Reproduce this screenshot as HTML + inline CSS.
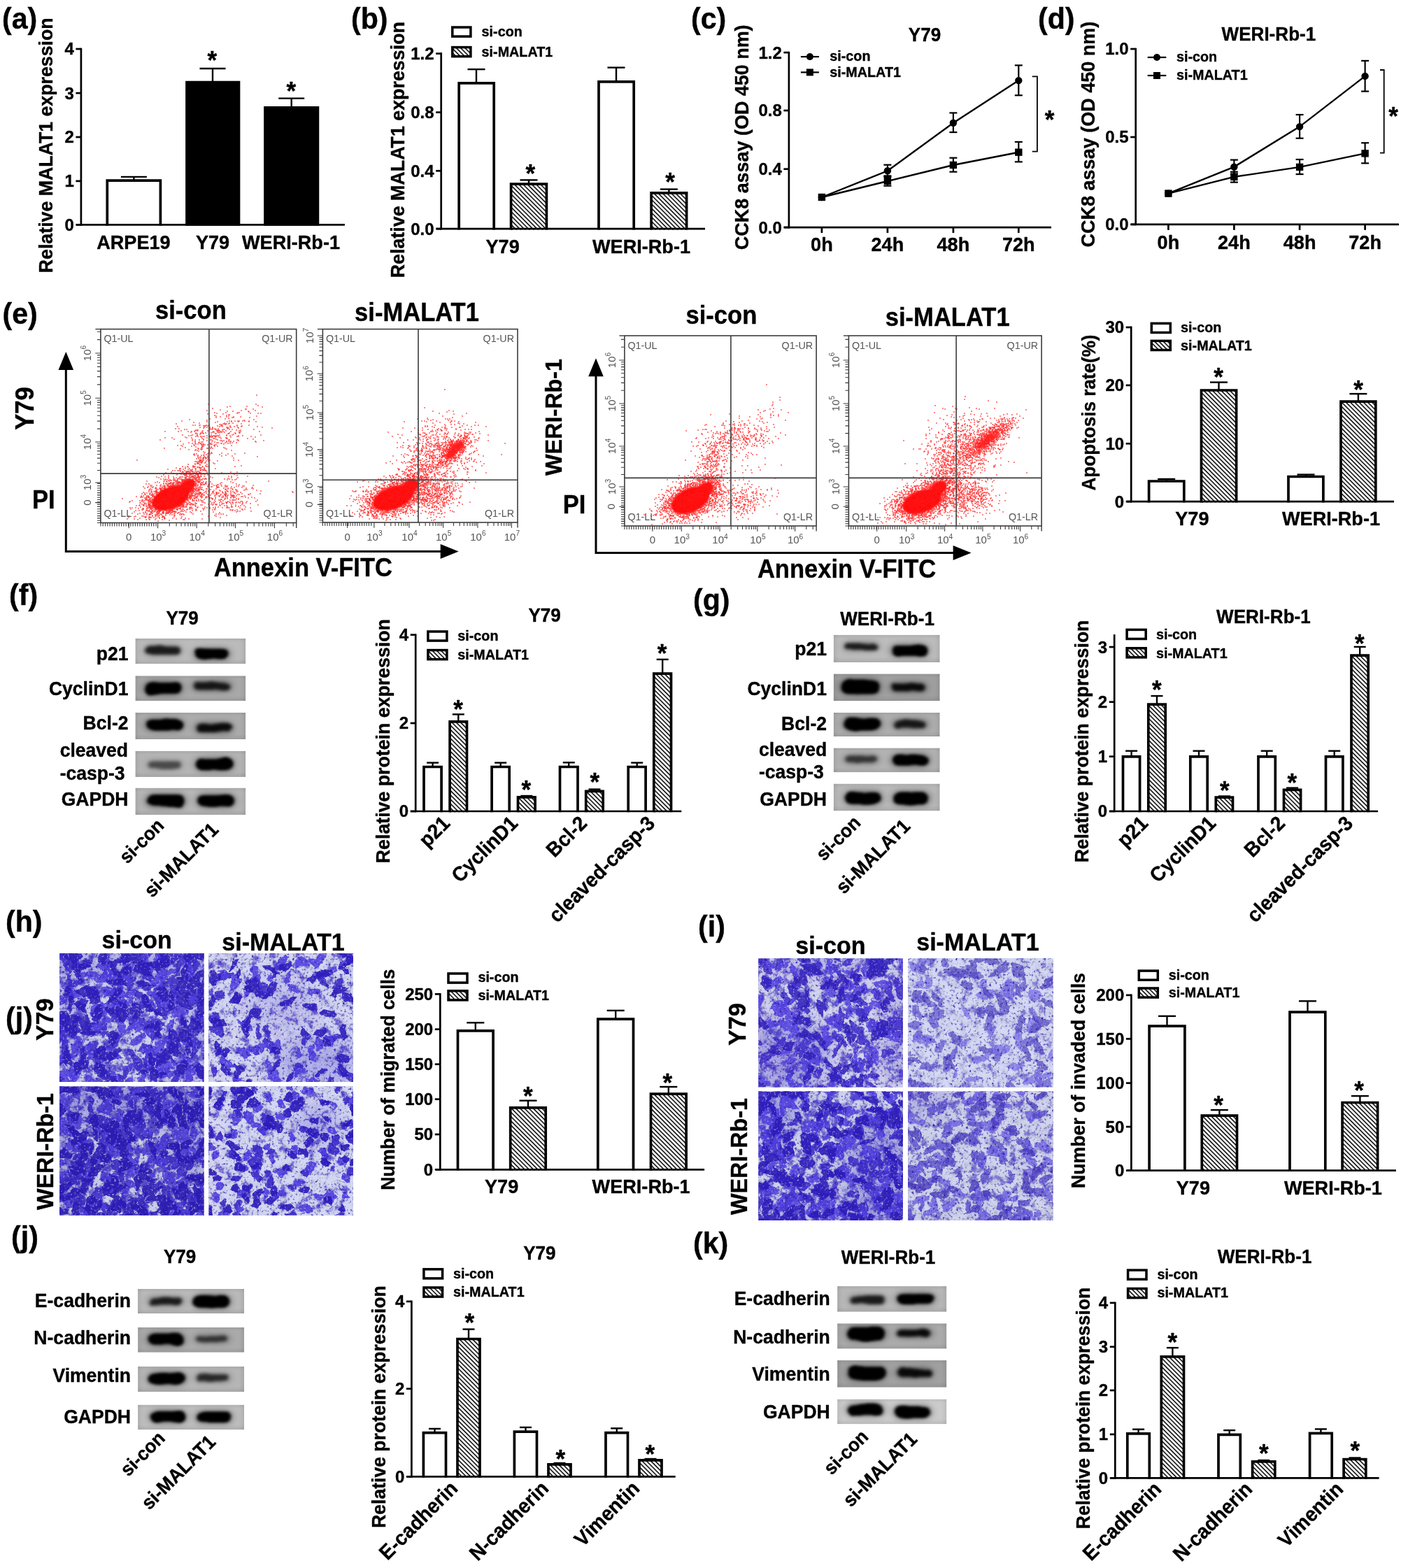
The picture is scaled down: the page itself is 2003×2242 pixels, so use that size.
<!DOCTYPE html>
<html lang="en"><head><meta charset="utf-8"><title>Figure</title>
<style>
html,body{margin:0;padding:0;background:#fff}
body{width:2003px;height:2242px;overflow:hidden}
svg{display:block}
text{font-family:"Liberation Sans",sans-serif;fill:#000}
.b{font-weight:bold;stroke:#000;stroke-width:.4px;stroke-linejoin:round}
.g{font-weight:normal;fill:#555}
</style></head><body>
<svg width="2003" height="2242" viewBox="0 0 2003 2242">
<defs>
<pattern id="hat" width="4.4" height="4.4" patternUnits="userSpaceOnUse" patternTransform="rotate(45)"><rect width="4.4" height="4.4" fill="#fff"/><rect x="0" y="0" width="4.4" height="1.5" fill="#000"/></pattern>
<pattern id="hatl" width="4.4" height="4.4" patternUnits="userSpaceOnUse" patternTransform="rotate(45)"><rect width="4.4" height="4.4" fill="#fff"/><rect x="0" y="0" width="4.4" height="1.5" fill="#000"/></pattern>
<filter id="wb" x="-30%" y="-80%" width="160%" height="260%"><feTurbulence type="fractalNoise" baseFrequency="0.035" numOctaves="2" seed="4" result="n"/><feDisplacementMap in="SourceGraphic" in2="n" scale="7" xChannelSelector="R" yChannelSelector="G"/><feGaussianBlur stdDeviation="2.6 2.1"/></filter><filter id="wb2" x="-40%" y="-120%" width="180%" height="340%"><feGaussianBlur stdDeviation="6 4.5"/></filter><filter id="wn" x="0" y="0" width="100%" height="100%" color-interpolation-filters="sRGB"><feTurbulence type="fractalNoise" baseFrequency="0.02 0.3" numOctaves="2" seed="8"/><feColorMatrix type="matrix" values="0 0 0 0 0  0 0 0 0 0  0 0 0 0 0  0.5 0 0 0 -0.17"/></filter><linearGradient id="wg" x1="0" x2="1" y1="0" y2="0"><stop offset="0" stop-color="#000" stop-opacity=".08"/><stop offset=".06" stop-color="#fff" stop-opacity=".03"/><stop offset=".5" stop-color="#fff" stop-opacity=".05"/><stop offset=".94" stop-color="#fff" stop-opacity=".03"/><stop offset="1" stop-color="#000" stop-opacity=".08"/></linearGradient><linearGradient id="wv" x1="0" x2="0" y1="0" y2="1"><stop offset="0" stop-color="#000" stop-opacity=".07"/><stop offset=".15" stop-color="#000" stop-opacity="0"/><stop offset=".8" stop-color="#000" stop-opacity="0"/><stop offset="1" stop-color="#000" stop-opacity=".09"/></linearGradient>
<filter id="msh" x="-30%" y="-30%" width="160%" height="160%"><feGaussianBlur stdDeviation="14"/></filter>
<filter id="mb" x="-5%" y="-5%" width="110%" height="110%" color-interpolation-filters="sRGB"><feTurbulence type="fractalNoise" baseFrequency="0.09" numOctaves="2" seed="5" result="n"/><feDisplacementMap in="SourceGraphic" in2="n" scale="9" xChannelSelector="R" yChannelSelector="G" result="d"/><feGaussianBlur in="d" stdDeviation="0.7"/></filter>
<filter id="sp" x="0" y="0" width="100%" height="100%" color-interpolation-filters="sRGB"><feTurbulence type="fractalNoise" baseFrequency="0.3" numOctaves="2" seed="9"/><feColorMatrix type="matrix" values="0 0 0 0 0.80  0 0 0 0 0.83  0 0 0 0 0.90  3.2 0 0 0 -1.95"/><feGaussianBlur stdDeviation="0.5"/></filter>
<filter id="sd" x="0" y="0" width="100%" height="100%" color-interpolation-filters="sRGB"><feTurbulence type="fractalNoise" baseFrequency="0.27" numOctaves="2" seed="21"/><feColorMatrix type="matrix" values="0 0 0 0 0.16  0 0 0 0 0.10  0 0 0 0 0.62  0 3.4 0 0 -1.95"/><feGaussianBlur stdDeviation="0.5"/></filter>
<filter id="h1" x="0" y="0" width="100%" height="100%" color-interpolation-filters="sRGB"><feTurbulence type="fractalNoise" baseFrequency="0.075" numOctaves="3" seed="3"/><feColorMatrix type="matrix" values="1 0 0 0 0 1 0 0 0 0 1 0 0 0 0 0 0 0 0 1" result="a"/><feTurbulence type="fractalNoise" baseFrequency="0.3" numOctaves="2" seed="103"/><feColorMatrix type="matrix" values="1 0 0 0 0 1 0 0 0 0 1 0 0 0 0 0 0 0 0 1" result="b"/><feComposite in="a" in2="b" operator="arithmetic" k1="0" k2="1" k3="0.3" k4="-0.15"/><feComponentTransfer><feFuncR type="table" tableValues="0.342 0.342 0.342 0.342 0.342 0.342 0.342 0.342 0.342 0.342 0.374 0.41 0.446 0.481 0.534 0.61 0.685 0.761 0.776 0.785 0.794 0.802 0.811 0.819 0.824 0.824 0.824 0.824 0.824 0.824 0.824 0.824 0.824"/><feFuncG type="table" tableValues="0.288 0.288 0.288 0.288 0.288 0.288 0.288 0.288 0.288 0.288 0.325 0.366 0.408 0.449 0.51 0.597 0.684 0.772 0.788 0.797 0.805 0.814 0.822 0.831 0.835 0.835 0.835 0.835 0.835 0.835 0.835 0.835 0.835"/><feFuncB type="table" tableValues="0.805 0.805 0.805 0.805 0.805 0.805 0.805 0.805 0.805 0.805 0.811 0.818 0.825 0.831 0.841 0.856 0.87 0.885 0.894 0.903 0.911 0.92 0.928 0.937 0.941 0.941 0.941 0.941 0.941 0.941 0.941 0.941 0.941"/></feComponentTransfer></filter>
<filter id="h2" x="0" y="0" width="100%" height="100%" color-interpolation-filters="sRGB"><feTurbulence type="fractalNoise" baseFrequency="0.075" numOctaves="3" seed="7"/><feColorMatrix type="matrix" values="1 0 0 0 0 1 0 0 0 0 1 0 0 0 0 0 0 0 0 1" result="a"/><feTurbulence type="fractalNoise" baseFrequency="0.3" numOctaves="2" seed="107"/><feColorMatrix type="matrix" values="1 0 0 0 0 1 0 0 0 0 1 0 0 0 0 0 0 0 0 1" result="b"/><feComposite in="a" in2="b" operator="arithmetic" k1="0" k2="1" k3="0.3" k4="-0.15"/><feComponentTransfer><feFuncR type="table" tableValues="0.345 0.345 0.345 0.345 0.345 0.345 0.347 0.384 0.421 0.458 0.494 0.555 0.633 0.711 0.785 0.793 0.802 0.811 0.819 0.828 0.836 0.839 0.839 0.839 0.839 0.839 0.839 0.839 0.839 0.839 0.839 0.839 0.839"/><feFuncG type="table" tableValues="0.29 0.29 0.29 0.29 0.29 0.29 0.293 0.335 0.377 0.419 0.461 0.53 0.619 0.709 0.793 0.801 0.81 0.818 0.827 0.836 0.844 0.847 0.847 0.847 0.847 0.847 0.847 0.847 0.847 0.847 0.847 0.847 0.847"/><feFuncB type="table" tableValues="0.814 0.814 0.814 0.814 0.814 0.814 0.815 0.822 0.829 0.837 0.844 0.856 0.872 0.887 0.902 0.911 0.92 0.928 0.937 0.945 0.954 0.957 0.957 0.957 0.957 0.957 0.957 0.957 0.957 0.957 0.957 0.957 0.957"/></feComponentTransfer></filter>
<filter id="h3" x="0" y="0" width="100%" height="100%" color-interpolation-filters="sRGB"><feTurbulence type="fractalNoise" baseFrequency="0.075" numOctaves="3" seed="11"/><feColorMatrix type="matrix" values="1 0 0 0 0 1 0 0 0 0 1 0 0 0 0 0 0 0 0 1" result="a"/><feTurbulence type="fractalNoise" baseFrequency="0.3" numOctaves="2" seed="111"/><feColorMatrix type="matrix" values="1 0 0 0 0 1 0 0 0 0 1 0 0 0 0 0 0 0 0 1" result="b"/><feComposite in="a" in2="b" operator="arithmetic" k1="0" k2="1" k3="0.3" k4="-0.15"/><feComponentTransfer><feFuncR type="table" tableValues="0.326 0.326 0.326 0.326 0.326 0.326 0.326 0.326 0.326 0.326 0.341 0.376 0.412 0.448 0.483 0.556 0.632 0.707 0.756 0.765 0.774 0.782 0.791 0.799 0.808 0.808 0.808 0.808 0.808 0.808 0.808 0.808 0.808"/><feFuncG type="table" tableValues="0.278 0.278 0.278 0.278 0.278 0.278 0.278 0.278 0.278 0.278 0.295 0.335 0.376 0.417 0.458 0.54 0.627 0.713 0.768 0.777 0.785 0.794 0.802 0.811 0.82 0.82 0.82 0.82 0.82 0.82 0.82 0.82 0.82"/><feFuncB type="table" tableValues="0.776 0.776 0.776 0.776 0.776 0.776 0.776 0.776 0.776 0.776 0.78 0.788 0.795 0.803 0.811 0.827 0.844 0.861 0.874 0.883 0.891 0.9 0.908 0.917 0.925 0.925 0.925 0.925 0.925 0.925 0.925 0.925 0.925"/></feComponentTransfer></filter>
<filter id="h4" x="0" y="0" width="100%" height="100%" color-interpolation-filters="sRGB"><feTurbulence type="fractalNoise" baseFrequency="0.075" numOctaves="3" seed="17"/><feColorMatrix type="matrix" values="1 0 0 0 0 1 0 0 0 0 1 0 0 0 0 0 0 0 0 1" result="a"/><feTurbulence type="fractalNoise" baseFrequency="0.3" numOctaves="2" seed="117"/><feColorMatrix type="matrix" values="1 0 0 0 0 1 0 0 0 0 1 0 0 0 0 0 0 0 0 1" result="b"/><feComposite in="a" in2="b" operator="arithmetic" k1="0" k2="1" k3="0.3" k4="-0.15"/><feComponentTransfer><feFuncR type="table" tableValues="0.339 0.339 0.339 0.339 0.339 0.339 0.359 0.396 0.434 0.471 0.511 0.59 0.669 0.748 0.789 0.798 0.806 0.815 0.823 0.832 0.839 0.839 0.839 0.839 0.839 0.839 0.839 0.839 0.839 0.839 0.839 0.839 0.839"/><feFuncG type="table" tableValues="0.284 0.284 0.284 0.284 0.284 0.284 0.307 0.35 0.392 0.435 0.48 0.571 0.661 0.751 0.797 0.805 0.814 0.823 0.831 0.84 0.847 0.847 0.847 0.847 0.847 0.847 0.847 0.847 0.847 0.847 0.847 0.847 0.847"/><feFuncB type="table" tableValues="0.814 0.814 0.814 0.814 0.814 0.814 0.818 0.825 0.833 0.84 0.848 0.864 0.879 0.895 0.907 0.915 0.924 0.932 0.941 0.95 0.957 0.957 0.957 0.957 0.957 0.957 0.957 0.957 0.957 0.957 0.957 0.957 0.957"/></feComponentTransfer></filter>
<filter id="i1" x="0" y="0" width="100%" height="100%" color-interpolation-filters="sRGB"><feTurbulence type="fractalNoise" baseFrequency="0.075" numOctaves="3" seed="23"/><feColorMatrix type="matrix" values="1 0 0 0 0 1 0 0 0 0 1 0 0 0 0 0 0 0 0 1" result="a"/><feTurbulence type="fractalNoise" baseFrequency="0.3" numOctaves="2" seed="123"/><feColorMatrix type="matrix" values="1 0 0 0 0 1 0 0 0 0 1 0 0 0 0 0 0 0 0 1" result="b"/><feComposite in="a" in2="b" operator="arithmetic" k1="0" k2="1" k3="0.3" k4="-0.15"/><feComponentTransfer><feFuncR type="table" tableValues="0.358 0.358 0.358 0.358 0.358 0.358 0.358 0.358 0.358 0.38 0.416 0.451 0.487 0.528 0.604 0.68 0.756 0.79 0.798 0.807 0.815 0.824 0.833 0.839 0.839 0.839 0.839 0.839 0.839 0.839 0.839 0.839 0.839"/><feFuncG type="table" tableValues="0.303 0.303 0.303 0.303 0.303 0.303 0.303 0.303 0.303 0.328 0.369 0.41 0.451 0.499 0.586 0.672 0.759 0.797 0.806 0.815 0.823 0.832 0.84 0.847 0.847 0.847 0.847 0.847 0.847 0.847 0.847 0.847 0.847"/><feFuncB type="table" tableValues="0.813 0.813 0.813 0.813 0.813 0.813 0.813 0.813 0.813 0.817 0.824 0.83 0.837 0.845 0.86 0.874 0.889 0.899 0.908 0.917 0.925 0.934 0.942 0.949 0.949 0.949 0.949 0.949 0.949 0.949 0.949 0.949 0.949"/></feComponentTransfer></filter>
<filter id="i2" x="0" y="0" width="100%" height="100%" color-interpolation-filters="sRGB"><feTurbulence type="fractalNoise" baseFrequency="0.075" numOctaves="3" seed="29"/><feColorMatrix type="matrix" values="1 0 0 0 0 1 0 0 0 0 1 0 0 0 0 0 0 0 0 1" result="a"/><feTurbulence type="fractalNoise" baseFrequency="0.3" numOctaves="2" seed="129"/><feColorMatrix type="matrix" values="1 0 0 0 0 1 0 0 0 0 1 0 0 0 0 0 0 0 0 1" result="b"/><feComposite in="a" in2="b" operator="arithmetic" k1="0" k2="1" k3="0.3" k4="-0.15"/><feComponentTransfer><feFuncR type="table" tableValues="0.471 0.471 0.471 0.471 0.471 0.471 0.49 0.516 0.542 0.568 0.602 0.657 0.713 0.769 0.791 0.799 0.808 0.816 0.825 0.833 0.839 0.839 0.839 0.839 0.839 0.839 0.839 0.839 0.839 0.839 0.839 0.839 0.839"/><feFuncG type="table" tableValues="0.435 0.435 0.435 0.435 0.435 0.435 0.457 0.487 0.517 0.548 0.586 0.65 0.714 0.778 0.802 0.811 0.819 0.828 0.837 0.845 0.851 0.851 0.851 0.851 0.851 0.851 0.851 0.851 0.851 0.851 0.851 0.851 0.851"/><feFuncB type="table" tableValues="0.833 0.833 0.833 0.833 0.833 0.833 0.837 0.843 0.849 0.854 0.862 0.874 0.886 0.899 0.908 0.917 0.925 0.934 0.942 0.951 0.957 0.957 0.957 0.957 0.957 0.957 0.957 0.957 0.957 0.957 0.957 0.957 0.957"/></feComponentTransfer></filter>
<filter id="i3" x="0" y="0" width="100%" height="100%" color-interpolation-filters="sRGB"><feTurbulence type="fractalNoise" baseFrequency="0.075" numOctaves="3" seed="31"/><feColorMatrix type="matrix" values="1 0 0 0 0 1 0 0 0 0 1 0 0 0 0 0 0 0 0 1" result="a"/><feTurbulence type="fractalNoise" baseFrequency="0.3" numOctaves="2" seed="131"/><feColorMatrix type="matrix" values="1 0 0 0 0 1 0 0 0 0 1 0 0 0 0 0 0 0 0 1" result="b"/><feComposite in="a" in2="b" operator="arithmetic" k1="0" k2="1" k3="0.3" k4="-0.15"/><feComponentTransfer><feFuncR type="table" tableValues="0.342 0.342 0.342 0.342 0.342 0.342 0.342 0.342 0.342 0.342 0.378 0.414 0.449 0.485 0.542 0.617 0.693 0.769 0.777 0.786 0.794 0.803 0.812 0.82 0.824 0.824 0.824 0.824 0.824 0.824 0.824 0.824 0.824"/><feFuncG type="table" tableValues="0.288 0.288 0.288 0.288 0.288 0.288 0.288 0.288 0.288 0.288 0.329 0.37 0.412 0.453 0.518 0.606 0.693 0.78 0.789 0.798 0.806 0.815 0.823 0.832 0.835 0.835 0.835 0.835 0.835 0.835 0.835 0.835 0.835"/><feFuncB type="table" tableValues="0.805 0.805 0.805 0.805 0.805 0.805 0.805 0.805 0.805 0.805 0.812 0.818 0.825 0.832 0.843 0.857 0.872 0.886 0.895 0.903 0.912 0.921 0.929 0.938 0.941 0.941 0.941 0.941 0.941 0.941 0.941 0.941 0.941"/></feComponentTransfer></filter>
<filter id="i4" x="0" y="0" width="100%" height="100%" color-interpolation-filters="sRGB"><feTurbulence type="fractalNoise" baseFrequency="0.075" numOctaves="3" seed="37"/><feColorMatrix type="matrix" values="1 0 0 0 0 1 0 0 0 0 1 0 0 0 0 0 0 0 0 1" result="a"/><feTurbulence type="fractalNoise" baseFrequency="0.3" numOctaves="2" seed="137"/><feColorMatrix type="matrix" values="1 0 0 0 0 1 0 0 0 0 1 0 0 0 0 0 0 0 0 1" result="b"/><feComposite in="a" in2="b" operator="arithmetic" k1="0" k2="1" k3="0.3" k4="-0.15"/><feComponentTransfer><feFuncR type="table" tableValues="0.424 0.424 0.424 0.424 0.424 0.424 0.424 0.446 0.475 0.503 0.532 0.57 0.632 0.693 0.754 0.775 0.784 0.792 0.801 0.81 0.818 0.824 0.824 0.824 0.824 0.824 0.824 0.824 0.824 0.824 0.824 0.824 0.824"/><feFuncG type="table" tableValues="0.382 0.382 0.382 0.382 0.382 0.382 0.382 0.408 0.441 0.474 0.508 0.552 0.622 0.693 0.764 0.787 0.796 0.804 0.813 0.821 0.83 0.835 0.835 0.835 0.835 0.835 0.835 0.835 0.835 0.835 0.835 0.835 0.835"/><feFuncB type="table" tableValues="0.809 0.809 0.809 0.809 0.809 0.809 0.809 0.814 0.82 0.825 0.831 0.839 0.851 0.863 0.876 0.885 0.894 0.902 0.911 0.919 0.928 0.933 0.933 0.933 0.933 0.933 0.933 0.933 0.933 0.933 0.933 0.933 0.933"/></feComponentTransfer></filter>
<filter id="fb" x="-20%" y="-20%" width="140%" height="140%"><feGaussianBlur stdDeviation="1.3"/></filter></defs>
<rect width="2003" height="2242" fill="#fff"/>
<clipPath id="m1"><rect x="85.1" y="1363.2" width="206.4" height="183.8"/></clipPath>
<rect x="85.1" y="1363.2" width="206.4" height="183.8" fill="#8080d0" filter="url(#h1)"/>
<g clip-path="url(#m1)" filter="url(#msh)">
<ellipse cx="188.3" cy="1372.4" rx="123.8" ry="22.1" fill="rgb(60,42,200)" fill-opacity="0.25"/>
<ellipse cx="95.4" cy="1455.1" rx="20.6" ry="91.9" fill="rgb(60,42,200)" fill-opacity="0.2"/>
<ellipse cx="281.2" cy="1455.1" rx="20.6" ry="91.9" fill="rgb(60,42,200)" fill-opacity="0.2"/>
</g>
<g clip-path="url(#m1)"><g filter="url(#mb)">
<path d="M102 1415L98 1411L95 1403L95 1394L99 1392L103 1400L104 1412zM139 1511L137 1505L142 1496L148 1493L151 1496L151 1503L146 1509zM194 1442L197 1435L203 1430L209 1430L209 1436L200 1443zM86 1434L88 1427L101 1424L101 1428L91 1434zM226 1442L222 1435L222 1423L229 1417L232 1421L233 1436zM169 1440L164 1441L158 1432L158 1422L162 1421L168 1429L171 1436zM93 1483L84 1477L88 1461L97 1462L98 1478zM232 1459L233 1449L238 1437L244 1435L248 1438L238 1455zM78 1491L81 1485L92 1480L92 1483L84 1492zM203 1502L208 1493L219 1494L217 1502L204 1507zM95 1516L94 1506L103 1504L109 1510L102 1517zM152 1519L155 1514L160 1509L167 1507L173 1508L165 1515L157 1520zM301 1460L301 1464L285 1465L272 1460L273 1453L285 1451L300 1455zM164 1554L156 1555L146 1552L143 1547L145 1545L152 1545L159 1549zM126 1478L110 1478L95 1470L101 1469L113 1470zM238 1381L241 1373L261 1360L261 1366L248 1378zM92 1510L87 1502L89 1485L94 1481L99 1490L98 1501zM279 1531L272 1532L258 1524L258 1520L264 1516L276 1521zM234 1375L227 1374L222 1368L222 1362L230 1364L235 1370zM168 1462L159 1457L156 1446L161 1441L168 1446L171 1451zM275 1481L275 1474L279 1467L286 1462L288 1467L287 1476L280 1482zM202 1390L197 1381L200 1364L208 1363L212 1366L208 1388zM276 1396L273 1389L272 1383L276 1370L280 1374L283 1380L280 1391zM286 1380L275 1385L264 1379L258 1370L268 1367L282 1373zM157 1475L150 1477L144 1479L136 1476L135 1472L141 1471L154 1472zM272 1515L272 1506L276 1497L283 1499L281 1507zM227 1383L229 1374L238 1367L242 1371L237 1381zM259 1365L262 1360L270 1358L276 1358L271 1365L265 1367zM271 1393L266 1387L263 1382L261 1374L264 1371L271 1380L274 1388zM253 1502L250 1495L251 1487L253 1481L257 1483L257 1497zM215 1491L215 1484L226 1471L233 1472L226 1483zM171 1554L165 1555L161 1546L161 1541L169 1540L174 1544L175 1549zM224 1505L215 1506L198 1501L203 1490L215 1493zM132 1468L132 1456L143 1445L149 1448L137 1467zM207 1518L207 1509L210 1502L219 1506L216 1517zM93 1479L89 1475L90 1465L96 1461L100 1464L98 1477zM255 1427L248 1427L242 1409L245 1399L252 1403L258 1419zM146 1561L150 1551L168 1540L170 1546L161 1556zM154 1433L156 1427L166 1421L168 1427L164 1434zM280 1471L282 1465L290 1461L298 1460L297 1465L292 1469L283 1473zM204 1415L204 1412L215 1405L221 1405L223 1410L216 1416L209 1417zM253 1395L249 1389L254 1374L263 1368L257 1394zM244 1534L235 1539L223 1538L216 1536L217 1529L224 1527L240 1529zM78 1476L85 1469L101 1467L101 1471L90 1477zM128 1531L134 1524L148 1520L153 1521L147 1530L137 1531zM162 1494L161 1489L165 1479L169 1482L168 1491zM147 1426L159 1415L173 1410L179 1413L156 1425zM286 1422L276 1430L263 1426L264 1416L276 1415zM264 1402L253 1406L242 1404L244 1396L255 1397zM221 1447L224 1441L233 1439L243 1439L245 1443L235 1449L222 1451zM73 1523L79 1516L88 1509L101 1505L103 1507L92 1519L79 1525zM201 1530L195 1530L187 1513L184 1499L190 1501L198 1510L204 1525zM113 1483L105 1485L91 1484L85 1478L93 1474L107 1477zM217 1421L222 1412L233 1402L238 1405L228 1417zM220 1445L230 1440L247 1437L249 1441L228 1450zM107 1435L101 1432L92 1416L95 1410L103 1418L106 1424zM74 1485L78 1479L90 1473L96 1474L93 1482L83 1486zM282 1440L278 1434L285 1421L290 1422L292 1431L289 1437zM246 1554L245 1545L251 1532L258 1535L254 1551zM96 1375L89 1375L84 1371L77 1362L80 1360L89 1363L95 1369zM221 1533L213 1530L206 1525L201 1515L205 1512L215 1517L224 1528zM256 1374L258 1367L266 1361L273 1361L274 1366L268 1373L263 1376zM259 1368L253 1371L241 1367L236 1363L237 1359L248 1360L258 1363zM190 1415L184 1415L176 1405L173 1395L178 1393L186 1399L189 1406zM293 1428L287 1423L285 1416L286 1411L291 1413L296 1423zM107 1473L102 1466L107 1452L113 1451L113 1468zM153 1501L155 1493L160 1485L172 1479L176 1482L170 1492L163 1501zM167 1448L160 1453L152 1450L153 1443L163 1444zM237 1464L231 1469L214 1467L204 1462L209 1460L216 1457L226 1458zM139 1429L126 1427L121 1416L129 1410L141 1422zM232 1416L236 1404L252 1390L254 1393L246 1407zM277 1507L273 1506L275 1493L282 1489L288 1488L287 1498L284 1507zM116 1446L113 1438L118 1424L125 1429L123 1442zM139 1458L135 1446L142 1437L147 1438L147 1453zM278 1501L270 1495L269 1481L272 1477L278 1482L280 1490zM214 1405L205 1400L206 1382L210 1380L218 1396zM303 1566L292 1556L287 1539L290 1538L299 1548zM152 1406L146 1396L150 1383L155 1382L161 1389L158 1403zM144 1537L145 1530L151 1529L158 1530L161 1533L154 1539L147 1539zM121 1510L125 1495L137 1487L141 1492L134 1508zM182 1447L177 1445L173 1428L176 1427L182 1438zM96 1529L92 1523L89 1515L90 1507L95 1512L97 1520zM172 1557L166 1554L163 1540L171 1535L176 1541L179 1548zM131 1516L135 1508L149 1511L151 1515L138 1523zM250 1506L243 1505L237 1493L234 1481L242 1486L251 1496zM112 1378L103 1376L102 1370L107 1367L114 1374zM212 1468L206 1469L197 1465L196 1459L200 1453L206 1456L210 1461zM103 1391L112 1382L124 1374L128 1378L123 1386L114 1391zM203 1473L204 1467L208 1463L215 1461L218 1465L216 1468L207 1475zM177 1407L177 1398L188 1393L194 1400L184 1407zM145 1482L142 1475L145 1467L150 1457L153 1457L152 1470L150 1475zM221 1364L216 1367L203 1359L207 1354L215 1357zM174 1440L166 1440L156 1433L158 1428L163 1425L173 1433zM147 1420L150 1414L160 1413L164 1418L160 1425L153 1425zM213 1388L208 1385L208 1375L214 1376L216 1383zM278 1437L273 1435L273 1423L276 1419L281 1419L284 1425L283 1433zM166 1404L168 1395L182 1387L188 1391L178 1401zM215 1437L202 1431L188 1416L194 1414L208 1424zM202 1459L197 1465L187 1462L185 1456L194 1452zM172 1545L172 1539L178 1529L188 1521L190 1522L186 1533L179 1543zM101 1394L93 1388L89 1376L91 1367L99 1370L105 1383zM101 1414L101 1408L110 1400L117 1397L121 1399L114 1407L105 1413z" fill="rgb(60,42,200)" fill-opacity="0.88"/>
<path d="M149 1473L138 1474L128 1470L127 1462L141 1465zM176 1514L165 1515L155 1509L148 1498L157 1498L172 1507zM194 1476L192 1472L196 1459L202 1458L206 1463L203 1473zM272 1551L264 1547L263 1538L271 1538L276 1546zM173 1483L169 1467L172 1456L179 1459L179 1472zM146 1405L138 1406L129 1396L129 1390L135 1389L149 1398zM235 1518L227 1519L213 1506L211 1501L219 1500L232 1509zM98 1552L101 1539L113 1530L118 1532L111 1544zM179 1414L169 1411L160 1398L164 1398L173 1404zM176 1477L179 1470L186 1463L197 1463L195 1470L186 1475zM167 1399L156 1403L148 1398L149 1392L163 1391zM98 1421L101 1416L112 1417L115 1425L106 1428zM105 1516L102 1506L104 1491L111 1489L112 1503zM183 1405L179 1397L181 1384L188 1384L187 1399zM109 1398L119 1391L133 1389L138 1393L123 1398zM118 1490L113 1491L107 1489L102 1483L106 1480L110 1481L118 1486zM87 1559L80 1553L81 1540L87 1536L92 1555zM92 1535L95 1531L105 1528L110 1532L107 1538L98 1540zM161 1424L153 1424L147 1421L143 1412L154 1410L161 1414zM144 1558L137 1557L123 1545L118 1536L126 1536L141 1547zM126 1529L118 1524L113 1516L111 1504L120 1507L126 1518zM170 1553L166 1552L157 1545L155 1536L159 1529L167 1537L173 1545zM263 1520L260 1523L249 1522L244 1517L249 1515L259 1517zM291 1458L283 1458L279 1454L278 1447L286 1446L290 1451zM231 1426L224 1430L209 1423L213 1417L226 1419zM199 1472L211 1465L220 1464L232 1468L222 1476L205 1476zM269 1556L264 1552L263 1547L264 1538L270 1541L274 1544L272 1553zM263 1535L267 1529L276 1529L281 1535L270 1541zM298 1543L291 1541L283 1533L278 1525L278 1520L288 1526L295 1535zM232 1516L228 1512L231 1506L238 1502L241 1508L243 1514L238 1517zM210 1373L203 1368L202 1362L207 1354L210 1351L215 1360L214 1368zM181 1387L173 1377L171 1362L181 1360L184 1376zM221 1401L220 1394L228 1387L235 1387L235 1394L228 1399zM78 1526L80 1514L84 1507L93 1500L92 1511L85 1521zM255 1433L245 1434L237 1427L237 1421L244 1421L252 1425zM175 1403L174 1394L178 1383L183 1387L180 1399zM98 1536L94 1540L79 1539L75 1534L79 1530L93 1530zM292 1505L289 1494L291 1485L295 1483L296 1493zM216 1482L212 1474L211 1466L213 1454L217 1455L221 1459L221 1480zM271 1526L272 1521L279 1519L285 1521L288 1528L284 1532L271 1531zM195 1439L189 1439L181 1431L186 1426L196 1434zM185 1427L178 1427L169 1422L168 1415L173 1413L184 1422zM158 1436L164 1428L182 1432L186 1438L167 1440zM173 1446L162 1449L152 1447L142 1438L147 1434L158 1434L168 1439zM202 1391L206 1386L220 1381L223 1385L211 1392zM212 1527L210 1520L222 1500L229 1502L221 1524zM234 1406L232 1410L223 1412L220 1406L221 1402L232 1403zM75 1435L79 1424L89 1423L94 1428L86 1436zM141 1482L136 1482L126 1477L122 1467L122 1462L133 1464L139 1473zM181 1397L178 1393L180 1384L186 1376L192 1377L191 1387L187 1393zM186 1459L177 1456L168 1444L171 1439L187 1451zM222 1498L220 1490L230 1486L238 1485L241 1489L235 1499L228 1502zM214 1519L207 1513L208 1501L214 1496L217 1515zM156 1447L160 1442L166 1438L172 1439L173 1442L162 1447zM161 1400L152 1397L146 1384L149 1382L161 1390zM252 1524L242 1528L228 1529L222 1523L228 1516L242 1519zM119 1424L110 1425L97 1422L92 1417L88 1410L100 1410L112 1416zM226 1541L232 1535L238 1531L249 1530L250 1534L245 1540L234 1542zM249 1459L247 1448L252 1439L259 1438L259 1451zM273 1518L267 1521L260 1517L259 1512L265 1509L270 1511zM188 1430L184 1427L189 1418L193 1414L196 1421L192 1429zM203 1503L206 1498L216 1494L221 1495L222 1498L208 1506zM175 1559L177 1551L182 1543L190 1540L191 1547L183 1559zM227 1441L228 1427L237 1416L247 1418L246 1426L239 1438zM279 1393L267 1385L261 1376L261 1370L274 1381zM137 1459L132 1456L130 1443L134 1433L139 1439L142 1442L141 1455zM243 1485L237 1474L241 1457L248 1458L249 1471zM118 1504L120 1495L131 1490L135 1495L127 1503zM231 1408L225 1399L227 1388L236 1384L238 1401zM180 1431L172 1434L162 1429L153 1419L155 1416L164 1416L174 1423zM125 1516L128 1507L134 1501L138 1504L132 1515zM237 1503L230 1505L221 1502L221 1498L226 1493L234 1495zM270 1405L265 1399L270 1390L275 1391L278 1394L275 1404zM73 1454L83 1451L94 1449L98 1452L102 1459L90 1463L78 1460zM136 1478L135 1473L144 1461L149 1463L146 1474zM279 1488L278 1494L264 1494L259 1491L257 1486L264 1484L275 1484zM237 1396L237 1390L246 1384L254 1383L252 1387L243 1395zM97 1553L86 1550L75 1541L72 1534L73 1529L86 1535L95 1544zM107 1516L102 1512L103 1506L106 1502L110 1502L111 1508L110 1513zM211 1405L214 1400L224 1393L231 1395L231 1400L219 1408zM175 1529L180 1523L187 1520L194 1521L190 1527L180 1530zM283 1431L272 1434L263 1429L266 1424L273 1423zM283 1373L291 1360L302 1354L307 1357L295 1369zM101 1548L95 1550L79 1541L75 1533L81 1529L95 1536zM221 1481L215 1484L210 1482L204 1475L203 1471L214 1472L220 1473zM199 1557L196 1548L199 1539L206 1536L209 1539L206 1551zM234 1489L236 1481L246 1479L256 1483L253 1488L242 1492zM152 1458L147 1454L142 1435L144 1429L148 1434L153 1451zM112 1532L106 1533L101 1524L105 1518L112 1525zM224 1387L219 1372L228 1357L233 1359L231 1377zM215 1448L208 1440L208 1432L215 1429L221 1433L222 1441zM250 1537L241 1543L230 1538L218 1532L227 1528L232 1527L243 1532zM211 1468L210 1461L215 1451L225 1455L218 1468zM185 1494L186 1489L196 1480L203 1479L208 1483L200 1491L192 1494zM137 1382L143 1375L150 1373L159 1374L162 1379L154 1385L142 1386zM231 1422L234 1419L242 1417L249 1420L246 1424L235 1427zM145 1406L146 1397L155 1380L162 1380L162 1388L157 1400zM161 1458L160 1463L148 1464L145 1459L151 1454L159 1455zM295 1457L284 1458L276 1446L281 1442L290 1448zM267 1451L259 1450L252 1439L250 1433L262 1436L268 1444z" fill="rgb(82,64,222)" fill-opacity="0.88"/>
<path d="M78 1557L74 1551L80 1539L89 1539L88 1549zM290 1414L282 1412L271 1402L279 1400L287 1404zM168 1461L166 1450L170 1439L174 1437L174 1452zM104 1483L98 1482L91 1473L87 1466L92 1463L103 1469L104 1475zM112 1531L114 1525L121 1516L129 1514L125 1524L120 1529zM244 1445L240 1438L241 1427L244 1415L248 1419L249 1427L248 1444zM118 1403L111 1400L106 1390L108 1386L114 1384L118 1394zM186 1449L182 1446L189 1433L195 1433L197 1437L192 1448zM137 1415L131 1420L120 1418L118 1412L122 1407L136 1411zM87 1455L87 1452L106 1450L115 1453L111 1457L106 1461L94 1460zM81 1465L81 1456L85 1447L94 1444L97 1453L91 1461zM234 1384L227 1389L217 1386L210 1380L220 1375L231 1377zM252 1518L241 1516L226 1507L234 1505L244 1509zM214 1543L214 1538L221 1530L227 1527L227 1535L219 1543zM176 1445L170 1450L155 1449L147 1442L155 1440L166 1439zM269 1510L263 1501L267 1490L273 1490L272 1504zM191 1535L201 1530L210 1529L214 1532L210 1536L201 1537zM134 1508L136 1500L148 1495L153 1496L151 1502L142 1508zM262 1429L254 1416L254 1397L263 1397L266 1419zM143 1433L138 1437L127 1432L128 1422L135 1421L143 1426zM118 1469L114 1466L113 1460L115 1454L119 1453L122 1461L122 1465zM288 1473L281 1472L274 1471L272 1462L274 1456L282 1459L289 1464zM169 1378L171 1370L183 1361L192 1358L193 1365L191 1372L176 1380zM150 1379L163 1372L177 1369L178 1376L163 1383zM296 1421L287 1423L269 1414L274 1411L293 1416zM269 1479L264 1474L258 1463L258 1452L261 1449L268 1463L271 1477zM129 1381L120 1386L106 1387L100 1381L105 1378L123 1378zM215 1408L208 1413L197 1411L192 1406L195 1403L210 1405zM221 1543L221 1538L234 1532L237 1536L229 1543zM119 1476L114 1467L118 1460L127 1459L125 1471zM120 1419L118 1421L111 1421L107 1416L106 1414L112 1414L119 1414zM291 1417L288 1410L289 1397L293 1386L295 1387L298 1397L294 1410zM241 1487L239 1481L241 1473L251 1472L254 1478L250 1486zM134 1374L129 1378L118 1374L122 1369L133 1371zM147 1404L154 1400L176 1399L183 1405L164 1408zM184 1451L178 1454L172 1449L167 1440L173 1439L179 1441L183 1446zM275 1407L275 1400L283 1389L290 1386L295 1387L289 1397L281 1405zM234 1452L227 1452L215 1445L220 1442L232 1446zM104 1384L100 1373L102 1363L109 1355L113 1357L110 1373zM205 1474L210 1465L224 1460L229 1463L227 1468L211 1474zM234 1371L229 1370L227 1363L229 1360L232 1357L236 1363L236 1368zM123 1449L113 1444L106 1434L112 1430L124 1440zM120 1527L115 1525L113 1510L114 1499L120 1498L125 1512L125 1521zM115 1370L110 1373L97 1373L87 1363L92 1360L101 1359L114 1365zM244 1424L236 1427L230 1418L228 1412L236 1412L242 1417zM189 1457L191 1448L198 1440L205 1446L197 1457zM93 1525L89 1520L90 1510L96 1494L98 1500L100 1508L97 1521zM174 1392L176 1385L182 1381L188 1382L188 1391L181 1395zM262 1412L260 1409L261 1399L265 1395L269 1392L270 1402L266 1412zM107 1483L104 1478L102 1470L102 1464L105 1461L110 1470L109 1478zM159 1493L155 1491L155 1484L160 1478L167 1480L168 1484L165 1491zM231 1517L231 1511L232 1504L238 1500L245 1501L244 1508L239 1514zM191 1387L194 1380L209 1375L216 1376L212 1384L201 1391zM181 1441L174 1440L165 1432L164 1425L178 1435zM128 1475L123 1471L119 1451L125 1450L133 1468zM102 1525L95 1521L92 1514L88 1501L91 1501L99 1504L105 1516zM156 1519L152 1516L164 1500L169 1498L174 1499L168 1510L161 1517zM223 1511L223 1508L230 1504L238 1506L240 1509L236 1511L226 1513zM281 1458L281 1449L282 1440L289 1433L294 1431L295 1447L289 1454zM245 1420L239 1421L224 1415L226 1410L242 1415zM215 1394L206 1394L195 1388L192 1378L204 1377L212 1384zM209 1377L205 1379L191 1377L186 1373L182 1368L196 1369L205 1374zM128 1436L128 1427L143 1415L143 1419L135 1432zM107 1360L99 1366L91 1365L87 1360L93 1353L100 1354zM279 1439L272 1443L261 1440L251 1433L256 1430L262 1428L272 1433zM254 1511L246 1508L242 1498L244 1485L254 1493L256 1508zM306 1443L295 1442L285 1435L279 1425L291 1426L298 1431zM151 1540L145 1539L138 1527L138 1520L143 1519L149 1523L153 1531zM220 1530L214 1523L210 1507L216 1504L222 1518zM149 1383L140 1375L141 1362L144 1359L151 1358L154 1374zM223 1523L223 1517L234 1511L242 1512L243 1516L227 1525zM228 1428L228 1421L231 1412L234 1406L237 1409L238 1417L235 1422zM230 1483L223 1482L217 1469L220 1463L228 1469L231 1478zM275 1497L267 1492L263 1484L260 1472L266 1473L274 1480L274 1485zM267 1484L262 1487L255 1488L253 1485L251 1479L257 1476L264 1478zM250 1537L248 1531L256 1522L261 1516L266 1518L260 1529L254 1534zM171 1482L167 1487L153 1483L150 1478L159 1475L170 1476zM99 1447L96 1443L98 1429L104 1422L106 1429L104 1446zM118 1367L111 1370L105 1371L101 1365L106 1361L112 1363zM107 1533L103 1526L109 1517L120 1514L122 1523L112 1536zM114 1479L119 1473L131 1473L143 1477L136 1481L124 1483zM162 1510L156 1514L144 1514L133 1509L142 1505L156 1505zM268 1383L265 1376L263 1370L266 1360L269 1360L271 1371L271 1377zM189 1368L189 1361L200 1355L202 1362L198 1371zM255 1535L253 1531L259 1520L269 1519L269 1527L261 1538zM267 1414L269 1405L275 1397L285 1397L283 1406L277 1414zM188 1370L184 1372L176 1369L170 1364L169 1360L182 1360L190 1365zM261 1370L266 1365L274 1360L288 1362L286 1366L275 1372L266 1373zM172 1554L165 1553L157 1546L153 1537L162 1539L169 1546zM252 1429L253 1424L269 1418L274 1422L270 1430L257 1433zM274 1374L277 1365L287 1358L291 1365L288 1373zM259 1407L257 1401L262 1384L267 1375L268 1387L263 1399zM174 1398L167 1398L156 1383L155 1376L171 1389zM192 1363L196 1356L204 1355L206 1365L196 1368zM107 1466L97 1468L80 1463L82 1453L101 1458zM157 1546L146 1543L135 1532L132 1524L142 1527L156 1538zM93 1467L94 1459L107 1451L117 1454L112 1462L104 1467zM215 1525L211 1517L214 1508L218 1506L218 1520zM213 1381L223 1371L236 1365L244 1369L240 1375L222 1383zM296 1545L287 1542L282 1536L278 1524L285 1520L293 1528L295 1536zM140 1463L132 1453L139 1437L144 1438L145 1457zM284 1452L283 1446L290 1440L294 1442L291 1451zM233 1433L227 1427L223 1422L228 1417L234 1416L238 1421L238 1429zM171 1461L171 1454L178 1449L184 1452L178 1461zM94 1426L91 1415L94 1409L102 1408L101 1419zM237 1384L231 1385L230 1378L232 1369L238 1368L242 1376L241 1382zM153 1436L155 1429L164 1417L172 1413L176 1417L168 1428L160 1435zM87 1461L80 1457L76 1444L77 1433L84 1441L89 1456zM223 1548L218 1544L215 1536L216 1527L221 1528L224 1534L225 1540zM250 1487L253 1485L266 1482L271 1487L268 1489L255 1490zM214 1448L209 1446L203 1434L204 1423L208 1422L214 1430L220 1446zM265 1477L267 1469L274 1462L281 1461L283 1463L281 1470L271 1477zM114 1420L114 1413L131 1410L138 1412L141 1415L133 1423L120 1423z" fill="rgb(46,28,186)" fill-opacity="0.88"/>
</g></g>
<rect x="85.1" y="1363.2" width="206.4" height="183.8" filter="url(#sd)"/>
<rect x="85.1" y="1363.2" width="206.4" height="183.8" filter="url(#sp)"/>
<clipPath id="m2"><rect x="298.6" y="1363.2" width="206.4" height="183.8"/></clipPath>
<rect x="298.6" y="1363.2" width="206.4" height="183.8" fill="#8080d0" filter="url(#h2)"/>
<g clip-path="url(#m2)" filter="url(#msh)">
<ellipse cx="453.4" cy="1519.4" rx="61.9" ry="36.8" fill="rgb(60,42,202)" fill-opacity="0.25"/>
<ellipse cx="401.8" cy="1436.7" rx="51.6" ry="36.8" fill="rgb(60,42,202)" fill-opacity="0.15"/>
</g>
<g clip-path="url(#m2)"><g filter="url(#mb)">
<path d="M372 1508L365 1508L355 1502L357 1497L367 1500zM336 1437L331 1428L337 1419L344 1421L342 1435zM478 1488L470 1490L465 1490L460 1486L466 1480L475 1481zM308 1393L316 1389L324 1389L334 1392L331 1398L325 1400L316 1401zM392 1499L387 1500L379 1498L375 1489L379 1484L386 1487L392 1492zM385 1413L380 1416L372 1417L365 1410L368 1405L374 1404L381 1407zM389 1402L389 1390L396 1377L398 1384L395 1397zM469 1412L460 1409L454 1400L452 1390L457 1389L462 1395L467 1403zM313 1430L308 1426L309 1418L315 1416L320 1418L322 1425L316 1429zM298 1460L299 1452L311 1450L315 1456L310 1462L302 1463zM316 1465L306 1458L304 1448L308 1445L316 1458zM472 1489L478 1480L488 1478L493 1483L477 1491zM317 1477L311 1480L303 1476L299 1472L299 1468L307 1466L314 1472zM425 1539L422 1538L419 1528L423 1520L428 1518L433 1524L430 1536zM344 1462L344 1458L349 1453L357 1450L358 1454L355 1460L348 1463zM369 1486L365 1484L366 1469L368 1464L372 1467L373 1479zM390 1383L396 1376L407 1378L408 1387L400 1388zM462 1558L461 1551L473 1540L477 1542L478 1550L469 1558zM432 1494L430 1488L437 1481L444 1482L441 1489L435 1496zM506 1547L500 1547L495 1543L489 1533L494 1531L504 1535L509 1543zM310 1540L303 1539L301 1532L301 1526L306 1525L311 1527L311 1533zM316 1482L310 1477L309 1469L313 1462L319 1468L321 1475zM386 1488L378 1476L377 1467L381 1464L387 1478zM474 1414L477 1407L480 1402L489 1398L491 1403L488 1411L482 1414z" fill="rgb(60,42,202)" fill-opacity="0.9"/>
<path d="M420 1536L423 1529L428 1527L434 1526L437 1530L431 1537L424 1538zM459 1395L464 1388L482 1380L484 1386L475 1394zM361 1398L358 1391L358 1385L363 1380L369 1382L370 1388L366 1397zM337 1527L327 1528L315 1524L311 1518L314 1515L320 1513L332 1521zM390 1543L384 1538L380 1520L383 1512L388 1520L390 1531zM365 1501L366 1495L382 1488L386 1492L373 1505zM326 1399L320 1399L314 1395L312 1388L320 1386L327 1389zM494 1537L488 1540L476 1533L477 1529L489 1531zM303 1428L299 1423L298 1415L303 1411L306 1415L307 1423zM473 1498L467 1496L464 1486L468 1480L475 1484L477 1492zM450 1519L441 1514L440 1498L447 1496L453 1510zM348 1546L339 1548L332 1546L333 1539L344 1541zM429 1514L425 1514L423 1507L424 1500L429 1500L431 1503L432 1510zM393 1383L398 1369L407 1365L415 1369L406 1378zM409 1405L406 1401L411 1392L416 1387L418 1395L416 1403zM486 1382L487 1374L498 1375L501 1379L492 1386zM358 1506L356 1500L358 1493L366 1497L364 1505zM395 1550L389 1547L385 1540L387 1535L393 1531L399 1536L398 1543zM351 1425L347 1421L350 1414L355 1409L359 1411L360 1417L355 1424zM452 1380L448 1382L442 1376L438 1372L442 1369L447 1370L452 1373zM386 1424L380 1425L376 1421L376 1414L380 1414L388 1419zM393 1553L390 1549L393 1541L399 1539L403 1544L396 1553zM417 1381L421 1375L431 1369L439 1371L441 1375L434 1382L423 1387zM441 1421L439 1418L447 1414L455 1415L457 1417L454 1422L445 1424zM316 1525L313 1519L314 1512L317 1503L321 1507L323 1515L321 1522zM363 1473L353 1474L338 1458L344 1459L357 1464zM448 1382L450 1374L456 1364L464 1357L468 1363L463 1374L455 1383zM455 1502L450 1500L449 1491L453 1483L459 1484L461 1490L460 1497zM387 1405L381 1399L381 1393L386 1391L391 1400zM330 1417L328 1410L332 1400L339 1397L346 1399L343 1409L338 1414zM520 1375L511 1379L500 1378L493 1370L503 1367L512 1369zM330 1403L330 1395L337 1392L343 1393L342 1400L335 1403zM387 1505L385 1499L389 1492L395 1487L402 1487L398 1498L393 1507zM426 1418L417 1418L412 1413L412 1406L420 1406L425 1412zM355 1401L362 1394L372 1392L372 1400L363 1404zM458 1549L447 1551L438 1546L437 1541L454 1544zM322 1516L316 1512L310 1502L313 1496L320 1501L324 1511zM359 1509L351 1513L343 1510L336 1505L338 1498L348 1497L355 1500z" fill="rgb(82,64,224)" fill-opacity="0.9"/>
<path d="M340 1399L337 1393L338 1386L340 1384L344 1387L344 1393zM450 1541L452 1534L462 1525L468 1529L457 1540zM341 1543L336 1542L334 1533L338 1528L341 1527L347 1533L344 1539zM499 1513L497 1518L488 1520L481 1516L480 1509L487 1507L499 1510zM319 1513L315 1509L318 1501L323 1498L329 1501L327 1506L324 1513zM412 1548L409 1544L415 1534L419 1532L421 1538L418 1546zM307 1509L306 1505L314 1498L319 1496L317 1504L311 1510zM401 1438L401 1434L416 1427L423 1427L416 1436L410 1441zM347 1463L348 1459L360 1449L365 1450L363 1457L354 1466zM492 1489L486 1477L489 1462L496 1463L495 1481zM504 1369L501 1374L489 1371L483 1363L490 1360L501 1363zM296 1444L296 1438L298 1430L305 1422L309 1426L309 1434L301 1445zM454 1442L451 1446L438 1443L431 1438L435 1435L439 1433L450 1438zM471 1497L462 1495L460 1489L464 1481L471 1487zM447 1482L453 1472L466 1468L467 1476L461 1482zM440 1402L441 1398L446 1394L452 1394L455 1397L452 1404L445 1405zM481 1451L478 1454L459 1452L456 1447L462 1443L478 1446zM400 1392L391 1392L380 1387L374 1381L385 1380L394 1383zM304 1409L299 1404L304 1393L311 1395L309 1408zM304 1400L309 1395L316 1393L317 1400L311 1402zM310 1403L302 1407L293 1404L296 1395L304 1398zM351 1486L347 1479L344 1466L349 1459L352 1461L358 1471L356 1479zM386 1535L391 1522L400 1514L403 1518L398 1527zM499 1391L493 1391L485 1384L487 1380L498 1386zM451 1398L452 1391L465 1386L475 1387L466 1396L455 1400zM329 1435L328 1432L336 1422L340 1420L345 1423L342 1432L335 1436zM328 1535L320 1535L316 1531L315 1522L321 1522L329 1530zM386 1424L376 1427L366 1425L364 1419L377 1417zM442 1480L434 1483L427 1479L431 1469L441 1474zM317 1499L312 1503L306 1499L304 1493L307 1489L312 1489L316 1493zM384 1426L382 1421L385 1409L390 1402L396 1405L395 1415L390 1425zM325 1466L318 1470L307 1468L299 1461L308 1456L321 1458zM489 1383L490 1377L497 1371L507 1368L512 1369L507 1377L492 1385zM329 1388L329 1381L335 1372L343 1371L342 1375L336 1383zM377 1414L367 1420L358 1419L346 1414L350 1410L356 1408L372 1410zM471 1423L477 1415L488 1409L499 1411L493 1417L482 1424zM350 1533L347 1534L338 1529L334 1523L335 1519L343 1523L350 1529zM301 1407L297 1399L300 1388L307 1389L308 1398zM354 1558L350 1551L355 1542L362 1544L359 1555zM351 1405L356 1401L366 1398L371 1403L367 1411L357 1412zM506 1434L493 1430L489 1424L489 1414L502 1423zM492 1362L499 1357L513 1356L513 1360L502 1365zM498 1540L489 1538L481 1526L483 1521L490 1522L498 1533zM357 1455L357 1448L364 1442L371 1440L373 1445L371 1454L366 1457zM401 1388L401 1381L409 1377L417 1376L418 1381L413 1386L407 1390zM404 1504L394 1509L385 1505L385 1499L400 1497z" fill="rgb(46,28,188)" fill-opacity="0.9"/>
</g></g>
<rect x="298.6" y="1363.2" width="206.4" height="183.8" filter="url(#sd)"/>
<rect x="298.6" y="1363.2" width="206.4" height="183.8" filter="url(#sp)"/>
<clipPath id="m3"><rect x="85.1" y="1553.7" width="206.4" height="184"/></clipPath>
<rect x="85.1" y="1553.7" width="206.4" height="184" fill="#8080d0" filter="url(#h3)"/>
<g clip-path="url(#m3)" filter="url(#msh)">
<ellipse cx="229.6" cy="1575.8" rx="82.6" ry="29.4" fill="rgb(56,40,192)" fill-opacity="0.4"/>
<ellipse cx="105.7" cy="1572.1" rx="41.3" ry="36.8" fill="rgb(56,40,192)" fill-opacity="0.3"/>
<ellipse cx="95.4" cy="1664.1" rx="20.6" ry="73.6" fill="rgb(56,40,192)" fill-opacity="0.25"/>
<ellipse cx="270.9" cy="1645.7" rx="31" ry="55.2" fill="rgb(56,40,192)" fill-opacity="0.25"/>
</g>
<g clip-path="url(#m3)"><g filter="url(#mb)">
<path d="M273 1667L263 1667L255 1660L255 1656L268 1662zM231 1562L237 1554L250 1550L252 1554L242 1562zM255 1726L253 1727L247 1726L243 1720L245 1717L251 1717L254 1720zM212 1676L199 1676L191 1672L193 1664L206 1670zM202 1677L204 1666L217 1655L222 1657L214 1669zM254 1660L247 1664L237 1663L229 1659L232 1654L240 1651L250 1653zM123 1674L115 1674L105 1671L102 1663L110 1662L116 1665zM126 1656L115 1650L109 1638L114 1631L126 1649zM208 1717L203 1719L189 1719L178 1714L188 1713L201 1714zM142 1559L136 1561L130 1559L127 1553L131 1547L136 1546L142 1554zM260 1670L260 1663L265 1658L270 1655L277 1660L275 1667L264 1673zM119 1734L120 1726L137 1716L139 1724L126 1734zM191 1646L181 1645L175 1641L177 1631L184 1630L190 1639zM196 1749L194 1742L199 1734L208 1726L211 1732L208 1739L201 1749zM276 1746L267 1748L253 1737L253 1727L263 1729L269 1735zM259 1664L251 1656L248 1646L250 1633L255 1633L258 1640L261 1652zM234 1569L231 1563L236 1542L241 1543L240 1559zM154 1741L153 1732L160 1716L164 1720L161 1737zM131 1699L128 1696L125 1681L127 1673L131 1669L133 1682L134 1693zM220 1572L218 1565L228 1561L233 1562L237 1564L232 1573L224 1575zM205 1566L207 1561L222 1555L226 1557L225 1562L209 1567zM129 1736L122 1738L113 1725L120 1722L128 1728zM129 1681L116 1680L108 1677L109 1669L126 1673zM130 1718L130 1709L138 1700L149 1698L147 1707L139 1715zM192 1634L185 1634L178 1629L169 1617L173 1614L183 1618L192 1628zM123 1721L117 1718L111 1710L112 1705L118 1708L124 1714zM148 1603L154 1598L160 1599L167 1603L161 1610L152 1611zM147 1625L143 1625L137 1613L136 1605L139 1604L145 1612L150 1620zM177 1625L168 1619L160 1606L164 1605L172 1611zM230 1652L226 1645L224 1637L225 1631L227 1630L231 1636L233 1648zM113 1649L110 1639L117 1628L123 1624L126 1630L119 1646zM158 1626L171 1618L179 1618L186 1623L173 1629zM208 1611L203 1614L188 1605L195 1600L208 1605zM109 1628L104 1626L98 1617L97 1610L101 1608L106 1613L110 1622zM193 1745L178 1735L172 1723L180 1721L189 1729zM175 1625L171 1619L175 1609L182 1606L182 1614L181 1623zM132 1736L131 1726L138 1713L145 1710L147 1718L138 1734zM122 1558L126 1550L140 1542L145 1551L132 1560zM165 1576L158 1567L159 1550L166 1548L170 1568zM249 1571L244 1566L251 1555L257 1557L260 1562L255 1569zM237 1713L232 1709L231 1698L238 1694L242 1693L247 1701L242 1709zM140 1729L141 1722L149 1720L157 1723L153 1729L145 1730zM202 1734L194 1733L181 1724L183 1719L187 1719L198 1726zM176 1641L172 1634L175 1624L185 1628L184 1638zM114 1692L116 1685L122 1676L132 1674L129 1684L123 1688zM274 1735L267 1732L266 1725L272 1723L276 1729zM149 1622L154 1615L162 1614L178 1614L176 1619L168 1627L158 1627zM139 1602L131 1606L124 1604L123 1596L129 1592L135 1595zM166 1588L159 1585L158 1580L157 1575L162 1572L166 1575L166 1583zM83 1565L81 1558L86 1550L90 1546L93 1549L94 1552L88 1561zM219 1629L213 1629L202 1625L202 1620L206 1616L210 1614L219 1622zM103 1659L106 1652L115 1649L118 1655L114 1660zM179 1719L173 1709L174 1703L180 1700L182 1711zM113 1691L107 1686L108 1673L111 1670L117 1684zM74 1602L79 1593L89 1594L92 1603L80 1606zM252 1743L242 1743L231 1733L234 1727L247 1735zM174 1692L169 1685L168 1675L170 1667L174 1669L177 1677L178 1685zM212 1741L215 1732L225 1733L224 1741L217 1744zM246 1705L248 1697L252 1689L262 1691L263 1696L255 1707zM159 1588L155 1588L147 1579L146 1572L149 1570L155 1572L159 1581zM301 1669L296 1671L290 1668L285 1662L287 1660L292 1660L299 1664zM227 1575L218 1575L208 1568L206 1562L214 1561L225 1568zM214 1698L217 1694L230 1690L235 1691L237 1697L231 1700L222 1702zM155 1607L145 1608L131 1600L133 1593L148 1595zM164 1710L158 1704L159 1693L165 1685L169 1695L168 1707zM217 1599L215 1593L218 1585L225 1574L228 1578L227 1584L221 1598zM207 1572L203 1568L198 1556L203 1555L209 1564zM133 1562L139 1549L148 1543L155 1545L142 1558zM194 1620L193 1613L197 1604L202 1597L207 1598L204 1609L198 1616zM110 1650L104 1645L98 1634L99 1627L106 1632L109 1640zM88 1559L90 1553L99 1551L106 1552L107 1556L99 1561L95 1562zM119 1728L126 1721L146 1717L147 1724L130 1730zM141 1590L146 1578L155 1574L162 1576L161 1585L150 1590zM157 1656L153 1652L156 1639L163 1633L166 1639L161 1654zM127 1695L121 1693L117 1686L114 1679L117 1677L123 1683L125 1688zM238 1645L232 1641L231 1629L235 1620L241 1624L243 1641zM212 1567L209 1558L213 1545L219 1543L216 1559zM216 1591L211 1584L209 1575L209 1565L214 1569L217 1579zM250 1716L242 1720L234 1717L235 1710L242 1706L246 1709zM299 1601L295 1604L283 1597L282 1588L290 1590L299 1596zM154 1642L148 1643L143 1640L141 1633L144 1628L150 1630L154 1635zM152 1648L150 1635L153 1622L158 1615L163 1622L158 1643zM97 1679L103 1672L108 1674L111 1679L100 1684zM277 1724L275 1713L286 1695L293 1695L297 1702L287 1721zM127 1596L125 1589L124 1580L127 1569L133 1570L134 1578L133 1592zM163 1605L151 1608L141 1608L135 1603L139 1599L155 1598zM209 1746L204 1748L192 1742L189 1736L200 1735L207 1737zM258 1727L258 1717L264 1708L272 1707L275 1714L264 1724zM151 1631L142 1627L143 1614L148 1615L154 1625zM215 1649L225 1635L236 1629L241 1634L229 1649zM220 1663L224 1656L237 1656L236 1664L228 1667zM155 1709L152 1700L158 1686L165 1688L162 1701zM172 1563L163 1558L161 1548L167 1544L173 1554zM272 1673L267 1670L264 1660L265 1652L273 1647L278 1660L277 1669zM291 1570L282 1570L270 1565L266 1562L275 1560L284 1564zM119 1674L121 1664L137 1656L141 1662L127 1672zM194 1583L185 1581L177 1571L181 1562L190 1569zM95 1602L94 1595L98 1587L105 1589L106 1596L102 1603zM88 1709L84 1703L85 1676L90 1681L92 1698zM164 1575L159 1568L157 1559L158 1548L164 1547L167 1558L167 1566zM188 1562L189 1557L200 1551L204 1552L205 1556L194 1564zM271 1726L267 1721L265 1713L270 1701L274 1704L279 1710L279 1723zM299 1613L294 1615L288 1612L285 1605L288 1602L294 1604L297 1608zM224 1589L214 1593L205 1587L201 1578L221 1582zM124 1720L118 1724L103 1722L100 1716L107 1711L118 1715zM143 1686L149 1680L162 1678L164 1681L151 1689zM160 1747L160 1742L161 1735L168 1732L169 1740L168 1745zM138 1675L132 1675L124 1663L123 1656L129 1657L136 1668zM235 1673L238 1667L253 1658L266 1658L265 1663L253 1671L242 1673zM166 1571L156 1560L156 1546L162 1542L171 1558zM162 1742L166 1739L182 1734L187 1737L188 1742L184 1746L164 1747zM204 1731L197 1721L199 1707L207 1704L210 1724zM202 1631L193 1624L194 1611L199 1610L206 1628zM114 1694L109 1697L95 1692L87 1685L87 1681L100 1682L113 1688zM173 1672L166 1674L159 1666L159 1657L167 1657L175 1664zM278 1734L280 1725L289 1719L294 1727L287 1733zM290 1694L286 1697L278 1692L274 1686L276 1681L286 1684L289 1689zM204 1618L196 1613L195 1599L199 1592L206 1597L208 1613zM146 1640L148 1634L160 1625L171 1621L174 1625L167 1633L155 1640zM208 1563L205 1565L194 1566L183 1563L184 1557L192 1556L202 1557zM115 1674L107 1670L104 1664L109 1661L114 1667zM276 1602L287 1593L294 1591L299 1595L288 1602zM253 1681L253 1674L258 1669L266 1671L268 1676L265 1684L258 1683zM184 1560L183 1557L193 1551L201 1549L201 1552L194 1559L187 1562z" fill="rgb(56,40,192)" fill-opacity="0.9"/>
<path d="M102 1648L105 1642L111 1641L116 1644L115 1648L105 1650zM274 1601L271 1595L269 1584L277 1583L278 1591zM243 1688L251 1679L261 1674L263 1676L253 1686zM191 1569L190 1559L199 1542L206 1547L201 1565zM246 1727L249 1721L255 1719L262 1723L260 1730L253 1734zM173 1695L165 1694L158 1689L150 1681L153 1678L161 1682L171 1689zM295 1582L287 1585L279 1580L282 1574L292 1576zM100 1614L98 1604L100 1599L108 1598L106 1611zM165 1730L167 1720L179 1705L183 1714L179 1723zM237 1595L232 1595L229 1584L236 1583L240 1587zM248 1743L244 1732L246 1718L252 1719L252 1730zM209 1754L204 1746L206 1732L213 1730L216 1745zM117 1615L112 1615L99 1603L100 1597L112 1606zM96 1621L88 1614L84 1600L87 1594L94 1600L99 1613zM289 1570L284 1562L299 1545L307 1550L300 1566zM147 1614L140 1618L133 1616L131 1608L144 1608zM229 1661L224 1659L220 1652L224 1645L230 1647L234 1656zM168 1613L165 1607L167 1594L171 1586L175 1589L177 1598L174 1611zM184 1709L179 1712L174 1707L173 1699L178 1697L183 1699L187 1706zM254 1741L248 1738L240 1726L243 1718L247 1719L256 1736zM249 1605L240 1602L230 1597L228 1591L228 1585L237 1588L244 1596zM116 1743L114 1727L121 1723L129 1724L125 1740zM113 1580L106 1565L106 1551L115 1555L118 1564zM105 1560L101 1562L92 1560L89 1555L90 1550L99 1552L105 1554zM254 1613L247 1613L239 1608L233 1599L236 1594L247 1598L253 1606zM94 1589L88 1585L87 1568L89 1562L96 1571L99 1589zM201 1618L206 1612L219 1612L220 1621L208 1623zM167 1675L169 1670L181 1665L195 1661L192 1666L188 1671L172 1677zM79 1706L82 1700L93 1695L99 1698L96 1705L87 1710zM139 1667L136 1657L144 1648L149 1649L149 1661zM208 1643L207 1637L209 1631L215 1630L217 1637L213 1644zM96 1729L93 1720L98 1712L104 1711L108 1721L103 1729zM248 1754L248 1746L254 1736L259 1729L265 1730L261 1744L256 1750zM156 1651L152 1648L147 1644L143 1636L146 1632L152 1638L156 1645zM236 1725L236 1719L242 1712L248 1713L250 1717L249 1722L241 1726zM175 1619L174 1609L176 1600L182 1592L185 1600L181 1612zM248 1631L245 1624L249 1617L257 1618L262 1620L259 1627L255 1629zM232 1602L230 1595L239 1585L248 1586L250 1595L241 1602zM175 1651L171 1652L164 1650L159 1641L165 1638L172 1639L175 1645zM191 1660L186 1661L174 1655L169 1651L171 1647L180 1649L190 1655zM287 1559L285 1554L293 1545L299 1542L299 1550L292 1559zM219 1671L213 1667L211 1647L214 1644L220 1646L223 1662zM248 1696L250 1690L260 1685L268 1687L268 1691L261 1699L255 1699zM199 1681L189 1675L183 1664L186 1659L197 1667zM239 1610L233 1610L224 1604L223 1595L230 1593L236 1595L241 1601zM245 1666L249 1657L258 1650L263 1651L268 1651L260 1662L251 1666zM117 1642L112 1641L105 1629L106 1616L110 1617L114 1621L118 1636zM206 1741L204 1734L205 1724L209 1723L211 1727L211 1734zM186 1657L182 1646L183 1629L186 1627L190 1647zM85 1686L83 1681L91 1675L99 1673L99 1678L90 1686zM221 1651L213 1652L202 1651L193 1644L193 1641L200 1639L215 1645zM181 1575L184 1566L198 1559L204 1562L192 1574zM81 1717L78 1711L79 1705L84 1701L91 1704L92 1711L85 1715zM103 1626L97 1623L88 1617L90 1614L95 1613L101 1618zM163 1679L171 1666L185 1657L186 1665L176 1677zM254 1739L261 1732L269 1729L277 1732L277 1740L262 1740zM262 1653L258 1646L261 1641L267 1638L272 1640L274 1648L267 1653zM159 1589L153 1590L139 1588L139 1584L144 1579L154 1581zM226 1661L231 1653L238 1654L242 1658L238 1666L233 1666zM176 1681L185 1676L199 1677L195 1682L182 1684zM171 1700L164 1699L158 1693L158 1686L165 1685L170 1686L174 1696zM188 1675L187 1667L192 1654L197 1650L200 1657L194 1670zM229 1642L226 1645L219 1641L215 1636L216 1634L222 1634L227 1637zM167 1706L160 1709L149 1702L147 1695L161 1699zM279 1630L273 1627L273 1613L276 1608L282 1614L282 1622zM161 1652L162 1649L170 1646L180 1646L180 1652L175 1654L163 1656zM84 1587L88 1574L99 1566L103 1571L96 1582zM94 1625L88 1619L85 1612L88 1606L93 1609L97 1616zM249 1694L245 1695L234 1688L231 1678L232 1672L241 1675L249 1688zM228 1647L228 1636L229 1629L237 1618L243 1621L239 1633L236 1643zM125 1682L118 1683L112 1678L112 1674L114 1671L119 1671L123 1677zM168 1700L162 1697L158 1687L160 1677L166 1676L170 1683L171 1694zM187 1604L184 1606L180 1598L180 1592L184 1589L187 1595L190 1603zM277 1638L283 1629L292 1625L297 1629L287 1637zM291 1566L278 1571L268 1567L272 1561L284 1563zM204 1619L194 1621L187 1619L183 1611L192 1610L200 1614zM280 1742L280 1734L292 1729L302 1731L298 1739L285 1744zM196 1574L194 1567L198 1561L203 1558L207 1557L206 1566L203 1571zM283 1608L270 1601L262 1593L259 1585L267 1584L277 1595zM161 1645L151 1637L148 1623L149 1614L158 1624L164 1636zM185 1622L186 1614L191 1602L199 1598L200 1603L192 1618zM157 1565L160 1558L172 1551L176 1551L164 1563zM99 1622L102 1610L108 1598L116 1592L117 1597L108 1615zM293 1562L283 1564L274 1561L273 1556L287 1556zM135 1631L130 1638L111 1639L106 1634L114 1627L129 1628zM275 1592L268 1597L255 1590L250 1582L260 1582L274 1586zM192 1698L181 1699L177 1692L183 1685L193 1690zM123 1684L120 1677L128 1671L134 1677L129 1684zM295 1734L292 1737L282 1729L280 1724L281 1719L290 1724L294 1729zM186 1687L181 1676L183 1663L189 1657L194 1663L193 1677zM263 1635L257 1631L258 1618L264 1607L269 1608L271 1622L268 1633zM190 1659L181 1657L171 1652L160 1640L165 1637L176 1643L182 1649zM95 1619L100 1611L118 1599L119 1604L111 1612zM129 1724L130 1716L139 1703L148 1703L145 1715L139 1724zM161 1654L153 1652L148 1641L155 1634L162 1643zM284 1663L279 1661L274 1648L274 1641L277 1640L282 1646L287 1657zM254 1621L252 1617L259 1607L266 1601L268 1603L264 1613L259 1620zM225 1583L234 1575L242 1573L256 1575L248 1581L235 1587zM87 1651L87 1642L98 1633L104 1633L103 1643L92 1652zM150 1594L146 1590L150 1576L155 1568L159 1570L159 1579L156 1594zM172 1572L167 1573L160 1571L155 1566L156 1561L163 1563L168 1565zM95 1664L89 1667L80 1666L73 1660L72 1657L84 1657L92 1659zM210 1688L208 1685L214 1677L217 1677L221 1679L219 1686L215 1690zM151 1736L145 1730L140 1721L138 1710L142 1709L147 1713L152 1726zM87 1719L87 1715L106 1699L106 1705L93 1720zM183 1671L186 1667L191 1666L202 1668L201 1673L193 1675L184 1675zM148 1691L143 1688L144 1678L149 1674L156 1680L154 1687zM239 1680L231 1674L226 1663L231 1661L238 1672z" fill="rgb(78,62,214)" fill-opacity="0.9"/>
<path d="M257 1665L252 1663L252 1652L253 1648L257 1644L261 1653L260 1661zM248 1593L249 1586L255 1578L259 1585L256 1591zM116 1690L118 1685L130 1682L134 1682L131 1688L125 1692zM164 1701L161 1697L160 1687L163 1684L166 1686L168 1694zM287 1715L281 1710L275 1699L278 1692L284 1698L288 1705zM159 1619L157 1613L161 1606L168 1603L170 1611L165 1616zM83 1599L80 1592L79 1582L86 1575L90 1579L88 1592zM221 1733L224 1728L235 1723L242 1726L244 1730L239 1734L226 1736zM121 1664L114 1656L118 1640L124 1640L125 1658zM285 1644L284 1635L296 1623L301 1629L296 1641zM228 1740L233 1734L242 1733L249 1736L254 1742L242 1748L228 1746zM211 1697L213 1691L218 1685L222 1685L223 1690L216 1696zM182 1670L180 1671L173 1669L169 1663L171 1661L176 1662L183 1667zM167 1678L170 1671L186 1664L189 1670L175 1677zM104 1569L101 1562L104 1552L111 1552L113 1560zM246 1613L241 1611L239 1604L242 1595L245 1593L249 1600L250 1611zM195 1665L187 1668L177 1664L172 1659L177 1656L190 1661zM173 1612L175 1601L181 1590L194 1583L194 1593L186 1608zM303 1615L296 1616L284 1610L282 1601L292 1598L302 1606zM300 1589L291 1590L278 1581L274 1573L293 1581zM289 1563L281 1558L276 1548L279 1545L286 1552zM124 1722L126 1714L135 1708L139 1716L133 1722zM156 1635L151 1632L157 1618L164 1612L169 1617L167 1628L160 1637zM196 1607L189 1607L177 1593L186 1587L196 1596zM280 1650L285 1646L304 1644L305 1648L301 1653L289 1653zM190 1611L191 1598L198 1584L206 1588L203 1600zM140 1634L135 1629L132 1618L134 1612L139 1619L141 1628zM139 1614L129 1609L129 1598L132 1592L140 1594L142 1606zM128 1651L125 1650L128 1638L133 1633L135 1640L133 1646zM104 1653L101 1657L94 1656L89 1653L89 1651L95 1649L103 1651zM200 1685L203 1673L214 1668L217 1672L212 1679zM255 1705L259 1696L269 1700L271 1706L260 1709zM74 1595L78 1589L84 1586L94 1588L94 1591L90 1596L80 1596zM177 1635L171 1636L161 1626L159 1618L166 1620L174 1625zM264 1641L255 1646L244 1644L239 1638L246 1635L261 1637zM122 1739L133 1735L145 1733L154 1736L155 1739L143 1743L133 1743zM261 1568L255 1569L250 1567L250 1561L251 1556L257 1559L264 1565zM200 1693L196 1689L198 1676L203 1663L206 1667L206 1678L205 1689zM171 1737L164 1728L160 1721L162 1713L168 1714L174 1728zM271 1742L271 1731L281 1716L282 1720L277 1738zM223 1693L213 1691L197 1678L201 1677L216 1684zM134 1561L131 1560L133 1552L136 1547L142 1549L142 1555L138 1561zM167 1568L153 1569L140 1563L143 1555L157 1557zM170 1618L161 1622L148 1617L140 1610L145 1606L151 1607L166 1612zM76 1717L78 1711L88 1702L94 1703L92 1714L84 1718zM162 1640L175 1631L194 1627L191 1632L176 1639zM194 1566L195 1563L207 1560L212 1561L216 1564L210 1569L197 1569zM131 1642L125 1644L117 1642L114 1638L115 1636L120 1634L128 1637zM206 1713L204 1704L206 1696L216 1692L218 1699L216 1707zM247 1593L245 1589L250 1581L257 1582L261 1587L256 1594zM121 1711L114 1703L117 1691L125 1693L126 1701zM267 1615L257 1610L253 1602L255 1591L262 1593L270 1607zM160 1658L156 1662L150 1662L142 1658L143 1653L149 1650L158 1651zM279 1566L283 1560L288 1556L297 1556L298 1560L292 1566L284 1568zM76 1707L78 1698L85 1693L96 1689L98 1695L96 1700L86 1709zM154 1662L151 1664L138 1654L137 1646L138 1642L147 1646L153 1655zM135 1745L129 1743L122 1730L125 1721L133 1729L138 1737zM83 1736L87 1732L94 1727L98 1729L96 1735L87 1738zM131 1669L130 1661L132 1652L140 1639L143 1643L143 1654L139 1663zM196 1703L193 1696L193 1685L200 1677L204 1679L206 1687L200 1696zM113 1670L111 1668L110 1661L116 1658L122 1660L120 1667L119 1670zM224 1660L218 1653L211 1635L217 1630L225 1647zM230 1607L227 1605L224 1595L225 1588L228 1590L231 1594L232 1603zM259 1642L257 1637L264 1632L271 1630L277 1631L272 1639L265 1643zM179 1728L168 1723L168 1714L176 1715L181 1722zM292 1723L283 1718L278 1707L279 1702L286 1704L293 1719zM276 1605L271 1603L265 1594L265 1581L269 1579L279 1588L282 1599zM131 1728L135 1722L142 1717L148 1716L147 1722L141 1727zM173 1728L169 1732L163 1732L156 1730L155 1726L161 1721L171 1724zM271 1664L260 1662L250 1656L255 1650L269 1655zM125 1680L130 1672L142 1663L151 1668L137 1680zM272 1664L271 1655L283 1643L290 1645L279 1663zM283 1691L285 1681L295 1673L304 1667L306 1674L302 1681L292 1692zM72 1731L75 1726L81 1724L90 1726L91 1730L84 1737L74 1736zM277 1734L272 1729L273 1720L279 1717L286 1723L284 1730zM119 1635L112 1632L100 1619L96 1609L103 1609L111 1617L115 1624zM258 1596L256 1586L266 1570L270 1575L267 1589zM123 1679L110 1681L102 1676L97 1667L107 1667L118 1672zM270 1719L260 1716L252 1712L248 1704L246 1698L260 1704L268 1712zM70 1594L72 1588L91 1586L93 1591L89 1595L79 1596zM238 1608L231 1606L220 1593L220 1585L230 1590L238 1602zM173 1743L176 1738L187 1731L192 1734L191 1738L178 1746zM252 1732L242 1728L235 1724L231 1714L236 1709L246 1716L252 1727zM181 1657L176 1657L170 1650L170 1641L173 1636L181 1642L184 1650zM140 1571L140 1565L146 1561L152 1559L156 1562L154 1568L145 1575zM267 1589L260 1594L252 1594L249 1587L255 1582L264 1585zM262 1576L257 1575L245 1566L239 1556L242 1555L254 1561L262 1570zM154 1650L145 1646L137 1635L141 1634L150 1640zM242 1601L238 1599L236 1593L234 1586L239 1585L243 1590L246 1600zM151 1710L146 1707L148 1693L150 1685L155 1685L158 1696L157 1705zM233 1657L228 1650L233 1643L241 1645L240 1653zM161 1707L162 1700L171 1693L178 1692L180 1696L177 1701L170 1706zM162 1701L158 1695L160 1680L167 1680L171 1691zM277 1598L274 1593L276 1583L282 1578L287 1579L287 1587L285 1594zM250 1747L247 1739L252 1730L256 1730L258 1733L254 1743zM264 1686L270 1680L286 1676L290 1685L278 1689zM176 1723L170 1721L164 1716L162 1708L166 1708L170 1710L175 1717zM307 1733L298 1735L287 1733L276 1726L288 1725L300 1728zM98 1636L108 1625L117 1619L128 1619L122 1629L114 1634zM176 1575L172 1580L165 1579L161 1576L163 1572L170 1572zM222 1578L211 1581L205 1576L207 1571L217 1570zM112 1743L103 1738L103 1717L113 1722L115 1739zM85 1561L89 1556L101 1551L106 1553L102 1560L95 1561zM90 1718L93 1711L106 1699L115 1699L113 1708L99 1717zM253 1724L243 1724L235 1720L222 1712L227 1709L234 1710L247 1717zM190 1629L186 1631L178 1612L180 1601L185 1606L192 1626zM233 1611L228 1615L223 1610L218 1604L227 1601L232 1604zM88 1704L91 1693L101 1689L104 1694L99 1700zM79 1650L84 1644L91 1642L96 1645L87 1653zM178 1722L168 1721L161 1717L152 1706L155 1704L163 1706L173 1715zM228 1726L226 1723L228 1714L232 1714L237 1719L235 1726zM225 1596L223 1591L225 1577L229 1569L231 1580L230 1591zM255 1701L255 1695L262 1691L269 1692L269 1702L261 1705zM301 1650L294 1651L290 1650L285 1643L289 1639L296 1639L300 1644zM111 1603L105 1603L100 1595L106 1590L114 1594zM159 1620L157 1612L158 1601L166 1602L166 1617zM206 1719L214 1709L233 1709L232 1717L219 1720zM193 1732L186 1729L185 1721L190 1716L196 1719L196 1726zM212 1737L209 1740L199 1736L195 1730L193 1723L203 1723L210 1729zM97 1656L82 1656L71 1650L66 1644L89 1648zM257 1592L254 1583L259 1577L267 1578L268 1584L264 1592zM145 1618L146 1611L154 1605L155 1610L149 1619zM210 1715L217 1703L230 1695L234 1697L218 1712z" fill="rgb(42,26,178)" fill-opacity="0.9"/>
</g></g>
<rect x="85.1" y="1553.7" width="206.4" height="184" filter="url(#sd)"/>
<rect x="85.1" y="1553.7" width="206.4" height="184" filter="url(#sp)"/>
<clipPath id="m4"><rect x="298.6" y="1553.7" width="206.4" height="184"/></clipPath>
<rect x="298.6" y="1553.7" width="206.4" height="184" fill="#8080d0" filter="url(#h4)"/>
<g clip-path="url(#m4)" filter="url(#msh)">
<ellipse cx="453.4" cy="1608.9" rx="28.9" ry="25.8" fill="rgb(58,40,202)" fill-opacity="0.3"/>
</g>
<g clip-path="url(#m4)"><g filter="url(#mb)">
<path d="M436 1684L431 1682L430 1675L434 1670L441 1673L441 1680zM384 1686L379 1683L378 1678L382 1673L388 1674L389 1679L388 1682zM484 1747L480 1739L485 1735L493 1734L494 1743zM411 1698L416 1692L423 1694L425 1700L418 1703zM481 1639L474 1637L474 1625L483 1623L486 1635zM516 1593L511 1595L502 1592L502 1587L513 1587zM472 1653L467 1658L461 1655L457 1650L462 1644L469 1649zM332 1688L331 1683L339 1680L343 1682L344 1686L336 1691zM442 1625L443 1616L451 1613L456 1616L449 1623zM504 1572L502 1563L508 1558L514 1558L511 1569zM305 1617L298 1617L291 1609L293 1604L305 1610zM507 1637L498 1634L495 1624L500 1620L509 1630zM317 1633L310 1630L308 1624L313 1620L318 1626zM375 1646L368 1648L363 1646L362 1639L368 1636L375 1641zM403 1748L406 1738L415 1735L417 1740L413 1748zM335 1659L327 1656L326 1648L329 1642L338 1645L340 1653zM385 1608L379 1607L373 1601L374 1594L375 1592L381 1595L388 1602zM353 1569L352 1563L355 1559L360 1559L362 1564L358 1568zM318 1578L313 1573L318 1560L323 1563L324 1571zM379 1651L382 1643L386 1641L393 1644L385 1652zM399 1712L395 1717L390 1715L386 1706L391 1704L398 1705zM505 1682L499 1683L496 1672L498 1667L505 1670L507 1676zM481 1650L477 1652L470 1645L470 1637L473 1636L480 1639L485 1646zM373 1688L368 1689L362 1684L364 1679L368 1674L372 1678L376 1685zM365 1563L360 1561L359 1550L365 1551L367 1557zM469 1582L462 1583L457 1574L462 1570L468 1572zM347 1712L342 1705L347 1700L353 1701L354 1710zM441 1619L434 1620L427 1616L429 1611L434 1609L439 1611zM292 1563L290 1560L297 1553L302 1553L305 1555L302 1563L296 1565zM306 1582L308 1576L319 1575L321 1583L312 1587zM493 1578L490 1572L494 1567L499 1567L503 1571L498 1577zM377 1609L382 1604L388 1604L394 1611L390 1615L382 1615zM356 1662L361 1656L369 1655L374 1658L370 1667L364 1667zM302 1570L299 1575L292 1573L288 1568L292 1563L297 1564L301 1566zM315 1720L318 1714L323 1712L325 1720L319 1726zM480 1564L479 1557L481 1554L488 1550L489 1555L485 1564zM340 1732L336 1728L334 1722L338 1717L342 1716L347 1720L344 1727zM356 1666L355 1660L359 1656L366 1653L370 1656L370 1663L361 1669zM295 1741L292 1734L299 1723L304 1727L304 1739zM334 1742L333 1736L341 1731L344 1736L341 1740zM388 1698L381 1695L382 1688L385 1681L388 1682L392 1690L391 1694zM362 1651L367 1644L376 1646L375 1653L367 1656zM342 1562L344 1555L350 1552L355 1553L355 1562L347 1564zM345 1597L341 1598L334 1593L334 1587L341 1586L346 1592zM411 1742L412 1736L418 1732L424 1733L427 1736L421 1742L416 1745zM487 1612L491 1605L499 1604L501 1607L494 1614zM361 1682L358 1677L366 1666L374 1672L370 1679zM380 1623L377 1624L371 1620L369 1614L372 1610L378 1611L382 1616z" fill="rgb(58,40,202)" fill-opacity="0.92"/>
<path d="M479 1588L473 1584L470 1580L471 1573L479 1577L482 1583zM296 1593L292 1587L291 1578L298 1575L301 1586zM481 1620L477 1622L469 1618L470 1611L475 1611L480 1615zM382 1602L382 1595L388 1593L394 1596L396 1601L392 1606L385 1604zM375 1642L378 1635L385 1633L387 1637L386 1642L380 1644zM385 1576L381 1576L377 1569L379 1562L387 1566L390 1573zM430 1562L434 1554L442 1553L448 1557L446 1563L435 1564zM499 1691L494 1691L490 1686L490 1677L494 1677L498 1679L501 1686zM356 1602L350 1600L347 1594L352 1588L356 1589L360 1595zM451 1728L445 1735L434 1732L434 1725L445 1725zM499 1582L498 1577L497 1571L503 1569L505 1569L508 1576L506 1581zM286 1593L291 1589L298 1589L305 1594L302 1597L293 1597zM447 1675L444 1679L438 1674L436 1670L438 1666L446 1666L448 1670zM464 1718L459 1713L461 1708L468 1704L472 1708L473 1712L469 1719zM373 1672L365 1675L359 1671L361 1663L371 1663zM421 1633L415 1634L412 1623L418 1618L422 1627zM330 1607L331 1602L337 1597L341 1597L346 1601L341 1607L337 1609zM420 1557L416 1561L408 1559L409 1552L416 1552zM436 1692L432 1696L425 1696L418 1693L419 1689L424 1686L433 1688zM407 1602L401 1604L396 1597L395 1589L403 1590L411 1598zM308 1718L304 1715L303 1708L311 1704L315 1709L313 1716zM429 1572L425 1573L417 1570L417 1565L418 1561L424 1560L428 1564zM336 1629L329 1624L329 1614L338 1616L340 1624zM412 1678L405 1683L400 1681L390 1676L392 1673L400 1670L407 1672zM448 1671L442 1669L440 1662L447 1660L452 1664zM358 1609L361 1603L368 1603L374 1608L371 1612L360 1613zM414 1643L417 1640L423 1638L427 1639L427 1643L423 1650L417 1649zM379 1713L375 1707L377 1696L383 1698L386 1706zM295 1568L291 1565L292 1556L295 1549L300 1556L300 1562zM360 1590L363 1582L370 1576L376 1583L368 1591zM338 1608L332 1604L330 1598L334 1593L339 1595L342 1600L341 1605zM493 1665L486 1667L480 1663L483 1655L489 1655L494 1658zM467 1650L463 1652L459 1651L454 1646L458 1642L465 1641L468 1645zM402 1585L398 1585L395 1573L398 1569L405 1573L407 1582zM467 1667L463 1664L460 1657L466 1651L470 1655L471 1664zM312 1738L313 1733L323 1732L328 1738L321 1743zM374 1623L372 1616L383 1608L386 1613L380 1621zM310 1702L308 1698L310 1691L312 1689L320 1691L321 1696L315 1701zM470 1720L469 1710L476 1704L484 1709L477 1719zM450 1717L450 1708L453 1706L461 1707L461 1712L458 1718L454 1719zM359 1607L355 1606L349 1597L354 1591L359 1591L364 1603zM354 1673L350 1675L345 1676L342 1673L340 1667L349 1665L353 1669zM309 1643L302 1645L297 1645L293 1638L297 1634L303 1634L307 1638zM349 1659L349 1649L355 1643L361 1649L359 1657zM397 1710L398 1703L404 1699L408 1706L406 1711zM470 1676L471 1669L477 1666L480 1669L478 1676zM306 1658L303 1651L308 1645L313 1644L315 1650L310 1657zM351 1731L347 1734L342 1733L338 1728L342 1725L348 1726zM444 1737L437 1736L431 1731L427 1726L432 1722L441 1723L444 1732zM510 1616L501 1614L499 1608L502 1601L510 1608zM390 1665L384 1657L385 1649L390 1649L393 1658zM301 1631L297 1634L290 1634L287 1628L292 1623L296 1621L300 1627zM494 1716L489 1713L489 1703L498 1702L499 1713zM338 1715L338 1707L338 1701L345 1700L350 1703L351 1708L345 1712z" fill="rgb(80,62,224)" fill-opacity="0.92"/>
<path d="M389 1710L386 1704L388 1697L393 1694L397 1701L396 1708zM449 1626L440 1625L437 1620L439 1614L444 1612L450 1621zM308 1582L309 1576L311 1571L316 1567L322 1568L320 1577L316 1583zM360 1699L356 1704L348 1701L348 1696L357 1693zM438 1576L434 1579L427 1580L424 1576L423 1571L429 1568L436 1570zM473 1722L464 1720L463 1712L467 1710L475 1716zM442 1603L444 1599L449 1597L456 1598L455 1604L453 1608L447 1607zM343 1578L341 1572L341 1567L348 1562L351 1565L350 1574zM458 1662L461 1657L467 1657L471 1660L471 1664L466 1668L461 1667zM335 1628L328 1629L319 1625L321 1621L332 1622zM488 1609L492 1601L504 1602L503 1610L495 1611zM352 1583L353 1574L363 1569L369 1572L368 1580L361 1584zM358 1669L364 1662L374 1664L376 1672L367 1672zM303 1689L303 1682L308 1678L311 1679L316 1683L315 1687L309 1689zM341 1561L335 1566L330 1562L328 1555L334 1552L340 1557zM369 1728L361 1724L361 1717L362 1712L370 1715L372 1724zM349 1571L347 1564L351 1560L356 1558L361 1561L361 1567L353 1571zM444 1624L446 1618L456 1618L458 1623L451 1628zM344 1557L341 1551L345 1545L353 1544L356 1545L354 1552L348 1559zM500 1644L494 1648L486 1644L486 1636L497 1637zM438 1654L433 1653L427 1651L427 1646L429 1641L437 1642L440 1647zM500 1662L494 1665L487 1657L492 1652L499 1655zM333 1732L327 1736L316 1732L319 1725L329 1724zM344 1660L337 1662L334 1656L333 1650L337 1648L345 1655zM512 1625L507 1629L501 1628L494 1623L498 1619L503 1617L512 1619zM425 1656L419 1658L412 1652L411 1646L418 1646L424 1650zM438 1642L434 1634L443 1625L449 1631L445 1639zM346 1642L339 1646L333 1641L333 1633L343 1636zM327 1583L329 1577L335 1573L341 1574L341 1581L336 1585zM293 1743L292 1736L295 1730L302 1728L305 1734L302 1742zM460 1577L464 1571L470 1572L471 1577L465 1581zM337 1638L332 1643L327 1641L323 1636L326 1632L335 1633zM381 1720L379 1715L386 1711L392 1714L390 1721L386 1724zM346 1589L340 1587L336 1583L337 1576L342 1575L348 1583zM293 1675L296 1671L306 1671L310 1677L299 1682zM414 1673L406 1674L402 1669L408 1663L415 1667zM348 1562L345 1565L338 1562L333 1555L338 1553L342 1553L348 1557zM306 1626L301 1626L299 1618L302 1615L310 1622zM339 1705L329 1701L330 1694L338 1691L342 1700zM510 1594L503 1595L501 1587L501 1583L505 1582L509 1582L512 1590zM389 1743L387 1736L392 1730L397 1734L395 1744zM512 1663L508 1669L500 1666L501 1659L507 1657zM482 1729L484 1725L488 1721L493 1725L494 1731L487 1734zM364 1714L363 1708L368 1701L372 1700L376 1703L376 1708L371 1713zM399 1612L392 1615L388 1608L390 1601L400 1606zM373 1579L370 1583L363 1582L361 1579L366 1574L371 1574zM395 1619L393 1614L394 1610L402 1608L405 1613L401 1620zM355 1722L349 1718L343 1706L349 1703L356 1714zM390 1609L385 1610L380 1599L380 1593L389 1594L394 1605zM392 1615L386 1615L384 1608L386 1605L391 1606L393 1611zM411 1598L407 1595L404 1588L410 1584L413 1582L417 1588L417 1597zM430 1702L430 1698L438 1697L443 1696L443 1703L439 1706L434 1706zM350 1674L344 1675L337 1672L337 1663L342 1662L348 1667zM426 1589L421 1591L416 1587L413 1580L419 1576L423 1578L428 1585zM421 1729L410 1732L400 1727L405 1721L415 1723zM461 1600L463 1595L470 1594L473 1599L471 1604L463 1604zM432 1580L427 1585L416 1580L417 1574L423 1571L431 1575zM385 1614L380 1614L376 1610L375 1606L380 1603L386 1604L388 1612zM410 1575L405 1573L406 1567L412 1563L417 1564L418 1572L415 1574zM470 1631L465 1633L461 1630L458 1626L461 1620L467 1620L470 1624zM292 1565L290 1559L300 1555L305 1558L302 1565L296 1567z" fill="rgb(44,26,188)" fill-opacity="0.92"/>
</g></g>
<rect x="298.6" y="1553.7" width="206.4" height="184" filter="url(#sd)"/>
<rect x="298.6" y="1553.7" width="206.4" height="184" filter="url(#sp)"/>
<clipPath id="m5"><rect x="1084.3" y="1370.6" width="206.6" height="183.7"/></clipPath>
<rect x="1084.3" y="1370.6" width="206.6" height="183.7" fill="#8080d0" filter="url(#i1)"/>
<g clip-path="url(#m5)" filter="url(#msh)">
<ellipse cx="1125.6" cy="1508.4" rx="62" ry="55.1" fill="rgb(64,46,202)" fill-opacity="0.3"/>
<ellipse cx="1187.6" cy="1379.8" rx="82.6" ry="18.4" fill="rgb(64,46,202)" fill-opacity="0.2"/>
<ellipse cx="1280.6" cy="1480.8" rx="20.7" ry="73.5" fill="rgb(64,46,202)" fill-opacity="0.2"/>
</g>
<g clip-path="url(#m5)"><g filter="url(#mb)">
<path d="M1223 1494L1225 1485L1233 1484L1237 1488L1230 1495zM1189 1512L1192 1499L1198 1489L1204 1484L1203 1495L1195 1507zM1160 1448L1155 1450L1145 1446L1141 1440L1146 1437L1151 1435L1158 1442zM1288 1430L1283 1425L1281 1414L1286 1408L1292 1409L1295 1414L1293 1424zM1106 1395L1096 1392L1088 1382L1087 1378L1087 1372L1097 1380L1102 1387zM1292 1464L1286 1467L1276 1461L1276 1454L1279 1451L1294 1458zM1087 1513L1095 1503L1105 1503L1111 1507L1099 1514zM1230 1461L1232 1452L1237 1439L1245 1435L1245 1444L1238 1455zM1108 1444L1118 1434L1130 1427L1138 1428L1135 1434L1122 1441zM1170 1510L1165 1507L1158 1492L1161 1490L1172 1501zM1212 1459L1204 1456L1198 1445L1202 1440L1213 1452zM1178 1504L1175 1496L1174 1490L1181 1484L1187 1492L1184 1502zM1235 1483L1226 1481L1215 1470L1214 1458L1221 1461L1236 1472zM1211 1498L1207 1498L1193 1486L1189 1480L1190 1474L1202 1481L1212 1494zM1271 1422L1267 1420L1268 1405L1272 1401L1275 1406L1275 1420zM1243 1530L1239 1525L1241 1511L1246 1502L1248 1509L1247 1525zM1187 1547L1185 1539L1193 1529L1197 1527L1191 1544zM1127 1495L1119 1495L1110 1491L1104 1485L1110 1484L1126 1491zM1136 1481L1139 1478L1150 1476L1157 1477L1157 1481L1154 1484L1139 1485zM1286 1415L1277 1408L1278 1398L1283 1395L1288 1409zM1256 1429L1250 1428L1247 1422L1248 1414L1254 1417L1259 1425zM1132 1506L1136 1499L1154 1485L1157 1489L1140 1505zM1273 1483L1261 1484L1251 1473L1249 1464L1271 1475zM1108 1496L1111 1487L1123 1482L1123 1489L1118 1495zM1182 1557L1175 1561L1168 1559L1168 1552L1176 1550zM1155 1385L1161 1377L1169 1376L1179 1380L1175 1384L1166 1388zM1305 1369L1302 1372L1285 1370L1279 1365L1287 1364L1303 1366zM1230 1454L1225 1451L1223 1444L1224 1438L1228 1438L1231 1442L1232 1451zM1208 1429L1208 1421L1221 1418L1223 1426L1214 1430zM1091 1494L1085 1498L1072 1492L1073 1484L1079 1483L1087 1488zM1163 1539L1152 1532L1146 1517L1152 1515L1163 1527zM1122 1547L1124 1539L1127 1533L1136 1526L1137 1530L1135 1537L1127 1544zM1247 1498L1240 1498L1229 1489L1225 1479L1230 1478L1237 1483L1243 1490zM1207 1549L1209 1545L1220 1538L1228 1541L1223 1548L1215 1553zM1204 1380L1207 1374L1212 1371L1222 1368L1221 1371L1216 1378L1210 1381zM1205 1397L1200 1395L1189 1386L1186 1378L1193 1381L1202 1388zM1200 1473L1195 1469L1196 1461L1201 1454L1206 1453L1207 1464L1205 1470zM1301 1468L1289 1473L1277 1469L1277 1464L1291 1463zM1216 1398L1218 1389L1226 1383L1229 1386L1221 1398zM1149 1504L1144 1495L1147 1483L1154 1485L1155 1497zM1216 1554L1208 1556L1202 1552L1203 1543L1210 1545L1215 1548zM1163 1542L1164 1531L1173 1524L1177 1529L1171 1541zM1085 1528L1085 1516L1091 1505L1097 1505L1098 1510L1094 1519zM1227 1524L1227 1517L1229 1512L1236 1513L1242 1518L1237 1523L1231 1528zM1105 1388L1106 1381L1113 1371L1119 1371L1119 1379L1115 1387zM1126 1413L1127 1408L1140 1400L1146 1400L1146 1408L1142 1412L1131 1415zM1242 1471L1249 1467L1260 1463L1274 1466L1274 1472L1267 1477L1249 1477zM1132 1504L1136 1499L1141 1495L1147 1495L1149 1498L1145 1502L1137 1506zM1251 1478L1244 1475L1242 1464L1244 1455L1250 1458L1256 1466L1254 1475zM1257 1508L1263 1502L1270 1499L1277 1500L1280 1505L1276 1510L1263 1513zM1281 1435L1273 1430L1266 1419L1266 1411L1273 1417L1278 1426zM1112 1470L1103 1466L1103 1458L1107 1457L1114 1465zM1242 1436L1232 1439L1215 1432L1218 1425L1232 1427zM1280 1477L1275 1474L1268 1456L1276 1454L1285 1470zM1085 1471L1082 1468L1081 1460L1082 1455L1086 1452L1089 1458L1089 1466zM1253 1556L1245 1556L1237 1550L1239 1546L1250 1550zM1152 1376L1149 1377L1141 1373L1139 1367L1139 1364L1147 1367L1152 1373zM1229 1535L1222 1534L1216 1523L1218 1513L1226 1518L1230 1526zM1272 1479L1276 1475L1290 1473L1295 1477L1294 1483L1277 1485zM1243 1387L1239 1382L1240 1370L1245 1369L1247 1379zM1186 1557L1182 1550L1187 1542L1191 1540L1194 1545L1193 1553zM1141 1515L1141 1503L1147 1493L1156 1487L1154 1500L1147 1511zM1223 1451L1226 1442L1233 1440L1240 1447L1233 1452zM1161 1398L1155 1394L1149 1387L1143 1380L1144 1376L1151 1379L1160 1390zM1201 1424L1197 1419L1201 1408L1206 1404L1210 1406L1212 1411L1206 1423zM1256 1540L1252 1542L1241 1540L1241 1535L1246 1533L1253 1534zM1133 1437L1121 1432L1115 1421L1120 1416L1131 1428z" fill="rgb(64,46,202)" fill-opacity="0.88"/>
<path d="M1188 1421L1181 1413L1182 1400L1190 1403L1193 1411zM1143 1558L1147 1553L1157 1550L1160 1557L1156 1562L1146 1564zM1259 1480L1265 1477L1270 1475L1279 1476L1280 1481L1273 1484L1266 1483zM1201 1472L1193 1470L1185 1459L1186 1451L1197 1461zM1087 1440L1079 1433L1081 1422L1090 1422L1094 1429zM1138 1402L1133 1398L1128 1384L1131 1378L1138 1384L1141 1396zM1185 1397L1182 1390L1183 1375L1185 1369L1189 1369L1190 1380L1189 1390zM1083 1443L1078 1436L1078 1421L1080 1417L1087 1424L1087 1436zM1125 1486L1127 1480L1138 1470L1141 1474L1131 1484zM1124 1439L1123 1433L1125 1429L1129 1426L1134 1426L1134 1432L1129 1439zM1293 1392L1288 1387L1283 1371L1283 1364L1290 1364L1295 1372L1296 1381zM1099 1388L1094 1380L1091 1364L1094 1361L1098 1365L1101 1376zM1216 1419L1223 1410L1238 1409L1242 1415L1227 1422zM1127 1445L1121 1445L1114 1440L1110 1433L1112 1430L1120 1433L1127 1441zM1107 1385L1102 1385L1098 1385L1093 1378L1095 1375L1101 1376L1106 1381zM1230 1536L1226 1525L1228 1512L1233 1513L1235 1529zM1258 1380L1248 1379L1243 1373L1247 1366L1255 1370zM1118 1454L1105 1452L1102 1443L1106 1434L1121 1447zM1152 1537L1146 1529L1144 1514L1149 1512L1154 1523zM1251 1516L1244 1517L1235 1511L1235 1504L1241 1503L1250 1508zM1193 1412L1188 1410L1184 1397L1183 1388L1186 1388L1192 1398L1193 1407zM1116 1511L1115 1505L1128 1494L1130 1497L1132 1503L1122 1510zM1268 1444L1262 1444L1249 1437L1246 1430L1256 1431L1265 1439zM1272 1486L1276 1479L1283 1477L1289 1483L1287 1487L1279 1489zM1233 1404L1227 1402L1220 1392L1224 1391L1232 1396zM1100 1444L1102 1436L1107 1432L1118 1431L1121 1434L1113 1442L1105 1444zM1103 1410L1106 1400L1116 1394L1121 1402L1111 1411zM1111 1520L1119 1516L1134 1512L1140 1515L1132 1522L1120 1523zM1136 1457L1125 1453L1117 1448L1111 1437L1114 1433L1127 1440L1132 1447zM1214 1443L1209 1438L1206 1430L1209 1423L1213 1425L1218 1438zM1199 1561L1195 1563L1187 1556L1180 1548L1184 1546L1194 1552L1199 1557zM1201 1417L1185 1411L1175 1398L1182 1398L1194 1406zM1217 1394L1211 1394L1203 1390L1204 1387L1209 1386L1216 1390zM1183 1462L1182 1457L1194 1449L1205 1448L1202 1459L1190 1467zM1103 1414L1095 1412L1089 1401L1090 1394L1099 1396L1106 1404zM1255 1524L1247 1520L1244 1509L1243 1495L1248 1495L1254 1502L1257 1518zM1158 1526L1154 1523L1155 1508L1158 1497L1163 1499L1163 1511L1161 1524zM1224 1414L1215 1416L1208 1412L1203 1405L1206 1400L1214 1400L1222 1408zM1122 1455L1125 1449L1137 1450L1142 1453L1135 1459L1125 1460zM1144 1560L1139 1560L1133 1550L1139 1548L1146 1549zM1237 1452L1237 1442L1244 1433L1251 1431L1249 1439L1242 1450zM1301 1542L1298 1545L1289 1540L1287 1536L1289 1531L1296 1532L1302 1537zM1117 1470L1110 1464L1114 1455L1122 1458L1123 1466zM1225 1520L1220 1512L1220 1499L1227 1499L1227 1511zM1150 1453L1142 1457L1118 1450L1118 1447L1136 1448zM1213 1457L1211 1449L1212 1440L1216 1439L1221 1442L1218 1451zM1274 1408L1267 1414L1258 1412L1252 1411L1248 1405L1262 1402L1270 1404zM1130 1555L1123 1546L1124 1537L1132 1536L1135 1548zM1270 1389L1256 1389L1246 1383L1244 1374L1265 1383zM1180 1495L1179 1486L1187 1479L1194 1484L1189 1493zM1101 1552L1095 1551L1084 1548L1081 1543L1083 1538L1089 1539L1100 1546zM1181 1386L1183 1383L1188 1381L1195 1384L1199 1387L1189 1392L1183 1391zM1185 1563L1188 1553L1193 1541L1201 1532L1204 1534L1200 1548L1191 1559zM1143 1472L1138 1474L1124 1474L1116 1466L1115 1461L1130 1460L1138 1463zM1257 1418L1251 1420L1239 1419L1238 1416L1250 1413zM1238 1468L1240 1463L1252 1461L1261 1465L1257 1470L1251 1475L1242 1474zM1293 1483L1287 1477L1291 1466L1296 1466L1301 1472L1297 1481zM1109 1386L1111 1382L1117 1377L1127 1373L1129 1376L1123 1383L1111 1388zM1193 1428L1184 1425L1177 1403L1184 1405L1196 1422zM1235 1549L1232 1545L1235 1537L1239 1534L1242 1540L1241 1544zM1278 1370L1283 1365L1293 1363L1299 1363L1302 1370L1293 1373L1284 1372zM1184 1494L1177 1484L1174 1468L1184 1465L1187 1482zM1168 1523L1163 1522L1161 1516L1162 1509L1167 1505L1173 1510L1173 1523zM1240 1400L1233 1396L1230 1388L1235 1380L1240 1384L1242 1394zM1107 1470L1101 1470L1095 1466L1094 1458L1098 1457L1105 1460zM1141 1480L1135 1479L1121 1467L1119 1461L1128 1464L1139 1473zM1289 1493L1278 1490L1271 1480L1273 1478L1283 1484z" fill="rgb(86,68,224)" fill-opacity="0.88"/>
<path d="M1264 1394L1262 1397L1255 1395L1252 1389L1253 1384L1260 1386L1264 1391zM1076 1558L1079 1552L1088 1547L1095 1550L1092 1558L1084 1561zM1254 1480L1251 1473L1255 1462L1262 1460L1267 1463L1267 1469L1261 1476zM1190 1528L1181 1526L1177 1519L1181 1513L1189 1521zM1222 1408L1219 1402L1219 1397L1224 1391L1230 1394L1229 1407zM1242 1391L1251 1387L1266 1387L1267 1394L1255 1398zM1172 1414L1172 1408L1189 1401L1198 1400L1194 1408L1181 1416zM1211 1547L1198 1548L1190 1546L1182 1536L1189 1534L1208 1542zM1202 1375L1195 1374L1188 1368L1188 1363L1191 1360L1196 1362L1202 1372zM1247 1490L1246 1481L1248 1472L1252 1469L1256 1472L1256 1477L1254 1486zM1210 1410L1206 1408L1201 1404L1199 1396L1204 1394L1208 1395L1213 1403zM1159 1376L1154 1377L1148 1375L1141 1369L1143 1364L1152 1365L1159 1369zM1269 1479L1259 1482L1253 1479L1247 1470L1255 1468L1266 1471zM1199 1434L1195 1425L1203 1412L1209 1412L1208 1429zM1146 1463L1140 1459L1139 1452L1142 1447L1147 1449L1149 1456zM1175 1456L1168 1448L1166 1439L1169 1428L1177 1434L1178 1448zM1150 1413L1144 1402L1143 1388L1152 1385L1154 1400zM1271 1468L1263 1465L1257 1459L1257 1455L1268 1460zM1151 1431L1142 1432L1131 1424L1129 1419L1136 1416L1149 1424zM1073 1379L1079 1371L1091 1366L1097 1368L1098 1373L1081 1380zM1181 1502L1171 1495L1162 1479L1171 1478L1180 1489zM1137 1442L1141 1433L1157 1421L1159 1429L1151 1439zM1265 1381L1267 1370L1279 1360L1289 1357L1286 1365L1273 1380zM1135 1404L1135 1398L1146 1393L1150 1396L1150 1400L1140 1405zM1100 1469L1092 1471L1082 1466L1073 1456L1074 1451L1085 1454L1096 1459zM1161 1465L1156 1468L1137 1464L1133 1453L1145 1453L1158 1456zM1190 1538L1190 1530L1194 1525L1201 1521L1202 1526L1202 1531L1194 1537zM1232 1565L1224 1557L1223 1541L1229 1542L1236 1557zM1153 1443L1147 1434L1150 1417L1156 1415L1158 1436zM1144 1483L1143 1478L1147 1473L1152 1473L1157 1477L1157 1484L1148 1485zM1176 1393L1163 1393L1149 1385L1148 1378L1159 1377L1172 1385zM1201 1534L1201 1530L1214 1520L1222 1518L1215 1528L1206 1535zM1146 1511L1157 1503L1164 1505L1166 1513L1154 1514zM1120 1501L1122 1495L1130 1488L1136 1492L1135 1498L1128 1502zM1215 1488L1207 1479L1204 1464L1211 1462L1217 1474zM1182 1446L1178 1445L1176 1437L1176 1428L1180 1427L1182 1435L1184 1444zM1243 1403L1238 1396L1244 1376L1253 1380L1248 1397zM1190 1421L1192 1407L1198 1398L1203 1400L1195 1417zM1128 1420L1127 1413L1133 1408L1140 1411L1142 1415L1135 1421zM1216 1493L1212 1488L1214 1476L1220 1475L1222 1479L1221 1490zM1270 1387L1261 1388L1244 1377L1244 1371L1255 1367L1267 1374zM1217 1433L1222 1421L1231 1414L1238 1414L1227 1429zM1262 1484L1258 1484L1252 1477L1250 1468L1253 1467L1258 1471L1263 1477zM1117 1507L1115 1510L1103 1506L1100 1502L1101 1497L1107 1496L1116 1502zM1262 1449L1259 1437L1265 1424L1272 1425L1270 1446zM1150 1552L1149 1539L1156 1526L1163 1526L1159 1542zM1243 1461L1238 1462L1231 1460L1230 1456L1231 1452L1237 1453L1240 1456zM1224 1551L1224 1543L1229 1536L1236 1537L1237 1543L1233 1551zM1152 1481L1155 1477L1166 1476L1171 1480L1167 1485L1157 1486zM1097 1415L1092 1413L1087 1406L1090 1396L1096 1395L1102 1402L1102 1409z" fill="rgb(50,32,188)" fill-opacity="0.88"/>
</g></g>
<rect x="1084.3" y="1370.6" width="206.6" height="183.7" filter="url(#sd)"/>
<rect x="1084.3" y="1370.6" width="206.6" height="183.7" filter="url(#sp)"/>
<clipPath id="m6"><rect x="1298" y="1370.6" width="207.1" height="183.7"/></clipPath>
<rect x="1298" y="1370.6" width="207.1" height="183.7" fill="#8080d0" filter="url(#i2)"/>
<g clip-path="url(#m6)"><g filter="url(#mb)">
<path d="M1315 1464L1311 1467L1298 1467L1293 1462L1301 1460L1311 1461zM1497 1562L1492 1562L1483 1552L1481 1542L1482 1537L1490 1545L1496 1554zM1410 1475L1407 1469L1411 1453L1418 1445L1423 1451L1418 1470zM1340 1491L1326 1492L1318 1486L1310 1476L1321 1478L1334 1485zM1397 1455L1397 1446L1399 1441L1407 1437L1410 1444L1404 1452zM1408 1397L1399 1401L1391 1397L1386 1389L1397 1389L1402 1391zM1363 1528L1356 1531L1349 1529L1347 1519L1351 1516L1359 1521zM1348 1455L1342 1452L1333 1444L1332 1437L1334 1432L1344 1441L1348 1451zM1437 1425L1434 1421L1433 1412L1438 1403L1443 1403L1447 1411L1443 1425zM1343 1526L1330 1531L1313 1527L1317 1518L1328 1519zM1375 1396L1369 1402L1360 1395L1363 1388L1374 1390zM1490 1558L1491 1549L1497 1543L1502 1544L1504 1550L1498 1558zM1305 1491L1305 1478L1312 1472L1318 1474L1316 1483zM1425 1448L1430 1441L1437 1442L1444 1444L1438 1450L1429 1450zM1355 1382L1348 1382L1344 1373L1346 1368L1350 1367L1357 1379zM1336 1463L1333 1451L1341 1441L1348 1443L1348 1454zM1482 1542L1479 1536L1480 1530L1485 1527L1491 1528L1491 1533L1487 1539zM1447 1564L1439 1560L1439 1547L1445 1544L1452 1557zM1317 1459L1305 1450L1303 1437L1309 1436L1320 1451zM1307 1433L1314 1424L1323 1420L1330 1423L1328 1428L1316 1435zM1428 1517L1421 1515L1419 1505L1420 1496L1423 1495L1430 1506L1432 1514zM1336 1555L1333 1559L1324 1558L1316 1553L1318 1547L1325 1549L1332 1550zM1337 1504L1338 1496L1346 1486L1354 1489L1345 1503zM1359 1518L1354 1512L1362 1500L1368 1495L1370 1502L1365 1514zM1487 1466L1478 1460L1470 1441L1476 1439L1484 1451zM1336 1471L1329 1465L1327 1458L1331 1448L1338 1454L1342 1468zM1296 1468L1303 1462L1314 1461L1320 1462L1313 1469L1306 1471zM1460 1419L1456 1412L1460 1406L1466 1400L1469 1403L1469 1410L1467 1416zM1386 1398L1383 1399L1375 1395L1375 1387L1381 1387L1387 1394zM1461 1492L1463 1487L1472 1484L1480 1487L1475 1494L1468 1497z" fill="rgb(100,88,208)" fill-opacity="0.75"/>
<path d="M1308 1559L1301 1558L1295 1552L1291 1544L1297 1542L1304 1543L1307 1550zM1388 1459L1380 1454L1375 1443L1378 1437L1382 1440L1387 1448zM1472 1550L1479 1542L1492 1535L1502 1533L1499 1539L1491 1546L1479 1549zM1492 1423L1486 1430L1475 1430L1470 1420L1477 1415L1488 1418zM1394 1424L1404 1414L1422 1416L1423 1423L1406 1429zM1309 1484L1317 1480L1330 1480L1336 1488L1328 1494L1319 1493zM1375 1500L1370 1495L1372 1488L1382 1487L1384 1493zM1412 1487L1412 1479L1417 1469L1422 1469L1419 1483zM1312 1492L1317 1485L1322 1483L1329 1482L1329 1487L1324 1491L1319 1493zM1307 1493L1302 1488L1308 1475L1312 1476L1313 1488zM1402 1416L1398 1411L1402 1403L1407 1400L1412 1402L1411 1410L1407 1416zM1438 1526L1446 1521L1461 1521L1467 1525L1460 1528L1448 1529zM1379 1542L1385 1538L1396 1538L1403 1541L1397 1546L1385 1547zM1460 1550L1466 1541L1481 1535L1484 1538L1469 1553zM1461 1506L1456 1500L1454 1483L1460 1484L1463 1494zM1309 1414L1308 1409L1317 1396L1321 1404L1318 1416zM1475 1479L1468 1475L1467 1464L1471 1454L1480 1459L1479 1472zM1455 1423L1443 1429L1427 1423L1430 1416L1443 1415zM1363 1544L1360 1543L1362 1535L1366 1527L1369 1527L1370 1535L1369 1542zM1500 1415L1494 1409L1496 1400L1506 1393L1514 1394L1511 1405L1507 1412zM1430 1408L1440 1401L1448 1400L1455 1404L1456 1412L1442 1414zM1320 1394L1307 1391L1298 1385L1300 1376L1308 1376L1318 1383zM1519 1518L1508 1520L1498 1512L1501 1502L1516 1510zM1324 1415L1322 1403L1326 1397L1333 1396L1332 1410zM1389 1521L1394 1513L1407 1508L1415 1506L1418 1509L1410 1516L1395 1522zM1415 1504L1422 1494L1430 1492L1444 1495L1444 1501L1437 1507L1424 1508zM1320 1381L1315 1377L1310 1367L1313 1356L1321 1352L1327 1362L1325 1378zM1454 1495L1449 1483L1454 1473L1460 1472L1460 1483z" fill="rgb(122,110,230)" fill-opacity="0.75"/>
<path d="M1290 1520L1299 1513L1311 1514L1316 1518L1301 1523zM1419 1507L1408 1508L1398 1501L1402 1496L1418 1499zM1431 1377L1421 1380L1405 1375L1401 1369L1409 1365L1427 1369zM1423 1427L1416 1428L1405 1419L1401 1411L1408 1412L1419 1421zM1458 1427L1450 1421L1450 1406L1456 1408L1460 1422zM1364 1531L1353 1525L1347 1518L1349 1509L1357 1509L1364 1522zM1331 1441L1325 1441L1318 1426L1320 1419L1327 1423L1333 1432zM1412 1397L1422 1387L1437 1380L1441 1387L1426 1396zM1470 1481L1477 1464L1491 1456L1494 1461L1482 1475zM1352 1439L1345 1438L1335 1430L1331 1419L1332 1415L1343 1424L1348 1431zM1394 1373L1397 1367L1403 1364L1414 1367L1416 1372L1407 1376L1396 1377zM1384 1390L1377 1396L1360 1396L1350 1390L1350 1384L1363 1383L1376 1384zM1454 1477L1452 1470L1456 1457L1462 1450L1465 1455L1465 1462L1458 1476zM1307 1434L1303 1427L1308 1418L1316 1418L1317 1425L1314 1430zM1472 1517L1468 1515L1460 1499L1461 1492L1467 1495L1475 1512zM1467 1402L1457 1399L1448 1390L1445 1381L1448 1375L1461 1382L1465 1392zM1486 1412L1494 1401L1506 1396L1512 1404L1497 1413zM1391 1414L1384 1416L1376 1412L1372 1407L1375 1401L1382 1403L1390 1408zM1501 1464L1492 1468L1474 1458L1477 1452L1491 1456zM1518 1445L1509 1444L1494 1437L1488 1431L1494 1428L1505 1432L1511 1437zM1311 1555L1303 1554L1296 1545L1302 1541L1310 1546zM1405 1460L1400 1455L1394 1443L1397 1439L1405 1444L1407 1452zM1427 1451L1420 1455L1413 1453L1405 1447L1411 1442L1419 1439L1427 1444zM1329 1378L1325 1374L1328 1362L1331 1354L1338 1354L1340 1362L1335 1378zM1373 1497L1364 1493L1355 1477L1362 1475L1376 1486zM1414 1455L1411 1450L1410 1442L1413 1438L1419 1437L1419 1445L1418 1452zM1499 1530L1495 1530L1485 1525L1482 1518L1490 1518L1497 1523zM1400 1401L1390 1398L1383 1390L1380 1380L1382 1378L1392 1384L1399 1394zM1322 1390L1317 1390L1314 1385L1315 1377L1319 1376L1325 1379L1328 1386zM1440 1445L1433 1442L1427 1432L1425 1421L1433 1425L1443 1439zM1394 1391L1390 1391L1387 1379L1387 1372L1391 1371L1396 1376L1396 1391zM1426 1387L1428 1383L1436 1375L1443 1375L1443 1378L1440 1383L1434 1386zM1493 1509L1479 1503L1476 1490L1479 1483L1492 1495z" fill="rgb(86,74,194)" fill-opacity="0.75"/>
</g></g>
<rect x="1298" y="1370.6" width="207.1" height="183.7" filter="url(#sd)"/>
<rect x="1298" y="1370.6" width="207.1" height="183.7" filter="url(#sp)"/>
<clipPath id="m7"><rect x="1084.3" y="1560.9" width="206.6" height="184"/></clipPath>
<rect x="1084.3" y="1560.9" width="206.6" height="184" fill="#8080d0" filter="url(#i3)"/>
<g clip-path="url(#m7)" filter="url(#msh)">
<ellipse cx="1259.9" cy="1671.3" rx="51.7" ry="73.6" fill="rgb(60,42,200)" fill-opacity="0.3"/>
<ellipse cx="1105" cy="1588.5" rx="41.3" ry="36.8" fill="rgb(60,42,200)" fill-opacity="0.3"/>
<ellipse cx="1187.6" cy="1735.7" rx="103.3" ry="18.4" fill="rgb(60,42,200)" fill-opacity="0.2"/>
</g>
<g clip-path="url(#m7)"><g filter="url(#mb)">
<path d="M1262 1656L1267 1650L1282 1651L1283 1656L1280 1662L1265 1662zM1164 1727L1164 1722L1172 1713L1176 1712L1175 1721L1168 1729zM1116 1742L1123 1733L1132 1725L1144 1723L1137 1733L1131 1739zM1270 1610L1276 1605L1293 1603L1298 1607L1294 1611L1281 1615zM1165 1619L1164 1611L1173 1601L1184 1597L1181 1608L1174 1617zM1232 1616L1228 1622L1220 1621L1216 1614L1220 1608L1232 1610zM1117 1639L1108 1637L1096 1626L1101 1622L1111 1626zM1276 1728L1282 1721L1294 1716L1303 1721L1299 1729L1286 1732zM1115 1636L1102 1635L1091 1627L1093 1618L1109 1624zM1234 1629L1230 1629L1219 1625L1206 1615L1210 1613L1220 1617L1230 1623zM1229 1663L1223 1668L1215 1665L1213 1658L1219 1654L1227 1659zM1231 1675L1226 1670L1231 1658L1236 1657L1241 1664L1238 1670zM1182 1586L1183 1580L1192 1576L1202 1577L1202 1581L1196 1588L1188 1590zM1143 1704L1137 1696L1143 1680L1152 1678L1150 1698zM1302 1560L1296 1568L1279 1564L1275 1554L1282 1551L1300 1554zM1262 1672L1255 1666L1250 1652L1250 1641L1257 1649L1262 1664zM1279 1696L1284 1690L1292 1683L1304 1683L1306 1689L1302 1694L1288 1699zM1229 1714L1225 1716L1214 1710L1216 1707L1227 1708zM1240 1659L1242 1654L1250 1650L1259 1649L1260 1653L1254 1658L1247 1661zM1189 1716L1183 1708L1187 1698L1197 1698L1195 1710zM1251 1681L1258 1672L1270 1672L1272 1678L1260 1685zM1113 1727L1118 1721L1127 1718L1133 1723L1127 1729L1121 1732zM1253 1673L1245 1671L1236 1655L1244 1653L1255 1666zM1079 1679L1083 1674L1089 1672L1098 1673L1096 1678L1085 1681zM1176 1638L1180 1634L1190 1632L1202 1635L1199 1639L1188 1642L1177 1642zM1190 1668L1184 1674L1172 1671L1171 1663L1187 1662zM1225 1734L1219 1732L1215 1725L1218 1718L1224 1724L1228 1729zM1162 1720L1146 1718L1141 1710L1145 1702L1161 1712zM1250 1618L1251 1611L1257 1602L1265 1594L1269 1594L1263 1606L1256 1615zM1193 1651L1195 1645L1198 1642L1206 1638L1209 1641L1205 1647L1199 1650zM1182 1588L1179 1582L1179 1572L1184 1562L1190 1563L1191 1574L1189 1584zM1229 1696L1234 1692L1241 1691L1251 1694L1250 1699L1241 1703L1232 1701zM1183 1648L1188 1642L1199 1641L1197 1651L1189 1654zM1263 1734L1267 1724L1275 1723L1277 1729L1269 1734zM1191 1663L1186 1658L1188 1638L1192 1633L1197 1641L1196 1658zM1078 1724L1074 1719L1077 1712L1084 1707L1088 1715L1086 1721zM1287 1591L1278 1588L1275 1582L1275 1576L1281 1576L1288 1588zM1096 1692L1103 1683L1111 1677L1118 1674L1119 1678L1105 1690zM1239 1683L1228 1676L1227 1662L1233 1663L1244 1677zM1266 1596L1267 1589L1273 1581L1277 1582L1276 1588L1272 1593zM1167 1608L1167 1599L1175 1591L1177 1595L1172 1607zM1072 1727L1072 1721L1084 1715L1090 1713L1091 1720L1088 1725L1079 1730zM1245 1611L1247 1605L1254 1593L1259 1591L1264 1593L1263 1601L1254 1611zM1257 1664L1262 1656L1278 1654L1282 1659L1274 1665L1266 1666zM1239 1589L1242 1585L1253 1582L1259 1581L1261 1585L1252 1590L1246 1592zM1194 1754L1192 1752L1210 1736L1214 1738L1212 1744L1200 1755zM1153 1656L1156 1640L1169 1632L1176 1635L1164 1651zM1252 1598L1261 1593L1274 1590L1280 1594L1275 1598L1259 1601zM1264 1689L1260 1690L1245 1681L1239 1674L1248 1672L1261 1679zM1093 1625L1094 1617L1112 1610L1117 1613L1103 1626zM1089 1570L1085 1568L1083 1560L1088 1557L1094 1563zM1110 1629L1104 1628L1100 1622L1098 1617L1102 1614L1108 1618L1110 1623zM1088 1752L1082 1747L1082 1738L1088 1738L1095 1743L1092 1750zM1122 1646L1115 1645L1101 1640L1100 1635L1107 1634L1116 1639zM1130 1699L1140 1694L1158 1691L1161 1697L1142 1702zM1125 1662L1119 1662L1109 1654L1104 1643L1116 1648L1125 1658zM1168 1744L1162 1742L1157 1732L1161 1726L1169 1730L1171 1738zM1119 1740L1126 1732L1132 1728L1144 1729L1138 1734L1125 1741zM1182 1686L1182 1679L1186 1673L1193 1674L1195 1680L1189 1686zM1212 1712L1210 1707L1219 1700L1224 1703L1216 1713zM1078 1643L1078 1634L1085 1623L1089 1623L1085 1633zM1161 1596L1167 1591L1180 1588L1194 1589L1188 1595L1180 1598L1170 1598zM1242 1703L1236 1699L1228 1688L1231 1682L1238 1685L1244 1693zM1218 1688L1220 1685L1234 1684L1237 1686L1241 1690L1234 1693L1219 1692zM1116 1655L1110 1649L1104 1638L1104 1631L1109 1635L1115 1643zM1089 1724L1085 1717L1089 1706L1096 1709L1097 1722zM1125 1609L1126 1604L1141 1599L1140 1604L1132 1610zM1184 1708L1180 1712L1166 1710L1160 1705L1157 1700L1170 1701L1186 1706zM1186 1595L1190 1588L1202 1583L1209 1582L1213 1583L1205 1592L1194 1597zM1132 1722L1127 1723L1118 1710L1118 1704L1129 1704L1133 1713zM1208 1678L1204 1683L1196 1680L1193 1672L1200 1668L1206 1669zM1110 1610L1105 1604L1103 1595L1104 1590L1112 1593L1114 1602zM1099 1622L1099 1612L1103 1603L1112 1596L1119 1595L1114 1608L1109 1619zM1151 1750L1142 1749L1133 1742L1135 1738L1147 1740zM1133 1714L1128 1710L1131 1699L1135 1699L1138 1710zM1251 1718L1247 1714L1248 1702L1251 1697L1257 1706L1256 1717zM1152 1577L1147 1569L1145 1562L1148 1554L1151 1553L1155 1559L1153 1572zM1074 1715L1076 1706L1081 1699L1092 1688L1095 1688L1088 1704L1080 1713zM1271 1629L1273 1623L1284 1615L1295 1615L1300 1615L1293 1625L1280 1629zM1224 1731L1223 1726L1229 1722L1235 1720L1239 1724L1235 1733L1229 1734zM1243 1740L1236 1735L1230 1719L1236 1718L1241 1727zM1074 1653L1076 1648L1081 1645L1090 1645L1091 1651L1087 1654L1076 1654zM1255 1614L1252 1614L1246 1601L1246 1597L1252 1600L1258 1611zM1236 1624L1228 1623L1224 1607L1231 1606L1236 1617zM1083 1707L1085 1702L1090 1693L1098 1694L1100 1697L1097 1703L1088 1708zM1169 1744L1163 1738L1161 1727L1161 1716L1166 1719L1172 1741z" fill="rgb(60,42,200)" fill-opacity="0.9"/>
<path d="M1284 1570L1278 1576L1270 1577L1264 1571L1265 1567L1271 1564L1281 1564zM1217 1675L1208 1679L1201 1676L1199 1669L1209 1668zM1230 1649L1236 1641L1245 1637L1252 1641L1248 1647L1237 1651zM1218 1609L1211 1611L1193 1598L1196 1595L1212 1602zM1107 1647L1105 1633L1110 1620L1116 1617L1119 1627L1114 1637zM1287 1730L1280 1737L1270 1737L1263 1730L1272 1724L1282 1725zM1204 1647L1205 1641L1215 1628L1224 1623L1223 1636L1216 1642zM1261 1629L1254 1628L1251 1617L1260 1615L1266 1622zM1175 1687L1163 1692L1156 1690L1153 1682L1167 1679zM1129 1685L1123 1691L1115 1692L1109 1687L1108 1684L1115 1681L1123 1683zM1151 1690L1142 1696L1127 1693L1120 1686L1126 1683L1141 1684zM1119 1591L1114 1590L1117 1576L1122 1577L1125 1584zM1269 1699L1261 1694L1259 1685L1267 1683L1272 1693zM1202 1642L1200 1638L1208 1627L1215 1625L1220 1626L1216 1635L1207 1644zM1179 1731L1180 1725L1186 1717L1193 1712L1196 1718L1194 1722L1189 1730zM1216 1628L1210 1632L1204 1630L1201 1628L1200 1622L1207 1621L1214 1623zM1137 1685L1130 1676L1131 1669L1138 1664L1143 1674zM1142 1583L1145 1577L1157 1570L1159 1575L1151 1583zM1254 1574L1248 1572L1242 1565L1240 1559L1244 1558L1253 1564zM1094 1633L1087 1625L1086 1611L1094 1609L1098 1620zM1089 1634L1094 1625L1101 1626L1103 1633L1095 1638zM1126 1660L1124 1654L1129 1647L1135 1644L1135 1652L1131 1658zM1265 1684L1273 1678L1284 1677L1295 1681L1296 1687L1284 1688L1270 1688zM1224 1603L1227 1599L1245 1598L1255 1601L1249 1605L1229 1607zM1192 1739L1190 1733L1200 1723L1209 1718L1213 1721L1206 1731L1195 1741zM1278 1722L1278 1715L1285 1707L1294 1705L1296 1708L1292 1717L1285 1722zM1288 1718L1282 1722L1274 1716L1271 1707L1279 1705L1285 1712zM1194 1565L1190 1569L1182 1564L1177 1558L1178 1553L1183 1553L1192 1560zM1173 1639L1167 1637L1162 1629L1164 1620L1171 1627L1174 1633zM1230 1569L1226 1565L1225 1554L1229 1549L1234 1548L1236 1555L1235 1564zM1096 1574L1092 1570L1094 1557L1098 1558L1099 1569zM1191 1748L1184 1733L1187 1726L1194 1721L1195 1739zM1275 1616L1277 1607L1279 1599L1287 1588L1290 1590L1285 1604L1280 1613zM1094 1673L1093 1666L1105 1659L1111 1662L1108 1670L1102 1674zM1087 1590L1095 1584L1108 1582L1110 1589L1095 1595zM1227 1686L1218 1692L1202 1690L1202 1684L1208 1677L1224 1678zM1182 1611L1172 1615L1154 1611L1153 1605L1160 1600L1171 1603zM1264 1731L1266 1720L1270 1713L1276 1706L1278 1711L1272 1723zM1105 1609L1098 1609L1091 1604L1089 1598L1091 1594L1101 1596L1105 1602zM1155 1759L1149 1756L1142 1748L1136 1738L1140 1737L1147 1743L1154 1753zM1137 1704L1131 1703L1118 1695L1109 1685L1122 1689L1130 1694zM1305 1606L1289 1613L1280 1610L1275 1603L1295 1602zM1152 1734L1156 1726L1167 1723L1179 1722L1175 1731L1159 1737zM1250 1718L1244 1714L1248 1702L1252 1701L1258 1707L1254 1719zM1095 1646L1094 1643L1099 1637L1107 1636L1107 1641L1100 1648zM1122 1672L1119 1673L1112 1662L1110 1652L1116 1655L1119 1656L1125 1671zM1110 1651L1114 1644L1126 1646L1125 1655L1119 1655zM1275 1705L1267 1708L1257 1705L1249 1697L1256 1694L1270 1698zM1148 1630L1151 1626L1159 1626L1169 1627L1168 1632L1160 1634L1148 1634zM1112 1733L1108 1729L1115 1713L1123 1705L1124 1720L1119 1729zM1149 1758L1144 1755L1140 1751L1140 1745L1143 1742L1150 1746L1151 1751zM1143 1617L1146 1611L1153 1609L1159 1613L1156 1619L1147 1620zM1247 1664L1243 1660L1244 1648L1247 1638L1254 1640L1256 1648L1253 1657zM1262 1591L1267 1587L1278 1582L1283 1589L1279 1593L1268 1597zM1103 1675L1097 1671L1093 1665L1094 1658L1101 1662L1103 1670zM1125 1727L1126 1717L1131 1710L1136 1706L1143 1711L1139 1721L1132 1728zM1263 1733L1255 1727L1249 1716L1253 1715L1264 1728zM1207 1589L1213 1582L1223 1586L1224 1592L1215 1596zM1187 1615L1177 1614L1174 1601L1182 1601L1187 1609zM1148 1753L1142 1754L1134 1748L1133 1744L1138 1741L1147 1747zM1087 1708L1091 1701L1101 1698L1109 1698L1112 1704L1106 1708L1091 1712zM1083 1642L1090 1636L1098 1632L1099 1638L1091 1643zM1190 1748L1183 1749L1174 1743L1170 1738L1176 1735L1187 1741zM1153 1575L1145 1568L1144 1561L1152 1556L1157 1568zM1216 1754L1214 1748L1215 1741L1220 1734L1225 1739L1226 1744L1222 1750zM1104 1604L1102 1596L1119 1582L1123 1589L1114 1604zM1129 1727L1129 1721L1139 1708L1144 1707L1148 1710L1146 1716L1136 1725zM1160 1730L1164 1722L1172 1716L1184 1716L1185 1720L1178 1728L1171 1732zM1242 1654L1235 1648L1230 1638L1228 1628L1237 1636L1241 1643zM1211 1739L1207 1741L1204 1738L1198 1734L1200 1731L1205 1732L1211 1735zM1238 1603L1231 1595L1230 1588L1234 1584L1240 1593zM1176 1750L1173 1742L1177 1734L1186 1731L1188 1741L1183 1750zM1167 1636L1160 1630L1160 1611L1168 1613L1171 1626zM1187 1564L1182 1564L1177 1561L1174 1556L1176 1553L1181 1553L1186 1559zM1177 1631L1173 1628L1181 1620L1185 1619L1188 1624L1183 1630zM1242 1735L1240 1739L1230 1739L1224 1734L1232 1730L1240 1729zM1143 1586L1128 1586L1116 1574L1120 1565L1132 1571zM1085 1655L1079 1650L1080 1637L1086 1635L1090 1646zM1257 1739L1253 1736L1253 1730L1255 1723L1261 1725L1263 1730L1261 1735zM1261 1672L1268 1666L1283 1663L1286 1671L1270 1675zM1080 1584L1088 1576L1106 1576L1107 1582L1086 1591zM1202 1660L1194 1652L1189 1635L1200 1634L1206 1649zM1121 1578L1123 1574L1133 1567L1140 1565L1144 1567L1137 1573L1126 1579zM1258 1610L1247 1608L1238 1600L1238 1594L1245 1593L1254 1600zM1213 1570L1224 1565L1234 1564L1242 1566L1239 1570L1231 1574L1220 1573zM1219 1594L1213 1596L1206 1594L1203 1589L1208 1587L1216 1589z" fill="rgb(82,64,222)" fill-opacity="0.9"/>
<path d="M1119 1635L1118 1625L1132 1617L1136 1620L1133 1630zM1193 1647L1189 1654L1179 1652L1169 1648L1172 1642L1181 1638L1195 1643zM1082 1699L1087 1691L1094 1688L1098 1695L1092 1701zM1237 1752L1233 1756L1220 1749L1214 1743L1218 1739L1227 1740L1232 1745zM1127 1696L1120 1692L1120 1676L1126 1675L1131 1688zM1154 1713L1149 1714L1143 1707L1144 1703L1153 1708zM1132 1695L1133 1686L1145 1681L1151 1686L1150 1693L1141 1699zM1284 1616L1281 1612L1278 1599L1283 1600L1288 1611zM1302 1608L1289 1607L1277 1599L1277 1595L1292 1599zM1082 1671L1084 1664L1097 1657L1106 1652L1103 1661L1087 1673zM1194 1626L1192 1621L1207 1614L1214 1617L1211 1625L1202 1630zM1197 1656L1189 1659L1183 1655L1181 1650L1185 1646L1190 1647L1195 1650zM1273 1689L1271 1681L1273 1671L1278 1662L1281 1661L1282 1673L1280 1685zM1092 1738L1089 1735L1089 1725L1092 1719L1098 1718L1101 1725L1098 1733zM1306 1592L1296 1590L1289 1585L1284 1577L1286 1572L1293 1575L1300 1582zM1241 1586L1250 1582L1257 1580L1263 1585L1255 1593L1248 1590zM1288 1638L1284 1635L1287 1625L1293 1621L1296 1625L1298 1630L1292 1640zM1159 1707L1161 1700L1174 1687L1182 1688L1183 1697L1174 1707zM1129 1755L1124 1758L1115 1749L1109 1742L1117 1738L1123 1740L1132 1751zM1127 1567L1132 1560L1144 1554L1151 1556L1152 1562L1146 1566L1134 1572zM1229 1638L1233 1631L1250 1625L1250 1629L1242 1635zM1264 1706L1264 1699L1269 1698L1275 1698L1279 1705L1274 1709L1269 1711zM1296 1742L1290 1744L1276 1744L1272 1739L1278 1733L1289 1735zM1207 1621L1201 1625L1188 1625L1183 1621L1179 1613L1192 1612L1201 1616zM1108 1625L1106 1612L1110 1597L1118 1594L1118 1613zM1161 1583L1156 1589L1150 1589L1146 1584L1149 1578L1156 1578zM1277 1607L1273 1600L1273 1588L1279 1579L1285 1580L1287 1593L1285 1604zM1220 1604L1225 1596L1238 1595L1243 1600L1237 1605L1224 1608zM1291 1689L1288 1686L1290 1679L1296 1674L1300 1675L1300 1681L1297 1689zM1171 1688L1175 1682L1181 1678L1190 1681L1186 1686L1175 1691zM1172 1634L1165 1635L1145 1624L1146 1619L1166 1623zM1250 1719L1252 1712L1265 1704L1270 1705L1278 1708L1269 1715L1256 1719zM1269 1571L1260 1562L1262 1548L1270 1551L1274 1560zM1175 1741L1166 1742L1157 1738L1158 1732L1170 1732zM1235 1568L1229 1569L1222 1563L1216 1555L1217 1553L1227 1557L1232 1562zM1287 1703L1282 1698L1278 1688L1279 1683L1283 1683L1289 1696zM1203 1729L1200 1723L1209 1716L1215 1719L1214 1729zM1109 1688L1118 1681L1133 1683L1137 1689L1115 1692zM1161 1652L1153 1648L1148 1643L1151 1639L1159 1645zM1128 1750L1129 1740L1138 1735L1143 1739L1135 1751zM1211 1681L1204 1687L1197 1683L1195 1680L1195 1673L1202 1674L1208 1676zM1243 1692L1231 1692L1223 1691L1217 1687L1219 1683L1234 1685zM1143 1665L1144 1655L1155 1652L1161 1662L1151 1669zM1150 1672L1152 1662L1162 1656L1166 1662L1161 1670zM1081 1747L1082 1745L1094 1741L1108 1743L1104 1748L1096 1752L1083 1752zM1153 1646L1147 1638L1145 1631L1147 1625L1152 1625L1158 1632L1158 1640zM1116 1686L1122 1681L1135 1679L1135 1687L1125 1691zM1088 1595L1082 1592L1082 1581L1084 1567L1091 1568L1094 1576L1093 1589zM1108 1753L1103 1750L1106 1729L1111 1724L1114 1734L1111 1750zM1153 1581L1147 1577L1141 1566L1142 1560L1149 1567L1154 1576zM1260 1732L1259 1727L1267 1718L1275 1717L1274 1722L1269 1729zM1175 1742L1176 1734L1186 1727L1195 1727L1191 1736L1182 1741zM1110 1596L1103 1590L1096 1581L1095 1572L1102 1574L1110 1585zM1240 1747L1232 1748L1221 1747L1213 1738L1215 1734L1226 1735L1235 1740zM1170 1714L1173 1705L1183 1699L1186 1704L1176 1717zM1097 1732L1093 1729L1096 1715L1101 1715L1105 1719L1104 1729zM1240 1754L1239 1743L1245 1735L1252 1739L1248 1748zM1164 1750L1158 1752L1152 1751L1149 1745L1154 1744L1160 1746zM1188 1587L1180 1589L1173 1580L1179 1574L1188 1582zM1213 1731L1214 1724L1219 1719L1225 1716L1227 1721L1227 1726L1219 1731zM1244 1608L1235 1608L1228 1599L1232 1595L1241 1602zM1282 1663L1277 1661L1268 1652L1262 1639L1267 1640L1274 1645L1280 1654zM1201 1611L1198 1607L1203 1597L1207 1598L1206 1608zM1113 1627L1116 1624L1123 1621L1131 1621L1131 1625L1127 1628L1117 1630zM1094 1589L1093 1581L1096 1570L1099 1564L1103 1563L1102 1572L1099 1583zM1116 1691L1108 1689L1104 1677L1107 1668L1113 1670L1119 1685zM1107 1741L1104 1744L1097 1742L1094 1738L1095 1733L1100 1735L1106 1737zM1196 1590L1187 1593L1178 1585L1183 1581L1192 1582zM1117 1566L1120 1556L1128 1553L1133 1559L1123 1567zM1117 1658L1108 1662L1099 1660L1093 1652L1102 1647L1115 1652zM1276 1602L1264 1598L1254 1590L1247 1582L1260 1587L1270 1594zM1094 1652L1089 1644L1087 1639L1091 1632L1094 1633L1098 1644zM1126 1745L1121 1736L1129 1724L1137 1723L1134 1739zM1101 1697L1097 1700L1086 1702L1082 1696L1085 1691L1097 1691zM1196 1680L1190 1684L1180 1684L1173 1679L1176 1673L1182 1673L1193 1675zM1151 1749L1146 1744L1142 1730L1143 1716L1150 1727L1153 1738zM1255 1579L1252 1580L1239 1575L1233 1568L1238 1566L1245 1568L1255 1575zM1258 1731L1260 1723L1266 1715L1274 1710L1277 1715L1276 1722L1266 1729zM1187 1584L1196 1580L1204 1580L1205 1586L1195 1587zM1222 1627L1219 1623L1224 1612L1231 1610L1236 1621L1230 1627zM1295 1675L1288 1672L1283 1663L1283 1657L1291 1660L1298 1670zM1100 1570L1101 1560L1115 1552L1118 1561L1112 1568zM1148 1606L1140 1603L1136 1596L1135 1591L1141 1591L1146 1598zM1170 1606L1167 1600L1171 1582L1175 1585L1177 1594zM1197 1716L1186 1715L1184 1702L1191 1698L1197 1709zM1274 1616L1269 1611L1267 1602L1270 1594L1275 1597L1279 1603L1278 1613zM1092 1678L1095 1674L1112 1672L1123 1673L1120 1677L1112 1680L1097 1680zM1120 1653L1117 1648L1126 1636L1134 1631L1137 1637L1134 1648L1128 1652zM1096 1565L1092 1559L1103 1551L1109 1552L1115 1556L1108 1566L1100 1569zM1211 1737L1202 1733L1198 1727L1204 1723L1212 1730zM1258 1619L1257 1601L1263 1588L1270 1589L1266 1608zM1124 1691L1118 1689L1111 1679L1116 1675L1125 1684zM1100 1662L1094 1661L1090 1650L1091 1642L1100 1643L1104 1654zM1105 1625L1104 1616L1117 1605L1124 1606L1114 1621z" fill="rgb(46,28,186)" fill-opacity="0.9"/>
</g></g>
<rect x="1084.3" y="1560.9" width="206.6" height="184" filter="url(#sd)"/>
<rect x="1084.3" y="1560.9" width="206.6" height="184" filter="url(#sp)"/>
<clipPath id="m8"><rect x="1298" y="1560.9" width="207.1" height="184"/></clipPath>
<rect x="1298" y="1560.9" width="207.1" height="184" fill="#8080d0" filter="url(#i4)"/>
<g clip-path="url(#m8)" filter="url(#msh)">
<ellipse cx="1318.7" cy="1575.6" rx="41.4" ry="22.1" fill="rgb(86,72,202)" fill-opacity="0.25"/>
</g>
<g clip-path="url(#m8)"><g filter="url(#mb)">
<path d="M1446 1694L1442 1690L1441 1672L1446 1674L1450 1688zM1370 1567L1372 1558L1381 1555L1384 1557L1377 1571zM1402 1633L1395 1638L1385 1636L1385 1631L1388 1625L1396 1626zM1325 1597L1326 1587L1336 1578L1342 1586L1332 1599zM1405 1694L1402 1687L1406 1674L1413 1668L1416 1676L1412 1688zM1451 1635L1452 1630L1463 1628L1465 1634L1457 1638zM1287 1748L1290 1738L1297 1735L1307 1738L1305 1747L1294 1751zM1289 1754L1292 1745L1302 1740L1307 1743L1298 1753zM1475 1738L1465 1739L1456 1737L1447 1728L1458 1725L1470 1730zM1440 1645L1427 1643L1417 1632L1422 1630L1433 1634zM1366 1644L1361 1647L1352 1645L1348 1640L1350 1637L1355 1635L1361 1638zM1433 1665L1429 1663L1426 1656L1429 1646L1435 1646L1439 1654L1440 1662zM1445 1751L1442 1746L1448 1733L1456 1737L1456 1746zM1343 1667L1340 1670L1331 1668L1327 1663L1332 1659L1343 1663zM1473 1602L1478 1594L1485 1587L1494 1588L1493 1595L1482 1601zM1356 1665L1355 1657L1361 1653L1367 1661L1364 1667zM1455 1720L1462 1715L1470 1715L1473 1719L1470 1725L1461 1725zM1314 1645L1308 1644L1304 1640L1301 1634L1302 1628L1309 1630L1316 1639zM1404 1672L1397 1667L1398 1647L1406 1648L1409 1660zM1463 1645L1461 1638L1464 1628L1468 1627L1472 1633L1469 1644zM1348 1629L1345 1621L1349 1611L1354 1606L1359 1607L1361 1618L1356 1626zM1299 1684L1296 1674L1299 1665L1307 1667L1308 1676zM1484 1695L1488 1684L1500 1680L1503 1684L1492 1694zM1434 1730L1425 1726L1424 1713L1428 1707L1435 1709L1438 1724zM1309 1700L1302 1699L1292 1689L1294 1682L1307 1691zM1411 1711L1410 1715L1402 1716L1397 1712L1398 1708L1402 1702L1409 1707zM1380 1581L1380 1574L1388 1567L1402 1565L1399 1571L1385 1582zM1316 1733L1313 1728L1316 1715L1321 1716L1322 1724zM1386 1711L1389 1707L1401 1706L1398 1713L1392 1717zM1303 1692L1302 1681L1313 1663L1317 1669L1312 1686zM1293 1740L1294 1732L1302 1729L1304 1734L1299 1742zM1480 1679L1481 1674L1485 1664L1496 1660L1496 1668L1489 1676zM1417 1604L1418 1597L1425 1592L1436 1593L1438 1596L1432 1604L1422 1604zM1322 1653L1323 1642L1339 1630L1346 1632L1342 1641L1333 1649zM1380 1634L1384 1623L1397 1613L1402 1615L1402 1622L1393 1629zM1341 1595L1340 1586L1340 1578L1349 1570L1354 1569L1354 1578L1348 1591zM1332 1667L1328 1672L1312 1665L1315 1660L1325 1659zM1498 1709L1490 1712L1477 1708L1476 1699L1489 1699zM1351 1645L1341 1643L1334 1632L1341 1628L1349 1634zM1407 1611L1404 1614L1394 1613L1383 1606L1387 1603L1393 1602L1406 1606zM1350 1675L1346 1679L1330 1669L1325 1661L1335 1657L1349 1664zM1303 1573L1300 1570L1295 1558L1299 1553L1304 1557L1306 1566zM1435 1584L1424 1581L1417 1572L1419 1563L1428 1565L1433 1572zM1394 1664L1389 1658L1389 1645L1395 1644L1399 1656zM1384 1735L1381 1728L1380 1721L1382 1714L1388 1718L1389 1731z" fill="rgb(86,72,202)" fill-opacity="0.8"/>
<path d="M1350 1704L1350 1692L1354 1686L1360 1689L1360 1697zM1421 1569L1421 1561L1423 1555L1431 1553L1433 1560L1429 1567zM1316 1738L1323 1730L1337 1724L1343 1730L1329 1738zM1397 1753L1393 1748L1400 1734L1406 1732L1408 1738L1403 1750zM1415 1714L1410 1716L1404 1706L1410 1703L1416 1704zM1447 1583L1446 1587L1437 1586L1433 1584L1435 1580L1439 1578L1447 1581zM1453 1745L1455 1737L1465 1733L1476 1733L1476 1741L1467 1746L1458 1748zM1402 1576L1391 1568L1394 1557L1398 1556L1405 1566zM1391 1604L1382 1599L1380 1586L1385 1584L1394 1593zM1304 1697L1296 1700L1290 1696L1287 1690L1289 1687L1298 1687L1303 1692zM1462 1569L1456 1566L1451 1558L1453 1553L1464 1554L1465 1562zM1436 1633L1431 1623L1435 1618L1442 1616L1446 1622L1443 1628zM1359 1661L1349 1663L1333 1654L1340 1648L1352 1653zM1296 1606L1303 1602L1316 1600L1326 1602L1316 1609L1303 1608zM1345 1732L1350 1720L1365 1714L1369 1721L1354 1733zM1461 1678L1465 1672L1470 1670L1478 1673L1477 1679L1470 1683zM1355 1698L1351 1698L1342 1691L1340 1684L1343 1680L1352 1687L1358 1693zM1417 1620L1411 1616L1413 1604L1419 1600L1424 1605L1423 1619zM1306 1720L1310 1711L1328 1708L1327 1715L1317 1722zM1427 1617L1421 1621L1407 1615L1400 1608L1404 1604L1423 1610zM1482 1669L1476 1669L1471 1667L1469 1661L1473 1656L1479 1656L1483 1660zM1331 1694L1326 1693L1328 1683L1334 1675L1339 1675L1341 1686L1336 1693zM1336 1728L1331 1726L1328 1719L1333 1713L1337 1713L1340 1718L1341 1726zM1433 1648L1431 1654L1421 1653L1414 1651L1414 1643L1424 1640L1433 1644zM1391 1578L1387 1583L1378 1580L1374 1576L1374 1571L1385 1570L1391 1573zM1381 1709L1374 1714L1360 1708L1364 1700L1371 1701zM1349 1609L1353 1604L1364 1602L1374 1601L1377 1605L1366 1611L1356 1611zM1477 1748L1474 1742L1480 1732L1486 1731L1488 1736L1481 1747zM1299 1606L1293 1603L1293 1593L1301 1588L1306 1595L1305 1604zM1504 1719L1498 1715L1493 1703L1491 1692L1499 1700L1506 1713zM1394 1580L1405 1575L1416 1575L1417 1580L1404 1585zM1445 1746L1440 1743L1437 1735L1439 1729L1444 1730L1446 1735L1447 1740zM1414 1745L1409 1746L1397 1735L1397 1724L1404 1724L1415 1739zM1477 1659L1468 1661L1459 1651L1466 1647L1475 1652zM1395 1707L1391 1699L1397 1694L1403 1696L1403 1705zM1417 1618L1414 1610L1424 1599L1432 1599L1428 1613zM1443 1719L1446 1711L1453 1706L1458 1711L1452 1719zM1401 1672L1399 1666L1406 1652L1411 1653L1409 1665zM1477 1604L1469 1603L1466 1589L1474 1588L1478 1595zM1440 1721L1432 1714L1432 1707L1438 1702L1445 1705L1444 1716zM1509 1665L1498 1666L1490 1660L1492 1653L1506 1657zM1480 1653L1473 1653L1466 1637L1470 1632L1479 1644zM1428 1653L1429 1648L1438 1645L1441 1646L1441 1653L1433 1655zM1499 1644L1493 1645L1485 1643L1479 1638L1479 1633L1492 1632L1496 1635zM1401 1728L1394 1718L1394 1708L1403 1707L1404 1720zM1309 1685L1305 1676L1313 1663L1321 1666L1317 1680z" fill="rgb(108,94,224)" fill-opacity="0.8"/>
<path d="M1419 1711L1416 1713L1407 1712L1406 1708L1407 1703L1413 1702L1418 1707zM1311 1627L1302 1625L1297 1619L1299 1612L1311 1621zM1371 1692L1367 1683L1369 1675L1375 1676L1375 1684zM1362 1656L1352 1651L1355 1642L1362 1639L1365 1647zM1475 1687L1475 1680L1479 1667L1487 1666L1489 1672L1483 1684zM1351 1670L1347 1666L1348 1661L1351 1654L1355 1653L1357 1661L1355 1668zM1362 1566L1366 1561L1375 1558L1379 1565L1368 1570zM1434 1745L1431 1737L1437 1727L1441 1726L1444 1729L1438 1743zM1408 1588L1404 1584L1401 1575L1402 1569L1407 1564L1410 1571L1411 1583zM1472 1682L1473 1679L1480 1674L1489 1674L1490 1678L1483 1684L1476 1685zM1387 1734L1387 1728L1394 1722L1398 1723L1403 1727L1398 1733L1393 1735zM1357 1709L1353 1715L1339 1714L1330 1708L1329 1704L1341 1701L1356 1704zM1468 1704L1463 1698L1462 1687L1463 1677L1468 1675L1471 1683L1471 1693zM1323 1701L1321 1705L1309 1701L1295 1695L1299 1691L1311 1693L1317 1697zM1454 1748L1455 1742L1468 1739L1473 1743L1468 1751L1456 1752zM1308 1696L1317 1690L1332 1693L1329 1700L1312 1704zM1421 1570L1425 1566L1434 1563L1444 1561L1446 1566L1437 1572L1430 1573zM1422 1617L1417 1614L1417 1600L1421 1598L1427 1608zM1330 1696L1324 1697L1309 1689L1316 1681L1325 1685zM1357 1634L1360 1629L1373 1619L1379 1620L1385 1623L1376 1632L1366 1637zM1482 1590L1476 1588L1467 1574L1467 1567L1483 1581zM1314 1633L1308 1629L1307 1622L1307 1611L1311 1612L1316 1621L1316 1628zM1331 1690L1332 1682L1341 1681L1344 1689L1335 1693zM1395 1585L1392 1579L1401 1571L1407 1574L1400 1587zM1371 1703L1363 1705L1353 1702L1356 1693L1365 1694zM1409 1748L1414 1742L1421 1739L1432 1738L1431 1745L1424 1749L1416 1753zM1499 1675L1502 1670L1508 1667L1515 1671L1511 1675L1504 1679zM1427 1739L1429 1733L1437 1727L1448 1722L1447 1728L1442 1735L1432 1740zM1426 1598L1422 1590L1430 1575L1437 1574L1438 1584L1431 1595zM1481 1573L1479 1568L1491 1560L1497 1560L1495 1568L1484 1573zM1385 1707L1384 1698L1391 1687L1397 1688L1399 1697L1392 1704zM1314 1563L1314 1555L1329 1557L1327 1566L1318 1568zM1401 1749L1408 1745L1420 1741L1428 1742L1430 1747L1421 1750L1411 1751zM1388 1591L1388 1583L1394 1576L1403 1575L1406 1579L1404 1587L1395 1591zM1480 1650L1479 1653L1467 1650L1455 1645L1461 1643L1466 1642L1476 1645zM1331 1572L1322 1573L1315 1567L1315 1559L1324 1563zM1456 1622L1451 1625L1442 1621L1438 1616L1441 1609L1450 1609L1453 1614zM1479 1703L1472 1708L1466 1708L1460 1699L1465 1693L1476 1697z" fill="rgb(72,58,188)" fill-opacity="0.8"/>
</g></g>
<rect x="1298" y="1560.9" width="207.1" height="184" filter="url(#sd)"/>
<rect x="1298" y="1560.9" width="207.1" height="184" filter="url(#sp)"/>
<text class="b" transform="translate(195.7 1356.3) scale(0.955 1)" font-size="35.7" text-anchor="middle">si-con</text>
<text class="b" transform="translate(405 1358.6) scale(0.955 1)" font-size="35.7" text-anchor="middle">si-MALAT1</text>
<text class="b" transform="translate(75.5 1457.8) rotate(-90) scale(0.955 1)" font-size="35.7" text-anchor="middle">Y79</text>
<text class="b" transform="translate(75.5 1646.5) rotate(-90) scale(0.955 1)" font-size="33.9" text-anchor="middle">WERI-Rb-1</text>
<text class="b" transform="translate(1187.4 1364.3) scale(0.955 1)" font-size="35.7" text-anchor="middle">si-con</text>
<text class="b" transform="translate(1397.9 1358.6) scale(0.955 1)" font-size="35.7" text-anchor="middle">si-MALAT1</text>
<text class="b" transform="translate(1065.5 1464.7) rotate(-90) scale(0.955 1)" font-size="35.7" text-anchor="middle">Y79</text>
<text class="b" transform="translate(1067.5 1653.5) rotate(-90) scale(0.955 1)" font-size="33.9" text-anchor="middle">WERI-Rb-1</text>
<text class="b" transform="translate(260.6 893.4) scale(0.955 1)" font-size="27.3" text-anchor="middle">Y79</text>
<clipPath id="c1"><rect x="193.4" y="913" width="157.9" height="36.2"/></clipPath>
<g clip-path="url(#c1)">
<rect x="193.4" y="913" width="157.9" height="36.2" fill="#b9b9b9"/>
<rect x="193.4" y="913" width="157.9" height="36.2" fill="url(#wg)"/>
<rect x="193.4" y="913" width="157.9" height="36.2" fill="url(#wv)"/>
<rect x="207.2" y="922.5" width="52" height="15.6" rx="7.8" fill="#000" fill-opacity="0.3" filter="url(#wb2)"/>
<rect x="209.2" y="924.5" width="48" height="11.6" rx="5.8" fill="#000" fill-opacity="0.8" filter="url(#wb)"/>
<rect x="277.2" y="926.2" width="52" height="17.6" rx="8.8" fill="#000" fill-opacity="0.4" filter="url(#wb2)"/>
<rect x="279.2" y="928.2" width="48" height="13.6" rx="6.8" fill="#000" fill-opacity="1" filter="url(#wb)"/>
<rect x="281.2" y="929.7" width="44" height="10.6" rx="5.3" fill="#000" filter="url(#wb)"/>
</g>
<clipPath id="c2"><rect x="193.4" y="966.3" width="157.9" height="35.7"/></clipPath>
<g clip-path="url(#c2)">
<rect x="193.4" y="966.3" width="157.9" height="35.7" fill="#a6a6a6"/>
<rect x="193.4" y="966.3" width="157.9" height="35.7" fill="url(#wg)"/>
<rect x="193.4" y="966.3" width="157.9" height="35.7" fill="url(#wv)"/>
<rect x="205.2" y="973.7" width="56" height="20.6" rx="10.3" fill="#000" fill-opacity="0.4" filter="url(#wb2)"/>
<rect x="207.2" y="975.7" width="52" height="16.6" rx="8.3" fill="#000" fill-opacity="1" filter="url(#wb)"/>
<rect x="209.2" y="977.2" width="48" height="13.6" rx="6.8" fill="#000" filter="url(#wb)"/>
<rect x="275.2" y="973.5" width="56" height="14.8" rx="7.4" fill="#000" fill-opacity="0.4" filter="url(#wb2)"/>
<rect x="277.2" y="975.5" width="52" height="10.8" rx="5.4" fill="#000" fill-opacity="0.8" filter="url(#wb)"/>
</g>
<clipPath id="c3"><rect x="193.4" y="1018.9" width="157.9" height="38.2"/></clipPath>
<g clip-path="url(#c3)">
<rect x="193.4" y="1018.9" width="157.9" height="38.2" fill="#a9a9a9"/>
<rect x="193.4" y="1018.9" width="157.9" height="38.2" fill="url(#wg)"/>
<rect x="193.4" y="1018.9" width="157.9" height="38.2" fill="url(#wv)"/>
<rect x="206.8" y="1027.4" width="56" height="18.6" rx="9.3" fill="#000" fill-opacity="0.4" filter="url(#wb2)"/>
<rect x="208.8" y="1029.4" width="52" height="14.6" rx="7.3" fill="#000" fill-opacity="1" filter="url(#wb)"/>
<rect x="210.8" y="1030.9" width="48" height="11.6" rx="5.8" fill="#000" filter="url(#wb)"/>
<rect x="278.3" y="1032.8" width="54" height="16.2" rx="8.1" fill="#000" fill-opacity="0.4" filter="url(#wb2)"/>
<rect x="280.3" y="1034.8" width="50" height="12.2" rx="6.1" fill="#000" fill-opacity="0.9" filter="url(#wb)"/>
</g>
<clipPath id="c4"><rect x="193.4" y="1073.7" width="157.9" height="37.2"/></clipPath>
<g clip-path="url(#c4)">
<rect x="193.4" y="1073.7" width="157.9" height="37.2" fill="#b2b2b2"/>
<rect x="193.4" y="1073.7" width="157.9" height="37.2" fill="url(#wg)"/>
<rect x="193.4" y="1073.7" width="157.9" height="37.2" fill="url(#wv)"/>
<rect x="209.7" y="1086.4" width="52" height="14.6" rx="7.3" fill="#000" fill-opacity="0.2" filter="url(#wb2)"/>
<rect x="211.7" y="1088.4" width="48" height="10.6" rx="5.3" fill="#000" fill-opacity="0.5" filter="url(#wb)"/>
<rect x="278.3" y="1083.1" width="56" height="19.6" rx="9.8" fill="#000" fill-opacity="0.4" filter="url(#wb2)"/>
<rect x="280.3" y="1085.1" width="52" height="15.6" rx="7.8" fill="#000" fill-opacity="1" filter="url(#wb)"/>
<rect x="282.3" y="1086.6" width="48" height="12.6" rx="6.3" fill="#000" filter="url(#wb)"/>
</g>
<clipPath id="c5"><rect x="193.4" y="1126.6" width="157.9" height="38.5"/></clipPath>
<g clip-path="url(#c5)">
<rect x="193.4" y="1126.6" width="157.9" height="38.5" fill="#b4b4b4"/>
<rect x="193.4" y="1126.6" width="157.9" height="38.5" fill="url(#wg)"/>
<rect x="193.4" y="1126.6" width="157.9" height="38.5" fill="url(#wv)"/>
<rect x="208" y="1134.7" width="58" height="20.6" rx="10.3" fill="#000" fill-opacity="0.4" filter="url(#wb2)"/>
<rect x="210" y="1136.7" width="54" height="16.6" rx="8.3" fill="#000" fill-opacity="1" filter="url(#wb)"/>
<rect x="212" y="1138.2" width="50" height="13.6" rx="6.8" fill="#000" filter="url(#wb)"/>
<rect x="280.6" y="1134.7" width="56" height="20.6" rx="10.3" fill="#000" fill-opacity="0.4" filter="url(#wb2)"/>
<rect x="282.6" y="1136.7" width="52" height="16.6" rx="8.3" fill="#000" fill-opacity="1" filter="url(#wb)"/>
<rect x="284.6" y="1138.2" width="48" height="13.6" rx="6.8" fill="#000" filter="url(#wb)"/>
</g>
<text class="b" transform="translate(183.5 944.3) scale(0.955 1)" font-size="27.8" text-anchor="end">p21</text>
<text class="b" transform="translate(183.5 994.3) scale(0.955 1)" font-size="27.8" text-anchor="end">CyclinD1</text>
<text class="b" transform="translate(183.5 1042.9) scale(0.955 1)" font-size="27.8" text-anchor="end">Bcl-2</text>
<text class="b" transform="translate(183.5 1152) scale(0.955 1)" font-size="27.8" text-anchor="end">GAPDH</text>
<text class="b" transform="translate(85.7 1082.3) scale(0.955 1)" font-size="27.8">cleaved</text>
<text class="b" transform="translate(85.7 1114.9) scale(0.955 1)" font-size="27.8">-casp-3</text>
<text class="b" transform="translate(236 1182) rotate(-45) scale(0.955 1)" font-size="27.3" text-anchor="end">si-con</text>
<text class="b" transform="translate(314 1188) rotate(-45) scale(0.955 1)" font-size="27.8" text-anchor="end">si-MALAT1</text>
<text class="b" transform="translate(1268.6 893.7) scale(0.955 1)" font-size="27.3" text-anchor="middle">WERI-Rb-1</text>
<clipPath id="c6"><rect x="1191.7" y="907.7" width="152" height="39.4"/></clipPath>
<g clip-path="url(#c6)">
<rect x="1191.7" y="907.7" width="152" height="39.4" fill="#bababa"/>
<rect x="1191.7" y="907.7" width="152" height="39.4" fill="url(#wg)"/>
<rect x="1191.7" y="907.7" width="152" height="39.4" fill="url(#wv)"/>
<rect x="1206.4" y="917.5" width="50" height="13.6" rx="6.8" fill="#000" fill-opacity="0.3" filter="url(#wb2)"/>
<rect x="1208.4" y="919.5" width="46" height="9.6" rx="4.8" fill="#000" fill-opacity="0.8" filter="url(#wb)"/>
<rect x="1273" y="920.7" width="54" height="18.6" rx="9.3" fill="#000" fill-opacity="0.4" filter="url(#wb2)"/>
<rect x="1275" y="922.7" width="50" height="14.6" rx="7.3" fill="#000" fill-opacity="1" filter="url(#wb)"/>
<rect x="1277" y="924.2" width="46" height="11.6" rx="5.8" fill="#000" filter="url(#wb)"/>
</g>
<clipPath id="c7"><rect x="1191.7" y="963.4" width="152" height="38.9"/></clipPath>
<g clip-path="url(#c7)">
<rect x="1191.7" y="963.4" width="152" height="38.9" fill="#9c9c9c"/>
<rect x="1191.7" y="963.4" width="152" height="38.9" fill="url(#wg)"/>
<rect x="1191.7" y="963.4" width="152" height="38.9" fill="url(#wv)"/>
<rect x="1201" y="970.2" width="58" height="23.6" rx="11.8" fill="#000" fill-opacity="0.4" filter="url(#wb2)"/>
<rect x="1203" y="972.2" width="54" height="19.6" rx="9.8" fill="#000" fill-opacity="1" filter="url(#wb)"/>
<rect x="1205" y="973.7" width="50" height="16.6" rx="8.3" fill="#000" filter="url(#wb)"/>
<rect x="1272.6" y="975.5" width="52" height="14.8" rx="7.4" fill="#000" fill-opacity="0.4" filter="url(#wb2)"/>
<rect x="1274.6" y="977.5" width="48" height="10.8" rx="5.4" fill="#000" fill-opacity="0.9" filter="url(#wb)"/>
</g>
<clipPath id="c8"><rect x="1191.7" y="1018.9" width="152" height="34.2"/></clipPath>
<g clip-path="url(#c8)">
<rect x="1191.7" y="1018.9" width="152" height="34.2" fill="#ababab"/>
<rect x="1191.7" y="1018.9" width="152" height="34.2" fill="url(#wg)"/>
<rect x="1191.7" y="1018.9" width="152" height="34.2" fill="url(#wv)"/>
<rect x="1204.9" y="1025.3" width="56" height="19.6" rx="9.8" fill="#000" fill-opacity="0.4" filter="url(#wb2)"/>
<rect x="1206.9" y="1027.3" width="52" height="15.6" rx="7.8" fill="#000" fill-opacity="1" filter="url(#wb)"/>
<rect x="1208.9" y="1028.8" width="48" height="12.6" rx="6.3" fill="#000" filter="url(#wb)"/>
<rect x="1276.4" y="1028.4" width="50" height="14.6" rx="7.3" fill="#000" fill-opacity="0.4" filter="url(#wb2)"/>
<rect x="1278.4" y="1030.4" width="46" height="10.6" rx="5.3" fill="#000" fill-opacity="0.8" filter="url(#wb)"/>
</g>
<clipPath id="c9"><rect x="1191.7" y="1069.4" width="152" height="34.9"/></clipPath>
<g clip-path="url(#c9)">
<rect x="1191.7" y="1069.4" width="152" height="34.9" fill="#b0b0b0"/>
<rect x="1191.7" y="1069.4" width="152" height="34.9" fill="url(#wg)"/>
<rect x="1191.7" y="1069.4" width="152" height="34.9" fill="url(#wv)"/>
<rect x="1206.4" y="1078.4" width="50" height="14.6" rx="7.3" fill="#000" fill-opacity="0.3" filter="url(#wb2)"/>
<rect x="1208.4" y="1080.4" width="46" height="10.6" rx="5.3" fill="#000" fill-opacity="0.6" filter="url(#wb)"/>
<rect x="1273.4" y="1077.3" width="56" height="19.6" rx="9.8" fill="#000" fill-opacity="0.4" filter="url(#wb2)"/>
<rect x="1275.4" y="1079.3" width="52" height="15.6" rx="7.8" fill="#000" fill-opacity="1" filter="url(#wb)"/>
<rect x="1277.4" y="1080.8" width="48" height="12.6" rx="6.3" fill="#000" filter="url(#wb)"/>
</g>
<clipPath id="c10"><rect x="1191.7" y="1120.6" width="152" height="38.8"/></clipPath>
<g clip-path="url(#c10)">
<rect x="1191.7" y="1120.6" width="152" height="38.8" fill="#b6b6b6"/>
<rect x="1191.7" y="1120.6" width="152" height="38.8" fill="url(#wg)"/>
<rect x="1191.7" y="1120.6" width="152" height="38.8" fill="url(#wv)"/>
<rect x="1207.3" y="1130.6" width="54" height="20.6" rx="10.3" fill="#000" fill-opacity="0.4" filter="url(#wb2)"/>
<rect x="1209.3" y="1132.6" width="50" height="16.6" rx="8.3" fill="#000" fill-opacity="1" filter="url(#wb)"/>
<rect x="1211.3" y="1134.1" width="46" height="13.6" rx="6.8" fill="#000" filter="url(#wb)"/>
<rect x="1275.9" y="1131.1" width="54" height="20.6" rx="10.3" fill="#000" fill-opacity="0.4" filter="url(#wb2)"/>
<rect x="1277.9" y="1133.1" width="50" height="16.6" rx="8.3" fill="#000" fill-opacity="1" filter="url(#wb)"/>
<rect x="1279.9" y="1134.6" width="46" height="13.6" rx="6.8" fill="#000" filter="url(#wb)"/>
</g>
<text class="b" transform="translate(1182 937.1) scale(0.955 1)" font-size="27.8" text-anchor="end">p21</text>
<text class="b" transform="translate(1182 994.3) scale(0.955 1)" font-size="27.8" text-anchor="end">CyclinD1</text>
<text class="b" transform="translate(1182 1044.3) scale(0.955 1)" font-size="27.8" text-anchor="end">Bcl-2</text>
<text class="b" transform="translate(1182 1152) scale(0.955 1)" font-size="27.8" text-anchor="end">GAPDH</text>
<text class="b" transform="translate(1084.9 1081.4) scale(0.955 1)" font-size="27.8">cleaved</text>
<text class="b" transform="translate(1084.9 1112.9) scale(0.955 1)" font-size="27.8">-casp-3</text>
<text class="b" transform="translate(1232 1178) rotate(-45) scale(0.955 1)" font-size="27.3" text-anchor="end">si-con</text>
<text class="b" transform="translate(1303 1183) rotate(-45) scale(0.955 1)" font-size="27.8" text-anchor="end">si-MALAT1</text>
<text class="b" transform="translate(257.1 1806.3) scale(0.955 1)" font-size="27.3" text-anchor="middle">Y79</text>
<clipPath id="c11"><rect x="197.1" y="1842.9" width="152" height="35.1"/></clipPath>
<g clip-path="url(#c11)">
<rect x="197.1" y="1842.9" width="152" height="35.1" fill="#b8b8b8"/>
<rect x="197.1" y="1842.9" width="152" height="35.1" fill="url(#wg)"/>
<rect x="197.1" y="1842.9" width="152" height="35.1" fill="url(#wv)"/>
<rect x="211.1" y="1853.6" width="52" height="14.6" rx="7.3" fill="#000" fill-opacity="0.3" filter="url(#wb2)"/>
<rect x="213.1" y="1855.6" width="48" height="10.6" rx="5.3" fill="#000" fill-opacity="0.8" filter="url(#wb)"/>
<rect x="275.9" y="1850.6" width="54" height="20.6" rx="10.3" fill="#000" fill-opacity="0.4" filter="url(#wb2)"/>
<rect x="277.9" y="1852.6" width="50" height="16.6" rx="8.3" fill="#000" fill-opacity="1" filter="url(#wb)"/>
<rect x="279.9" y="1854.1" width="46" height="13.6" rx="6.8" fill="#000" filter="url(#wb)"/>
</g>
<clipPath id="c12"><rect x="197.1" y="1898" width="152" height="35.7"/></clipPath>
<g clip-path="url(#c12)">
<rect x="197.1" y="1898" width="152" height="35.7" fill="#a8a8a8"/>
<rect x="197.1" y="1898" width="152" height="35.7" fill="url(#wg)"/>
<rect x="197.1" y="1898" width="152" height="35.7" fill="url(#wv)"/>
<rect x="210.1" y="1905.3" width="54" height="19.6" rx="9.8" fill="#000" fill-opacity="0.4" filter="url(#wb2)"/>
<rect x="212.1" y="1907.3" width="50" height="15.6" rx="7.8" fill="#000" fill-opacity="1" filter="url(#wb)"/>
<rect x="214.1" y="1908.8" width="46" height="12.6" rx="6.3" fill="#000" filter="url(#wb)"/>
<rect x="278.4" y="1907.5" width="50" height="13.6" rx="6.8" fill="#000" fill-opacity="0.3" filter="url(#wb2)"/>
<rect x="280.4" y="1909.5" width="46" height="9.6" rx="4.8" fill="#000" fill-opacity="0.6" filter="url(#wb)"/>
</g>
<clipPath id="c13"><rect x="197.1" y="1953.7" width="152" height="36.3"/></clipPath>
<g clip-path="url(#c13)">
<rect x="197.1" y="1953.7" width="152" height="36.3" fill="#b4b4b4"/>
<rect x="197.1" y="1953.7" width="152" height="36.3" fill="url(#wg)"/>
<rect x="197.1" y="1953.7" width="152" height="36.3" fill="url(#wv)"/>
<rect x="211.6" y="1961.6" width="54" height="19.6" rx="9.8" fill="#000" fill-opacity="0.4" filter="url(#wb2)"/>
<rect x="213.6" y="1963.6" width="50" height="15.6" rx="7.8" fill="#000" fill-opacity="1" filter="url(#wb)"/>
<rect x="215.6" y="1965.1" width="46" height="12.6" rx="6.3" fill="#000" filter="url(#wb)"/>
<rect x="279.3" y="1963.2" width="50" height="13.6" rx="6.8" fill="#000" fill-opacity="0.3" filter="url(#wb2)"/>
<rect x="281.3" y="1965.2" width="46" height="9.6" rx="4.8" fill="#000" fill-opacity="0.7" filter="url(#wb)"/>
</g>
<clipPath id="c14"><rect x="197.1" y="2008.6" width="152" height="35.7"/></clipPath>
<g clip-path="url(#c14)">
<rect x="197.1" y="2008.6" width="152" height="35.7" fill="#bcbcbc"/>
<rect x="197.1" y="2008.6" width="152" height="35.7" fill="url(#wg)"/>
<rect x="197.1" y="2008.6" width="152" height="35.7" fill="url(#wv)"/>
<rect x="214" y="2016.4" width="52" height="18.6" rx="9.3" fill="#000" fill-opacity="0.4" filter="url(#wb2)"/>
<rect x="216" y="2018.4" width="48" height="14.6" rx="7.3" fill="#000" fill-opacity="1" filter="url(#wb)"/>
<rect x="218" y="2019.9" width="44" height="11.6" rx="5.8" fill="#000" filter="url(#wb)"/>
<rect x="279.7" y="2017" width="52" height="18.6" rx="9.3" fill="#000" fill-opacity="0.4" filter="url(#wb2)"/>
<rect x="281.7" y="2019" width="48" height="14.6" rx="7.3" fill="#000" fill-opacity="1" filter="url(#wb)"/>
<rect x="283.7" y="2020.5" width="44" height="11.6" rx="5.8" fill="#000" filter="url(#wb)"/>
</g>
<text class="b" transform="translate(187 1869.4) scale(0.955 1)" font-size="27.8" text-anchor="end">E-cadherin</text>
<text class="b" transform="translate(187 1922.3) scale(0.955 1)" font-size="27.8" text-anchor="end">N-cadherin</text>
<text class="b" transform="translate(187 1975.7) scale(0.955 1)" font-size="27.8" text-anchor="end">Vimentin</text>
<text class="b" transform="translate(187 2034.9) scale(0.955 1)" font-size="27.8" text-anchor="end">GAPDH</text>
<text class="b" transform="translate(237.5 2058) rotate(-45) scale(0.955 1)" font-size="27.3" text-anchor="end">si-con</text>
<text class="b" transform="translate(310 2063.5) rotate(-45) scale(0.955 1)" font-size="27.8" text-anchor="end">si-MALAT1</text>
<text class="b" transform="translate(1270 1807.1) scale(0.955 1)" font-size="27.3" text-anchor="middle">WERI-Rb-1</text>
<clipPath id="c15"><rect x="1197.1" y="1839.1" width="156.3" height="36.6"/></clipPath>
<g clip-path="url(#c15)">
<rect x="1197.1" y="1839.1" width="156.3" height="36.6" fill="#b6b6b6"/>
<rect x="1197.1" y="1839.1" width="156.3" height="36.6" fill="url(#wg)"/>
<rect x="1197.1" y="1839.1" width="156.3" height="36.6" fill="url(#wv)"/>
<rect x="1214.6" y="1851.3" width="52" height="14.6" rx="7.3" fill="#000" fill-opacity="0.3" filter="url(#wb2)"/>
<rect x="1216.6" y="1853.3" width="48" height="10.6" rx="5.3" fill="#000" fill-opacity="0.8" filter="url(#wb)"/>
<rect x="1280.6" y="1847.8" width="56" height="18.6" rx="9.3" fill="#000" fill-opacity="0.4" filter="url(#wb2)"/>
<rect x="1282.6" y="1849.8" width="52" height="14.6" rx="7.3" fill="#000" fill-opacity="1" filter="url(#wb)"/>
<rect x="1284.6" y="1851.3" width="48" height="11.6" rx="5.8" fill="#000" filter="url(#wb)"/>
</g>
<clipPath id="c16"><rect x="1197.1" y="1892.3" width="156.3" height="36.3"/></clipPath>
<g clip-path="url(#c16)">
<rect x="1197.1" y="1892.3" width="156.3" height="36.3" fill="#a8a8a8"/>
<rect x="1197.1" y="1892.3" width="156.3" height="36.3" fill="url(#wg)"/>
<rect x="1197.1" y="1892.3" width="156.3" height="36.3" fill="url(#wv)"/>
<rect x="1209.6" y="1896.3" width="58" height="21.6" rx="10.8" fill="#000" fill-opacity="0.4" filter="url(#wb2)"/>
<rect x="1211.6" y="1898.3" width="54" height="17.6" rx="8.8" fill="#000" fill-opacity="1" filter="url(#wb)"/>
<rect x="1213.6" y="1899.8" width="50" height="14.6" rx="7.3" fill="#000" filter="url(#wb)"/>
<rect x="1281.1" y="1899.5" width="52" height="13.6" rx="6.8" fill="#000" fill-opacity="0.4" filter="url(#wb2)"/>
<rect x="1283.1" y="1901.5" width="48" height="9.6" rx="4.8" fill="#000" fill-opacity="0.9" filter="url(#wb)"/>
</g>
<clipPath id="c17"><rect x="1197.1" y="1945.1" width="156.3" height="38.6"/></clipPath>
<g clip-path="url(#c17)">
<rect x="1197.1" y="1945.1" width="156.3" height="38.6" fill="#9e9e9e"/>
<rect x="1197.1" y="1945.1" width="156.3" height="38.6" fill="url(#wg)"/>
<rect x="1197.1" y="1945.1" width="156.3" height="38.6" fill="url(#wv)"/>
<rect x="1211.4" y="1952.9" width="56" height="21.6" rx="10.8" fill="#000" fill-opacity="0.4" filter="url(#wb2)"/>
<rect x="1213.4" y="1954.9" width="52" height="17.6" rx="8.8" fill="#000" fill-opacity="1" filter="url(#wb)"/>
<rect x="1215.4" y="1956.4" width="48" height="14.6" rx="7.3" fill="#000" filter="url(#wb)"/>
<rect x="1281.1" y="1955.1" width="52" height="15.6" rx="7.8" fill="#000" fill-opacity="0.4" filter="url(#wb2)"/>
<rect x="1283.1" y="1957.1" width="48" height="11.6" rx="5.8" fill="#000" fill-opacity="0.9" filter="url(#wb)"/>
</g>
<clipPath id="c18"><rect x="1197.1" y="2000.6" width="156.3" height="35.7"/></clipPath>
<g clip-path="url(#c18)">
<rect x="1197.1" y="2000.6" width="156.3" height="35.7" fill="#cacaca"/>
<rect x="1197.1" y="2000.6" width="156.3" height="35.7" fill="url(#wg)"/>
<rect x="1197.1" y="2000.6" width="156.3" height="35.7" fill="url(#wv)"/>
<rect x="1210.1" y="2005.9" width="54" height="19.6" rx="9.8" fill="#000" fill-opacity="0.4" filter="url(#wb2)"/>
<rect x="1212.1" y="2007.9" width="50" height="15.6" rx="7.8" fill="#000" fill-opacity="1" filter="url(#wb)"/>
<rect x="1214.1" y="2009.4" width="46" height="12.6" rx="6.3" fill="#000" filter="url(#wb)"/>
<rect x="1277.3" y="2009.3" width="54" height="19.6" rx="9.8" fill="#000" fill-opacity="0.4" filter="url(#wb2)"/>
<rect x="1279.3" y="2011.3" width="50" height="15.6" rx="7.8" fill="#000" fill-opacity="1" filter="url(#wb)"/>
<rect x="1281.3" y="2012.8" width="46" height="12.6" rx="6.3" fill="#000" filter="url(#wb)"/>
</g>
<text class="b" transform="translate(1186.8 1865.7) scale(0.955 1)" font-size="27.8" text-anchor="end">E-cadherin</text>
<text class="b" transform="translate(1186.8 1920.6) scale(0.955 1)" font-size="27.8" text-anchor="end">N-cadherin</text>
<text class="b" transform="translate(1186.8 1974.3) scale(0.955 1)" font-size="27.8" text-anchor="end">Vimentin</text>
<text class="b" transform="translate(1186.8 2027.7) scale(0.955 1)" font-size="27.8" text-anchor="end">GAPDH</text>
<text class="b" transform="translate(1243 2056) rotate(-45) scale(0.955 1)" font-size="27.3" text-anchor="end">si-con</text>
<text class="b" transform="translate(1313 2059.5) rotate(-45) scale(0.955 1)" font-size="27.8" text-anchor="end">si-MALAT1</text>
<path d="M94.3 522.9 V788.6 H635.7" fill="none" stroke="#000" stroke-width="3"/>
<path d="M94.3 502.9 l-10.8 26 h21.6z"/>
<path d="M655.7 788.6 l-26 -10.5 v21z"/>
<text class="b" transform="translate(272.9 455.7) scale(0.955 1)" font-size="36.2" text-anchor="middle">si-con</text>
<text class="b" transform="translate(596 458.6) scale(0.955 1)" font-size="36.2" text-anchor="middle">si-MALAT1</text>
<text class="b" transform="translate(48 584) rotate(-90) scale(0.955 1)" font-size="36.2" text-anchor="middle">Y79</text>
<text class="b" transform="translate(46 726.6) scale(0.955 1)" font-size="36.2">PI</text>
<text class="b" transform="translate(305.7 823.7) scale(0.955 1)" font-size="36.2">Annexin V-FITC</text>
<rect x="143.9" y="470.6" width="279.8" height="276.9" fill="#fff"/>
<ellipse cx="244" cy="712" rx="28" ry="15.5" transform="rotate(-22 244 712)" fill="#ff0000" fill-opacity="1.0" filter="url(#fb)"/>
<ellipse cx="267" cy="696" rx="14" ry="9" transform="rotate(-40 267 696)" fill="#ff0000" fill-opacity="0.95" filter="url(#fb)"/>
<path d="M175 713zm7 29zm2-4zm0 2zm1-22zm1-1zm0 9zm1 2zm2-12zm0 10zm0 8zm3-2zm0 7zm0 3zm2-16zm0 4zm0 8zm1-28zm0 13zm1-65zm1 77zm0 8zm1-16zm1-4zm0 7zm1-14zm0 3zm0 3zm0 12zm0 7zm1-30zm0 8zm0 6zm1-16zm0 1zm0 1zm1-5zm0 9zm0 1zm0 1zm0 4zm0 8zm0 9zm1-27zm0 4zm0 12zm0 2zm1-33zm0 8zm0 5zm0 9zm0 4zm0 1zm0 4zm0 1zm0 5zm0 5zm1-22zm0 5zm0 2zm0 12zm1-37zm0 7zm0 2zm0 5zm0 7zm0 1zm0 19zm1-32zm0 6zm0 2zm0 17zm0 1zm0 6zm0 1zm1-48zm0 19zm0 3zm0 6zm0 2zm0 2zm0 6zm0 9zm0 4zm1-55zm0 17zm0 4zm0 1zm0 2zm0 1zm0 2zm0 9zm0 3zm0 1zm0 2zm0 4zm0 2zm1-39zm0 18zm0 11zm1-30zm0 13zm0 1zm0 1zm0 4zm0 1zm0 2zm0 2zm0 1zm0 2zm0 3zm0 4zm0 1zm1-39zm0 9zm0 2zm0 7zm0 1zm0 1zm0 3zm0 1zm0 2zm0 3zm0 1zm0 1zm0 1zm0 2zm0 10zm0 3zm0 1zm0 2zm1-42zm0 6zm0 1zm0 7zm0 3zm0 3zm0 1zm0 2zm0 2zm0 1zm0 3zm0 2zm0 4zm0 1zm0 3zm0 4zm1-49zm0 5zm0 6zm0 7zm0 1zm0 2zm0 1zm0 2zm0 2zm0 2zm0 2zm0 1zm0 2zm0 5zm0 3zm0 5zm1-44zm0 6zm0 6zm0 9zm0 1zm0 5zm0 3zm0 2zm0 5zm0 2zm0 5zm1-46zm0 6zm0 3zm0 1zm0 3zm0 1zm0 4zm0 3zm0 3zm0 1zm0 5zm0 1zm0 2zm0 2zm0 2zm0 1zm0 1zm1-36zm0 9zm0 3zm0 1zm0 4zm0 2zm0 2zm0 1zm0 2zm0 2zm0 1zm0 3zm0 3zm0 1zm0 3zm0 3zm0 1zm1-42zm0 11zm0 1zm0 2zm0 10zm0 1zm0 1zm0 1zm0 1zm0 2zm1-23zm0 6zm0 5zm0 3zm0 1zm0 3zm0 3zm0 5zm0 3zm0 8zm1-34zm0 4zm0 1zm0 2zm0 2zm0 1zm0 1zm0 1zm0 2zm0 1zm0 1zm0 4zm0 5zm1-41zm0 8zm0 4zm0 1zm0 9zm0 1zm0 6zm0 2zm0 1zm0 5zm0 1zm0 1zm0 2zm0 5zm0 2zm0 5zm1-46zm0 2zm0 3zm0 2zm0 1zm0 7zm0 2zm0 1zm0 3zm0 1zm0 1zm0 1zm0 2zm0 2zm0 1zm0 1zm0 2zm0 7zm0 2zm0 3zm1-59zm0 12zm0 5zm0 2zm0 1zm0 1zm0 2zm0 2zm0 3zm0 4zm0 1zm0 1zm0 6zm0 2zm0 2zm0 2zm0 1zm0 3zm0 1zm0 2zm1-46zm0 15zm0 3zm0 3zm0 1zm0 1zm0 1zm0 1zm0 3zm0 1zm0 1zm0 2zm0 1zm0 1zm0 1zm0 3zm0 4zm0 1zm0 3zm0 2zm1-37zm0 4zm0 4zm0 4zm0 1zm0 3zm0 2zm0 2zm0 1zm0 1zm0 1zm0 1zm0 5zm0 2zm0 2zm0 1zm0 1zm0 4zm0 6zm1-62zm0 26zm0 2zm0 1zm0 1zm0 2zm0 5zm0 1zm0 1zm0 1zm0 1zm0 3zm0 1zm0 1zm0 1zm0 1zm0 3zm0 3zm1-47zm0 8zm0 7zm0 1zm0 3zm0 1zm0 1zm0 1zm0 3zm0 1zm0 1zm0 1zm0 2zm0 1zm0 2zm0 3zm0 1zm0 1zm0 1zm0 2zm0 1zm0 1zm0 4zm0 3zm0 1zm1-112zm0 66zm0 3zm0 1zm0 1zm0 3zm0 2zm0 2zm0 2zm0 2zm0 2zm0 1zm0 1zm0 2zm0 2zm0 1zm0 1zm0 1zm0 1zm0 2zm0 1zm0 4zm0 1zm0 4zm1-50zm0 8zm0 2zm0 3zm0 1zm0 2zm0 1zm0 1zm0 1zm0 1zm0 3zm0 1zm0 1zm0 1zm0 3zm0 1zm0 3zm0 1zm0 1zm0 3zm0 1zm0 3zm0 2zm0 1zm1-49zm0 19zm0 1zm0 3zm0 2zm0 1zm0 3zm0 4zm0 1zm0 3zm0 2zm0 1zm0 2zm0 1zm0 2zm0 2zm0 7zm0 1zm1-39zm0 1zm0 3zm0 1zm0 2zm0 2zm0 2zm0 2zm0 1zm0 1zm0 1zm0 1zm0 1zm0 1zm0 2zm0 2zm0 1zm0 1zm0 2zm0 5zm0 4zm0 5zm0 2zm0 3zm1-48zm0 3zm0 3zm0 2zm0 2zm0 4zm0 1zm0 1zm0 1zm0 1zm0 1zm0 1zm0 1zm0 1zm0 1zm0 1zm0 2zm0 3zm0 2zm0 2zm0 3zm0 1zm0 2zm0 4zm0 1zm1-60zm0 6zm0 3zm0 3zm0 1zm0 3zm0 8zm0 3zm0 1zm0 4zm0 1zm0 1zm0 1zm0 1zm0 1zm0 2zm0 3zm0 3zm0 1zm0 2zm0 2zm0 3zm0 1zm0 1zm0 5zm1-98zm0 47zm0 7zm0 2zm0 1zm0 1zm0 1zm0 2zm0 1zm0 1zm0 3zm0 1zm0 1zm0 4zm0 1zm0 1zm0 1zm0 1zm0 1zm0 2zm0 2zm0 1zm0 1zm0 5zm0 10zm0 1zm0 1zm0 1zm1-125zm0 9zm0 56zm0 4zm0 8zm0 2zm0 1zm0 1zm0 1zm0 1zm0 3zm0 2zm0 1zm0 3zm0 1zm0 1zm0 1zm0 1zm0 1zm0 1zm0 2zm0 1zm0 1zm0 3zm0 3zm0 1zm0 2zm0 2zm0 11zm1-65zm0 9zm0 6zm0 9zm0 2zm0 1zm0 1zm0 5zm0 1zm0 1zm0 2zm0 1zm0 1zm0 1zm0 1zm0 2zm0 1zm0 1zm0 1zm0 1zm0 1zm0 1zm0 1zm0 1zm0 2zm0 4zm0 2zm0 2zm1-49zm0 4zm0 8zm0 1zm0 1zm0 2zm0 1zm0 1zm0 3zm0 1zm0 2zm0 1zm0 1zm0 2zm0 1zm0 1zm0 2zm0 1zm0 2zm0 1zm0 4zm0 1zm0 2zm0 2zm0 1zm1-48zm0 3zm0 3zm0 2zm0 1zm0 6zm0 1zm0 3zm0 1zm0 1zm0 1zm0 2zm0 1zm0 2zm0 2zm0 1zm0 2zm0 1zm0 1zm0 1zm0 1zm0 1zm0 1zm0 1zm0 1zm0 4zm0 1zm0 2zm0 1zm1-63zm0 23zm0 6zm0 1zm0 1zm0 1zm0 2zm0 1zm0 1zm0 1zm0 2zm0 2zm0 1zm0 1zm0 4zm0 1zm0 2zm0 1zm0 1zm0 1zm0 1zm0 1zm0 7zm0 1zm1-54zm0 2zm0 2zm0 3zm0 4zm0 1zm0 2zm0 1zm0 1zm0 4zm0 1zm0 1zm0 2zm0 1zm0 2zm0 1zm0 1zm0 1zm0 1zm0 1zm0 2zm0 1zm0 1zm0 1zm0 1zm0 2zm0 1zm0 3zm0 1zm0 2zm0 2zm0 2zm0 1zm0 1zm0 1zm1-46zm0 4zm0 4zm0 2zm0 2zm0 1zm0 1zm0 2zm0 1zm0 1zm0 1zm0 1zm0 2zm0 1zm0 1zm0 1zm0 2zm0 2zm0 1zm0 1zm0 1zm0 1zm0 1zm0 2zm0 3zm0 2zm0 1zm0 1zm0 1zm0 12zm1-58zm0 5zm0 4zm0 1zm0 1zm0 1zm0 1zm0 1zm0 1zm0 2zm0 2zm0 1zm0 1zm0 2zm0 1zm0 1zm0 1zm0 1zm0 3zm0 1zm0 1zm0 1zm0 1zm0 2zm0 2zm0 1zm0 1zm0 1zm0 3zm0 1zm0 2zm0 3zm1-49zm0 3zm0 1zm0 1zm0 2zm0 1zm0 3zm0 2zm0 1zm0 2zm0 1zm0 2zm0 1zm0 1zm0 1zm0 1zm0 2zm0 2zm0 1zm0 1zm0 2zm0 3zm0 1zm0 1zm0 1zm0 2zm0 1zm0 1zm0 1zm0 1zm0 1zm0 3zm1-59zm0 12zm0 3zm0 5zm0 5zm0 2zm0 3zm0 1zm0 1zm0 1zm0 1zm0 2zm0 1zm0 4zm0 1zm0 4zm0 2zm0 1zm0 3zm0 3zm0 3zm1-107zm0 66zm0 2zm0 1zm0 1zm0 1zm0 2zm0 2zm0 1zm0 1zm0 1zm0 3zm0 2zm0 2zm0 1zm0 1zm0 1zm0 2zm0 1zm0 1zm0 1zm0 1zm0 2zm0 1zm0 2zm0 1zm0 2zm0 1zm0 2zm0 2zm0 3zm1-63zm0 18zm0 2zm0 3zm0 2zm0 2zm0 2zm0 1zm0 1zm0 1zm0 3zm0 2zm0 1zm0 2zm0 2zm0 2zm0 1zm0 1zm0 2zm0 4zm0 2zm0 2zm0 1zm0 2zm0 9zm1-64zm0 5zm0 3zm0 2zm0 3zm0 1zm0 1zm0 1zm0 1zm0 1zm0 1zm0 1zm0 2zm0 1zm0 1zm0 2zm0 1zm0 3zm0 1zm0 2zm0 3zm0 1zm0 1zm0 3zm0 1zm0 1zm0 1zm0 2zm0 1zm0 1zm0 2zm0 4zm1-103zm0 56zm0 6zm0 5zm0 3zm0 1zm0 1zm0 2zm0 1zm0 1zm0 1zm0 2zm0 1zm0 2zm0 1zm0 1zm0 1zm0 1zm0 1zm0 1zm0 2zm0 1zm0 1zm0 1zm0 1zm0 3zm0 2zm0 1zm0 4zm0 3zm0 2zm0 2zm1-66zm0 13zm0 1zm0 7zm0 2zm0 3zm0 1zm0 1zm0 1zm0 1zm0 2zm0 2zm0 2zm0 1zm0 1zm0 2zm0 1zm0 3zm0 2zm0 1zm0 2zm0 1zm0 3zm0 5zm0 1zm0 2zm0 3zm1-124zm0 74zm0 2zm0 3zm0 2zm0 3zm0 1zm0 2zm0 2zm0 2zm0 1zm0 1zm0 1zm0 1zm0 1zm0 1zm0 1zm0 1zm0 1zm0 2zm0 1zm0 1zm0 1zm0 1zm0 1zm0 1zm0 1zm0 1zm0 9zm1-126zm0 63zm0 14zm0 6zm0 3zm0 4zm0 3zm0 1zm0 1zm0 3zm0 1zm0 1zm0 1zm0 1zm0 2zm0 1zm0 1zm0 1zm0 2zm0 2zm0 2zm0 1zm0 1zm0 1zm0 1zm0 1zm0 2zm0 2zm0 4zm0 10zm1-63zm0 8zm0 1zm0 2zm0 1zm0 3zm0 1zm0 2zm0 2zm0 1zm0 2zm0 1zm0 1zm0 1zm0 1zm0 1zm0 1zm0 1zm0 2zm0 2zm0 1zm0 1zm0 1zm0 1zm0 1zm0 1zm0 2zm0 1zm0 1zm0 6zm1-119zm0 27zm0 36zm0 12zm0 1zm0 2zm0 2zm0 1zm0 1zm0 1zm0 1zm0 1zm0 1zm0 2zm0 1zm0 2zm0 1zm0 1zm0 1zm0 1zm0 2zm0 1zm0 1zm0 1zm0 1zm0 1zm0 1zm0 1zm0 2zm0 1zm0 1zm0 3zm0 1zm0 1zm0 1zm0 2zm0 2zm0 1zm0 5zm1-117zm0 67zm0 5zm0 1zm0 3zm0 4zm0 1zm0 5zm0 1zm0 1zm0 1zm0 1zm0 1zm0 1zm0 1zm0 1zm0 4zm0 2zm0 1zm0 2zm0 3zm0 1zm0 9zm1-120zm0 60zm0 16zm0 1zm0 1zm0 2zm0 1zm0 1zm0 1zm0 1zm0 1zm0 1zm0 1zm0 1zm0 2zm0 1zm0 1zm0 1zm0 2zm0 1zm0 2zm0 1zm0 1zm0 1zm0 5zm0 2zm0 1zm0 1zm0 1zm0 3zm0 6zm1-63zm0 1zm0 6zm0 5zm0 1zm0 2zm0 4zm0 1zm0 8zm0 2zm0 3zm0 1zm0 1zm0 1zm0 1zm0 1zm0 1zm0 1zm0 1zm0 1zm0 1zm0 4zm0 2zm0 2zm0 2zm0 1zm0 3zm0 9zm1-105zm0 11zm0 28zm0 3zm0 1zm0 16zm0 2zm0 5zm0 2zm0 1zm0 1zm0 1zm0 2zm0 1zm0 4zm0 1zm0 2zm0 2zm0 1zm0 1zm0 1zm0 1zm0 3zm0 1zm0 1zm0 1zm0 2zm0 1zm0 1zm0 3zm0 3zm1-118zm0 21zm0 41zm0 4zm0 3zm0 5zm0 6zm0 2zm0 1zm0 1zm0 1zm0 2zm0 2zm0 1zm0 1zm0 2zm0 5zm0 5zm0 1zm0 2zm0 14zm0 5zm1-139zm0 74zm0 9zm0 2zm0 1zm0 3zm0 2zm0 2zm0 2zm0 1zm0 1zm0 1zm0 3zm0 1zm0 3zm0 1zm0 1zm0 1zm0 4zm0 2zm0 1zm0 1zm0 1zm0 1zm0 1zm0 1zm0 2zm0 1zm0 5zm0 1zm0 4zm0 4zm1-117zm0 16zm0 29zm0 7zm0 8zm0 4zm0 1zm0 1zm0 1zm0 1zm0 3zm0 1zm0 1zm0 2zm0 3zm0 1zm0 1zm0 2zm0 1zm0 1zm0 1zm0 1zm0 1zm0 1zm0 1zm0 3zm0 1zm0 1zm0 2zm0 1zm0 2zm0 1zm0 1zm0 2zm0 3zm1-93zm0 36zm0 4zm0 3zm0 8zm0 5zm0 2zm0 2zm0 2zm0 3zm0 2zm0 1zm0 3zm0 1zm0 1zm0 1zm0 1zm0 2zm0 2zm0 8zm0 1zm0 2zm0 3zm0 3zm0 4zm0 8zm1-66zm0 1zm0 8zm0 1zm0 1zm0 1zm0 5zm0 4zm0 2zm0 1zm0 2zm0 1zm0 1zm0 1zm0 2zm0 3zm0 4zm0 1zm0 1zm0 2zm0 1zm0 2zm0 2zm0 1zm0 11zm1-122zm0 59zm0 5zm0 2zm0 3zm0 3zm0 1zm0 3zm0 1zm0 4zm0 1zm0 1zm0 1zm0 2zm0 1zm0 1zm0 2zm0 1zm0 1zm0 2zm0 1zm0 1zm0 1zm0 1zm0 2zm0 3zm0 13zm0 13zm1-118zm0 15zm0 28zm0 2zm0 7zm0 1zm0 1zm0 4zm0 2zm0 2zm0 2zm0 1zm0 1zm0 2zm0 3zm0 2zm0 1zm0 2zm0 2zm0 2zm0 1zm0 1zm0 4zm0 1zm0 6zm0 7zm0 16zm1-67zm0 2zm0 4zm0 2zm0 2zm0 1zm0 2zm0 3zm0 2zm0 1zm0 3zm0 1zm0 1zm0 2zm0 1zm0 1zm0 1zm0 2zm0 1zm0 1zm0 2zm0 1zm0 1zm0 1zm0 1zm0 1zm0 8zm0 2zm0 8zm1-118zm0 12zm0 49zm0 1zm0 2zm0 1zm0 3zm0 3zm0 3zm0 2zm0 1zm0 1zm0 1zm0 2zm0 1zm0 2zm0 1zm0 2zm0 3zm0 1zm0 2zm0 5zm0 1zm0 1zm0 1zm0 3zm0 2zm0 5zm0 4zm1-62zm0 7zm0 7zm0 4zm0 1zm0 1zm0 4zm0 1zm0 1zm0 1zm0 1zm0 1zm0 1zm0 1zm0 2zm0 1zm0 1zm0 2zm0 3zm0 1zm0 1zm0 2zm0 1zm0 3zm0 6zm0 1zm0 6zm1-111zm0 47zm0 4zm0 3zm0 3zm0 1zm0 10zm0 4zm0 4zm0 2zm0 1zm0 1zm0 2zm0 1zm0 1zm0 1zm0 2zm0 9zm0 2zm0 1zm0 4zm1-97zm0 10zm0 10zm0 31zm0 4zm0 4zm0 3zm0 3zm0 3zm0 3zm0 2zm0 1zm0 1zm0 3zm0 1zm0 2zm0 8zm0 6zm0 24zm1-142zm0 70zm0 6zm0 1zm0 3zm0 2zm0 2zm0 1zm0 1zm0 1zm0 1zm0 1zm0 5zm0 1zm0 1zm0 1zm0 2zm0 1zm0 1zm0 6zm0 2zm0 1zm0 1zm0 1zm0 6zm0 3zm0 5zm0 2zm1-56zm0 1zm0 2zm0 4zm0 7zm0 1zm0 1zm0 4zm0 1zm0 1zm0 1zm0 1zm0 1zm0 1zm0 4zm0 2zm0 4zm0 2zm0 1zm0 2zm0 1zm0 5zm0 3zm0 3zm0 1zm0 6zm1-114zm0 5zm0 55zm0 1zm0 3zm0 1zm0 3zm0 1zm0 1zm0 2zm0 1zm0 1zm0 1zm0 2zm0 2zm0 3zm0 3zm0 1zm0 2zm0 3zm0 1zm0 2zm0 9zm0 6zm1-110zm0 9zm0 12zm0 34zm0 1zm0 1zm0 4zm0 3zm0 11zm0 1zm0 1zm0 1zm0 2zm0 1zm0 1zm0 1zm0 2zm0 3zm0 2zm0 1zm0 2zm0 2zm0 8zm0 5zm0 8zm1-111zm0 6zm0 2zm0 4zm0 37zm0 3zm0 7zm0 1zm0 4zm0 1zm0 1zm0 1zm0 1zm0 1zm0 1zm0 1zm0 3zm0 1zm0 1zm0 3zm0 1zm0 1zm0 3zm0 2zm0 1zm0 5zm0 2zm0 5zm0 6zm0 3zm1-122zm0 58zm0 1zm0 1zm0 6zm0 2zm0 1zm0 2zm0 2zm0 1zm0 1zm0 2zm0 2zm0 1zm0 1zm0 3zm0 2zm0 1zm0 5zm0 1zm0 1zm0 2zm0 1zm0 4zm0 6zm0 1zm0 6zm0 13zm1-131zm0 32zm0 14zm0 17zm0 15zm0 6zm0 4zm0 1zm0 2zm0 3zm0 1zm0 1zm0 2zm0 1zm0 6zm0 3zm0 9zm1-104zm0 20zm0 12zm0 2zm0 17zm0 8zm0 1zm0 3zm0 3zm0 2zm0 4zm0 3zm0 7zm0 4zm0 3zm0 3zm0 4zm0 3zm1-108zm0 8zm0 13zm0 2zm0 1zm0 2zm0 10zm0 16zm0 3zm0 1zm0 3zm0 3zm0 4zm0 3zm0 3zm0 2zm0 2zm0 1zm0 4zm0 5zm0 5zm0 2zm0 7zm0 2zm0 2zm0 7zm0 3zm0 1zm1-108zm0 4zm0 1zm0 4zm0 11zm0 4zm0 4zm0 27zm0 2zm0 5zm0 2zm0 3zm0 2zm0 1zm0 1zm0 1zm0 4zm0 1zm0 1zm0 1zm0 1zm0 2zm0 3zm0 1zm0 3zm0 2zm0 1zm0 5zm0 8zm0 4zm0 4zm0 2zm1-81zm0 7zm0 4zm0 15zm0 1zm0 1zm0 7zm0 3zm0 2zm0 3zm0 6zm0 1zm0 3zm0 8zm0 1zm0 4zm0 1zm0 4zm0 9zm1-114zm0 1zm0 4zm0 2zm0 1zm0 21zm0 18zm0 1zm0 5zm0 6zm0 3zm0 1zm0 1zm0 3zm0 1zm0 3zm0 1zm0 8zm0 7zm0 3zm0 1zm0 1zm0 3zm0 2zm0 14zm1-111zm0 9zm0 11zm0 6zm0 10zm0 1zm0 2zm0 6zm0 2zm0 6zm0 10zm0 1zm0 1zm0 2zm0 6zm0 1zm0 1zm0 3zm0 1zm0 3zm0 2zm0 2zm0 1zm0 7zm0 16zm1-92zm0 9zm0 3zm0 11zm0 6zm0 1zm0 11zm0 4zm0 2zm0 1zm0 2zm0 2zm0 1zm0 2zm0 1zm0 11zm0 2zm0 3zm0 2zm0 7zm0 2zm1-111zm0 3zm0 21zm0 3zm0 22zm0 5zm0 1zm0 8zm0 1zm0 6zm0 1zm0 6zm0 1zm0 2zm0 4zm0 1zm0 7zm0 2zm0 1zm0 1zm0 3zm0 2zm0 1zm1-99zm0 3zm0 10zm0 13zm0 23zm0 1zm0 1zm0 2zm0 3zm0 1zm0 4zm0 3zm0 4zm0 6zm0 3zm0 2zm0 1zm0 8zm0 8zm0 1zm0 4zm1-90zm0 1zm0 4zm0 10zm0 8zm0 11zm0 2zm0 3zm0 1zm0 2zm0 8zm0 1zm0 2zm0 1zm0 3zm0 3zm0 2zm0 10zm0 1zm0 1zm0 1zm0 3zm0 2zm0 5zm0 1zm0 1zm0 4zm0 5zm0 7zm0 9zm1-106zm0 7zm0 3zm0 1zm0 4zm0 3zm0 8zm0 8zm0 3zm0 19zm0 5zm0 4zm0 3zm0 7zm0 6zm0 2zm0 1zm0 3zm0 4zm1-99zm0 2zm0 8zm0 10zm0 2zm0 1zm0 2zm0 15zm0 3zm0 1zm0 7zm0 3zm0 7zm0 8zm0 4zm0 3zm0 4zm0 3zm0 7zm0 3zm0 1zm0 7zm0 4zm0 13zm0 7zm1-126zm0 3zm0 5zm0 8zm0 3zm0 3zm0 17zm0 4zm0 8zm0 6zm0 11zm0 7zm0 15zm0 10zm0 11zm1-118zm0 3zm0 8zm0 8zm0 1zm0 6zm0 1zm0 2zm0 8zm0 5zm0 3zm0 1zm0 1zm0 2zm0 14zm0 5zm0 12zm0 4zm0 8zm0 7zm0 10zm0 11zm1-120zm0 2zm0 13zm0 25zm0 3zm0 17zm0 1zm0 1zm0 7zm0 3zm0 4zm0 8zm0 11zm0 4zm0 6zm0 13zm1-118zm0 27zm0 11zm0 7zm0 8zm0 10zm0 1zm0 5zm0 7zm0 7zm0 27zm0 6zm1-116zm0 10zm0 35zm0 2zm0 5zm0 5zm0 7zm0 11zm0 6zm0 1zm0 12zm0 8zm0 1zm1-104zm0 42zm0 5zm0 4zm0 8zm0 6zm0 12zm0 4zm0 3zm0 7zm0 3zm0 3zm0 5zm1-123zm0 14zm0 2zm0 8zm0 12zm0 3zm0 4zm0 11zm0 23zm0 11zm0 2zm0 22zm0 12zm0 15zm1-134zm0 17zm0 7zm0 20zm0 5zm0 8zm0 3zm0 2zm0 3zm0 10zm0 12zm0 16zm0 1zm0 11zm1-129zm0 70zm0 4zm0 3zm0 4zm0 34zm0 9zm0 7zm0 1zm0 11zm0 17zm1-130zm0 3zm0 12zm0 16zm0 4zm0 2zm0 2zm0 38zm0 7zm0 11zm0 8zm0 2zm0 11zm1-125zm0 12zm0 3zm0 10zm0 34zm0 54zm0 14zm0 1zm1-114zm0 11zm0 1zm0 4zm0 5zm0 1zm0 6zm0 8zm0 33zm0 7zm0 11zm0 8zm0 9zm1-98zm0 3zm0 7zm0 6zm0 4zm0 1zm0 7zm0 49zm0 16zm0 9zm1-107zm0 10zm0 1zm0 7zm0 3zm0 13zm0 44zm0 4zm0 10zm0 7zm0 6zm1-135zm0 27zm0 1zm0 1zm0 5zm0 6zm0 6zm0 11zm0 42zm0 20zm0 1zm0 9zm0 1zm0 8zm0 7zm1-112zm0 6zm0 4zm0 35zm0 41zm0 1zm0 17zm0 5zm0 6zm1-114zm0 19zm0 57zm0 7zm0 5zm0 12zm0 1zm1-129zm0 4zm0 19zm0 10zm0 1zm0 3zm0 5zm0 4zm0 2zm0 25zm0 46zm0 6zm0 13zm0 1zm0 8zm1-133zm0 10zm0 6zm0 5zm0 45zm0 38zm0 3zm0 2zm0 4zm0 4zm0 4zm0 2zm1-132zm0 2zm0 17zm0 6zm0 3zm0 1zm0 4zm0 8zm0 58zm0 5zm0 5zm0 2zm0 16zm0 13zm0 3zm1-147zm0 25zm0 17zm0 62zm0 1zm0 1zm0 7zm0 1zm0 1zm0 1zm0 14zm1-118zm0 6zm0 6zm0 1zm0 2zm0 5zm0 6zm0 9zm0 21zm0 34zm0 4zm1-84zm0 3zm0 7zm0 10zm0 60zm0 3zm0 9zm0 20zm1-110zm0 3zm0 1zm0 6zm0 72zm0 8zm0 4zm0 6zm0 20zm1-128zm0 3zm0 6zm0 6zm0 28zm0 51zm0 9zm0 9zm0 3zm0 11zm1-147zm0 10zm0 22zm0 7zm0 5zm0 61zm0 11zm0 6zm0 7zm0 2zm0 6zm0 17zm1-133zm0 2zm0 8zm0 10zm0 7zm0 59zm0 14zm0 7zm0 21zm1-127zm0 10zm0 12zm0 4zm0 14zm0 4zm0 24zm0 14zm0 5zm0 16zm0 3zm0 4zm0 3zm1-113zm0 2zm0 5zm0 16zm0 72zm0 1zm0 16zm0 6zm1-134zm0 14zm0 8zm0 3zm0 88zm0 4zm0 1zm0 1zm0 5zm0 19zm1-105zm0 5zm0 5zm0 58zm0 22zm1-115zm0 1zm0 8zm0 4zm0 67zm0 22zm0 7zm0 9zm1-124zm0 8zm0 26zm0 8zm0 53zm0 2zm0 4zm0 3zm0 2zm0 1zm0 1zm0 1zm0 1zm0 3zm0 1zm1-123zm0 16zm0 10zm0 10zm0 25zm0 48zm0 5zm0 3zm0 1zm0 2zm0 8zm1-124zm0 2zm0 10zm0 5zm0 11zm0 1zm0 3zm0 1zm0 4zm0 1zm0 10zm0 53zm0 1zm0 5zm0 5zm0 13zm0 1zm0 3zm0 3zm0 11zm1-155zm0 6zm0 15zm0 8zm0 2zm0 14zm0 59zm0 9zm0 7zm0 7zm0 2zm0 2zm0 5zm0 6zm0 2zm1-114zm0 8zm0 14zm0 15zm0 35zm0 14zm0 1zm0 4zm0 5zm0 9zm0 9zm1-133zm0 2zm0 3zm0 8zm0 6zm0 8zm0 9zm0 2zm0 50zm1-88zm0 9zm0 3zm0 9zm0 5zm0 10zm0 56zm0 33zm0 8zm1-145zm0 28zm0 1zm0 13zm0 9zm0 2zm0 81zm0 3zm0 11zm1-118zm0 6zm0 8zm0 6zm0 44zm0 14zm0 9zm0 4zm0 2zm0 2zm0 2zm0 3zm0 1zm0 8zm0 9zm1-127zm0 1zm0 34zm0 7zm0 37zm0 2zm0 13zm0 13zm0 13zm0 2zm0 1zm1-128zm0 17zm0 8zm0 11zm0 19zm0 34zm0 13zm0 9zm0 2zm0 5zm0 3zm0 7zm0 5zm1-142zm0 17zm0 85zm0 10zm0 3zm0 6zm0 6zm0 3zm0 2zm0 9zm1-133zm0 1zm0 24zm0 10zm0 24zm0 3zm0 50zm0 2zm0 1zm0 1zm0 3zm1-105zm0 68zm0 19zm0 7zm0 1zm0 4zm0 6zm1-113zm0 17zm0 30zm0 18zm0 19zm0 25zm0 19zm1-110zm0 80zm0 6zm0 9zm0 4zm0 3zm0 2zm1-109zm0 18zm0 52zm0 7zm0 3zm0 6zm0 2zm0 6zm0 4zm0 5zm0 14zm1-141zm0 17zm0 1zm0 15zm0 5zm0 46zm0 5zm0 21zm0 28zm1-139zm0 12zm0 9zm0 18zm0 54zm0 20zm0 4zm0 24zm1-128zm0 9zm0 11zm0 1zm0 6zm0 28zm0 37zm0 18zm0 1zm0 4zm0 6zm1-134zm0 12zm0 14zm0 2zm0 1zm0 74zm0 14zm1-88zm0 100zm0 7zm0 5zm1-135zm0 19zm0 2zm0 87zm0 13zm0 6zm1-136zm0 19zm0 4zm0 56zm0 44zm1-101zm0 88zm0 9zm0 11zm0 4zm0 7zm1-126zm0 21zm0 72zm0 15zm0 8zm0 2zm0 9zm2-128zm0 94zm0 6zm0 22zm1-121zm0 46zm0 61zm0 19zm1-143zm0 115zm0 11zm0 14zm1-140zm0 104zm0 9zm0 21zm1-138zm0 119zm0 17zm1-90zm0 54zm1-93zm0 119zm0 5zm1-123zm0 13zm0 1zm0 5zm0 99zm1-110zm1-6zm0 115zm0 14zm0 6zm1-102zm0 107zm1-33zm0 13zm1-14zm1-112zm0 43zm0 66zm0 5zm1-99zm0 14zm1 98zm1-125zm0 38zm0 6zm1-53zm0 25zm0 29zm0 85zm1-152zm0 30zm0 106zm1-91zm0 43zm0 62zm1-135zm0 11zm0 131zm2-105zm1 89zm1-115zm0 31zm0 80zm2-120zm0 29zm2 19zm7 58zm5-76zm29 91zm1 1z" stroke="#ff1515" stroke-opacity="0.9" stroke-width="1.5" stroke-linecap="square" fill="none"/>
<path d="M143.9 747.5v5M147.2 747.5v5M150.5 747.5v5M153.8 747.5v5M157.1 747.5v5M160.4 747.5v5M163.7 747.5v5M167 747.5v5M170.3 747.5v5M173.6 747.5v5M176.9 747.5v5M180.2 747.5v5M183.5 747.5v5M186.8 747.5v5M190.1 747.5v5M193.4 747.5v5M196.7 747.5v5M200 747.5v5M203.3 747.5v5M206.6 747.5v5M209.9 747.5v5M213.2 747.5v5M216.5 747.5v5M219.8 747.5v5M223.1 747.5v5M184.2 747.5v7.7M225.6 747.5v7.7M242.3 747.5v5M252.1 747.5v5M259.1 747.5v5M264.5 747.5v5M268.9 747.5v5M272.6 747.5v5M275.8 747.5v5M278.7 747.5v5M281.2 747.5v7.7M297.8 747.5v5M307.6 747.5v5M314.5 747.5v5M319.9 747.5v5M324.2 747.5v5M327.9 747.5v5M331.1 747.5v5M334 747.5v5M336.5 747.5v7.7M353.4 747.5v5M363.2 747.5v5M370.2 747.5v5M375.6 747.5v5M380.1 747.5v5M383.8 747.5v5M387.1 747.5v5M389.9 747.5v5M392.5 747.5v7.7M409.4 747.5v5M419.2 747.5v5" stroke="#3c3c3c" stroke-width="1.1" fill="none"/>
<path d="M143.9 747.5h-5M143.9 744.2h-5M143.9 740.9h-5M143.9 737.6h-5M143.9 734.3h-5M143.9 731h-5M143.9 727.7h-5M143.9 724.4h-5M143.9 721.1h-5M143.9 717.8h-5M143.9 714.5h-5M143.9 711.2h-5M143.9 707.9h-5M143.9 704.6h-5M143.9 701.3h-5M143.9 698h-5M143.9 694.7h-5M143.9 691.4h-5M143.9 718.6h-7.7M143.9 690h-7.7M143.9 672.5h-5M143.9 662.3h-5M143.9 655.1h-5M143.9 649.5h-5M143.9 644.9h-5M143.9 641h-5M143.9 637.6h-5M143.9 634.7h-5M143.9 632h-7.7M143.9 613.1h-5M143.9 602.1h-5M143.9 594.3h-5M143.9 588.2h-5M143.9 583.2h-5M143.9 579h-5M143.9 575.4h-5M143.9 572.2h-5M143.9 569.3h-7.7M143.9 549.9h-5M143.9 538.6h-5M143.9 530.6h-5M143.9 524.4h-5M143.9 519.3h-5M143.9 515h-5M143.9 511.2h-5M143.9 507.9h-5M143.9 505h-7.7M143.9 485.6h-5M143.9 474.3h-5" stroke="#3c3c3c" stroke-width="1.1" fill="none"/>
<rect x="143.9" y="470.6" width="279.8" height="276.9" fill="none" stroke="#3c3c3c" stroke-width="1.6"/>
<line x1="136.4" y1="470.6" x2="143.9" y2="470.6" stroke="#3c3c3c" stroke-width="1.4"/>
<line x1="423.7" y1="747.5" x2="423.7" y2="755" stroke="#3c3c3c" stroke-width="1.4"/>
<line x1="298.9" y1="470.6" x2="298.9" y2="747.5" stroke="#3c3c3c" stroke-width="1.6"/>
<line x1="143.9" y1="677.1" x2="423.7" y2="677.1" stroke="#3c3c3c" stroke-width="1.6"/>
<text class="g" x="184.2" y="772.5" font-size="15" text-anchor="middle">0</text>
<text class="g" x="226.1" y="772.5" font-size="15" text-anchor="middle">10<tspan dy="-6.3" font-size="10.2">3</tspan></text>
<text class="g" x="281.7" y="772.5" font-size="15" text-anchor="middle">10<tspan dy="-6.3" font-size="10.2">4</tspan></text>
<text class="g" x="337" y="772.5" font-size="15" text-anchor="middle">10<tspan dy="-6.3" font-size="10.2">5</tspan></text>
<text class="g" x="393" y="772.5" font-size="15" text-anchor="middle">10<tspan dy="-6.3" font-size="10.2">6</tspan></text>
<text class="g" x="129.7" y="718.6" font-size="15" text-anchor="middle" transform="rotate(-90 129.7 718.6)">0</text>
<text class="g" x="129.7" y="690" font-size="15" text-anchor="middle" transform="rotate(-90 129.7 690)">10<tspan dy="-6.3" font-size="10.2">3</tspan></text>
<text class="g" x="129.7" y="632" font-size="15" text-anchor="middle" transform="rotate(-90 129.7 632)">10<tspan dy="-6.3" font-size="10.2">4</tspan></text>
<text class="g" x="129.7" y="569.3" font-size="15" text-anchor="middle" transform="rotate(-90 129.7 569.3)">10<tspan dy="-6.3" font-size="10.2">5</tspan></text>
<text class="g" x="129.7" y="505" font-size="15" text-anchor="middle" transform="rotate(-90 129.7 505)">10<tspan dy="-6.3" font-size="10.2">6</tspan></text>
<text class="g" x="148.4" y="489.1" font-size="14.3">Q1-UL</text>
<text class="g" x="418.7" y="489.1" font-size="14.3" text-anchor="end">Q1-UR</text>
<text class="g" x="148.4" y="739" font-size="14.3">Q1-LL</text>
<text class="g" x="418.7" y="739" font-size="14.3" text-anchor="end">Q1-LR</text>
<rect x="461.4" y="470.6" width="278.6" height="276.4" fill="#fff"/>
<ellipse cx="562" cy="712" rx="30" ry="15.5" transform="rotate(-20 562 712)" fill="#ff0000" fill-opacity="1.0" filter="url(#fb)"/>
<ellipse cx="586" cy="696" rx="13" ry="9" transform="rotate(-35 586 696)" fill="#ff0000" fill-opacity="0.95" filter="url(#fb)"/>
<ellipse cx="649.4" cy="643.6" rx="17" ry="5.5" transform="rotate(-42 649.4 643.6)" fill="#ff0000" fill-opacity="0.7" filter="url(#fb)"/>
<path d="M496 723zm4-10zm1 24zm1-28zm0 14zm2-21zm0 31zm1-16zm1-14zm0 11zm1 21zm1-32zm0 12zm1-13zm1 9zm0 3zm1-25zm0 31zm0 11zm2-23zm0 3zm0 4zm1 3zm0 10zm0 6zm0 2zm0 3zm1-42zm0 26zm0 14zm1-25zm0 2zm0 9zm0 6zm0 2zm0 6zm1-13zm0 1zm0 5zm1-14zm0 14zm0 9zm1-51zm0 8zm0 6zm0 1zm0 6zm0 2zm0 2zm0 9zm0 3zm0 9zm1-31zm0 16zm0 11zm0 2zm1-45zm0 23zm0 14zm0 4zm0 1zm0 4zm1-20zm0 2zm0 10zm0 3zm0 5zm1-31zm0 1zm0 4zm0 10zm0 1zm0 8zm1-26zm0 13zm0 2zm0 1zm1-14zm0 5zm0 3zm0 3zm0 4zm0 2zm0 2zm0 6zm0 9zm0 1zm1-33zm0 6zm0 7zm0 1zm0 6zm0 4zm0 3zm0 1zm0 2zm0 2zm1-47zm0 7zm0 7zm0 10zm0 5zm0 1zm0 3zm0 5zm0 5zm0 1zm0 1zm0 3zm1-23zm0 1zm0 4zm0 1zm0 1zm0 2zm0 19zm1-36zm0 7zm0 1zm0 1zm0 2zm0 2zm0 1zm0 3zm0 2zm0 5zm1-28zm0 5zm0 2zm0 1zm0 1zm0 5zm0 11zm0 1zm0 2zm0 2zm0 1zm1-31zm0 2zm0 2zm0 5zm0 10zm0 4zm0 1zm0 1zm0 3zm0 1zm0 2zm1-26zm0 4zm0 1zm0 1zm0 5zm0 1zm0 1zm0 1zm0 2zm0 1zm0 1zm0 1zm0 1zm0 8zm0 1zm0 2zm1-31zm0 4zm0 1zm0 1zm0 2zm0 7zm0 5zm0 4zm0 5zm1-38zm0 2zm0 5zm0 6zm0 3zm0 1zm0 4zm0 1zm0 4zm0 1zm0 1zm0 2zm0 3zm0 6zm0 1zm0 1zm0 2zm1-36zm0 5zm0 7zm0 4zm0 1zm0 1zm0 1zm0 2zm0 8zm0 4zm1-41zm0 3zm0 1zm0 7zm0 1zm0 2zm0 1zm0 1zm0 1zm0 1zm0 2zm0 1zm0 1zm0 1zm0 6zm0 2zm0 1zm0 1zm0 2zm0 2zm0 6zm0 1zm1-52zm0 5zm0 3zm0 3zm0 10zm0 2zm0 1zm0 3zm0 1zm0 2zm0 1zm0 3zm0 1zm0 2zm0 2zm0 5zm0 5zm1-51zm0 12zm0 3zm0 6zm0 3zm0 2zm0 1zm0 1zm0 2zm0 1zm0 1zm0 1zm0 2zm0 2zm0 3zm0 4zm0 4zm0 2zm0 1zm0 3zm1-46zm0 1zm0 7zm0 2zm0 1zm0 3zm0 1zm0 1zm0 1zm0 1zm0 2zm0 2zm0 4zm0 5zm0 3zm0 1zm0 1zm0 5zm0 4zm0 1zm1-52zm0 14zm0 2zm0 1zm0 5zm0 1zm0 1zm0 3zm0 1zm0 1zm0 2zm0 2zm0 1zm0 1zm0 3zm0 4zm0 1zm0 6zm1-53zm0 12zm0 5zm0 5zm0 4zm0 2zm0 1zm0 1zm0 2zm0 2zm0 1zm0 1zm0 1zm0 2zm0 5zm0 1zm0 1zm0 1zm1-36zm0 1zm0 6zm0 2zm0 5zm0 3zm0 1zm0 3zm0 5zm0 1zm0 1zm0 1zm0 1zm0 2zm0 14zm1-46zm0 2zm0 3zm0 4zm0 1zm0 4zm0 1zm0 1zm0 3zm0 1zm0 1zm0 1zm0 1zm0 2zm0 1zm0 1zm0 1zm0 2zm0 4zm0 5zm1-50zm0 18zm0 1zm0 3zm0 3zm0 1zm0 1zm0 3zm0 1zm0 2zm0 2zm0 9zm0 4zm0 2zm1-49zm0 1zm0 5zm0 6zm0 4zm0 2zm0 1zm0 1zm0 1zm0 1zm0 2zm0 2zm0 3zm0 1zm0 2zm0 1zm0 1zm0 1zm0 1zm0 1zm0 1zm0 1zm0 1zm0 2zm0 3zm1-33zm0 1zm0 1zm0 2zm0 1zm0 1zm0 3zm0 2zm0 1zm0 1zm0 1zm0 3zm0 2zm0 1zm0 2zm0 2zm0 2zm0 2zm0 2zm0 1zm0 4zm0 1zm0 2zm0 2zm0 2zm1-48zm0 6zm0 1zm0 2zm0 2zm0 3zm0 2zm0 1zm0 2zm0 2zm0 1zm0 2zm0 1zm0 1zm0 1zm0 1zm0 2zm0 4zm0 1zm0 1zm0 1zm0 1zm0 1zm0 4zm0 1zm1-48zm0 6zm0 4zm0 3zm0 3zm0 3zm0 1zm0 1zm0 1zm0 1zm0 1zm0 3zm0 1zm0 1zm0 1zm0 3zm0 1zm0 1zm0 1zm0 9zm0 2zm0 7zm1-61zm0 10zm0 4zm0 4zm0 1zm0 1zm0 1zm0 3zm0 1zm0 2zm0 1zm0 1zm0 1zm0 1zm0 1zm0 1zm0 1zm0 1zm0 2zm0 2zm0 1zm0 1zm0 4zm0 6zm0 2zm1-45zm0 2zm0 3zm0 3zm0 2zm0 5zm0 7zm0 3zm0 3zm0 2zm0 4zm0 3zm0 4zm0 2zm0 2zm0 2zm1-46zm0 8zm0 1zm0 3zm0 1zm0 1zm0 2zm0 3zm0 2zm0 1zm0 1zm0 1zm0 2zm0 1zm0 1zm0 1zm0 1zm0 1zm0 1zm0 1zm0 1zm0 1zm0 1zm0 6zm1-70zm0 21zm0 3zm0 15zm0 1zm0 1zm0 1zm0 1zm0 1zm0 3zm0 1zm0 1zm0 1zm0 4zm0 1zm0 1zm0 1zm0 1zm0 2zm0 1zm0 2zm0 1zm0 2zm0 1zm0 1zm0 1zm0 2zm0 3zm0 1zm0 7zm1-49zm0 3zm0 1zm0 2zm0 1zm0 2zm0 1zm0 3zm0 1zm0 3zm0 1zm0 1zm0 1zm0 1zm0 1zm0 2zm0 3zm0 1zm0 1zm0 3zm0 1zm0 1zm0 1zm0 1zm0 2zm0 4zm0 3zm0 2zm1-53zm0 7zm0 3zm0 1zm0 2zm0 1zm0 1zm0 2zm0 1zm0 1zm0 1zm0 1zm0 2zm0 2zm0 1zm0 1zm0 1zm0 2zm0 1zm0 3zm0 1zm0 1zm0 1zm0 1zm0 1zm0 1zm0 1zm0 1zm0 2zm1-115zm0 75zm0 4zm0 2zm0 1zm0 1zm0 1zm0 1zm0 2zm0 1zm0 1zm0 4zm0 1zm0 1zm0 1zm0 3zm0 1zm0 1zm0 3zm0 1zm0 2zm0 1zm0 2zm0 1zm0 2zm0 2zm0 7zm1-47zm0 5zm0 1zm0 2zm0 1zm0 1zm0 1zm0 1zm0 1zm0 1zm0 3zm0 1zm0 1zm0 1zm0 6zm0 1zm0 1zm0 1zm0 1zm0 2zm0 1zm0 1zm0 3zm0 3zm1-53zm0 13zm0 1zm0 1zm0 1zm0 2zm0 1zm0 1zm0 1zm0 3zm0 2zm0 1zm0 2zm0 1zm0 2zm0 1zm0 1zm0 1zm0 3zm0 1zm0 1zm0 1zm0 1zm0 2zm0 1zm0 1zm0 1zm0 1zm0 1zm0 3zm0 5zm1-77zm0 21zm0 7zm0 4zm0 4zm0 1zm0 2zm0 2zm0 2zm0 1zm0 2zm0 1zm0 1zm0 2zm0 1zm0 1zm0 2zm0 1zm0 1zm0 1zm0 2zm0 1zm0 2zm0 1zm0 3zm0 1zm0 1zm0 1zm0 14zm1-60zm0 6zm0 5zm0 1zm0 1zm0 4zm0 1zm0 1zm0 3zm0 2zm0 2zm0 1zm0 1zm0 2zm0 1zm0 2zm0 2zm0 1zm0 3zm0 1zm0 2zm0 1zm0 1zm0 1zm0 1zm0 2zm0 3zm1-49zm0 3zm0 4zm0 3zm0 1zm0 4zm0 1zm0 1zm0 3zm0 1zm0 1zm0 1zm0 1zm0 1zm0 1zm0 1zm0 1zm0 5zm0 1zm0 1zm0 3zm0 2zm0 1zm0 2zm0 10zm1-114zm0 39zm0 17zm0 7zm0 3zm0 1zm0 6zm0 1zm0 1zm0 5zm0 1zm0 1zm0 1zm0 1zm0 1zm0 1zm0 1zm0 1zm0 1zm0 2zm0 2zm0 2zm0 1zm0 1zm0 1zm0 3zm0 1zm0 6zm0 3zm0 4zm1-87zm0 30zm0 1zm0 7zm0 1zm0 1zm0 1zm0 2zm0 1zm0 1zm0 1zm0 2zm0 1zm0 1zm0 2zm0 2zm0 3zm0 2zm0 1zm0 1zm0 1zm0 3zm0 3zm0 1zm0 1zm0 2zm0 3zm0 2zm0 2zm0 1zm0 4zm0 2zm1-56zm0 8zm0 3zm0 4zm0 1zm0 1zm0 4zm0 1zm0 1zm0 1zm0 1zm0 1zm0 3zm0 1zm0 1zm0 1zm0 2zm0 3zm0 1zm0 1zm0 3zm0 4zm0 4zm0 1zm1-48zm0 1zm0 3zm0 1zm0 4zm0 1zm0 1zm0 1zm0 2zm0 1zm0 1zm0 1zm0 2zm0 2zm0 2zm0 1zm0 1zm0 2zm0 3zm0 3zm0 1zm0 1zm0 1zm0 2zm0 4zm0 1zm0 3zm0 1zm0 2zm0 2zm1-44zm0 4zm0 1zm0 1zm0 3zm0 1zm0 1zm0 3zm0 2zm0 1zm0 1zm0 1zm0 2zm0 3zm0 3zm0 1zm0 2zm0 1zm0 4zm0 1zm0 1zm0 1zm0 7zm0 2zm1-60zm0 4zm0 3zm0 6zm0 3zm0 1zm0 1zm0 1zm0 3zm0 1zm0 1zm0 1zm0 2zm0 2zm0 1zm0 1zm0 1zm0 2zm0 1zm0 1zm0 1zm0 2zm0 2zm0 1zm0 1zm0 1zm0 1zm0 1zm0 1zm0 3zm0 5zm0 2zm0 7zm1-85zm0 20zm0 10zm0 1zm0 1zm0 1zm0 1zm0 3zm0 1zm0 5zm0 2zm0 1zm0 2zm0 1zm0 1zm0 1zm0 1zm0 1zm0 1zm0 2zm0 1zm0 2zm0 2zm0 7zm0 1zm0 4zm0 9zm1-107zm0 7zm0 38zm0 1zm0 7zm0 5zm0 1zm0 1zm0 1zm0 3zm0 1zm0 1zm0 1zm0 2zm0 2zm0 1zm0 2zm0 1zm0 1zm0 1zm0 1zm0 2zm0 2zm0 1zm0 2zm0 1zm0 1zm0 3zm0 2zm0 1zm0 1zm0 2zm0 3zm1-111zm0 49zm0 17zm0 3zm0 2zm0 2zm0 1zm0 4zm0 3zm0 2zm0 1zm0 2zm0 1zm0 2zm0 1zm0 1zm0 1zm0 1zm0 1zm0 1zm0 1zm0 1zm0 3zm0 2zm0 1zm0 6zm1-59zm0 1zm0 9zm0 4zm0 1zm0 2zm0 8zm0 1zm0 2zm0 4zm0 1zm0 1zm0 1zm0 1zm0 1zm0 2zm0 1zm0 1zm0 1zm0 2zm0 1zm0 1zm0 2zm0 1zm0 2zm0 1zm0 2zm0 3zm0 7zm0 2zm1-66zm0 10zm0 10zm0 3zm0 3zm0 1zm0 1zm0 1zm0 1zm0 2zm0 1zm0 1zm0 1zm0 3zm0 1zm0 1zm0 1zm0 2zm0 1zm0 1zm0 5zm0 1zm0 1zm0 2zm0 6zm1-105zm0 67zm0 2zm0 1zm0 1zm0 2zm0 1zm0 1zm0 1zm0 1zm0 1zm0 2zm0 1zm0 1zm0 1zm0 1zm0 1zm0 2zm0 3zm0 1zm0 2zm0 1zm0 5zm0 3zm0 2zm0 1zm0 10zm1-102zm0 43zm0 4zm0 1zm0 4zm0 2zm0 2zm0 1zm0 1zm0 2zm0 1zm0 1zm0 3zm0 5zm0 1zm0 8zm0 2zm0 2zm0 1zm0 1zm0 10zm0 8zm1-92zm0 11zm0 23zm0 1zm0 1zm0 2zm0 1zm0 4zm0 1zm0 1zm0 2zm0 2zm0 1zm0 2zm0 2zm0 1zm0 1zm0 1zm0 1zm0 3zm0 1zm0 1zm0 1zm0 1zm0 1zm0 2zm0 1zm0 5zm0 4zm0 1zm0 2zm1-109zm0 52zm0 14zm0 1zm0 3zm0 1zm0 3zm0 1zm0 2zm0 1zm0 1zm0 3zm0 3zm0 2zm0 1zm0 1zm0 1zm0 2zm0 3zm0 2zm0 1zm0 3zm0 2zm0 1zm1-114zm0 25zm0 3zm0 22zm0 12zm0 4zm0 7zm0 5zm0 1zm0 2zm0 1zm0 2zm0 1zm0 1zm0 1zm0 1zm0 1zm0 2zm0 3zm0 1zm0 3zm0 1zm0 2zm0 1zm0 1zm0 1zm0 1zm0 9zm0 3zm0 3zm0 1zm1-100zm0 19zm0 25zm0 7zm0 2zm0 1zm0 1zm0 2zm0 2zm0 5zm0 2zm0 2zm0 4zm0 1zm0 2zm0 2zm0 1zm0 1zm0 1zm0 1zm0 1zm0 4zm0 1zm0 3zm0 1zm0 1zm0 4zm0 4zm1-130zm0 51zm0 6zm0 15zm0 15zm0 2zm0 1zm0 2zm0 3zm0 2zm0 1zm0 1zm0 1zm0 2zm0 1zm0 2zm0 1zm0 2zm0 2zm0 1zm0 7zm0 1zm0 2zm0 2zm0 6zm1-83zm0 26zm0 2zm0 2zm0 4zm0 3zm0 1zm0 3zm0 1zm0 4zm0 1zm0 1zm0 1zm0 1zm0 1zm0 1zm0 2zm0 1zm0 1zm0 1zm0 1zm0 2zm0 1zm0 7zm0 4zm0 3zm1-62zm0 10zm0 12zm0 2zm0 1zm0 1zm0 2zm0 1zm0 1zm0 2zm0 3zm0 1zm0 1zm0 2zm0 1zm0 1zm0 1zm0 1zm0 1zm0 2zm0 1zm0 2zm0 2zm0 1zm0 1zm0 1zm0 1zm0 3zm0 1zm0 1zm0 1zm0 4zm0 4zm0 1zm0 1zm0 2zm1-64zm0 5zm0 11zm0 2zm0 2zm0 1zm0 1zm0 1zm0 1zm0 2zm0 1zm0 1zm0 1zm0 3zm0 1zm0 1zm0 1zm0 2zm0 1zm0 2zm0 1zm0 1zm0 1zm0 1zm0 1zm0 2zm0 1zm0 3zm0 8zm0 1zm0 1zm1-82zm0 17zm0 3zm0 9zm0 1zm0 1zm0 4zm0 4zm0 1zm0 1zm0 1zm0 2zm0 1zm0 1zm0 2zm0 1zm0 1zm0 1zm0 2zm0 1zm0 2zm0 2zm0 2zm0 1zm0 2zm0 1zm0 1zm0 3zm0 1zm0 5zm0 3zm0 2zm1-100zm0 12zm0 20zm0 17zm0 1zm0 1zm0 1zm0 3zm0 4zm0 1zm0 2zm0 1zm0 1zm0 5zm0 1zm0 1zm0 1zm0 1zm0 2zm0 1zm0 1zm0 1zm0 2zm0 1zm0 1zm0 2zm0 2zm0 2zm0 2zm0 1zm0 3zm0 1zm0 2zm0 8zm1-97zm0 3zm0 11zm0 17zm0 4zm0 1zm0 7zm0 1zm0 4zm0 1zm0 2zm0 1zm0 3zm0 2zm0 2zm0 1zm0 1zm0 1zm0 1zm0 2zm0 1zm0 5zm0 1zm0 1zm0 1zm0 1zm0 1zm0 1zm0 3zm0 2zm0 1zm0 2zm0 2zm0 14zm1-100zm0 22zm0 14zm0 5zm0 3zm0 3zm0 1zm0 1zm0 1zm0 1zm0 1zm0 1zm0 1zm0 3zm0 1zm0 1zm0 2zm0 1zm0 1zm0 1zm0 2zm0 1zm0 1zm0 1zm0 3zm0 1zm0 1zm0 1zm0 6zm0 4zm0 1zm1-86zm0 5zm0 18zm0 6zm0 5zm0 1zm0 6zm0 3zm0 1zm0 2zm0 2zm0 2zm0 1zm0 1zm0 2zm0 1zm0 2zm0 3zm0 1zm0 1zm0 1zm0 1zm0 2zm0 1zm0 1zm0 1zm0 3zm0 4zm0 2zm0 1zm0 2zm0 2zm0 1zm0 5zm1-83zm0 16zm0 12zm0 3zm0 1zm0 2zm0 4zm0 2zm0 1zm0 2zm0 1zm0 1zm0 1zm0 1zm0 1zm0 1zm0 1zm0 2zm0 1zm0 3zm0 1zm0 1zm0 1zm0 1zm0 1zm0 4zm0 3zm0 2zm0 8zm0 1zm0 2zm0 4zm0 4zm1-117zm0 28zm0 12zm0 5zm0 4zm0 2zm0 3zm0 1zm0 17zm0 1zm0 2zm0 2zm0 1zm0 2zm0 1zm0 1zm0 1zm0 2zm0 1zm0 1zm0 1zm0 2zm0 2zm0 1zm0 2zm0 3zm0 3zm0 3zm0 4zm1-68zm0 1zm0 4zm0 6zm0 9zm0 4zm0 4zm0 1zm0 1zm0 1zm0 1zm0 1zm0 1zm0 2zm0 1zm0 1zm0 2zm0 1zm0 1zm0 1zm0 1zm0 5zm0 3zm0 6zm0 2zm0 4zm0 5zm0 3zm1-77zm0 4zm0 11zm0 6zm0 6zm0 2zm0 1zm0 3zm0 1zm0 1zm0 2zm0 1zm0 1zm0 2zm0 2zm0 3zm0 1zm0 1zm0 1zm0 1zm0 2zm0 1zm0 1zm0 1zm0 1zm0 2zm0 1zm0 4zm0 1zm0 3zm0 10zm0 3zm1-103zm0 23zm0 4zm0 1zm0 3zm0 5zm0 4zm0 10zm0 1zm0 1zm0 3zm0 1zm0 2zm0 4zm0 1zm0 2zm0 1zm0 4zm0 1zm0 1zm0 1zm0 1zm0 2zm0 1zm0 2zm0 1zm0 2zm0 2zm0 1zm0 2zm0 3zm0 11zm0 7zm1-99zm0 2zm0 5zm0 2zm0 17zm0 13zm0 2zm0 2zm0 1zm0 1zm0 2zm0 1zm0 2zm0 1zm0 1zm0 3zm0 1zm0 2zm0 3zm0 1zm0 1zm0 2zm0 2zm0 1zm0 4zm0 2zm0 1zm0 1zm0 1zm0 2zm0 2zm0 2zm0 1zm1-110zm0 33zm0 11zm0 2zm0 2zm0 6zm0 4zm0 7zm0 1zm0 3zm0 1zm0 4zm0 1zm0 1zm0 1zm0 3zm0 1zm0 1zm0 1zm0 1zm0 2zm0 1zm0 1zm0 1zm0 1zm0 2zm0 1zm0 1zm0 3zm0 3zm0 4zm0 1zm0 13zm0 2zm0 1zm1-108zm0 11zm0 15zm0 14zm0 1zm0 5zm0 5zm0 8zm0 3zm0 3zm0 2zm0 2zm0 1zm0 1zm0 1zm0 2zm0 1zm0 1zm0 4zm0 2zm0 6zm0 1zm1-88zm0 16zm0 2zm0 8zm0 2zm0 10zm0 17zm0 9zm0 4zm0 1zm0 1zm0 2zm0 3zm0 1zm0 2zm0 1zm0 5zm0 3zm0 2zm0 1zm0 2zm1-85zm0 8zm0 11zm0 24zm0 2zm0 4zm0 1zm0 4zm0 2zm0 1zm0 1zm0 1zm0 1zm0 2zm0 2zm0 3zm0 2zm0 5zm0 2zm0 1zm0 2zm0 2zm0 3zm0 14zm1-132zm0 35zm0 2zm0 4zm0 3zm0 2zm0 8zm0 2zm0 2zm0 3zm0 4zm0 1zm0 1zm0 2zm0 7zm0 3zm0 6zm0 2zm0 1zm0 1zm0 2zm0 2zm0 2zm0 2zm0 2zm0 1zm0 1zm0 1zm0 3zm0 3zm0 3zm0 3zm0 1zm0 5zm0 12zm0 7zm1-123zm0 4zm0 24zm0 2zm0 13zm0 1zm0 1zm0 4zm0 3zm0 6zm0 3zm0 2zm0 3zm0 1zm0 2zm0 2zm0 4zm0 2zm0 2zm0 3zm0 1zm0 1zm0 1zm0 2zm0 1zm0 3zm0 1zm0 1zm0 1zm0 1zm0 2zm0 6zm1-97zm0 7zm0 20zm0 2zm0 4zm0 4zm0 12zm0 1zm0 3zm0 4zm0 2zm0 3zm0 2zm0 7zm0 4zm0 8zm0 1zm0 3zm0 1zm0 3zm0 3zm0 5zm0 5zm1-99zm0 8zm0 11zm0 13zm0 7zm0 6zm0 2zm0 3zm0 8zm0 2zm0 1zm0 1zm0 3zm0 1zm0 3zm0 4zm0 2zm0 3zm0 1zm0 2zm0 6zm0 6zm0 6zm1-104zm0 1zm0 7zm0 21zm0 8zm0 3zm0 1zm0 8zm0 11zm0 2zm0 3zm0 6zm0 2zm0 1zm0 4zm0 1zm0 1zm0 6zm0 1zm0 3zm0 3zm1-70zm0 4zm0 10zm0 6zm0 3zm0 4zm0 2zm0 1zm0 6zm0 2zm0 2zm0 6zm0 5zm0 3zm0 1zm0 6zm0 10zm0 1zm0 2zm0 16zm1-132zm0 39zm0 1zm0 2zm0 1zm0 1zm0 18zm0 1zm0 5zm0 1zm0 10zm0 2zm0 1zm0 1zm0 3zm0 1zm0 1zm0 3zm0 2zm0 6zm0 1zm0 2zm0 3zm0 7zm0 1zm0 3zm0 2zm0 5zm1-113zm0 3zm0 9zm0 10zm0 3zm0 2zm0 4zm0 2zm0 11zm0 10zm0 2zm0 1zm0 3zm0 2zm0 8zm0 3zm0 3zm0 2zm0 3zm0 2zm0 5zm0 4zm0 2zm0 1zm0 5zm0 1zm0 2zm0 6zm0 9zm1-111zm0 9zm0 3zm0 7zm0 13zm0 9zm0 4zm0 1zm0 1zm0 6zm0 3zm0 6zm0 5zm0 1zm0 1zm0 1zm0 4zm0 1zm0 2zm0 12zm0 3zm0 2zm0 1zm0 1zm0 1zm0 4zm1-96zm0 16zm0 1zm0 29zm0 1zm0 3zm0 3zm0 1zm0 5zm0 1zm0 3zm0 4zm0 2zm0 2zm0 4zm0 1zm0 3zm0 1zm0 1zm0 1zm0 5zm0 6zm0 6zm1-140zm0 19zm0 17zm0 4zm0 26zm0 10zm0 5zm0 6zm0 9zm0 4zm0 3zm0 5zm0 2zm0 1zm0 2zm0 1zm0 3zm0 1zm0 3zm0 3zm0 6zm0 1zm0 1zm0 3zm0 2zm0 2zm1-113zm0 1zm0 10zm0 27zm0 5zm0 10zm0 4zm0 5zm0 1zm0 1zm0 2zm0 4zm0 2zm0 1zm0 4zm0 1zm0 4zm0 1zm0 4zm0 2zm0 3zm0 3zm0 2zm0 8zm0 2zm0 8zm0 7zm1-109zm0 4zm0 8zm0 1zm0 3zm0 2zm0 1zm0 4zm0 6zm0 1zm0 5zm0 5zm0 3zm0 1zm0 4zm0 4zm0 1zm0 2zm0 6zm0 2zm0 1zm0 3zm0 3zm0 2zm0 3zm0 9zm0 5zm0 3zm0 1zm0 1zm0 1zm0 15zm1-129zm0 18zm0 4zm0 4zm0 1zm0 6zm0 5zm0 8zm0 1zm0 4zm0 3zm0 3zm0 5zm0 2zm0 1zm0 10zm0 1zm0 3zm0 1zm0 1zm0 2zm0 3zm0 2zm0 2zm0 6zm0 6zm0 1zm0 3zm0 2zm0 5zm0 1zm0 8zm1-127zm0 11zm0 1zm0 18zm0 4zm0 14zm0 18zm0 8zm0 6zm0 2zm0 3zm0 3zm0 4zm0 5zm0 3zm0 3zm0 6zm0 5zm0 1zm0 2zm0 2zm0 3zm0 2zm0 19zm1-141zm0 14zm0 14zm0 5zm0 4zm0 8zm0 4zm0 11zm0 8zm0 3zm0 1zm0 7zm0 6zm0 3zm0 1zm0 1zm0 1zm0 2zm0 4zm0 3zm0 1zm0 1zm0 1zm0 3zm0 1zm0 1zm0 5zm0 10zm1-98zm0 7zm0 13zm0 5zm0 10zm0 7zm0 2zm0 1zm0 5zm0 7zm0 1zm0 5zm0 14zm0 1zm0 1zm0 3zm0 2zm0 10zm0 4zm0 4zm0 7zm1-115zm0 16zm0 3zm0 4zm0 10zm0 1zm0 2zm0 1zm0 3zm0 5zm0 2zm0 7zm0 16zm0 2zm0 9zm0 2zm0 4zm0 1zm0 6zm0 4zm0 5zm0 5zm0 5zm1-106zm0 1zm0 7zm0 10zm0 2zm0 2zm0 3zm0 4zm0 9zm0 3zm0 8zm0 1zm0 17zm0 4zm0 5zm0 3zm0 1zm0 3zm0 1zm0 3zm0 2zm0 1zm0 3zm1-118zm0 16zm0 7zm0 7zm0 7zm0 1zm0 13zm0 15zm0 2zm0 2zm0 4zm0 1zm0 8zm0 2zm0 1zm0 1zm0 2zm0 2zm0 5zm0 12zm0 1zm0 23zm0 3zm0 4zm1-123zm0 17zm0 2zm0 10zm0 6zm0 1zm0 1zm0 11zm0 6zm0 3zm0 1zm0 7zm0 4zm0 13zm0 8zm0 3zm0 3zm0 4zm0 3zm0 6zm0 7zm0 11zm1-134zm0 5zm0 7zm0 14zm0 9zm0 1zm0 1zm0 5zm0 2zm0 2zm0 3zm0 2zm0 2zm0 4zm0 5zm0 10zm0 3zm0 10zm0 1zm0 1zm0 4zm0 2zm0 2zm0 3zm0 2zm0 2zm0 5zm0 7zm0 1zm0 7zm1-144zm0 12zm0 5zm0 12zm0 33zm0 5zm0 5zm0 1zm0 4zm0 3zm0 6zm0 12zm0 5zm0 2zm0 1zm0 5zm0 6zm0 7zm0 3zm0 4zm0 2zm0 1zm0 4zm1-104zm0 4zm0 11zm0 2zm0 4zm0 1zm0 3zm0 1zm0 3zm0 1zm0 3zm0 1zm0 2zm0 4zm0 5zm0 2zm0 1zm0 17zm0 4zm0 4zm0 13zm0 1zm0 6zm0 4zm0 14zm0 3zm0 8zm1-133zm0 19zm0 7zm0 7zm0 24zm0 9zm0 1zm0 1zm0 2zm0 10zm0 2zm0 3zm0 4zm0 7zm0 5zm0 6zm0 1zm0 5zm0 1zm0 4zm1-121zm0 19zm0 8zm0 2zm0 2zm0 4zm0 8zm0 2zm0 2zm0 4zm0 5zm0 9zm0 6zm0 2zm0 4zm0 10zm0 2zm0 1zm0 2zm0 2zm0 3zm0 1zm0 1zm0 3zm0 13zm0 6zm0 14zm1-127zm0 6zm0 7zm0 6zm0 19zm0 13zm0 1zm0 2zm0 1zm0 12zm0 5zm0 4zm0 1zm0 8zm0 5zm0 5zm0 6zm0 1zm1-116zm0 18zm0 14zm0 3zm0 6zm0 22zm0 3zm0 1zm0 1zm0 6zm0 15zm0 7zm0 2zm0 2zm0 1zm0 6zm0 1zm0 6zm0 8zm0 2zm0 3zm0 10zm1-125zm0 4zm0 6zm0 1zm0 8zm0 1zm0 4zm0 3zm0 1zm0 8zm0 5zm0 1zm0 3zm0 5zm0 1zm0 7zm0 14zm0 9zm0 2zm0 2zm0 1zm0 5zm0 1zm0 2zm0 2zm0 2zm0 1zm0 1zm0 3zm0 2zm0 6zm1-110zm0 13zm0 2zm0 6zm0 1zm0 1zm0 1zm0 16zm0 4zm0 5zm0 2zm0 2zm0 1zm0 3zm0 4zm0 1zm0 1zm0 7zm0 1zm0 1zm0 2zm0 2zm0 1zm0 10zm0 6zm0 2zm0 1zm0 5zm0 4zm0 14zm1-121zm0 12zm0 3zm0 4zm0 2zm0 6zm0 2zm0 1zm0 18zm0 1zm0 1zm0 2zm0 33zm0 1zm0 2zm0 3zm0 5zm0 1zm0 3zm0 6zm0 1zm0 7zm0 1zm1-137zm0 44zm0 2zm0 1zm0 2zm0 3zm0 3zm0 4zm0 3zm0 5zm0 3zm0 1zm0 6zm0 7zm0 4zm0 12zm0 1zm0 1zm0 3zm0 2zm0 3zm0 5zm0 4zm0 3zm0 21zm1-130zm0 17zm0 17zm0 1zm0 2zm0 2zm0 1zm0 8zm0 1zm0 3zm0 2zm0 1zm0 1zm0 1zm0 5zm0 9zm0 9zm0 3zm0 1zm0 10zm0 9zm0 1zm0 2zm0 1zm0 7zm0 4zm0 18zm1-126zm0 23zm0 5zm0 18zm0 2zm0 1zm0 1zm0 5zm0 17zm0 15zm0 2zm0 2zm0 2zm0 1zm0 7zm0 10zm0 4zm0 2zm1-116zm0 1zm0 17zm0 4zm0 3zm0 7zm0 1zm0 1zm0 1zm0 4zm0 3zm0 2zm0 2zm0 2zm0 4zm0 12zm0 5zm0 3zm0 13zm0 7zm0 6zm0 2zm0 16zm0 4zm1-124zm0 5zm0 8zm0 12zm0 8zm0 7zm0 1zm0 1zm0 1zm0 1zm0 3zm0 3zm0 4zm0 13zm0 11zm0 9zm0 3zm0 5zm0 1zm0 4zm0 6zm0 9zm0 8zm1-139zm0 38zm0 2zm0 6zm0 1zm0 2zm0 3zm0 1zm0 3zm0 2zm0 7zm0 1zm0 1zm0 1zm0 2zm0 1zm0 15zm0 18zm0 1zm0 17zm0 2zm0 3zm1-94zm0 11zm0 3zm0 3zm0 1zm0 2zm0 3zm0 1zm0 1zm0 8zm0 4zm0 4zm0 8zm0 8zm0 2zm0 7zm0 3zm0 15zm0 2zm0 1zm0 5zm0 2zm0 1zm0 1zm1-103zm0 3zm0 2zm0 7zm0 5zm0 1zm0 3zm0 1zm0 2zm0 3zm0 1zm0 2zm0 1zm0 1zm0 4zm0 2zm0 1zm0 17zm0 3zm0 8zm0 5zm0 4zm0 5zm0 2zm0 1zm0 4zm0 5zm0 4zm0 2zm0 19zm1-182zm0 50zm0 4zm0 2zm0 6zm0 19zm0 6zm0 6zm0 1zm0 1zm0 11zm0 4zm0 9zm0 5zm0 11zm0 3zm0 3zm0 1zm0 2zm0 5zm0 6zm0 2zm0 5zm0 3zm0 2zm0 9zm1-134zm0 10zm0 3zm0 8zm0 6zm0 2zm0 3zm0 1zm0 2zm0 2zm0 1zm0 5zm0 2zm0 1zm0 1zm0 5zm0 3zm0 1zm0 5zm0 1zm0 1zm0 1zm0 1zm0 14zm0 2zm0 1zm0 5zm0 2zm0 11zm0 2zm0 3zm0 10zm1-99zm0 9zm0 9zm0 6zm0 2zm0 2zm0 1zm0 1zm0 2zm0 3zm0 1zm0 5zm0 3zm0 1zm0 1zm0 5zm0 1zm0 8zm0 16zm0 6zm0 2zm0 2zm0 2zm0 8zm0 1zm0 1zm0 5zm1-129zm0 24zm0 8zm0 3zm0 1zm0 11zm0 4zm0 1zm0 1zm0 7zm0 3zm0 1zm0 2zm0 1zm0 1zm0 2zm0 2zm0 3zm0 3zm0 3zm0 3zm0 9zm0 10zm0 3zm0 2zm0 8zm0 1zm0 5zm0 5zm0 3zm1-120zm0 21zm0 10zm0 6zm0 1zm0 2zm0 3zm0 1zm0 1zm0 1zm0 1zm0 3zm0 2zm0 1zm0 1zm0 3zm0 2zm0 1zm0 7zm0 7zm0 4zm0 11zm0 2zm0 6zm0 1zm0 1zm0 4zm0 8zm0 1zm1-110zm0 17zm0 11zm0 3zm0 4zm0 1zm0 5zm0 1zm0 3zm0 1zm0 2zm0 1zm0 1zm0 1zm0 1zm0 1zm0 1zm0 3zm0 6zm0 27zm0 12zm0 12zm0 6zm1-134zm0 39zm0 6zm0 2zm0 6zm0 3zm0 1zm0 2zm0 1zm0 1zm0 1zm0 3zm0 1zm0 2zm0 1zm0 7zm0 7zm0 24zm0 2zm0 7zm0 13zm1-117zm0 33zm0 1zm0 2zm0 1zm0 1zm0 2zm0 1zm0 1zm0 1zm0 1zm0 1zm0 1zm0 1zm0 1zm0 2zm0 1zm0 1zm0 1zm0 2zm0 4zm0 2zm0 2zm0 33zm0 2zm0 1zm0 2zm0 1zm0 4zm0 3zm0 8zm0 10zm1-122zm0 24zm0 1zm0 3zm0 3zm0 1zm0 2zm0 3zm0 1zm0 3zm0 1zm0 1zm0 1zm0 1zm0 1zm0 1zm0 2zm0 1zm0 1zm0 3zm0 1zm0 10zm0 5zm0 8zm0 24zm0 1zm0 3zm0 2zm0 18zm1-128zm0 5zm0 23zm0 1zm0 1zm0 1zm0 2zm0 1zm0 1zm0 1zm0 1zm0 2zm0 1zm0 3zm0 1zm0 1zm0 3zm0 2zm0 1zm0 2zm0 1zm0 3zm0 3zm0 1zm0 4zm0 15zm0 7zm0 2zm0 4zm0 10zm0 15zm1-118zm0 9zm0 19zm0 1zm0 1zm0 1zm0 2zm0 1zm0 1zm0 1zm0 2zm0 3zm0 1zm0 1zm0 1zm0 1zm0 2zm0 1zm0 1zm0 1zm0 2zm0 1zm0 2zm0 38zm0 8zm0 1zm0 1zm0 5zm1-113zm0 35zm0 1zm0 1zm0 1zm0 2zm0 1zm0 1zm0 1zm0 1zm0 1zm0 1zm0 2zm0 1zm0 2zm0 1zm0 1zm0 1zm0 2zm0 10zm0 12zm0 11zm0 3zm0 3zm0 15zm0 6zm0 1zm0 17zm1-143zm0 41zm0 1zm0 1zm0 4zm0 1zm0 1zm0 2zm0 1zm0 2zm0 1zm0 1zm0 1zm0 1zm0 1zm0 2zm0 1zm0 2zm0 1zm0 1zm0 2zm0 3zm0 26zm0 14zm0 3zm0 10zm0 7zm1-127zm0 32zm0 11zm0 1zm0 1zm0 1zm0 1zm0 2zm0 1zm0 1zm0 2zm0 2zm0 1zm0 1zm0 1zm0 1zm0 3zm0 1zm0 19zm0 2zm0 1zm0 3zm0 7zm0 10zm0 3zm0 2zm0 30zm1-130zm0 5zm0 14zm0 5zm0 6zm0 1zm0 1zm0 1zm0 1zm0 1zm0 2zm0 1zm0 2zm0 1zm0 1zm0 1zm0 1zm0 1zm0 1zm0 1zm0 2zm0 1zm0 2zm0 2zm0 2zm0 1zm0 1zm0 22zm0 32zm1-95zm0 7zm0 8zm0 2zm0 1zm0 1zm0 1zm0 2zm0 3zm0 2zm0 1zm0 4zm0 3zm0 1zm0 1zm0 2zm0 21zm0 12zm0 3zm0 8zm1-89zm0 1zm0 17zm0 1zm0 2zm0 1zm0 1zm0 2zm0 1zm0 1zm0 1zm0 3zm0 2zm0 1zm0 1zm0 1zm0 3zm0 2zm0 1zm0 4zm0 22zm0 15zm0 4zm1-70zm0 1zm0 1zm0 1zm0 2zm0 1zm0 1zm0 1zm0 1zm0 1zm0 3zm0 1zm0 2zm0 1zm0 1zm0 6zm0 59zm1-82zm0 1zm0 1zm0 1zm0 2zm0 1zm0 1zm0 2zm0 1zm0 1zm0 2zm0 2zm0 11zm0 3zm0 5zm0 8zm0 18zm0 32zm1-118zm0 17zm0 1zm0 5zm0 1zm0 1zm0 1zm0 3zm0 1zm0 1zm0 1zm0 1zm0 1zm0 1zm0 1zm0 2zm0 1zm0 6zm0 2zm0 2zm0 40zm1-91zm0 17zm0 9zm0 3zm0 2zm0 2zm0 2zm0 1zm0 1zm0 1zm0 1zm0 2zm0 7zm0 3zm0 1zm0 15zm0 28zm0 20zm1-112zm0 5zm0 14zm0 6zm0 1zm0 1zm0 1zm0 1zm0 1zm0 1zm0 1zm0 1zm0 1zm0 1zm0 1zm0 2zm0 1zm0 2zm0 3zm0 2zm0 3zm0 47zm0 10zm0 7zm1-108zm0 13zm0 6zm0 1zm0 1zm0 1zm0 1zm0 1zm0 1zm0 1zm0 1zm0 2zm0 1zm0 1zm0 2zm0 1zm0 2zm0 2zm0 62zm1-96zm0 7zm0 2zm0 3zm0 2zm0 2zm0 2zm0 1zm0 1zm0 1zm0 3zm0 1zm0 3zm0 4zm0 4zm0 8zm0 2zm0 25zm0 10zm0 7zm0 6zm1-86zm0 8zm0 1zm0 2zm0 1zm0 2zm0 1zm0 1zm0 1zm0 2zm0 1zm0 1zm0 2zm0 1zm0 9zm0 3zm0 4zm1-68zm0 14zm0 21zm0 3zm0 2zm0 1zm0 1zm0 1zm0 1zm0 2zm0 1zm0 2zm0 3zm0 2zm0 17zm0 19zm0 7zm0 3zm0 26zm1-95zm0 2zm0 1zm0 1zm0 3zm0 2zm0 1zm0 1zm0 1zm0 1zm0 1zm0 4zm0 1zm0 1zm0 1zm1-41zm0 20zm0 1zm0 4zm0 1zm0 1zm0 3zm0 1zm0 2zm0 1zm0 2zm0 1zm0 3zm0 24zm1-52zm0 2zm0 2zm0 2zm0 3zm0 3zm0 1zm0 3zm0 5zm0 1zm0 1zm0 3zm0 18zm0 1zm1-49zm0 9zm0 1zm0 2zm0 2zm0 6zm0 4zm0 2zm0 31zm0 16zm1-68zm0 1zm0 5zm0 2zm0 5zm0 3zm0 4zm0 3zm0 4zm0 8zm0 2zm0 12zm1-77zm0 33zm0 1zm0 4zm0 1zm0 1zm0 57zm1-80zm0 12zm0 3zm0 2zm0 1zm0 3zm0 2zm0 5zm0 21zm0 4zm0 9zm0 5zm0 3zm1-58zm0 3zm0 13zm0 34zm0 1zm0 4zm1-61zm0 7zm0 6zm0 5zm0 3zm0 21zm0 27zm1-65zm0 8zm0 7zm0 17zm0 5zm0 4zm0 31zm1-70zm0 14zm0 15zm0 69zm1-100zm0 12zm0 2zm0 7zm1-29zm0 4zm0 17zm0 2zm0 4zm0 11zm0 7zm0 2zm1-36zm0 46zm1-46zm0 17zm1 9zm0 13zm1-35zm0 21zm0 13zm0 39zm1-90zm0 21zm0 3zm0 13zm0 12zm1-53zm0 15zm0 53zm0 1zm0 16zm1-60zm0 12zm0 20zm1-17zm1-14zm1-22zm0 19zm0 23zm1-33zm0 9zm1-6zm1 40zm2 6zm2-14zm1 11zm3-53zm0 66zm3-54zm0 8zm19 20zm5-16z" stroke="#ff1515" stroke-opacity="0.9" stroke-width="1.5" stroke-linecap="square" fill="none"/>
<path d="M461.4 747v5M464.7 747v5M468 747v5M471.3 747v5M474.6 747v5M477.9 747v5M481.2 747v5M484.5 747v5M487.8 747v5M491.1 747v5M494.4 747v5M497.7 747v5M501 747v5M504.3 747v5M507.6 747v5M510.9 747v5M514.2 747v5M517.5 747v5M520.8 747v5M524.1 747v5M527.4 747v5M530.7 747v5M496.6 747v7.7M534.9 747v7.7M550 747v5M558.8 747v5M565.1 747v5M569.9 747v5M573.9 747v5M577.2 747v5M580.1 747v5M582.7 747v5M585 747v7.7M599.7 747v5M608.2 747v5M614.3 747v5M619 747v5M622.9 747v5M626.2 747v5M629 747v5M631.5 747v5M633.7 747v7.7M648.5 747v5M657.2 747v5M663.3 747v5M668.1 747v5M672 747v5M675.3 747v5M678.1 747v5M680.6 747v5M682.9 747v7.7M697.5 747v5M706 747v5M712.1 747v5M716.8 747v5M720.6 747v5M723.9 747v5M726.7 747v5M729.2 747v5M731.4 747v7.7" stroke="#3c3c3c" stroke-width="1.1" fill="none"/>
<path d="M461.4 747h-5M461.4 743.7h-5M461.4 740.4h-5M461.4 737.1h-5M461.4 733.8h-5M461.4 730.5h-5M461.4 727.2h-5M461.4 723.9h-5M461.4 720.6h-5M461.4 717.3h-5M461.4 714h-5M461.4 710.7h-5M461.4 707.4h-5M461.4 704.1h-5M461.4 700.8h-5M461.4 697.5h-5M461.4 721.4h-7.7M461.4 695.7h-7.7M461.4 679.8h-5M461.4 670.5h-5M461.4 663.9h-5M461.4 658.8h-5M461.4 654.6h-5M461.4 651.1h-5M461.4 648h-5M461.4 645.3h-5M461.4 642.9h-7.7M461.4 627h-5M461.4 617.7h-5M461.4 611.1h-5M461.4 605.9h-5M461.4 601.7h-5M461.4 598.2h-5M461.4 595.1h-5M461.4 592.4h-5M461.4 590h-7.7M461.4 573.2h-5M461.4 563.4h-5M461.4 556.5h-5M461.4 551.1h-5M461.4 546.7h-5M461.4 542.9h-5M461.4 539.7h-5M461.4 536.8h-5M461.4 534.3h-7.7M461.4 518h-5M461.4 508.4h-5M461.4 501.6h-5M461.4 496.3h-5M461.4 492h-5M461.4 488.4h-5M461.4 485.3h-5M461.4 482.5h-5M461.4 480h-7.7" stroke="#3c3c3c" stroke-width="1.1" fill="none"/>
<rect x="461.4" y="470.6" width="278.6" height="276.4" fill="none" stroke="#3c3c3c" stroke-width="1.6"/>
<line x1="453.9" y1="470.6" x2="461.4" y2="470.6" stroke="#3c3c3c" stroke-width="1.4"/>
<line x1="740" y1="747" x2="740" y2="754.5" stroke="#3c3c3c" stroke-width="1.4"/>
<line x1="598" y1="470.6" x2="598" y2="747" stroke="#3c3c3c" stroke-width="1.6"/>
<line x1="461.4" y1="686.3" x2="740" y2="686.3" stroke="#3c3c3c" stroke-width="1.6"/>
<text class="g" x="496.6" y="772.5" font-size="15" text-anchor="middle">0</text>
<text class="g" x="535.4" y="772.5" font-size="15" text-anchor="middle">10<tspan dy="-6.3" font-size="10.2">3</tspan></text>
<text class="g" x="585.5" y="772.5" font-size="15" text-anchor="middle">10<tspan dy="-6.3" font-size="10.2">4</tspan></text>
<text class="g" x="634.2" y="772.5" font-size="15" text-anchor="middle">10<tspan dy="-6.3" font-size="10.2">5</tspan></text>
<text class="g" x="683.4" y="772.5" font-size="15" text-anchor="middle">10<tspan dy="-6.3" font-size="10.2">6</tspan></text>
<text class="g" x="731.9" y="772.5" font-size="15" text-anchor="middle">10<tspan dy="-6.3" font-size="10.2">7</tspan></text>
<text class="g" x="447.5" y="721.4" font-size="15" text-anchor="middle" transform="rotate(-90 447.5 721.4)">0</text>
<text class="g" x="447.5" y="695.7" font-size="15" text-anchor="middle" transform="rotate(-90 447.5 695.7)">10<tspan dy="-6.3" font-size="10.2">3</tspan></text>
<text class="g" x="447.5" y="642.9" font-size="15" text-anchor="middle" transform="rotate(-90 447.5 642.9)">10<tspan dy="-6.3" font-size="10.2">4</tspan></text>
<text class="g" x="447.5" y="590" font-size="15" text-anchor="middle" transform="rotate(-90 447.5 590)">10<tspan dy="-6.3" font-size="10.2">5</tspan></text>
<text class="g" x="447.5" y="534.3" font-size="15" text-anchor="middle" transform="rotate(-90 447.5 534.3)">10<tspan dy="-6.3" font-size="10.2">6</tspan></text>
<text class="g" x="447.5" y="480" font-size="15" text-anchor="middle" transform="rotate(-90 447.5 480)">10<tspan dy="-6.3" font-size="10.2">7</tspan></text>
<text class="g" x="465.9" y="489.1" font-size="14.3">Q1-UL</text>
<text class="g" x="735" y="489.1" font-size="14.3" text-anchor="end">Q1-UR</text>
<text class="g" x="465.9" y="738.5" font-size="14.3">Q1-LL</text>
<text class="g" x="735" y="738.5" font-size="14.3" text-anchor="end">Q1-LR</text>
<path d="M852 532.3 V790.6 H1368.6" fill="none" stroke="#000" stroke-width="3"/>
<path d="M852 512.3 l-10.8 26 h21.6z"/>
<path d="M1388.6 790.6 l-26 -10.5 v21z"/>
<text class="b" transform="translate(1031.4 462.9) scale(0.955 1)" font-size="36.2" text-anchor="middle">si-con</text>
<text class="b" transform="translate(1354.7 466.3) scale(0.955 1)" font-size="36.2" text-anchor="middle">si-MALAT1</text>
<text class="b" transform="translate(803 596.5) rotate(-90) scale(0.955 1)" font-size="33.9" text-anchor="middle">WERI-Rb-1</text>
<text class="b" transform="translate(804.7 733.7) scale(0.955 1)" font-size="36.2">PI</text>
<text class="b" transform="translate(1082.9 825.7) scale(0.955 1)" font-size="36.2">Annexin V-FITC</text>
<rect x="892.9" y="480" width="274.2" height="272" fill="#fff"/>
<ellipse cx="987" cy="715.3" rx="29" ry="16.5" transform="rotate(-25 987 715.3)" fill="#ff0000" fill-opacity="1.0" filter="url(#fb)"/>
<ellipse cx="1008" cy="700" rx="13" ry="9" transform="rotate(-40 1008 700)" fill="#ff0000" fill-opacity="0.95" filter="url(#fb)"/>
<path d="M921 736zm8-8zm2 2zm0 8zm1-7zm0 12zm0 7zm2-13zm2-23zm0 22zm1-17zm0 5zm0 12zm1-24zm0 23zm0 2zm1-7zm0 5zm1-13zm0 4zm0 6zm2-25zm0 4zm0 17zm1-2zm0 5zm1-17zm0 3zm0 15zm0 4zm0 1zm1-12zm0 4zm0 4zm0 8zm1-41zm0 15zm0 7zm0 14zm1-29zm0 7zm0 12zm0 1zm0 1zm0 1zm0 6zm0 14zm1-38zm0 1zm0 11zm0 8zm0 10zm1-33zm0 4zm0 7zm0 2zm0 4zm0 1zm0 4zm0 9zm1-30zm0 15zm0 2zm0 1zm0 2zm0 18zm1-31zm0 1zm0 1zm0 3zm0 4zm0 1zm0 1zm0 3zm0 2zm0 7zm1-35zm0 9zm0 5zm0 3zm0 3zm0 3zm0 11zm1-37zm0 14zm0 2zm0 6zm0 3zm0 2zm0 2zm0 1zm0 1zm0 12zm1-58zm0 15zm0 7zm0 10zm0 2zm0 6zm0 8zm0 8zm0 1zm0 1zm0 2zm1-51zm0 7zm0 15zm0 1zm0 1zm0 6zm0 1zm0 1zm0 4zm0 11zm1-40zm0 8zm0 4zm0 2zm0 3zm0 1zm0 2zm0 1zm0 3zm0 8zm0 2zm1-33zm0 9zm0 1zm0 2zm0 1zm0 4zm0 2zm0 1zm0 1zm0 3zm0 5zm0 7zm1-26zm0 7zm0 3zm0 4zm0 1zm0 2zm0 6zm0 1zm0 1zm0 3zm0 1zm0 5zm1-49zm0 2zm0 1zm0 4zm0 6zm0 3zm0 1zm0 2zm0 4zm0 4zm0 2zm0 10zm0 5zm0 4zm1-41zm0 5zm0 1zm0 2zm0 2zm0 1zm0 1zm0 3zm0 1zm0 2zm0 2zm0 4zm0 2zm0 3zm0 4zm0 3zm1-44zm0 10zm0 1zm0 1zm0 10zm0 1zm0 2zm0 5zm0 5zm0 5zm0 12zm1-60zm0 20zm0 2zm0 1zm0 1zm0 2zm0 1zm0 1zm0 3zm0 6zm0 8zm0 4zm0 4zm1-40zm0 3zm0 2zm0 5zm0 1zm0 3zm0 1zm0 4zm0 4zm0 1zm0 3zm0 3zm0 5zm0 1zm0 8zm1-41zm0 7zm0 3zm0 1zm0 2zm0 1zm0 6zm0 1zm0 1zm0 2zm0 1zm0 2zm0 13zm1-49zm0 13zm0 2zm0 2zm0 1zm0 1zm0 1zm0 2zm0 1zm0 2zm0 2zm0 1zm0 6zm0 2zm0 3zm0 5zm0 1zm1-44zm0 1zm0 7zm0 2zm0 1zm0 2zm0 2zm0 1zm0 3zm0 3zm0 1zm0 2zm0 3zm0 3zm0 3zm0 1zm0 1zm1-44zm0 12zm0 6zm0 1zm0 4zm0 1zm0 1zm0 1zm0 2zm0 1zm0 2zm0 3zm0 1zm0 2zm0 2zm0 1zm0 6zm0 10zm1-43zm0 6zm0 1zm0 1zm0 1zm0 1zm0 1zm0 1zm0 1zm0 1zm0 1zm0 2zm0 2zm0 1zm0 2zm0 1zm0 1zm0 1zm0 2zm0 1zm0 1zm0 2zm0 4zm0 10zm1-47zm0 1zm0 1zm0 3zm0 2zm0 6zm0 1zm0 1zm0 1zm0 1zm0 2zm0 4zm0 4zm0 1zm0 1zm0 1zm0 3zm0 1zm0 1zm0 2zm0 8zm1-60zm0 15zm0 1zm0 5zm0 1zm0 4zm0 1zm0 2zm0 3zm0 1zm0 1zm0 2zm0 1zm0 1zm0 1zm0 2zm0 2zm0 4zm0 3zm0 2zm0 6zm1-63zm0 11zm0 6zm0 2zm0 6zm0 1zm0 3zm0 3zm0 1zm0 4zm0 1zm0 2zm0 1zm0 2zm0 2zm0 1zm0 1zm0 1zm0 2zm0 1zm0 1zm0 3zm0 4zm1-39zm0 1zm0 1zm0 1zm0 3zm0 2zm0 1zm0 1zm0 1zm0 1zm0 1zm0 1zm0 1zm0 1zm0 1zm0 2zm0 1zm0 1zm0 2zm0 6zm0 1zm0 3zm0 1zm0 1zm0 4zm0 9zm1-59zm0 3zm0 3zm0 6zm0 2zm0 4zm0 1zm0 1zm0 2zm0 1zm0 2zm0 1zm0 2zm0 1zm0 2zm0 1zm0 1zm0 2zm0 1zm0 1zm0 1zm0 2zm0 1zm0 2zm0 4zm0 2zm0 1zm0 6zm1-56zm0 2zm0 5zm0 2zm0 3zm0 1zm0 3zm0 1zm0 3zm0 2zm0 1zm0 1zm0 1zm0 2zm0 2zm0 1zm0 1zm0 1zm0 2zm0 1zm0 1zm0 1zm0 4zm0 1zm0 2zm0 1zm0 6zm0 6zm1-43zm0 4zm0 1zm0 1zm0 1zm0 4zm0 2zm0 3zm0 1zm0 2zm0 1zm0 1zm0 1zm0 1zm0 4zm0 10zm0 8zm1-49zm0 3zm0 1zm0 7zm0 2zm0 1zm0 1zm0 3zm0 2zm0 3zm0 1zm0 3zm0 1zm0 2zm0 1zm0 1zm0 2zm0 2zm0 3zm0 1zm0 1zm0 4zm1-46zm0 1zm0 2zm0 1zm0 1zm0 2zm0 2zm0 1zm0 2zm0 1zm0 1zm0 3zm0 1zm0 1zm0 2zm0 1zm0 2zm0 1zm0 1zm0 1zm0 1zm0 1zm0 1zm0 1zm0 4zm0 5zm0 3zm0 2zm1-45zm0 5zm0 4zm0 2zm0 1zm0 1zm0 1zm0 1zm0 1zm0 1zm0 2zm0 1zm0 1zm0 1zm0 1zm0 1zm0 1zm0 1zm0 1zm0 1zm0 1zm0 2zm0 1zm0 1zm0 1zm0 1zm0 1zm0 2zm0 2zm0 1zm0 1zm0 2zm1-61zm0 3zm0 3zm0 7zm0 1zm0 2zm0 4zm0 4zm0 2zm0 1zm0 1zm0 1zm0 1zm0 1zm0 1zm0 1zm0 3zm0 2zm0 1zm0 1zm0 1zm0 1zm0 1zm0 2zm0 1zm0 1zm0 1zm0 5zm0 14zm1-90zm0 31zm0 3zm0 1zm0 2zm0 1zm0 1zm0 2zm0 1zm0 1zm0 1zm0 3zm0 1zm0 2zm0 1zm0 1zm0 1zm0 1zm0 3zm0 2zm0 1zm0 1zm0 2zm0 3zm0 1zm0 1zm0 3zm0 2zm0 2zm0 1zm0 1zm0 4zm0 2zm0 5zm1-130zm0 67zm0 14zm0 6zm0 4zm0 1zm0 2zm0 2zm0 1zm0 1zm0 2zm0 1zm0 1zm0 1zm0 1zm0 2zm0 1zm0 1zm0 1zm0 2zm0 2zm0 6zm0 3zm1-54zm0 11zm0 4zm0 6zm0 1zm0 4zm0 1zm0 1zm0 1zm0 1zm0 1zm0 4zm0 1zm0 1zm0 1zm0 1zm0 4zm0 1zm0 1zm0 1zm0 1zm0 3zm0 1zm0 1zm0 3zm0 2zm0 7zm1-60zm0 4zm0 1zm0 1zm0 2zm0 1zm0 1zm0 2zm0 2zm0 2zm0 1zm0 1zm0 3zm0 2zm0 1zm0 1zm0 2zm0 2zm0 1zm0 1zm0 1zm0 2zm0 3zm0 1zm0 2zm0 1zm0 1zm0 1zm0 3zm0 2zm0 2zm1-58zm0 8zm0 1zm0 3zm0 1zm0 2zm0 4zm0 3zm0 1zm0 2zm0 1zm0 1zm0 1zm0 1zm0 1zm0 1zm0 1zm0 1zm0 1zm0 2zm0 1zm0 1zm0 2zm0 2zm0 1zm0 2zm0 2zm0 2zm0 1zm0 5zm0 4zm0 1zm0 1zm1-43zm0 2zm0 3zm0 1zm0 1zm0 1zm0 1zm0 2zm0 1zm0 1zm0 1zm0 1zm0 1zm0 1zm0 1zm0 1zm0 1zm0 1zm0 1zm0 1zm0 1zm0 6zm0 2zm0 3zm0 2zm0 2zm0 5zm0 3zm1-53zm0 2zm0 2zm0 4zm0 1zm0 2zm0 1zm0 2zm0 1zm0 1zm0 1zm0 3zm0 1zm0 1zm0 1zm0 1zm0 1zm0 1zm0 1zm0 2zm0 1zm0 2zm0 1zm0 1zm0 1zm0 1zm0 1zm0 2zm0 1zm0 2zm0 2zm0 1zm0 11zm1-66zm0 6zm0 4zm0 1zm0 2zm0 3zm0 1zm0 1zm0 1zm0 1zm0 2zm0 1zm0 1zm0 3zm0 2zm0 3zm0 1zm0 4zm0 1zm0 1zm0 1zm0 2zm0 3zm0 2zm0 1zm0 3zm0 10zm1-98zm0 29zm0 18zm0 4zm0 1zm0 2zm0 3zm0 4zm0 1zm0 1zm0 1zm0 1zm0 1zm0 1zm0 1zm0 1zm0 1zm0 1zm0 1zm0 1zm0 1zm0 3zm0 2zm0 1zm0 1zm0 1zm0 1zm0 1zm0 2zm0 2zm1-101zm0 50zm0 9zm0 1zm0 5zm0 1zm0 2zm0 6zm0 1zm0 1zm0 1zm0 3zm0 1zm0 1zm0 1zm0 1zm0 2zm0 2zm0 1zm0 1zm0 1zm0 2zm0 1zm0 1zm0 3zm0 2zm0 2zm0 1zm0 1zm1-54zm0 5zm0 3zm0 4zm0 4zm0 1zm0 2zm0 1zm0 1zm0 3zm0 1zm0 1zm0 1zm0 1zm0 1zm0 1zm0 2zm0 1zm0 1zm0 1zm0 1zm0 1zm0 1zm0 1zm0 3zm0 1zm0 1zm0 1zm0 3zm0 1zm0 1zm0 3zm0 2zm0 7zm1-106zm0 52zm0 3zm0 1zm0 1zm0 2zm0 1zm0 1zm0 1zm0 1zm0 3zm0 2zm0 1zm0 1zm0 1zm0 2zm0 3zm0 1zm0 2zm0 1zm0 1zm0 1zm0 1zm0 2zm0 2zm0 1zm0 1zm0 3zm0 1zm0 1zm0 1zm1-56zm0 8zm0 6zm0 1zm0 6zm0 1zm0 3zm0 1zm0 2zm0 2zm0 1zm0 3zm0 2zm0 1zm0 1zm0 1zm0 1zm0 3zm0 2zm0 3zm0 3zm0 1zm0 1zm0 2zm0 2zm0 1zm0 5zm0 1zm1-62zm0 3zm0 8zm0 5zm0 2zm0 2zm0 1zm0 1zm0 1zm0 2zm0 2zm0 1zm0 1zm0 1zm0 1zm0 1zm0 1zm0 2zm0 1zm0 1zm0 1zm0 2zm0 1zm0 1zm0 1zm0 2zm0 1zm0 1zm0 2zm0 3zm0 1zm0 2zm0 1zm0 10zm1-93zm0 40zm0 2zm0 1zm0 7zm0 2zm0 1zm0 1zm0 1zm0 1zm0 1zm0 1zm0 1zm0 2zm0 1zm0 1zm0 3zm0 2zm0 1zm0 1zm0 1zm0 1zm0 2zm0 3zm0 1zm0 6zm0 7zm1-116zm0 47zm0 7zm0 5zm0 4zm0 2zm0 1zm0 2zm0 2zm0 1zm0 2zm0 1zm0 1zm0 1zm0 1zm0 1zm0 1zm0 1zm0 2zm0 1zm0 1zm0 1zm0 1zm0 1zm0 2zm0 2zm0 1zm0 1zm0 1zm0 2zm0 1zm0 2zm0 2zm0 4zm0 1zm0 2zm0 5zm1-114zm0 12zm0 34zm0 26zm0 1zm0 2zm0 2zm0 1zm0 2zm0 1zm0 1zm0 2zm0 1zm0 1zm0 4zm0 1zm0 2zm0 3zm0 1zm0 1zm0 1zm0 3zm0 2zm0 7zm0 2zm0 1zm1-73zm0 10zm0 3zm0 5zm0 2zm0 3zm0 2zm0 1zm0 1zm0 1zm0 3zm0 1zm0 1zm0 1zm0 1zm0 2zm0 1zm0 1zm0 3zm0 1zm0 3zm0 2zm0 1zm0 1zm0 1zm0 1zm0 1zm0 1zm0 1zm0 3zm0 2zm0 8zm0 5zm1-125zm0 22zm0 24zm0 6zm0 2zm0 16zm0 1zm0 1zm0 9zm0 4zm0 1zm0 1zm0 1zm0 1zm0 1zm0 2zm0 1zm0 1zm0 1zm0 2zm0 1zm0 1zm0 1zm0 2zm0 2zm0 1zm0 1zm0 4zm0 1zm0 1zm0 3zm0 1zm0 2zm0 5zm0 4zm0 1zm0 1zm1-112zm0 38zm0 9zm0 3zm0 6zm0 4zm0 4zm0 1zm0 2zm0 1zm0 1zm0 1zm0 2zm0 1zm0 1zm0 1zm0 3zm0 1zm0 1zm0 1zm0 1zm0 3zm0 1zm0 1zm0 3zm0 1zm0 1zm0 1zm0 2zm0 3zm1-76zm0 31zm0 1zm0 1zm0 2zm0 2zm0 2zm0 1zm0 1zm0 2zm0 1zm0 1zm0 1zm0 1zm0 4zm0 1zm0 1zm0 1zm0 1zm0 1zm0 1zm0 2zm0 1zm0 1zm0 2zm0 2zm0 1zm0 1zm0 1zm0 1zm0 1zm0 2zm0 4zm0 2zm0 1zm0 6zm1-97zm0 22zm0 15zm0 7zm0 2zm0 1zm0 4zm0 3zm0 2zm0 1zm0 1zm0 1zm0 3zm0 1zm0 1zm0 1zm0 2zm0 1zm0 1zm0 3zm0 2zm0 2zm0 8zm0 3zm0 1zm0 3zm0 1zm1-66zm0 12zm0 3zm0 4zm0 4zm0 2zm0 1zm0 1zm0 3zm0 2zm0 1zm0 2zm0 2zm0 1zm0 1zm0 1zm0 1zm0 2zm0 1zm0 4zm0 1zm0 1zm0 2zm0 1zm0 2zm0 2zm0 1zm0 1zm0 1zm1-108zm0 27zm0 4zm0 35zm0 7zm0 4zm0 1zm0 1zm0 1zm0 1zm0 1zm0 1zm0 1zm0 2zm0 2zm0 2zm0 1zm0 1zm0 1zm0 2zm0 3zm0 2zm0 1zm0 1zm0 1zm0 1zm0 1zm0 4zm0 3zm0 4zm0 11zm1-126zm0 30zm0 1zm0 6zm0 5zm0 19zm0 4zm0 2zm0 1zm0 1zm0 3zm0 2zm0 1zm0 2zm0 1zm0 1zm0 1zm0 1zm0 1zm0 1zm0 1zm0 1zm0 2zm0 1zm0 1zm0 1zm0 1zm0 2zm0 1zm0 1zm0 2zm0 4zm0 3zm0 2zm0 2zm0 2zm0 12zm1-129zm0 22zm0 1zm0 19zm0 8zm0 12zm0 7zm0 3zm0 3zm0 1zm0 2zm0 1zm0 1zm0 3zm0 2zm0 1zm0 1zm0 2zm0 2zm0 1zm0 1zm0 1zm0 2zm0 1zm0 2zm0 3zm0 1zm0 3zm0 1zm0 2zm0 5zm0 3zm0 2zm1-96zm0 16zm0 3zm0 7zm0 7zm0 9zm0 2zm0 4zm0 3zm0 1zm0 2zm0 1zm0 1zm0 2zm0 1zm0 1zm0 2zm0 1zm0 4zm0 1zm0 1zm0 1zm0 1zm0 1zm0 1zm0 1zm0 1zm0 1zm0 1zm0 1zm0 2zm0 2zm0 5zm0 3zm0 5zm1-65zm0 14zm0 3zm0 1zm0 1zm0 2zm0 1zm0 5zm0 1zm0 1zm0 1zm0 1zm0 2zm0 1zm0 1zm0 2zm0 2zm0 4zm0 1zm0 1zm0 4zm0 5zm0 1zm0 3zm0 3zm0 2zm0 1zm1-123zm0 6zm0 20zm0 22zm0 2zm0 5zm0 3zm0 2zm0 6zm0 6zm0 5zm0 1zm0 3zm0 2zm0 1zm0 2zm0 2zm0 1zm0 1zm0 1zm0 1zm0 2zm0 4zm0 1zm0 1zm0 2zm0 2zm0 2zm0 1zm0 2zm0 5zm0 4zm0 3zm0 5zm1-107zm0 8zm0 33zm0 1zm0 9zm0 1zm0 2zm0 1zm0 1zm0 2zm0 4zm0 8zm0 3zm0 3zm0 1zm0 1zm0 1zm0 3zm0 2zm0 1zm0 1zm0 1zm0 2zm0 2zm0 1zm0 1zm0 2zm0 2zm0 8zm1-125zm0 7zm0 24zm0 8zm0 9zm0 2zm0 7zm0 20zm0 10zm0 1zm0 1zm0 4zm0 3zm0 1zm0 1zm0 2zm0 1zm0 2zm0 1zm0 1zm0 4zm0 1zm0 5zm0 1zm0 7zm1-98zm0 19zm0 2zm0 7zm0 2zm0 1zm0 7zm0 12zm0 1zm0 1zm0 1zm0 8zm0 3zm0 3zm0 1zm0 1zm0 1zm0 1zm0 1zm0 3zm0 2zm0 1zm0 2zm0 3zm0 1zm0 1zm0 2zm0 9zm0 3zm0 2zm1-115zm0 13zm0 10zm0 3zm0 10zm0 1zm0 1zm0 4zm0 5zm0 2zm0 3zm0 1zm0 6zm0 1zm0 1zm0 6zm0 1zm0 2zm0 1zm0 1zm0 2zm0 2zm0 1zm0 1zm0 1zm0 1zm0 1zm0 1zm0 1zm0 1zm0 1zm0 1zm0 2zm0 1zm0 2zm0 1zm0 3zm0 2zm0 3zm0 2zm0 2zm0 5zm0 3zm0 2zm1-106zm0 14zm0 17zm0 3zm0 20zm0 2zm0 3zm0 1zm0 1zm0 2zm0 1zm0 1zm0 2zm0 1zm0 1zm0 3zm0 3zm0 1zm0 2zm0 1zm0 2zm0 2zm0 1zm0 1zm0 2zm0 9zm0 1zm0 2zm0 14zm1-89zm0 1zm0 2zm0 1zm0 2zm0 1zm0 17zm0 8zm0 1zm0 3zm0 4zm0 2zm0 1zm0 2zm0 2zm0 1zm0 1zm0 2zm0 1zm0 1zm0 2zm0 2zm0 4zm0 4zm0 2zm0 2zm0 2zm0 9zm1-95zm0 4zm0 2zm0 12zm0 5zm0 1zm0 9zm0 6zm0 10zm0 2zm0 2zm0 3zm0 3zm0 3zm0 1zm0 1zm0 2zm0 2zm0 1zm0 2zm0 7zm0 2zm0 2zm0 1zm0 2zm0 3zm1-130zm0 41zm0 9zm0 6zm0 4zm0 7zm0 3zm0 3zm0 2zm0 3zm0 4zm0 3zm0 3zm0 6zm0 3zm0 1zm0 4zm0 1zm0 1zm0 1zm0 1zm0 1zm0 5zm0 1zm0 6zm0 1zm0 4zm0 3zm0 3zm1-107zm0 16zm0 5zm0 19zm0 5zm0 4zm0 8zm0 6zm0 1zm0 4zm0 1zm0 3zm0 1zm0 2zm0 3zm0 2zm0 1zm0 1zm0 1zm0 1zm0 2zm0 1zm0 1zm0 1zm0 4zm0 3zm0 8zm0 3zm0 6zm1-104zm0 12zm0 4zm0 1zm0 4zm0 1zm0 2zm0 5zm0 2zm0 1zm0 9zm0 5zm0 6zm0 4zm0 1zm0 3zm0 1zm0 2zm0 2zm0 4zm0 4zm0 1zm0 2zm0 1zm0 1zm0 3zm0 1zm0 1zm0 1zm0 6zm0 1zm0 3zm0 3zm0 1zm0 2zm0 2zm1-105zm0 23zm0 2zm0 2zm0 10zm0 1zm0 7zm0 9zm0 6zm0 1zm0 1zm0 4zm0 2zm0 1zm0 5zm0 1zm0 1zm0 3zm0 1zm0 2zm0 1zm0 2zm0 1zm0 1zm0 5zm0 2zm0 1zm0 20zm0 1zm1-119zm0 5zm0 3zm0 11zm0 7zm0 1zm0 14zm0 4zm0 5zm0 6zm0 6zm0 3zm0 2zm0 3zm0 1zm0 4zm0 1zm0 4zm0 2zm0 1zm0 1zm0 4zm0 3zm0 5zm0 6zm1-88zm0 4zm0 10zm0 1zm0 4zm0 14zm0 8zm0 6zm0 4zm0 2zm0 3zm0 5zm0 2zm0 1zm0 3zm0 3zm0 1zm0 1zm0 2zm0 1zm0 10zm0 1zm0 4zm0 2zm0 1zm1-116zm0 25zm0 3zm0 4zm0 2zm0 1zm0 1zm0 4zm0 2zm0 1zm0 6zm0 1zm0 7zm0 17zm0 3zm0 2zm0 2zm0 1zm0 1zm0 4zm0 2zm0 1zm0 4zm0 2zm0 1zm0 3zm0 2zm0 1zm0 8zm0 4zm0 5zm1-110zm0 11zm0 6zm0 3zm0 10zm0 10zm0 4zm0 1zm0 9zm0 8zm0 3zm0 6zm0 1zm0 4zm0 2zm0 1zm0 1zm0 3zm0 2zm0 8zm0 2zm0 1zm0 1zm0 1zm0 2zm0 1zm1-88zm0 6zm0 1zm0 11zm0 7zm0 5zm0 3zm0 1zm0 3zm0 2zm0 8zm0 6zm0 1zm0 3zm0 1zm0 3zm0 2zm0 1zm0 1zm0 1zm0 3zm0 1zm0 3zm0 1zm0 2zm0 1zm0 3zm0 5zm0 11zm0 18zm1-130zm0 2zm0 15zm0 3zm0 9zm0 4zm0 5zm0 4zm0 1zm0 1zm0 9zm0 9zm0 1zm0 3zm0 5zm0 2zm0 3zm0 12zm0 1zm0 1zm0 1zm0 1zm0 2zm0 12zm1-97zm0 8zm0 12zm0 1zm0 6zm0 1zm0 10zm0 2zm0 6zm0 8zm0 3zm0 2zm0 3zm0 1zm0 1zm0 3zm0 18zm0 7zm0 1zm0 8zm0 5zm0 7zm1-119zm0 23zm0 5zm0 1zm0 6zm0 8zm0 16zm0 12zm0 2zm0 3zm0 8zm0 3zm0 9zm0 15zm1-103zm0 5zm0 12zm0 7zm0 7zm0 5zm0 15zm0 8zm0 3zm0 1zm0 2zm0 3zm0 7zm0 2zm0 9zm1-86zm0 4zm0 1zm0 2zm0 19zm0 2zm0 26zm0 4zm0 2zm0 5zm0 1zm0 2zm0 1zm0 2zm0 1zm0 4zm0 2zm0 2zm0 13zm0 3zm0 6zm1-112zm0 1zm0 2zm0 5zm0 6zm0 1zm0 10zm0 39zm0 10zm0 3zm0 6zm0 6zm0 8zm0 8zm0 1zm1-99zm0 3zm0 3zm0 7zm0 14zm0 20zm0 1zm0 7zm0 3zm0 5zm0 10zm0 2zm0 1zm0 5zm0 1zm0 6zm0 11zm1-116zm0 36zm0 9zm0 20zm0 2zm0 3zm0 3zm0 1zm0 20zm0 1zm0 4zm0 3zm0 1zm0 6zm0 5zm0 10zm1-108zm0 1zm0 9zm0 4zm0 2zm0 19zm0 48zm0 10zm0 7zm0 3zm0 10zm1-132zm0 1zm0 2zm0 12zm0 7zm0 3zm0 3zm0 12zm0 13zm0 28zm0 1zm0 5zm0 2zm0 8zm0 4zm0 10zm0 3zm1-95zm0 13zm0 1zm0 11zm0 9zm0 9zm0 1zm0 10zm0 16zm0 10zm0 6zm0 3zm0 18zm1-122zm0 3zm0 9zm0 2zm0 2zm0 2zm0 1zm0 12zm0 4zm0 1zm0 8zm0 10zm0 5zm0 6zm0 22zm0 7zm0 19zm0 5zm0 11zm1-120zm0 1zm0 10zm0 3zm0 25zm0 39zm0 8zm1-102zm0 21zm0 10zm0 4zm0 4zm0 31zm0 26zm0 6zm0 8zm1-93zm0 22zm0 10zm0 7zm0 2zm0 49zm0 7zm1-100zm0 2zm0 2zm0 12zm0 2zm0 21zm0 22zm0 7zm0 6zm0 11zm0 21zm0 8zm1-97zm0 70zm0 14zm0 3zm1-100zm0 9zm0 1zm0 4zm0 5zm0 9zm0 53zm0 3zm0 2zm0 7zm0 7zm0 7zm1-135zm0 15zm0 8zm0 1zm0 18zm0 4zm0 6zm0 43zm0 32zm0 7zm1-110zm0 10zm0 4zm0 39zm0 7zm0 25zm1-87zm0 5zm0 7zm0 5zm0 14zm0 57zm0 5zm0 7zm0 4zm0 6zm0 2zm1-113zm0 8zm0 3zm0 2zm0 3zm0 1zm0 9zm0 20zm0 58zm0 2zm0 4zm0 4zm1-115zm0 3zm0 6zm0 1zm0 18zm0 10zm0 50zm0 9zm0 6zm0 5zm1-113zm0 20zm0 8zm0 59zm0 5zm0 6zm0 17zm1-119zm0 22zm0 3zm0 10zm0 74zm1-106zm0 2zm0 3zm0 2zm0 2zm0 2zm0 2zm0 14zm0 21zm0 44zm0 7zm0 7zm0 12zm0 8zm1-120zm0 1zm0 15zm0 12zm0 34zm0 13zm0 21zm0 8zm1-93zm0 5zm0 5zm0 73zm0 10zm0 4zm0 5zm1-107zm0 1zm0 18zm0 7zm0 9zm0 59zm0 1zm0 2zm0 1zm0 8zm0 2zm0 8zm0 6zm1-119zm0 8zm0 16zm0 59zm0 9zm0 10zm1-110zm0 1zm0 2zm0 78zm0 11zm0 14zm0 4zm0 8zm0 1zm0 11zm1-135zm0 5zm0 9zm0 2zm0 4zm0 7zm0 82zm0 7zm1-129zm0 3zm0 6zm0 11zm0 10zm0 23zm0 38zm0 24zm0 8zm0 1zm0 4zm0 9zm1-119zm0 4zm0 10zm0 3zm0 80zm0 3zm0 3zm0 12zm1-121zm0 2zm0 9zm0 22zm0 1zm0 62zm0 7zm0 1zm0 8zm0 7zm0 11zm1-102zm0 69zm0 21zm0 10zm1-133zm0 21zm0 2zm0 41zm0 31zm0 3zm0 1zm0 5zm0 8zm0 3zm0 8zm0 9zm1-121zm0 5zm0 7zm0 8zm0 10zm0 15zm0 18zm0 30zm0 4zm0 1zm0 2zm0 16zm0 11zm1-119zm0 6zm0 1zm0 1zm0 10zm0 44zm0 3zm0 20zm0 15zm0 6zm0 1zm0 3zm1-125zm0 2zm0 15zm0 5zm0 73zm0 10zm0 10zm0 1zm0 1zm0 2zm0 2zm0 8zm1-129zm0 5zm0 14zm0 1zm0 4zm0 5zm0 6zm0 51zm0 16zm0 3zm0 3zm0 1zm0 6zm1-90zm0 1zm0 21zm0 19zm0 32zm0 13zm0 5zm0 7zm1-103zm0 1zm0 1zm0 4zm0 5zm0 13zm0 50zm0 2zm0 12zm1-106zm0 15zm0 4zm0 6zm0 74zm0 2zm0 2zm0 18zm0 2zm0 1zm1-109zm0 5zm0 7zm0 1zm0 16zm0 3zm0 11zm0 26zm0 22zm0 1zm0 7zm0 3zm0 9zm1-133zm0 11zm0 1zm0 3zm0 3zm0 8zm0 20zm0 52zm0 16zm0 2zm0 1zm0 5zm0 19zm1-124zm0 10zm0 60zm1-92zm0 9zm0 12zm0 13zm0 2zm0 64zm0 21zm0 13zm1-108zm0 2zm0 94zm0 2zm0 3zm0 4zm1-79zm0 24zm0 25zm0 13zm0 5zm0 2zm1-94zm0 3zm0 12zm0 38zm0 17zm0 11zm1-69zm0 15zm0 55zm0 13zm0 7zm0 9zm1-110zm0 79zm0 2zm0 4zm0 3zm0 11zm1-115zm0 14zm0 2zm0 13zm0 75zm0 1zm0 3zm0 5zm1-109zm0 1zm0 9zm0 12zm0 3zm0 88zm0 1zm0 2zm0 1zm0 1zm1-103zm0 2zm0 77zm0 9zm1-101zm0 6zm0 6zm0 2zm0 1zm0 70zm0 5zm0 17zm1-122zm0 22zm0 10zm0 6zm0 1zm0 12zm0 52zm0 3zm0 3zm0 4zm1-97zm0 2zm0 97zm0 4zm1-132zm0 7zm0 16zm0 22zm0 83zm1-46zm0 28zm0 25zm1-119zm0 27zm0 1zm1-40zm0 6zm0 30zm0 8zm0 38zm0 34zm0 1zm1-108zm0 13zm0 2zm0 6zm0 2zm0 1zm0 77zm0 8zm0 4zm1-97zm0 8zm0 1zm0 14zm1-40zm0 5zm0 26zm1-8zm0 10zm0 75zm0 8zm0 11zm1-137zm0 17zm0 21zm0 4zm0 5zm0 5zm0 76zm1-100zm0 94zm1-123zm0 46zm0 22zm0 9zm0 54zm1-95zm0 85zm1-158zm0 60zm0 3zm0 4zm1-13zm0 27zm0 69zm0 1zm1-84zm1 10zm1-12zm0 19zm0 89zm1-138zm0 131zm1-124zm0 2zm0 3zm1 101zm0 2zm1-120zm0 51zm0 78zm1-134zm0 3zm0 11zm0 44zm1-49zm0 10zm0 13zm1 4zm1 73zm1-60zm2 86zm0 25zm1-34zm1-108zm0 2zm0 32zm0 78zm2-137zm0 4zm1 47zm1-33zm0 79zm6-64zm0 21zm4-32z" stroke="#ff1515" stroke-opacity="0.9" stroke-width="1.5" stroke-linecap="square" fill="none"/>
<path d="M892.9 752v5M896.2 752v5M899.5 752v5M902.8 752v5M906.1 752v5M909.4 752v5M912.7 752v5M916 752v5M919.3 752v5M922.6 752v5M925.9 752v5M929.2 752v5M932.5 752v5M935.8 752v5M939.1 752v5M942.4 752v5M945.7 752v5M949 752v5M952.3 752v5M955.6 752v5M958.9 752v5M962.2 752v5M965.5 752v5M968.8 752v5M972.1 752v5M932.9 752v7.7M974.3 752v7.7M990.8 752v5M1000.4 752v5M1007.2 752v5M1012.5 752v5M1016.9 752v5M1020.5 752v5M1023.7 752v5M1026.5 752v5M1029 752v7.7M1045.2 752v5M1054.7 752v5M1061.5 752v5M1066.7 752v5M1070.9 752v5M1074.6 752v5M1077.7 752v5M1080.4 752v5M1082.9 752v7.7M1099.1 752v5M1108.5 752v5M1115.2 752v5M1120.4 752v5M1124.7 752v5M1128.3 752v5M1131.4 752v5M1134.1 752v5M1136.6 752v7.7M1152.8 752v5M1162.2 752v5" stroke="#3c3c3c" stroke-width="1.1" fill="none"/>
<path d="M892.9 752h-5M892.9 748.7h-5M892.9 745.4h-5M892.9 742.1h-5M892.9 738.8h-5M892.9 735.5h-5M892.9 732.2h-5M892.9 728.9h-5M892.9 725.6h-5M892.9 722.3h-5M892.9 719h-5M892.9 715.7h-5M892.9 712.4h-5M892.9 709.1h-5M892.9 705.8h-5M892.9 702.5h-5M892.9 699.2h-5M892.9 724.3h-7.7M892.9 696h-7.7M892.9 678.5h-5M892.9 668.3h-5M892.9 661.1h-5M892.9 655.5h-5M892.9 650.9h-5M892.9 647h-5M892.9 643.6h-5M892.9 640.7h-5M892.9 638h-7.7M892.9 619.6h-5M892.9 608.9h-5M892.9 601.3h-5M892.9 595.4h-5M892.9 590.5h-5M892.9 586.4h-5M892.9 582.9h-5M892.9 579.8h-5M892.9 577h-7.7M892.9 558.3h-5M892.9 547.4h-5M892.9 539.7h-5M892.9 533.7h-5M892.9 528.8h-5M892.9 524.6h-5M892.9 521h-5M892.9 517.8h-5M892.9 515h-7.7M892.9 496.3h-5M892.9 485.4h-5" stroke="#3c3c3c" stroke-width="1.1" fill="none"/>
<rect x="892.9" y="480" width="274.2" height="272" fill="none" stroke="#3c3c3c" stroke-width="1.6"/>
<line x1="885.4" y1="480" x2="892.9" y2="480" stroke="#3c3c3c" stroke-width="1.4"/>
<line x1="1167.1" y1="752" x2="1167.1" y2="759.5" stroke="#3c3c3c" stroke-width="1.4"/>
<line x1="1044.9" y1="480" x2="1044.9" y2="752" stroke="#3c3c3c" stroke-width="1.6"/>
<line x1="892.9" y1="683.4" x2="1167.1" y2="683.4" stroke="#3c3c3c" stroke-width="1.6"/>
<text class="g" x="932.9" y="777" font-size="15" text-anchor="middle">0</text>
<text class="g" x="974.8" y="777" font-size="15" text-anchor="middle">10<tspan dy="-6.3" font-size="10.2">3</tspan></text>
<text class="g" x="1029.5" y="777" font-size="15" text-anchor="middle">10<tspan dy="-6.3" font-size="10.2">4</tspan></text>
<text class="g" x="1083.4" y="777" font-size="15" text-anchor="middle">10<tspan dy="-6.3" font-size="10.2">5</tspan></text>
<text class="g" x="1137.1" y="777" font-size="15" text-anchor="middle">10<tspan dy="-6.3" font-size="10.2">6</tspan></text>
<text class="g" x="879.5" y="724.3" font-size="15" text-anchor="middle" transform="rotate(-90 879.5 724.3)">0</text>
<text class="g" x="879.5" y="696" font-size="15" text-anchor="middle" transform="rotate(-90 879.5 696)">10<tspan dy="-6.3" font-size="10.2">3</tspan></text>
<text class="g" x="879.5" y="638" font-size="15" text-anchor="middle" transform="rotate(-90 879.5 638)">10<tspan dy="-6.3" font-size="10.2">4</tspan></text>
<text class="g" x="879.5" y="577" font-size="15" text-anchor="middle" transform="rotate(-90 879.5 577)">10<tspan dy="-6.3" font-size="10.2">5</tspan></text>
<text class="g" x="879.5" y="515" font-size="15" text-anchor="middle" transform="rotate(-90 879.5 515)">10<tspan dy="-6.3" font-size="10.2">6</tspan></text>
<text class="g" x="897.4" y="498.5" font-size="14.3">Q1-UL</text>
<text class="g" x="1162.1" y="498.5" font-size="14.3" text-anchor="end">Q1-UR</text>
<text class="g" x="897.4" y="743.5" font-size="14.3">Q1-LL</text>
<text class="g" x="1162.1" y="743.5" font-size="14.3" text-anchor="end">Q1-LR</text>
<rect x="1213.4" y="480" width="275.7" height="272" fill="#fff"/>
<ellipse cx="1318" cy="717" rx="29" ry="15.5" transform="rotate(-20 1318 717)" fill="#ff0000" fill-opacity="1.0" filter="url(#fb)"/>
<ellipse cx="1342" cy="698" rx="13" ry="9" transform="rotate(-38 1342 698)" fill="#ff0000" fill-opacity="0.95" filter="url(#fb)"/>
<ellipse cx="1412" cy="629" rx="20" ry="5.5" transform="rotate(-37 1412 629)" fill="#ff0000" fill-opacity="0.6" filter="url(#fb)"/>
<path d="M1245 737zm10 3zm0 8zm3-28zm0 20zm2 6zm2 2zm2-36zm1 5zm0 6zm0 2zm0 3zm0 12zm1-11zm1-6zm0 7zm0 3zm0 13zm1-25zm0 21zm1-28zm0 14zm0 8zm0 4zm2-20zm0 21zm0 2zm1-32zm0 14zm0 12zm1-19zm0 5zm0 18zm1-20zm0 1zm1-7zm0 2zm0 1zm0 8zm1-19zm0 15zm0 3zm0 3zm0 3zm1-17zm0 13zm0 6zm0 2zm0 2zm0 4zm1-14zm0 9zm1-27zm0 6zm0 2zm0 1zm0 12zm0 3zm0 6zm0 7zm1-43zm0 7zm0 6zm0 5zm0 2zm0 1zm0 1zm0 5zm0 4zm0 2zm0 1zm0 3zm0 3zm1-26zm0 3zm0 3zm0 8zm0 2zm1-30zm0 7zm0 4zm0 1zm0 2zm0 1zm0 1zm0 12zm0 1zm0 1zm0 8zm1-43zm0 10zm0 6zm0 1zm0 2zm0 1zm0 10zm0 1zm0 2zm0 7zm0 1zm1-24zm0 2zm0 5zm0 2zm0 2zm0 1zm0 3zm0 4zm0 5zm0 4zm1-36zm0 14zm0 1zm0 1zm0 6zm0 2zm1-27zm0 4zm0 3zm0 1zm0 1zm0 1zm0 7zm0 1zm0 2zm0 3zm0 1zm0 1zm0 2zm0 1zm0 9zm1-33zm0 9zm0 2zm0 3zm0 8zm0 6zm1-32zm0 7zm0 1zm0 8zm0 3zm0 2zm0 1zm0 1zm0 2zm0 3zm0 1zm0 12zm1-43zm0 3zm0 6zm0 4zm0 2zm0 3zm0 1zm0 3zm0 1zm0 1zm0 1zm0 3zm0 1zm0 7zm0 2zm1-54zm0 19zm0 6zm0 1zm0 10zm0 1zm0 1zm0 6zm0 2zm0 1zm0 2zm0 1zm0 2zm0 1zm0 5zm0 1zm1-38zm0 2zm0 9zm0 4zm0 1zm0 8zm0 1zm0 2zm0 5zm1-109zm0 66zm0 4zm0 7zm0 2zm0 3zm0 1zm0 2zm0 4zm0 2zm0 1zm0 1zm0 1zm0 3zm0 5zm0 3zm1-34zm0 1zm0 9zm0 1zm0 2zm0 1zm0 4zm0 1zm0 1zm0 1zm0 1zm0 2zm0 5zm0 1zm0 3zm0 4zm0 7zm0 1zm0 1zm1-84zm0 44zm0 5zm0 2zm0 3zm0 1zm0 1zm0 1zm0 1zm0 2zm0 1zm0 2zm0 1zm0 6zm0 1zm0 1zm0 11zm1-52zm0 9zm0 2zm0 6zm0 2zm0 1zm0 1zm0 3zm0 1zm0 1zm0 1zm0 1zm0 2zm0 8zm0 3zm0 12zm0 2zm1-52zm0 10zm0 6zm0 1zm0 5zm0 2zm0 2zm0 3zm0 2zm0 1zm0 1zm0 1zm0 6zm0 1zm0 4zm1-51zm0 5zm0 1zm0 5zm0 8zm0 2zm0 1zm0 1zm0 2zm0 4zm0 2zm0 1zm0 3zm0 1zm0 3zm0 1zm0 3zm0 2zm0 6zm1-48zm0 4zm0 8zm0 1zm0 5zm0 1zm0 3zm0 2zm0 2zm0 1zm0 5zm0 1zm0 1zm0 3zm0 2zm0 1zm0 4zm0 2zm0 4zm1-41zm0 1zm0 2zm0 3zm0 2zm0 1zm0 1zm0 3zm0 1zm0 1zm0 2zm0 1zm0 2zm0 1zm0 2zm0 6zm0 2zm0 6zm0 1zm0 1zm0 5zm1-44zm0 3zm0 2zm0 1zm0 4zm0 2zm0 1zm0 3zm0 1zm0 2zm0 1zm0 2zm0 1zm0 3zm0 2zm0 1zm0 2zm0 2zm0 1zm0 1zm0 1zm0 2zm0 1zm0 1zm1-44zm0 9zm0 3zm0 2zm0 1zm0 1zm0 2zm0 1zm0 3zm0 2zm0 1zm0 1zm0 2zm0 3zm0 1zm0 2zm0 1zm0 11zm1-46zm0 2zm0 2zm0 4zm0 1zm0 3zm0 1zm0 2zm0 2zm0 3zm0 1zm0 3zm0 2zm0 1zm0 1zm0 1zm0 1zm0 1zm0 2zm0 1zm0 1zm0 6zm0 1zm0 4zm0 3zm1-53zm0 6zm0 1zm0 3zm0 2zm0 3zm0 2zm0 1zm0 1zm0 1zm0 1zm0 1zm0 1zm0 1zm0 2zm0 1zm0 2zm0 3zm0 2zm0 1zm0 1zm0 2zm0 4zm0 5zm0 3zm1-47zm0 2zm0 1zm0 1zm0 1zm0 1zm0 3zm0 2zm0 1zm0 1zm0 1zm0 1zm0 1zm0 1zm0 1zm0 3zm0 3zm0 2zm0 1zm0 1zm0 1zm0 1zm0 6zm0 2zm0 1zm0 2zm0 2zm1-44zm0 3zm0 1zm0 5zm0 1zm0 1zm0 2zm0 5zm0 1zm0 1zm0 2zm0 1zm0 2zm0 1zm0 3zm0 2zm0 1zm0 1zm0 1zm0 1zm0 1zm0 2zm0 1zm0 2zm0 2zm0 2zm0 2zm1-102zm0 40zm0 8zm0 15zm0 4zm0 5zm0 1zm0 1zm0 1zm0 1zm0 1zm0 1zm0 1zm0 1zm0 1zm0 1zm0 1zm0 1zm0 1zm0 1zm0 1zm0 2zm0 1zm0 1zm0 2zm0 1zm0 4zm0 4zm1-49zm0 8zm0 1zm0 1zm0 1zm0 1zm0 1zm0 1zm0 1zm0 4zm0 3zm0 1zm0 1zm0 2zm0 1zm0 2zm0 5zm0 2zm0 1zm0 1zm0 2zm0 3zm0 4zm1-54zm0 7zm0 1zm0 6zm0 1zm0 4zm0 1zm0 2zm0 3zm0 1zm0 1zm0 1zm0 1zm0 2zm0 1zm0 2zm0 1zm0 1zm0 1zm0 4zm0 2zm0 1zm0 2zm0 2zm0 1zm0 10zm1-52zm0 3zm0 1zm0 1zm0 2zm0 1zm0 2zm0 1zm0 1zm0 1zm0 1zm0 1zm0 2zm0 2zm0 1zm0 1zm0 1zm0 1zm0 2zm0 1zm0 1zm0 2zm0 1zm0 1zm0 1zm0 1zm0 3zm0 1zm0 2zm0 1zm0 1zm0 6zm0 7zm1-63zm0 10zm0 3zm0 1zm0 5zm0 1zm0 1zm0 2zm0 1zm0 1zm0 1zm0 2zm0 1zm0 1zm0 2zm0 1zm0 1zm0 1zm0 1zm0 1zm0 1zm0 1zm0 1zm0 2zm0 1zm0 1zm0 1zm0 1zm0 1zm0 2zm0 2zm0 8zm1-82zm0 10zm0 21zm0 8zm0 1zm0 3zm0 3zm0 2zm0 1zm0 1zm0 1zm0 1zm0 1zm0 1zm0 1zm0 1zm0 1zm0 3zm0 4zm0 1zm0 2zm0 1zm0 1zm0 1zm0 1zm0 1zm0 1zm0 4zm1-45zm0 8zm0 1zm0 1zm0 1zm0 1zm0 2zm0 1zm0 2zm0 1zm0 1zm0 1zm0 1zm0 1zm0 1zm0 1zm0 1zm0 1zm0 1zm0 1zm0 1zm0 1zm0 1zm0 2zm0 2zm0 1zm0 1zm0 13zm1-48zm0 1zm0 4zm0 1zm0 1zm0 3zm0 1zm0 1zm0 1zm0 1zm0 1zm0 1zm0 1zm0 3zm0 1zm0 1zm0 3zm0 1zm0 1zm0 1zm0 1zm0 1zm0 1zm0 1zm0 1zm0 1zm0 1zm0 2zm0 2zm0 1zm0 2zm0 1zm0 4zm0 1zm1-103zm0 42zm0 11zm0 4zm0 4zm0 1zm0 3zm0 1zm0 3zm0 2zm0 1zm0 2zm0 1zm0 1zm0 2zm0 1zm0 1zm0 1zm0 2zm0 3zm0 1zm0 1zm0 1zm0 2zm0 1zm0 2zm0 1zm0 2zm0 2zm0 4zm1-42zm0 1zm0 1zm0 1zm0 2zm0 3zm0 1zm0 1zm0 1zm0 1zm0 1zm0 1zm0 1zm0 1zm0 1zm0 1zm0 1zm0 5zm0 1zm0 2zm0 2zm0 1zm0 4zm0 6zm0 4zm1-105zm0 37zm0 15zm0 8zm0 2zm0 3zm0 1zm0 3zm0 2zm0 2zm0 1zm0 1zm0 1zm0 4zm0 2zm0 5zm0 1zm0 4zm0 3zm0 3zm1-63zm0 10zm0 5zm0 2zm0 4zm0 5zm0 1zm0 1zm0 1zm0 1zm0 1zm0 2zm0 2zm0 1zm0 1zm0 1zm0 1zm0 1zm0 1zm0 1zm0 1zm0 2zm0 2zm0 2zm0 1zm0 4zm0 1zm0 3zm0 1zm0 1zm0 3zm0 4zm1-109zm0 45zm0 11zm0 5zm0 4zm0 2zm0 1zm0 1zm0 1zm0 3zm0 1zm0 1zm0 1zm0 1zm0 1zm0 2zm0 1zm0 2zm0 3zm0 1zm0 1zm0 1zm0 1zm0 1zm0 3zm0 1zm0 3zm0 1zm0 1zm0 1zm0 1zm1-43zm0 3zm0 2zm0 1zm0 3zm0 4zm0 2zm0 2zm0 1zm0 1zm0 1zm0 1zm0 1zm0 1zm0 1zm0 1zm0 1zm0 1zm0 1zm0 1zm0 2zm0 3zm0 2zm0 1zm0 1zm0 1zm0 1zm0 4zm0 1zm0 3zm0 1zm0 3zm1-56zm0 8zm0 4zm0 1zm0 1zm0 1zm0 2zm0 3zm0 1zm0 2zm0 1zm0 1zm0 1zm0 1zm0 1zm0 4zm0 1zm0 1zm0 5zm0 1zm0 1zm0 3zm0 2zm0 3zm0 10zm1-103zm0 44zm0 4zm0 4zm0 2zm0 2zm0 1zm0 1zm0 1zm0 1zm0 1zm0 1zm0 1zm0 1zm0 5zm0 1zm0 1zm0 2zm0 2zm0 1zm0 1zm0 1zm0 1zm0 1zm0 2zm0 2zm0 1zm0 1zm0 5zm0 9zm1-101zm0 36zm0 6zm0 6zm0 2zm0 3zm0 2zm0 2zm0 2zm0 2zm0 2zm0 1zm0 1zm0 3zm0 1zm0 1zm0 1zm0 1zm0 1zm0 1zm0 1zm0 1zm0 1zm0 1zm0 1zm0 4zm0 1zm0 1zm0 2zm0 2zm0 2zm0 1zm0 2zm0 3zm1-86zm0 14zm0 17zm0 1zm0 1zm0 1zm0 2zm0 4zm0 3zm0 1zm0 4zm0 1zm0 1zm0 2zm0 1zm0 3zm0 3zm0 1zm0 2zm0 1zm0 2zm0 2zm0 2zm0 1zm0 1zm0 3zm0 1zm0 3zm0 2zm0 3zm0 4zm1-122zm0 2zm0 4zm0 15zm0 35zm0 7zm0 7zm0 5zm0 1zm0 5zm0 2zm0 1zm0 1zm0 1zm0 1zm0 2zm0 1zm0 3zm0 1zm0 3zm0 1zm0 1zm0 1zm0 2zm0 4zm0 2zm0 7zm0 2zm0 11zm1-87zm0 30zm0 3zm0 1zm0 1zm0 2zm0 4zm0 1zm0 3zm0 1zm0 2zm0 1zm0 1zm0 1zm0 1zm0 1zm0 1zm0 3zm0 1zm0 1zm0 2zm0 1zm0 2zm0 7zm0 2zm0 4zm0 1zm0 3zm0 3zm1-109zm0 1zm0 12zm0 15zm0 8zm0 3zm0 12zm0 1zm0 2zm0 2zm0 5zm0 6zm0 1zm0 1zm0 1zm0 2zm0 2zm0 1zm0 1zm0 2zm0 1zm0 1zm0 1zm0 1zm0 1zm0 1zm0 4zm0 1zm0 2zm0 1zm0 3zm0 7zm1-138zm0 33zm0 11zm0 2zm0 1zm0 44zm0 1zm0 2zm0 1zm0 4zm0 1zm0 3zm0 1zm0 3zm0 1zm0 1zm0 1zm0 2zm0 1zm0 2zm0 1zm0 2zm0 1zm0 2zm0 3zm0 1zm0 2zm0 2zm0 1zm0 1zm0 1zm0 6zm1-128zm0 26zm0 52zm0 2zm0 2zm0 4zm0 1zm0 3zm0 1zm0 1zm0 1zm0 1zm0 1zm0 2zm0 2zm0 1zm0 1zm0 3zm0 1zm0 1zm0 2zm0 1zm0 2zm0 4zm0 1zm0 1zm0 2zm0 1zm0 6zm1-122zm0 5zm0 65zm0 10zm0 2zm0 1zm0 1zm0 1zm0 1zm0 1zm0 3zm0 1zm0 2zm0 1zm0 3zm0 1zm0 1zm0 1zm0 3zm0 3zm0 2zm0 1zm0 2zm0 1zm0 1zm0 1zm0 3zm0 5zm0 1zm0 3zm0 5zm1-108zm0 26zm0 19zm0 5zm0 5zm0 2zm0 1zm0 2zm0 5zm0 2zm0 2zm0 1zm0 1zm0 2zm0 1zm0 1zm0 1zm0 1zm0 1zm0 1zm0 4zm0 3zm0 1zm0 1zm0 2zm0 4zm0 2zm0 4zm0 4zm1-112zm0 1zm0 1zm0 40zm0 2zm0 9zm0 6zm0 3zm0 2zm0 1zm0 1zm0 1zm0 1zm0 1zm0 2zm0 3zm0 2zm0 3zm0 1zm0 1zm0 1zm0 1zm0 1zm0 2zm0 1zm0 1zm0 1zm0 2zm0 3zm0 1zm0 1zm0 1zm0 1zm0 1zm0 2zm0 2zm0 3zm0 1zm1-124zm0 29zm0 13zm0 11zm0 15zm0 1zm0 3zm0 5zm0 2zm0 5zm0 3zm0 3zm0 2zm0 1zm0 1zm0 1zm0 1zm0 1zm0 3zm0 2zm0 2zm0 1zm0 1zm0 1zm0 1zm0 1zm0 1zm0 1zm0 1zm0 1zm0 3zm0 2zm0 3zm1-62zm0 5zm0 6zm0 1zm0 9zm0 2zm0 1zm0 1zm0 2zm0 2zm0 1zm0 1zm0 1zm0 1zm0 2zm0 4zm0 2zm0 1zm0 1zm0 1zm0 2zm0 1zm0 1zm0 2zm0 1zm0 5zm0 3zm0 9zm1-84zm0 7zm0 6zm0 6zm0 3zm0 5zm0 2zm0 1zm0 5zm0 2zm0 1zm0 1zm0 3zm0 1zm0 1zm0 2zm0 3zm0 1zm0 1zm0 1zm0 1zm0 1zm0 1zm0 1zm0 1zm0 2zm0 2zm0 1zm0 2zm0 1zm0 1zm0 1zm0 2zm0 1zm0 3zm0 1zm0 3zm0 9zm1-92zm0 6zm0 27zm0 2zm0 3zm0 2zm0 1zm0 1zm0 2zm0 1zm0 2zm0 1zm0 2zm0 1zm0 1zm0 2zm0 2zm0 1zm0 3zm0 1zm0 2zm0 1zm0 1zm0 1zm0 2zm0 1zm0 1zm0 1zm0 1zm0 1zm0 1zm0 3zm0 7zm0 7zm1-151zm0 45zm0 1zm0 16zm0 7zm0 9zm0 17zm0 4zm0 1zm0 3zm0 3zm0 1zm0 1zm0 1zm0 2zm0 3zm0 1zm0 1zm0 1zm0 3zm0 3zm0 1zm0 1zm0 1zm0 1zm0 1zm0 1zm0 1zm0 7zm0 2zm0 3zm0 6zm0 2zm0 8zm1-168zm0 61zm0 9zm0 10zm0 20zm0 8zm0 3zm0 4zm0 3zm0 2zm0 2zm0 1zm0 1zm0 1zm0 2zm0 1zm0 1zm0 4zm0 1zm0 2zm0 3zm0 3zm0 2zm1-102zm0 3zm0 15zm0 1zm0 16zm0 1zm0 4zm0 4zm0 5zm0 2zm0 6zm0 5zm0 6zm0 1zm0 2zm0 1zm0 1zm0 1zm0 1zm0 1zm0 1zm0 1zm0 2zm0 1zm0 1zm0 1zm0 1zm0 1zm0 1zm0 1zm0 1zm0 1zm0 1zm0 3zm0 1zm0 1zm0 3zm0 1zm0 3zm0 1zm0 3zm0 3zm0 6zm1-132zm0 27zm0 12zm0 4zm0 8zm0 14zm0 6zm0 1zm0 2zm0 5zm0 1zm0 2zm0 1zm0 3zm0 5zm0 1zm0 1zm0 2zm0 2zm0 1zm0 1zm0 1zm0 2zm0 1zm0 1zm0 2zm0 1zm0 1zm0 1zm0 1zm0 1zm0 3zm0 1zm0 4zm0 1zm0 1zm1-100zm0 26zm0 30zm0 7zm0 6zm0 1zm0 1zm0 2zm0 1zm0 1zm0 1zm0 1zm0 1zm0 1zm0 1zm0 2zm0 2zm0 1zm0 1zm0 3zm0 2zm0 2zm0 1zm0 1zm0 1zm0 6zm0 11zm1-97zm0 13zm0 2zm0 3zm0 10zm0 9zm0 2zm0 5zm0 3zm0 2zm0 1zm0 1zm0 3zm0 1zm0 2zm0 1zm0 2zm0 6zm0 1zm0 1zm0 1zm0 1zm0 6zm0 4zm0 7zm0 5zm0 1zm1-117zm0 1zm0 12zm0 16zm0 3zm0 6zm0 1zm0 4zm0 11zm0 1zm0 6zm0 2zm0 10zm0 2zm0 2zm0 1zm0 1zm0 1zm0 2zm0 2zm0 1zm0 1zm0 4zm0 1zm0 2zm0 1zm0 2zm0 3zm0 1zm0 1zm0 1zm0 1zm0 1zm0 1zm0 1zm0 3zm0 5zm1-92zm0 3zm0 4zm0 16zm0 5zm0 7zm0 1zm0 1zm0 3zm0 1zm0 4zm0 3zm0 3zm0 4zm0 1zm0 1zm0 2zm0 3zm0 2zm0 1zm0 4zm0 1zm0 1zm0 1zm0 3zm0 1zm0 1zm0 3zm0 3zm0 2zm0 1zm0 1zm0 1zm0 3zm0 1zm0 3zm0 14zm1-151zm0 52zm0 16zm0 8zm0 3zm0 8zm0 3zm0 3zm0 1zm0 1zm0 2zm0 3zm0 1zm0 1zm0 2zm0 3zm0 1zm0 1zm0 1zm0 1zm0 1zm0 1zm0 1zm0 4zm0 1zm0 3zm0 1zm0 4zm0 5zm0 1zm0 2zm1-105zm0 1zm0 11zm0 2zm0 5zm0 12zm0 6zm0 7zm0 2zm0 10zm0 3zm0 2zm0 8zm0 1zm0 1zm0 3zm0 1zm0 1zm0 1zm0 1zm0 1zm0 2zm0 5zm0 1zm0 2zm0 2zm0 2zm0 1zm0 1zm0 7zm0 5zm1-108zm0 21zm0 8zm0 5zm0 6zm0 1zm0 5zm0 5zm0 6zm0 1zm0 1zm0 3zm0 1zm0 1zm0 1zm0 1zm0 1zm0 1zm0 1zm0 2zm0 1zm0 1zm0 3zm0 3zm0 1zm0 5zm0 1zm0 1zm0 2zm0 2zm0 4zm1-101zm0 7zm0 16zm0 1zm0 7zm0 2zm0 10zm0 2zm0 2zm0 1zm0 3zm0 7zm0 3zm0 1zm0 1zm0 1zm0 1zm0 5zm0 2zm0 2zm0 4zm0 5zm0 2zm0 2zm0 1zm0 2zm0 4zm0 7zm0 1zm0 6zm0 8zm1-153zm0 31zm0 12zm0 9zm0 2zm0 5zm0 9zm0 3zm0 4zm0 1zm0 15zm0 1zm0 6zm0 4zm0 2zm0 1zm0 3zm0 1zm0 1zm0 1zm0 2zm0 1zm0 1zm0 5zm0 2zm0 1zm0 1zm0 1zm0 1zm0 2zm0 1zm0 2zm0 1zm0 2zm0 5zm1-123zm0 39zm0 4zm0 2zm0 1zm0 4zm0 3zm0 1zm0 3zm0 4zm0 5zm0 2zm0 3zm0 2zm0 3zm0 2zm0 3zm0 2zm0 1zm0 1zm0 4zm0 1zm0 1zm0 1zm0 1zm0 1zm0 2zm0 3zm0 1zm0 1zm0 6zm0 1zm0 4zm0 1zm0 1zm0 1zm0 1zm0 1zm0 3zm0 3zm0 1zm0 2zm1-109zm0 15zm0 1zm0 11zm0 1zm0 12zm0 6zm0 2zm0 12zm0 6zm0 11zm0 2zm0 1zm0 3zm0 1zm0 1zm0 3zm0 1zm0 1zm0 1zm0 2zm0 1zm0 5zm0 6zm0 4zm0 7zm1-148zm0 42zm0 7zm0 3zm0 6zm0 3zm0 1zm0 7zm0 4zm0 3zm0 1zm0 2zm0 1zm0 3zm0 6zm0 3zm0 3zm0 4zm0 3zm0 1zm0 1zm0 3zm0 1zm0 1zm0 2zm0 1zm0 2zm0 3zm0 1zm0 1zm0 1zm0 1zm0 2zm0 1zm0 1zm0 1zm0 1zm0 1zm0 2zm0 1zm0 4zm0 1zm0 4zm0 1zm0 1zm0 2zm0 1zm1-125zm0 5zm0 15zm0 5zm0 1zm0 2zm0 6zm0 17zm0 1zm0 1zm0 8zm0 3zm0 3zm0 2zm0 4zm0 3zm0 2zm0 1zm0 3zm0 4zm0 3zm0 1zm0 2zm0 2zm0 1zm0 3zm0 1zm0 1zm0 1zm0 1zm0 1zm0 2zm0 3zm0 3zm0 1zm0 2zm0 1zm0 1zm0 5zm0 2zm0 3zm0 1zm0 18zm1-101zm0 6zm0 4zm0 7zm0 1zm0 7zm0 2zm0 1zm0 8zm0 1zm0 2zm0 11zm0 3zm0 2zm0 5zm0 2zm0 2zm0 4zm0 5zm0 2zm0 1zm1-131zm0 13zm0 19zm0 21zm0 4zm0 6zm0 2zm0 1zm0 4zm0 5zm0 4zm0 3zm0 3zm0 3zm0 1zm0 1zm0 1zm0 1zm0 1zm0 4zm0 3zm0 4zm0 1zm0 7zm0 4zm0 3zm0 2zm0 5zm0 3zm0 14zm1-131zm0 16zm0 3zm0 6zm0 7zm0 1zm0 13zm0 2zm0 5zm0 4zm0 10zm0 4zm0 7zm0 6zm0 1zm0 2zm0 1zm0 4zm0 1zm0 3zm0 1zm0 1zm0 3zm0 4zm0 9zm0 3zm0 1zm0 9zm0 9zm1-133zm0 3zm0 8zm0 3zm0 2zm0 1zm0 1zm0 9zm0 9zm0 2zm0 1zm0 3zm0 6zm0 2zm0 1zm0 4zm0 1zm0 4zm0 12zm0 3zm0 4zm0 1zm0 1zm0 1zm0 7zm0 2zm0 2zm0 1zm0 1zm0 8zm0 1zm0 5zm1-106zm0 8zm0 4zm0 3zm0 3zm0 10zm0 7zm0 5zm0 13zm0 9zm0 10zm0 3zm0 2zm0 1zm0 1zm0 5zm0 1zm0 1zm0 1zm0 2zm0 11zm0 1zm0 3zm0 21zm0 3zm1-120zm0 1zm0 17zm0 1zm0 14zm0 13zm0 4zm0 6zm0 5zm0 3zm0 2zm0 2zm0 3zm0 1zm0 4zm0 1zm0 1zm0 2zm0 1zm0 3zm0 3zm0 2zm0 3zm0 3zm0 2zm0 2zm0 13zm1-119zm0 13zm0 6zm0 5zm0 2zm0 2zm0 6zm0 2zm0 10zm0 1zm0 1zm0 4zm0 4zm0 2zm0 3zm0 2zm0 1zm0 9zm0 1zm0 1zm0 2zm0 6zm0 12zm0 9zm0 1zm0 2zm0 10zm1-134zm0 15zm0 7zm0 4zm0 4zm0 11zm0 17zm0 4zm0 5zm0 3zm0 4zm0 1zm0 3zm0 2zm0 7zm0 1zm0 3zm0 14zm0 1zm0 1zm0 4zm0 6zm0 4zm0 3zm0 28zm1-155zm0 38zm0 4zm0 7zm0 11zm0 3zm0 2zm0 12zm0 1zm0 2zm0 2zm0 10zm0 4zm0 1zm0 1zm0 2zm0 7zm0 3zm0 9zm0 7zm0 4zm0 7zm0 8zm1-157zm0 40zm0 2zm0 2zm0 5zm0 2zm0 6zm0 15zm0 5zm0 5zm0 1zm0 8zm0 2zm0 6zm0 4zm0 1zm0 3zm0 2zm0 3zm0 1zm0 4zm0 2zm0 2zm0 1zm0 2zm0 8zm0 3zm0 4zm1-116zm0 26zm0 8zm0 10zm0 1zm0 3zm0 1zm0 1zm0 1zm0 2zm0 1zm0 2zm0 1zm0 9zm0 7zm0 1zm0 7zm0 5zm0 9zm0 2zm0 3zm0 1zm0 1zm0 2zm0 1zm0 1zm0 3zm0 5zm0 1zm0 5zm1-135zm0 8zm0 7zm0 3zm0 9zm0 25zm0 2zm0 5zm0 6zm0 4zm0 5zm0 6zm0 4zm0 3zm0 4zm0 4zm0 3zm0 1zm0 3zm0 1zm0 6zm0 1zm0 1zm0 2zm0 6zm0 1zm0 11zm0 1zm0 2zm0 3zm0 5zm1-126zm0 8zm0 3zm0 4zm0 11zm0 4zm0 3zm0 2zm0 5zm0 8zm0 3zm0 9zm0 4zm0 2zm0 6zm0 12zm0 1zm0 5zm0 3zm0 14zm0 1zm0 2zm0 10zm1-141zm0 23zm0 5zm0 5zm0 14zm0 14zm0 6zm0 7zm0 15zm0 1zm0 6zm0 16zm0 3zm0 15zm0 7zm0 10zm1-106zm0 4zm0 5zm0 2zm0 10zm0 3zm0 2zm0 4zm0 3zm0 1zm0 4zm0 11zm0 8zm0 3zm0 4zm0 4zm0 6zm0 1zm0 3zm0 6zm0 1zm0 4zm0 12zm1-141zm0 16zm0 15zm0 27zm0 1zm0 3zm0 6zm0 3zm0 8zm0 3zm0 3zm0 23zm0 3zm0 2zm0 3zm0 2zm0 1zm0 3zm0 24zm0 6zm0 1zm1-132zm0 19zm0 5zm0 7zm0 2zm0 10zm0 7zm0 8zm0 8zm0 3zm0 2zm0 1zm0 1zm0 6zm0 2zm0 2zm0 3zm0 2zm0 1zm0 1zm0 11zm0 2zm0 4zm0 6zm0 3zm1-117zm0 6zm0 1zm0 4zm0 7zm0 6zm0 3zm0 1zm0 12zm0 1zm0 1zm0 10zm0 2zm0 2zm0 1zm0 3zm0 16zm0 1zm0 12zm0 1zm0 1zm0 2zm0 1zm0 1zm0 7zm0 2zm0 4zm0 1zm0 1zm0 3zm0 15zm0 6zm1-133zm0 10zm0 15zm0 15zm0 4zm0 2zm0 7zm0 3zm0 7zm0 7zm0 3zm0 8zm0 4zm0 2zm0 3zm0 4zm0 1zm0 1zm0 3zm0 6zm0 1zm0 1zm0 14zm1-131zm0 28zm0 1zm0 3zm0 20zm0 6zm0 1zm0 3zm0 2zm0 4zm0 11zm0 3zm0 1zm0 3zm0 5zm0 2zm0 12zm0 1zm0 5zm0 1zm0 2zm0 1zm0 4zm0 6zm0 3zm0 6zm0 19zm1-132zm0 6zm0 6zm0 1zm0 2zm0 4zm0 3zm0 2zm0 5zm0 4zm0 1zm0 3zm0 2zm0 7zm0 6zm0 3zm0 5zm0 8zm0 4zm0 2zm0 1zm0 1zm0 5zm0 2zm0 4zm0 1zm0 6zm0 1zm0 8zm0 2zm0 2zm0 3zm1-127zm0 12zm0 5zm0 4zm0 18zm0 1zm0 2zm0 12zm0 7zm0 2zm0 27zm0 2zm0 3zm0 2zm0 8zm0 5zm0 6zm0 15zm0 8zm1-130zm0 8zm0 5zm0 13zm0 3zm0 1zm0 3zm0 4zm0 3zm0 22zm0 16zm0 4zm0 6zm0 5zm0 1zm0 1zm0 1zm0 2zm0 4zm0 1zm0 5zm0 2zm0 3zm0 2zm0 1zm0 1zm0 15zm1-133zm0 1zm0 6zm0 17zm0 4zm0 8zm0 3zm0 2zm0 4zm0 3zm0 5zm0 3zm0 7zm0 23zm0 8zm0 5zm0 2zm0 10zm0 12zm1-136zm0 3zm0 18zm0 9zm0 2zm0 5zm0 2zm0 1zm0 4zm0 2zm0 6zm0 1zm0 3zm0 2zm0 6zm0 5zm0 1zm0 5zm0 4zm0 4zm0 7zm0 13zm0 3zm0 5zm0 7zm0 1zm0 3zm0 4zm0 2zm0 2zm1-110zm0 6zm0 2zm0 18zm0 1zm0 3zm0 2zm0 1zm0 3zm0 3zm0 2zm0 2zm0 18zm0 5zm0 11zm0 8zm0 4zm0 3zm0 3zm0 1zm0 5zm0 1zm0 2zm0 2zm0 2zm0 2zm0 1zm0 1zm0 7zm1-163zm0 20zm0 3zm0 8zm0 5zm0 14zm0 11zm0 4zm0 1zm0 5zm0 9zm0 8zm0 3zm0 4zm0 8zm0 2zm0 5zm0 3zm0 14zm0 2zm0 8zm0 3zm0 2zm0 3zm0 5zm0 11zm1-165zm0 39zm0 5zm0 3zm0 6zm0 2zm0 1zm0 4zm0 12zm0 2zm0 4zm0 3zm0 4zm0 10zm0 3zm0 4zm0 6zm0 7zm0 12zm0 1zm0 1zm0 6zm0 14zm0 3zm0 6zm0 2zm0 4zm1-109zm0 3zm0 1zm0 3zm0 5zm0 1zm0 4zm0 3zm0 2zm0 7zm0 1zm0 1zm0 1zm0 1zm0 2zm0 6zm0 7zm0 4zm0 3zm0 10zm0 5zm0 6zm0 1zm0 10zm0 17zm0 1zm0 2zm0 7zm0 2zm1-121zm0 7zm0 4zm0 9zm0 2zm0 1zm0 2zm0 4zm0 3zm0 1zm0 4zm0 1zm0 2zm0 8zm0 22zm0 10zm0 10zm0 5zm0 7zm0 10zm0 1zm1-122zm0 1zm0 6zm0 19zm0 1zm0 2zm0 5zm0 7zm0 2zm0 2zm0 5zm0 6zm0 1zm0 23zm0 7zm0 1zm0 6zm0 2zm0 2zm0 4zm0 3zm0 1zm0 2zm0 7zm0 1zm1-101zm0 3zm0 2zm0 6zm0 3zm0 1zm0 3zm0 3zm0 2zm0 4zm0 4zm0 1zm0 15zm0 6zm0 1zm0 4zm0 11zm0 6zm0 9zm0 5zm0 3zm0 15zm0 4zm1-134zm0 25zm0 7zm0 3zm0 1zm0 3zm0 6zm0 3zm0 4zm0 3zm0 5zm0 6zm0 24zm0 8zm0 8zm0 1zm0 7zm0 2zm0 11zm1-144zm0 18zm0 8zm0 6zm0 4zm0 4zm0 6zm0 2zm0 6zm0 4zm0 1zm0 1zm0 3zm0 4zm0 1zm0 3zm0 5zm0 7zm0 24zm0 9zm0 4zm0 1zm0 3zm0 3zm0 4zm1-105zm0 4zm0 8zm0 7zm0 6zm0 7zm0 1zm0 1zm0 1zm0 3zm0 4zm0 1zm0 2zm0 5zm0 10zm0 15zm0 17zm0 3zm0 2zm0 5zm0 2zm0 15zm1-136zm0 12zm0 6zm0 10zm0 2zm0 1zm0 3zm0 3zm0 4zm0 4zm0 1zm0 4zm0 2zm0 3zm0 1zm0 1zm0 2zm0 1zm0 2zm0 4zm0 4zm0 3zm0 1zm0 1zm0 4zm0 5zm0 2zm0 4zm0 10zm0 1zm0 7zm0 3zm0 1zm0 4zm0 2zm0 1zm0 1zm0 4zm0 14zm1-142zm0 12zm0 11zm0 9zm0 14zm0 6zm0 4zm0 4zm0 6zm0 8zm0 1zm0 6zm0 4zm0 6zm0 16zm0 4zm0 9zm0 5zm0 3zm0 2zm1-86zm0 9zm0 1zm0 1zm0 1zm0 2zm0 4zm0 5zm0 2zm0 2zm0 2zm0 18zm0 17zm0 3zm0 1zm0 2zm0 1zm0 3zm0 2zm0 5zm0 4zm0 3zm1-105zm0 10zm0 1zm0 1zm0 1zm0 4zm0 2zm0 1zm0 3zm0 1zm0 7zm0 2zm0 1zm0 1zm0 1zm0 4zm0 7zm0 9zm0 1zm0 19zm0 8zm0 2zm0 4zm0 5zm0 4zm0 2zm0 1zm0 5zm0 1zm0 4zm0 4zm1-132zm0 20zm0 11zm0 1zm0 5zm0 1zm0 3zm0 2zm0 1zm0 4zm0 2zm0 3zm0 17zm0 7zm0 14zm0 5zm0 4zm0 6zm0 4zm0 29zm1-145zm0 8zm0 3zm0 3zm0 10zm0 4zm0 7zm0 1zm0 2zm0 1zm0 2zm0 5zm0 4zm0 1zm0 1zm0 1zm0 1zm0 3zm0 2zm0 9zm0 15zm0 8zm0 17zm0 3zm0 2zm0 5zm0 3zm0 1zm0 16zm1-107zm0 2zm0 3zm0 5zm0 2zm0 1zm0 1zm0 1zm0 1zm0 5zm0 1zm0 2zm0 4zm0 5zm0 4zm0 5zm0 1zm0 7zm0 14zm0 1zm0 2zm0 2zm0 4zm0 2zm0 2zm0 7zm0 2zm0 1zm0 6zm0 3zm0 4zm0 8zm1-106zm0 3zm0 3zm0 2zm0 1zm0 1zm0 1zm0 2zm0 1zm0 1zm0 8zm0 1zm0 4zm0 36zm0 1zm0 1zm0 3zm0 17zm0 1zm0 7zm1-136zm0 46zm0 3zm0 1zm0 1zm0 3zm0 1zm0 3zm0 2zm0 2zm0 1zm0 1zm0 5zm0 5zm0 1zm0 38zm0 3zm0 4zm0 1zm0 1zm0 4zm0 8zm0 8zm1-124zm0 8zm0 8zm0 3zm0 7zm0 1zm0 2zm0 1zm0 2zm0 5zm0 2zm0 2zm0 8zm0 1zm0 1zm0 17zm0 36zm0 12zm0 3zm0 5zm0 7zm1-129zm0 4zm0 7zm0 1zm0 5zm0 5zm0 2zm0 3zm0 1zm0 1zm0 1zm0 1zm0 1zm0 1zm0 1zm0 2zm0 4zm0 1zm0 1zm0 1zm0 2zm0 5zm0 4zm0 27zm0 6zm0 11zm0 1zm0 1zm0 9zm0 4zm0 7zm0 22zm1-143zm0 13zm0 2zm0 4zm0 4zm0 2zm0 1zm0 1zm0 4zm0 2zm0 3zm0 1zm0 3zm0 1zm0 1zm0 2zm0 1zm0 6zm0 9zm0 1zm0 5zm0 26zm0 2zm0 3zm0 2zm0 3zm0 1zm0 1zm0 6zm0 1zm0 4zm0 3zm1-136zm0 18zm0 10zm0 9zm0 3zm0 4zm0 4zm0 1zm0 1zm0 3zm0 2zm0 1zm0 1zm0 1zm0 1zm0 1zm0 2zm0 1zm0 2zm0 3zm0 5zm0 5zm0 23zm0 5zm0 9zm0 8zm0 1zm0 14zm0 4zm1-127zm0 21zm0 2zm0 3zm0 3zm0 1zm0 2zm0 1zm0 1zm0 3zm0 1zm0 1zm0 1zm0 4zm0 1zm0 1zm0 1zm0 2zm0 1zm0 5zm0 7zm0 22zm0 13zm0 3zm0 4zm0 5zm0 1zm0 13zm0 10zm1-138zm0 21zm0 4zm0 6zm0 3zm0 4zm0 1zm0 2zm0 1zm0 1zm0 1zm0 1zm0 3zm0 2zm0 2zm0 11zm0 6zm0 5zm0 7zm0 27zm0 10zm0 2zm0 2zm1-125zm0 24zm0 4zm0 2zm0 1zm0 1zm0 3zm0 1zm0 2zm0 1zm0 4zm0 2zm0 4zm0 1zm0 2zm0 13zm0 1zm0 5zm0 34zm0 2zm0 8zm0 1zm0 2zm0 2zm0 2zm0 4zm0 1zm0 2zm1-122zm0 12zm0 11zm0 2zm0 1zm0 1zm0 1zm0 1zm0 1zm0 1zm0 1zm0 2zm0 1zm0 1zm0 2zm0 1zm0 2zm0 6zm0 26zm0 15zm0 11zm0 2zm0 2zm0 3zm0 1zm0 6zm0 1zm0 4zm0 7zm1-125zm0 16zm0 4zm0 1zm0 2zm0 5zm0 2zm0 1zm0 1zm0 2zm0 1zm0 1zm0 2zm0 2zm0 3zm0 1zm0 5zm0 8zm0 3zm0 4zm0 5zm0 30zm0 3zm0 9zm0 6zm0 5zm0 15zm1-126zm0 1zm0 3zm0 7zm0 3zm0 3zm0 5zm0 2zm0 2zm0 2zm0 2zm0 1zm0 4zm0 17zm0 43zm0 3zm0 1zm0 5zm0 1zm0 6zm0 5zm1-117zm0 6zm0 4zm0 2zm0 1zm0 1zm0 1zm0 1zm0 6zm0 2zm0 2zm0 1zm0 3zm0 1zm0 1zm0 4zm0 1zm0 2zm0 2zm0 2zm0 4zm0 8zm0 40zm0 5zm0 10zm1-102zm0 3zm0 3zm0 1zm0 1zm0 2zm0 1zm0 1zm0 1zm0 1zm0 1zm0 2zm0 1zm0 1zm0 1zm0 1zm0 1zm0 1zm0 2zm0 1zm0 3zm0 3zm0 9zm0 12zm0 3zm0 25zm0 6zm0 4zm0 6zm0 9zm1-101zm0 2zm0 4zm0 1zm0 1zm0 1zm0 2zm0 1zm0 1zm0 4zm0 1zm0 10zm0 38zm0 12zm0 11zm0 7zm0 7zm0 17zm1-139zm0 5zm0 6zm0 2zm0 1zm0 3zm0 1zm0 1zm0 1zm0 2zm0 1zm0 1zm0 2zm0 2zm0 2zm0 2zm0 3zm0 3zm0 1zm0 2zm0 1zm0 13zm0 25zm0 6zm0 15zm0 1zm0 3zm0 6zm0 20zm1-143zm0 22zm0 1zm0 4zm0 2zm0 1zm0 2zm0 2zm0 1zm0 2zm0 2zm0 1zm0 2zm0 1zm0 1zm0 2zm0 1zm0 1zm0 7zm0 52zm0 15zm0 12zm0 4zm1-134zm0 20zm0 7zm0 1zm0 1zm0 1zm0 1zm0 2zm0 1zm0 1zm0 1zm0 2zm0 1zm0 4zm0 3zm0 43zm0 2zm0 14zm0 4zm1-131zm0 44zm0 1zm0 4zm0 2zm0 1zm0 1zm0 1zm0 2zm0 2zm0 1zm0 1zm0 1zm0 1zm0 4zm0 3zm0 18zm0 46zm0 14zm1-109zm0 4zm0 2zm0 1zm0 1zm0 1zm0 1zm0 1zm0 1zm0 2zm0 2zm0 1zm0 1zm0 1zm0 1zm0 1zm0 2zm0 1zm0 2zm0 4zm0 1zm0 3zm0 61zm0 10zm1-104zm0 1zm0 3zm0 2zm0 5zm0 2zm0 4zm0 1zm0 5zm0 1zm0 1zm0 71zm0 14zm0 12zm1-136zm0 13zm0 1zm0 1zm0 1zm0 3zm0 1zm0 1zm0 1zm0 1zm0 1zm0 1zm0 1zm0 2zm0 1zm0 10zm0 7zm0 2zm0 67zm0 8zm1-116zm0 8zm0 5zm0 1zm0 2zm0 1zm0 3zm0 2zm0 2zm0 1zm0 1zm0 4zm0 3zm0 4zm0 7zm0 36zm0 27zm1-101zm0 5zm0 1zm0 5zm0 1zm0 1zm0 2zm0 2zm0 3zm0 1zm0 3zm0 2zm0 2zm0 1zm0 55zm0 7zm0 14zm0 7zm0 1zm1-117zm0 4zm0 3zm0 1zm0 1zm0 3zm0 2zm0 1zm0 2zm0 1zm0 2zm0 1zm0 1zm0 2zm0 17zm0 41zm0 26zm1-104zm0 1zm0 2zm0 3zm0 1zm0 1zm0 5zm0 1zm0 3zm0 3zm0 1zm0 2zm0 1zm0 2zm0 4zm0 2zm0 57zm1-92zm0 3zm0 6zm0 1zm0 1zm0 1zm0 2zm0 2zm0 1zm0 1zm0 1zm0 1zm0 2zm0 2zm0 8zm0 26zm0 2zm0 19zm1-103zm0 14zm0 10zm0 2zm0 1zm0 1zm0 1zm0 3zm0 1zm0 1zm0 6zm0 1zm0 1zm0 4zm0 1zm0 2zm0 1zm0 2zm0 31zm0 63zm1-124zm0 8zm0 1zm0 2zm0 5zm0 19zm0 24zm1-58zm0 3zm0 5zm0 1zm0 1zm0 1zm0 3zm0 1zm0 1zm0 1zm0 1zm0 1zm0 2zm0 1zm0 3zm0 4zm0 10zm0 10zm0 53zm1-134zm0 26zm0 6zm0 1zm0 6zm0 1zm0 2zm0 2zm0 1zm0 3zm0 2zm0 1zm0 2zm0 1zm0 19zm0 31zm1-75zm0 6zm0 4zm0 1zm0 2zm0 1zm0 2zm0 3zm0 2zm0 2zm0 1zm0 2zm1-21zm0 1zm0 3zm0 2zm0 3zm0 2zm0 2zm0 2zm0 1zm0 11zm0 1zm0 4zm1-41zm0 2zm0 2zm0 5zm0 4zm0 1zm0 4zm0 3zm0 5zm0 2zm0 14zm0 78zm1-117zm0 7zm0 1zm0 4zm0 1zm0 4zm0 3zm0 1zm0 19zm0 5zm0 60zm0 8zm0 13zm1-134zm0 11zm0 2zm0 5zm0 1zm0 1zm0 1zm0 6zm0 2zm0 1zm0 18zm1-44zm0 8zm0 5zm0 2zm0 5zm0 9zm0 7zm0 2zm0 9zm0 9zm0 10zm1-66zm0 3zm0 3zm0 3zm0 2zm0 4zm0 1zm0 1zm0 1zm0 1zm0 1zm0 9zm1-28zm0 6zm0 2zm0 3zm0 3zm0 1zm0 2zm0 2zm0 1zm0 5zm0 18zm1-44zm0 4zm0 3zm0 2zm0 1zm0 1zm0 3zm0 3zm0 1zm0 1zm0 3zm0 1zm0 5zm0 1zm0 8zm0 5zm0 91zm1-139zm0 13zm0 2zm0 1zm0 1zm0 2zm0 4zm0 3zm0 4zm0 5zm1-31zm0 1zm0 9zm0 6zm0 1zm0 2zm0 3zm0 4zm0 3zm0 2zm0 7zm1-35zm0 2zm0 1zm0 4zm0 4zm0 4zm0 1zm0 3zm0 1zm0 96zm1-110zm0 6zm0 9zm0 3zm0 81zm1-99zm0 2zm0 1zm0 1zm0 1zm0 1zm0 4zm0 18zm1-42zm0 7zm0 10zm0 5zm0 2zm0 5zm1-20zm0 1zm0 4zm0 5zm0 3zm0 1zm0 3zm0 4zm1-17zm0 3zm0 1zm0 4zm0 12zm0 35zm1-61zm0 3zm0 1zm0 10zm0 9zm0 3zm1-23zm0 5zm0 3zm0 5zm1-11zm0 1zm0 1zm1 0zm0 5zm0 1zm0 1zm1-20zm0 5zm0 2zm0 2zm0 6zm0 4zm1-14zm0 7zm0 6zm1-14zm0 4zm1 1zm0 59zm1-55zm1-8zm0 10zm2-16zm0 12zm0 8zm2-11zm0 10zm1 15zm1-31zm5 3zm4-12zm1 90z" stroke="#ff1515" stroke-opacity="0.9" stroke-width="1.5" stroke-linecap="square" fill="none"/>
<path d="M1213.4 752v5M1216.7 752v5M1220 752v5M1223.3 752v5M1226.6 752v5M1229.9 752v5M1233.2 752v5M1236.5 752v5M1239.8 752v5M1243.1 752v5M1246.4 752v5M1249.7 752v5M1253 752v5M1256.3 752v5M1259.6 752v5M1262.9 752v5M1266.2 752v5M1269.5 752v5M1272.8 752v5M1276.1 752v5M1279.4 752v5M1282.7 752v5M1286 752v5M1289.3 752v5M1292.6 752v5M1253.7 752v7.7M1295.7 752v7.7M1312.2 752v5M1321.9 752v5M1328.8 752v5M1334.1 752v5M1338.4 752v5M1342.1 752v5M1345.3 752v5M1348.1 752v5M1350.6 752v7.7M1366.9 752v5M1376.5 752v5M1383.3 752v5M1388.6 752v5M1392.9 752v5M1396.5 752v5M1399.6 752v5M1402.4 752v5M1404.9 752v7.7M1421.1 752v5M1430.5 752v5M1437.2 752v5M1442.4 752v5M1446.7 752v5M1450.3 752v5M1453.4 752v5M1456.1 752v5M1458.6 752v7.7M1474.8 752v5M1484.2 752v5" stroke="#3c3c3c" stroke-width="1.1" fill="none"/>
<path d="M1213.4 752h-5M1213.4 748.7h-5M1213.4 745.4h-5M1213.4 742.1h-5M1213.4 738.8h-5M1213.4 735.5h-5M1213.4 732.2h-5M1213.4 728.9h-5M1213.4 725.6h-5M1213.4 722.3h-5M1213.4 719h-5M1213.4 715.7h-5M1213.4 712.4h-5M1213.4 709.1h-5M1213.4 705.8h-5M1213.4 702.5h-5M1213.4 699.2h-5M1213.4 724.3h-7.7M1213.4 696h-7.7M1213.4 678.5h-5M1213.4 668.3h-5M1213.4 661.1h-5M1213.4 655.5h-5M1213.4 650.9h-5M1213.4 647h-5M1213.4 643.6h-5M1213.4 640.7h-5M1213.4 638h-7.7M1213.4 619.6h-5M1213.4 608.9h-5M1213.4 601.3h-5M1213.4 595.4h-5M1213.4 590.5h-5M1213.4 586.4h-5M1213.4 582.9h-5M1213.4 579.8h-5M1213.4 577h-7.7M1213.4 558.3h-5M1213.4 547.4h-5M1213.4 539.7h-5M1213.4 533.7h-5M1213.4 528.8h-5M1213.4 524.6h-5M1213.4 521h-5M1213.4 517.8h-5M1213.4 515h-7.7M1213.4 496.3h-5M1213.4 485.4h-5" stroke="#3c3c3c" stroke-width="1.1" fill="none"/>
<rect x="1213.4" y="480" width="275.7" height="272" fill="none" stroke="#3c3c3c" stroke-width="1.6"/>
<line x1="1205.9" y1="480" x2="1213.4" y2="480" stroke="#3c3c3c" stroke-width="1.4"/>
<line x1="1489.1" y1="752" x2="1489.1" y2="759.5" stroke="#3c3c3c" stroke-width="1.4"/>
<line x1="1367.1" y1="480" x2="1367.1" y2="752" stroke="#3c3c3c" stroke-width="1.6"/>
<line x1="1213.4" y1="683.4" x2="1489.1" y2="683.4" stroke="#3c3c3c" stroke-width="1.6"/>
<text class="g" x="1253.7" y="777" font-size="15" text-anchor="middle">0</text>
<text class="g" x="1296.2" y="777" font-size="15" text-anchor="middle">10<tspan dy="-6.3" font-size="10.2">3</tspan></text>
<text class="g" x="1351.1" y="777" font-size="15" text-anchor="middle">10<tspan dy="-6.3" font-size="10.2">4</tspan></text>
<text class="g" x="1405.4" y="777" font-size="15" text-anchor="middle">10<tspan dy="-6.3" font-size="10.2">5</tspan></text>
<text class="g" x="1459.1" y="777" font-size="15" text-anchor="middle">10<tspan dy="-6.3" font-size="10.2">6</tspan></text>
<text class="g" x="1199.5" y="724.3" font-size="15" text-anchor="middle" transform="rotate(-90 1199.5 724.3)">0</text>
<text class="g" x="1199.5" y="696" font-size="15" text-anchor="middle" transform="rotate(-90 1199.5 696)">10<tspan dy="-6.3" font-size="10.2">3</tspan></text>
<text class="g" x="1199.5" y="638" font-size="15" text-anchor="middle" transform="rotate(-90 1199.5 638)">10<tspan dy="-6.3" font-size="10.2">4</tspan></text>
<text class="g" x="1199.5" y="577" font-size="15" text-anchor="middle" transform="rotate(-90 1199.5 577)">10<tspan dy="-6.3" font-size="10.2">5</tspan></text>
<text class="g" x="1199.5" y="515" font-size="15" text-anchor="middle" transform="rotate(-90 1199.5 515)">10<tspan dy="-6.3" font-size="10.2">6</tspan></text>
<text class="g" x="1217.9" y="498.5" font-size="14.3">Q1-UL</text>
<text class="g" x="1484.1" y="498.5" font-size="14.3" text-anchor="end">Q1-UR</text>
<text class="g" x="1217.9" y="743.5" font-size="14.3">Q1-LL</text>
<text class="g" x="1484.1" y="743.5" font-size="14.3" text-anchor="end">Q1-LR</text>
<text class="b" transform="translate(3 41) scale(0.955 1)" font-size="43.1">(a)</text>
<text class="b" transform="translate(502 41) scale(0.955 1)" font-size="43.1">(b)</text>
<text class="b" transform="translate(988 41) scale(0.955 1)" font-size="43.1">(c)</text>
<text class="b" transform="translate(1484 41) scale(0.955 1)" font-size="43.1">(d)</text>
<text class="b" transform="translate(3.5 463) scale(0.955 1)" font-size="43.1">(e)</text>
<text class="b" transform="translate(13 865) scale(0.955 1)" font-size="43.1">(f)</text>
<text class="b" transform="translate(991 872) scale(0.955 1)" font-size="43.1">(g)</text>
<text class="b" transform="translate(8 1332) scale(0.955 1)" font-size="43.1">(h)</text>
<text class="b" transform="translate(8 1470) scale(0.955 1)" font-size="43.1">(j)</text>
<text class="b" transform="translate(998 1339) scale(0.955 1)" font-size="43.1">(i)</text>
<text class="b" transform="translate(16 1783) scale(0.955 1)" font-size="43.1">(j)</text>
<text class="b" transform="translate(991 1792) scale(0.955 1)" font-size="43.1">(k)</text>
<g>
<text class="b" transform="translate(75.2 207.8) rotate(-90) scale(0.955 1)" font-size="28" text-anchor="middle">Relative MALAT1 expression</text>
<line x1="115.9" y1="68.7" x2="115.9" y2="322.8" stroke="#000" stroke-width="2.7"/>
<line x1="108.4" y1="70" x2="115.9" y2="70" stroke="#000" stroke-width="2.7"/>
<text class="b" x="105.8" y="78.4" font-size="24" text-anchor="end">4</text>
<line x1="108.4" y1="133.1" x2="115.9" y2="133.1" stroke="#000" stroke-width="2.7"/>
<text class="b" x="105.8" y="141.5" font-size="24" text-anchor="end">3</text>
<line x1="108.4" y1="196" x2="115.9" y2="196" stroke="#000" stroke-width="2.7"/>
<text class="b" x="105.8" y="204.4" font-size="24" text-anchor="end">2</text>
<line x1="108.4" y1="258.9" x2="115.9" y2="258.9" stroke="#000" stroke-width="2.7"/>
<text class="b" x="105.8" y="267.3" font-size="24" text-anchor="end">1</text>
<line x1="108.4" y1="321.4" x2="115.9" y2="321.4" stroke="#000" stroke-width="2.7"/>
<text class="b" x="105.8" y="329.8" font-size="24" text-anchor="end">0</text>
<rect x="153.3" y="258.2" width="76.1" height="64.5" fill="#fff"/>
<path d="M153.3 322.8V258.2H229.4V322.8" fill="none" stroke="#000" stroke-width="3.7"/>
<line x1="191.4" y1="258.4" x2="191.4" y2="252.9" stroke="#000" stroke-width="2.4"/>
<line x1="172.9" y1="252.9" x2="209.9" y2="252.9" stroke="#000" stroke-width="2.4"/>
<rect x="267" y="117.5" width="74.6" height="205.2" fill="#000"/>
<path d="M267 322.8V117.5H341.5V322.8" fill="none" stroke="#000" stroke-width="3.7"/>
<line x1="304" y1="116.7" x2="304" y2="98" stroke="#000" stroke-width="2.4"/>
<line x1="285.5" y1="98" x2="322.5" y2="98" stroke="#000" stroke-width="2.4"/>
<rect x="379" y="153.8" width="75.5" height="168.9" fill="#000"/>
<path d="M379 322.8V153.8H454.4V322.8" fill="none" stroke="#000" stroke-width="3.7"/>
<line x1="416.7" y1="153" x2="416.7" y2="140.6" stroke="#000" stroke-width="2.4"/>
<line x1="398.2" y1="140.6" x2="435.2" y2="140.6" stroke="#000" stroke-width="2.4"/>
<line x1="109.4" y1="321.4" x2="492.9" y2="321.4" stroke="#000" stroke-width="2.7"/>
<text class="b" transform="translate(296.6 99.1) scale(0.955 1)" font-size="36.8">*</text>
<text class="b" transform="translate(409.5 142.8) scale(0.955 1)" font-size="36.8">*</text>
<text class="b" transform="translate(190.9 355.7) scale(0.955 1)" font-size="28.4" text-anchor="middle">ARPE19</text>
<text class="b" transform="translate(304 355.7) scale(0.955 1)" font-size="28.4" text-anchor="middle">Y79</text>
<text class="b" transform="translate(416 355.7) scale(0.955 1)" font-size="28.4" text-anchor="middle">WERI-Rb-1</text>
</g>
<g>
<text class="b" transform="translate(577.6 214.2) rotate(-90) scale(0.955 1)" font-size="28.1" text-anchor="middle">Relative MALAT1 expression</text>
<line x1="630.7" y1="75.2" x2="630.7" y2="328.5" stroke="#000" stroke-width="2.7"/>
<line x1="623.2" y1="76.6" x2="630.7" y2="76.6" stroke="#000" stroke-width="2.7"/>
<text class="b" x="620.6" y="85" font-size="24" text-anchor="end">1.2</text>
<line x1="623.2" y1="160.6" x2="630.7" y2="160.6" stroke="#000" stroke-width="2.7"/>
<text class="b" x="620.6" y="169" font-size="24" text-anchor="end">0.8</text>
<line x1="623.2" y1="244.3" x2="630.7" y2="244.3" stroke="#000" stroke-width="2.7"/>
<text class="b" x="620.6" y="252.7" font-size="24" text-anchor="end">0.4</text>
<line x1="623.2" y1="327.1" x2="630.7" y2="327.1" stroke="#000" stroke-width="2.7"/>
<text class="b" x="620.6" y="335.5" font-size="24" text-anchor="end">0.0</text>
<rect x="656.2" y="118.8" width="50.1" height="209.6" fill="#fff"/>
<path d="M656.2 328.5V118.8H706.2V328.5" fill="none" stroke="#000" stroke-width="3.7"/>
<line x1="681" y1="119" x2="681" y2="99.1" stroke="#000" stroke-width="2.4"/>
<line x1="668.5" y1="99.1" x2="693.5" y2="99.1" stroke="#000" stroke-width="2.4"/>
<rect x="730.6" y="263.2" width="50.8" height="65.3" fill="#fff"/>
<rect x="730.6" y="263.2" width="50.8" height="65.3" fill="url(#hat)"/>
<path d="M730.6 328.5V263.2H781.4V328.5" fill="none" stroke="#000" stroke-width="3.7"/>
<line x1="756" y1="263.3" x2="756" y2="257.4" stroke="#000" stroke-width="2.4"/>
<line x1="743.5" y1="257.4" x2="768.5" y2="257.4" stroke="#000" stroke-width="2.4"/>
<rect x="856" y="116.8" width="50.3" height="211.6" fill="#fff"/>
<path d="M856 328.5V116.8H906.2V328.5" fill="none" stroke="#000" stroke-width="3.7"/>
<line x1="881" y1="117" x2="881" y2="96.6" stroke="#000" stroke-width="2.4"/>
<line x1="868.5" y1="96.6" x2="893.5" y2="96.6" stroke="#000" stroke-width="2.4"/>
<rect x="931.1" y="275.8" width="50.6" height="52.7" fill="#fff"/>
<rect x="931.1" y="275.8" width="50.6" height="52.7" fill="url(#hat)"/>
<path d="M931.1 328.5V275.8H981.6V328.5" fill="none" stroke="#000" stroke-width="3.7"/>
<line x1="956.4" y1="275.9" x2="956.4" y2="270.6" stroke="#000" stroke-width="2.4"/>
<line x1="943.9" y1="270.6" x2="968.9" y2="270.6" stroke="#000" stroke-width="2.4"/>
<line x1="624.3" y1="327.1" x2="1008" y2="327.1" stroke="#000" stroke-width="2.7"/>
<text class="b" transform="translate(751.4 261.1) scale(0.955 1)" font-size="36.8">*</text>
<text class="b" transform="translate(951.2 273.4) scale(0.955 1)" font-size="36.8">*</text>
<rect x="646.8" y="39" width="26.1" height="13.1" fill="#fff"/>
<rect x="646.8" y="39" width="26.1" height="13.1" fill="#fff" stroke="#000" stroke-width="3.5"/>
<rect x="646.8" y="67.6" width="26.1" height="13.1" fill="#fff"/>
<rect x="646.8" y="67.6" width="26.1" height="13.1" fill="url(#hatl)" stroke="#000" stroke-width="3.5"/>
<text class="b" transform="translate(688.6 52) scale(0.955 1)" font-size="20.7">si-con</text>
<text class="b" transform="translate(688.6 80.6) scale(0.955 1)" font-size="20.7">si-MALAT1</text>
<text class="b" transform="translate(718.6 362.3) scale(0.955 1)" font-size="28.4" text-anchor="middle">Y79</text>
<text class="b" transform="translate(917 362.3) scale(0.955 1)" font-size="28.4" text-anchor="middle">WERI-Rb-1</text>
</g>
<g>
<text class="b" transform="translate(1070.2 196.3) rotate(-90) scale(0.955 1)" font-size="28.2" text-anchor="middle">CCK8 assay (OD 450 nm)</text>
<line x1="1127.9" y1="73.8" x2="1127.9" y2="326.5" stroke="#000" stroke-width="2.7"/>
<line x1="1120.4" y1="75.1" x2="1127.9" y2="75.1" stroke="#000" stroke-width="2.7"/>
<text class="b" x="1117.8" y="83.5" font-size="24" text-anchor="end">1.2</text>
<line x1="1120.4" y1="158" x2="1127.9" y2="158" stroke="#000" stroke-width="2.7"/>
<text class="b" x="1117.8" y="166.4" font-size="24" text-anchor="end">0.8</text>
<line x1="1120.4" y1="241.7" x2="1127.9" y2="241.7" stroke="#000" stroke-width="2.7"/>
<text class="b" x="1117.8" y="250.1" font-size="24" text-anchor="end">0.4</text>
<line x1="1120.4" y1="325.1" x2="1127.9" y2="325.1" stroke="#000" stroke-width="2.7"/>
<text class="b" x="1117.8" y="333.5" font-size="24" text-anchor="end">0.0</text>
<line x1="1121.1" y1="325.1" x2="1503" y2="325.1" stroke="#000" stroke-width="2.7"/>
<line x1="1174.9" y1="325.1" x2="1174.9" y2="333.1" stroke="#000" stroke-width="2.7"/>
<text class="b" transform="translate(1174.9 359.4) scale(0.955 1)" font-size="28.4" text-anchor="middle">0h</text>
<line x1="1268.9" y1="325.1" x2="1268.9" y2="333.1" stroke="#000" stroke-width="2.7"/>
<text class="b" transform="translate(1268.9 359.4) scale(0.955 1)" font-size="28.4" text-anchor="middle">24h</text>
<line x1="1362.9" y1="325.1" x2="1362.9" y2="333.1" stroke="#000" stroke-width="2.7"/>
<text class="b" transform="translate(1362.9 359.4) scale(0.955 1)" font-size="28.4" text-anchor="middle">48h</text>
<line x1="1456.3" y1="325.1" x2="1456.3" y2="333.1" stroke="#000" stroke-width="2.7"/>
<text class="b" transform="translate(1456.3 359.4) scale(0.955 1)" font-size="28.4" text-anchor="middle">72h</text>
<text class="b" transform="translate(1322 58.6) scale(0.955 1)" font-size="27.3" text-anchor="middle">Y79</text>
<path d="M1174.9 282 L1268.9 244.3 L1362.9 175.7 L1456.3 115.1" fill="none" stroke="#000" stroke-width="2.4"/>
<circle cx="1174.9" cy="282" r="5.2"/>
<line x1="1268.9" y1="235.7" x2="1268.9" y2="252.9" stroke="#000" stroke-width="2.2"/>
<line x1="1263.4" y1="235.7" x2="1274.4" y2="235.7" stroke="#000" stroke-width="2.2"/>
<line x1="1263.4" y1="252.9" x2="1274.4" y2="252.9" stroke="#000" stroke-width="2.2"/>
<circle cx="1268.9" cy="244.3" r="5.2"/>
<line x1="1362.9" y1="161.4" x2="1362.9" y2="189.1" stroke="#000" stroke-width="2.2"/>
<line x1="1357.4" y1="161.4" x2="1368.4" y2="161.4" stroke="#000" stroke-width="2.2"/>
<line x1="1357.4" y1="189.1" x2="1368.4" y2="189.1" stroke="#000" stroke-width="2.2"/>
<circle cx="1362.9" cy="175.7" r="5.2"/>
<line x1="1456.3" y1="93.4" x2="1456.3" y2="136.3" stroke="#000" stroke-width="2.2"/>
<line x1="1450.8" y1="93.4" x2="1461.8" y2="93.4" stroke="#000" stroke-width="2.2"/>
<line x1="1450.8" y1="136.3" x2="1461.8" y2="136.3" stroke="#000" stroke-width="2.2"/>
<circle cx="1456.3" cy="115.1" r="5.2"/>
<path d="M1174.9 282 L1268.9 259 L1362.9 236 L1456.3 217.7" fill="none" stroke="#000" stroke-width="2.4"/>
<rect x="1169.7" y="276.8" width="10.4" height="10.4" fill="#000"/>
<line x1="1268.9" y1="251.4" x2="1268.9" y2="265.7" stroke="#000" stroke-width="2.2"/>
<line x1="1263.4" y1="251.4" x2="1274.4" y2="251.4" stroke="#000" stroke-width="2.2"/>
<line x1="1263.4" y1="265.7" x2="1274.4" y2="265.7" stroke="#000" stroke-width="2.2"/>
<rect x="1263.7" y="253.8" width="10.4" height="10.4" fill="#000"/>
<line x1="1362.9" y1="225.7" x2="1362.9" y2="245.7" stroke="#000" stroke-width="2.2"/>
<line x1="1357.4" y1="225.7" x2="1368.4" y2="225.7" stroke="#000" stroke-width="2.2"/>
<line x1="1357.4" y1="245.7" x2="1368.4" y2="245.7" stroke="#000" stroke-width="2.2"/>
<rect x="1357.7" y="230.8" width="10.4" height="10.4" fill="#000"/>
<line x1="1456.3" y1="202.9" x2="1456.3" y2="231.4" stroke="#000" stroke-width="2.2"/>
<line x1="1450.8" y1="202.9" x2="1461.8" y2="202.9" stroke="#000" stroke-width="2.2"/>
<line x1="1450.8" y1="231.4" x2="1461.8" y2="231.4" stroke="#000" stroke-width="2.2"/>
<rect x="1451.1" y="212.5" width="10.4" height="10.4" fill="#000"/>
<line x1="1144.9" y1="81.1" x2="1170.9" y2="81.1" stroke="#000" stroke-width="2.2"/>
<circle cx="1157.9" cy="81.1" r="5"/>
<line x1="1144.9" y1="103.4" x2="1170.9" y2="103.4" stroke="#000" stroke-width="2.2"/>
<rect x="1152.9" y="98.4" width="10" height="10" fill="#000"/>
<text class="b" transform="translate(1186.3 87) scale(0.955 1)" font-size="20.7">si-con</text>
<text class="b" transform="translate(1186.3 110) scale(0.955 1)" font-size="20.7">si-MALAT1</text>
<path d="M1475.7 109.4 H1482.9 V216.6 H1475.7" fill="none" stroke="#000" stroke-width="1.8"/>
<text class="b" transform="translate(1493.7 184) scale(0.955 1)" font-size="36.8">*</text>
</g>
<g>
<text class="b" transform="translate(1564.7 192.1) rotate(-90) scale(0.955 1)" font-size="28.3" text-anchor="middle">CCK8 assay (OD 450 nm)</text>
<line x1="1623.7" y1="68.7" x2="1623.7" y2="322.2" stroke="#000" stroke-width="2.7"/>
<line x1="1616.2" y1="70" x2="1623.7" y2="70" stroke="#000" stroke-width="2.7"/>
<text class="b" x="1613.6" y="78.4" font-size="24" text-anchor="end">1.0</text>
<line x1="1616.2" y1="196" x2="1623.7" y2="196" stroke="#000" stroke-width="2.7"/>
<text class="b" x="1613.6" y="204.4" font-size="24" text-anchor="end">0.5</text>
<line x1="1616.2" y1="320.9" x2="1623.7" y2="320.9" stroke="#000" stroke-width="2.7"/>
<text class="b" x="1613.6" y="329.3" font-size="24" text-anchor="end">0.0</text>
<line x1="1616.9" y1="320.9" x2="2000" y2="320.9" stroke="#000" stroke-width="2.7"/>
<line x1="1670.4" y1="320.9" x2="1670.4" y2="328.9" stroke="#000" stroke-width="2.7"/>
<text class="b" transform="translate(1670.4 355.7) scale(0.955 1)" font-size="28.4" text-anchor="middle">0h</text>
<line x1="1764.4" y1="320.9" x2="1764.4" y2="328.9" stroke="#000" stroke-width="2.7"/>
<text class="b" transform="translate(1764.4 355.7) scale(0.955 1)" font-size="28.4" text-anchor="middle">24h</text>
<line x1="1858.1" y1="320.9" x2="1858.1" y2="328.9" stroke="#000" stroke-width="2.7"/>
<text class="b" transform="translate(1858.1 355.7) scale(0.955 1)" font-size="28.4" text-anchor="middle">48h</text>
<line x1="1951.6" y1="320.9" x2="1951.6" y2="328.9" stroke="#000" stroke-width="2.7"/>
<text class="b" transform="translate(1951.6 355.7) scale(0.955 1)" font-size="28.4" text-anchor="middle">72h</text>
<text class="b" transform="translate(1813.9 58) scale(0.955 1)" font-size="27.3" text-anchor="middle">WERI-Rb-1</text>
<path d="M1670.4 276.6 L1764.4 238.6 L1858.1 181.1 L1951.6 108.9" fill="none" stroke="#000" stroke-width="2.4"/>
<circle cx="1670.4" cy="276.6" r="5.2"/>
<line x1="1764.4" y1="228.6" x2="1764.4" y2="248.6" stroke="#000" stroke-width="2.2"/>
<line x1="1758.9" y1="228.6" x2="1769.9" y2="228.6" stroke="#000" stroke-width="2.2"/>
<line x1="1758.9" y1="248.6" x2="1769.9" y2="248.6" stroke="#000" stroke-width="2.2"/>
<circle cx="1764.4" cy="238.6" r="5.2"/>
<line x1="1858.1" y1="164" x2="1858.1" y2="197.7" stroke="#000" stroke-width="2.2"/>
<line x1="1852.6" y1="164" x2="1863.6" y2="164" stroke="#000" stroke-width="2.2"/>
<line x1="1852.6" y1="197.7" x2="1863.6" y2="197.7" stroke="#000" stroke-width="2.2"/>
<circle cx="1858.1" cy="181.1" r="5.2"/>
<line x1="1951.6" y1="86.9" x2="1951.6" y2="130.6" stroke="#000" stroke-width="2.2"/>
<line x1="1946.1" y1="86.9" x2="1957.1" y2="86.9" stroke="#000" stroke-width="2.2"/>
<line x1="1946.1" y1="130.6" x2="1957.1" y2="130.6" stroke="#000" stroke-width="2.2"/>
<circle cx="1951.6" cy="108.9" r="5.2"/>
<path d="M1670.4 276.6 L1764.4 252.9 L1858.1 238.9 L1951.6 219.4" fill="none" stroke="#000" stroke-width="2.4"/>
<rect x="1665.2" y="271.4" width="10.4" height="10.4" fill="#000"/>
<line x1="1764.4" y1="245.7" x2="1764.4" y2="260.6" stroke="#000" stroke-width="2.2"/>
<line x1="1758.9" y1="245.7" x2="1769.9" y2="245.7" stroke="#000" stroke-width="2.2"/>
<line x1="1758.9" y1="260.6" x2="1769.9" y2="260.6" stroke="#000" stroke-width="2.2"/>
<rect x="1759.2" y="247.7" width="10.4" height="10.4" fill="#000"/>
<line x1="1858.1" y1="228" x2="1858.1" y2="249.1" stroke="#000" stroke-width="2.2"/>
<line x1="1852.6" y1="228" x2="1863.6" y2="228" stroke="#000" stroke-width="2.2"/>
<line x1="1852.6" y1="249.1" x2="1863.6" y2="249.1" stroke="#000" stroke-width="2.2"/>
<rect x="1852.9" y="233.7" width="10.4" height="10.4" fill="#000"/>
<line x1="1951.6" y1="204.3" x2="1951.6" y2="233.4" stroke="#000" stroke-width="2.2"/>
<line x1="1946.1" y1="204.3" x2="1957.1" y2="204.3" stroke="#000" stroke-width="2.2"/>
<line x1="1946.1" y1="233.4" x2="1957.1" y2="233.4" stroke="#000" stroke-width="2.2"/>
<rect x="1946.4" y="214.2" width="10.4" height="10.4" fill="#000"/>
<line x1="1640.7" y1="82" x2="1667.3" y2="82" stroke="#000" stroke-width="2.2"/>
<circle cx="1654" cy="82" r="5"/>
<line x1="1640.7" y1="108" x2="1667.3" y2="108" stroke="#000" stroke-width="2.2"/>
<rect x="1649" y="103" width="10" height="10" fill="#000"/>
<text class="b" transform="translate(1682 87.7) scale(0.955 1)" font-size="20.7">si-con</text>
<text class="b" transform="translate(1682 114.3) scale(0.955 1)" font-size="20.7">si-MALAT1</text>
<path d="M1973 100 H1978.7 V218.6 H1973" fill="none" stroke="#000" stroke-width="1.8"/>
<text class="b" transform="translate(1985.2 178.5) scale(0.955 1)" font-size="36.8">*</text>
</g>
<g>
<text class="b" transform="translate(1566 590) rotate(-90) scale(0.955 1)" font-size="27.3" text-anchor="middle">Apoptosis rate(%)</text>
<line x1="1617.2" y1="466.6" x2="1617.2" y2="718.5" stroke="#000" stroke-width="2.7"/>
<line x1="1609.7" y1="468" x2="1617.2" y2="468" stroke="#000" stroke-width="2.7"/>
<text class="b" x="1607.1" y="476.4" font-size="24" text-anchor="end">30</text>
<line x1="1609.7" y1="550.9" x2="1617.2" y2="550.9" stroke="#000" stroke-width="2.7"/>
<text class="b" x="1607.1" y="559.3" font-size="24" text-anchor="end">20</text>
<line x1="1609.7" y1="634.3" x2="1617.2" y2="634.3" stroke="#000" stroke-width="2.7"/>
<text class="b" x="1607.1" y="642.7" font-size="24" text-anchor="end">10</text>
<line x1="1609.7" y1="717.1" x2="1617.2" y2="717.1" stroke="#000" stroke-width="2.7"/>
<text class="b" x="1607.1" y="725.5" font-size="24" text-anchor="end">0</text>
<rect x="1642.6" y="688" width="50.1" height="30.5" fill="#fff"/>
<path d="M1642.6 718.5V688H1692.8V718.5" fill="none" stroke="#000" stroke-width="3.7"/>
<line x1="1667.7" y1="688.1" x2="1667.7" y2="685" stroke="#000" stroke-width="2.4"/>
<line x1="1655.2" y1="685" x2="1680.2" y2="685" stroke="#000" stroke-width="2.4"/>
<rect x="1717.5" y="558" width="50.1" height="160.5" fill="#fff"/>
<rect x="1717.5" y="558" width="50.1" height="160.5" fill="url(#hat)"/>
<path d="M1717.5 718.5V558H1767.6V718.5" fill="none" stroke="#000" stroke-width="3.7"/>
<line x1="1742.5" y1="558.1" x2="1742.5" y2="546.6" stroke="#000" stroke-width="2.4"/>
<line x1="1730" y1="546.6" x2="1755" y2="546.6" stroke="#000" stroke-width="2.4"/>
<rect x="1842" y="681.5" width="49.8" height="37" fill="#fff"/>
<path d="M1842 718.5V681.5H1891.9V718.5" fill="none" stroke="#000" stroke-width="3.7"/>
<line x1="1867" y1="681.6" x2="1867" y2="678.6" stroke="#000" stroke-width="2.4"/>
<line x1="1854.5" y1="678.6" x2="1879.5" y2="678.6" stroke="#000" stroke-width="2.4"/>
<rect x="1917" y="574.2" width="49.8" height="144.2" fill="#fff"/>
<rect x="1917" y="574.2" width="49.8" height="144.2" fill="url(#hat)"/>
<path d="M1917 718.5V574.2H1966.8V718.5" fill="none" stroke="#000" stroke-width="3.7"/>
<line x1="1941.9" y1="574.4" x2="1941.9" y2="563.1" stroke="#000" stroke-width="2.4"/>
<line x1="1929.4" y1="563.1" x2="1954.4" y2="563.1" stroke="#000" stroke-width="2.4"/>
<line x1="1610.7" y1="717.1" x2="1993" y2="717.1" stroke="#000" stroke-width="2.7"/>
<text class="b" transform="translate(1735.3 552) scale(0.955 1)" font-size="36.8">*</text>
<text class="b" transform="translate(1935.2 569.5) scale(0.955 1)" font-size="36.8">*</text>
<rect x="1646.3" y="462.4" width="27" height="13.1" fill="#fff"/>
<rect x="1646.3" y="462.4" width="27" height="13.1" fill="#fff" stroke="#000" stroke-width="3.5"/>
<rect x="1646.3" y="487.4" width="27" height="13.1" fill="#fff"/>
<rect x="1646.3" y="487.4" width="27" height="13.1" fill="url(#hatl)" stroke="#000" stroke-width="3.5"/>
<text class="b" transform="translate(1688.1 475.1) scale(0.955 1)" font-size="20.7">si-con</text>
<text class="b" transform="translate(1688.1 500.9) scale(0.955 1)" font-size="20.7">si-MALAT1</text>
<text class="b" transform="translate(1704.4 751.4) scale(0.955 1)" font-size="28.4" text-anchor="middle">Y79</text>
<text class="b" transform="translate(1903 751.4) scale(0.955 1)" font-size="28.4" text-anchor="middle">WERI-Rb-1</text>
</g>
<g>
<text class="b" transform="translate(556.5 1059.7) rotate(-90) scale(0.955 1)" font-size="28" text-anchor="middle">Relative protein expression</text>
<line x1="594.2" y1="906.4" x2="594.2" y2="1161.3" stroke="#000" stroke-width="2.7"/>
<line x1="586.7" y1="907.7" x2="594.2" y2="907.7" stroke="#000" stroke-width="2.7"/>
<text class="b" x="584.1" y="916.1" font-size="24" text-anchor="end">4</text>
<line x1="586.7" y1="1034" x2="594.2" y2="1034" stroke="#000" stroke-width="2.7"/>
<text class="b" x="584.1" y="1042.4" font-size="24" text-anchor="end">2</text>
<line x1="586.7" y1="1160" x2="594.2" y2="1160" stroke="#000" stroke-width="2.7"/>
<text class="b" x="584.1" y="1168.4" font-size="24" text-anchor="end">0</text>
<rect x="606" y="1096.5" width="25.2" height="64.8" fill="#fff"/>
<path d="M606 1161.3V1096.5H631.1V1161.3" fill="none" stroke="#000" stroke-width="3.7"/>
<line x1="618.6" y1="1096.7" x2="618.6" y2="1090.6" stroke="#000" stroke-width="2.4"/>
<line x1="610.1" y1="1090.6" x2="627.1" y2="1090.6" stroke="#000" stroke-width="2.4"/>
<rect x="643.1" y="1031.8" width="24.4" height="129.6" fill="#fff"/>
<rect x="643.1" y="1031.8" width="24.4" height="129.6" fill="url(#hat)"/>
<path d="M643.1 1161.3V1031.8H667.5V1161.3" fill="none" stroke="#000" stroke-width="3.7"/>
<line x1="655.3" y1="1031.9" x2="655.3" y2="1021.4" stroke="#000" stroke-width="2.4"/>
<line x1="646.8" y1="1021.4" x2="663.8" y2="1021.4" stroke="#000" stroke-width="2.4"/>
<rect x="703.1" y="1096.5" width="25.2" height="64.8" fill="#fff"/>
<path d="M703.1 1161.3V1096.5H728.2V1161.3" fill="none" stroke="#000" stroke-width="3.7"/>
<line x1="715.7" y1="1096.7" x2="715.7" y2="1090.6" stroke="#000" stroke-width="2.4"/>
<line x1="707.2" y1="1090.6" x2="724.2" y2="1090.6" stroke="#000" stroke-width="2.4"/>
<rect x="740.5" y="1139.9" width="24.7" height="21.4" fill="#fff"/>
<rect x="740.5" y="1139.9" width="24.7" height="21.4" fill="url(#hat)"/>
<path d="M740.5 1161.3V1139.9H765.1V1161.3" fill="none" stroke="#000" stroke-width="3.7"/>
<line x1="752.8" y1="1140.1" x2="752.8" y2="1138" stroke="#000" stroke-width="2.4"/>
<line x1="744.3" y1="1138" x2="761.3" y2="1138" stroke="#000" stroke-width="2.4"/>
<rect x="800.5" y="1096.5" width="25.5" height="64.8" fill="#fff"/>
<path d="M800.5 1161.3V1096.5H826V1161.3" fill="none" stroke="#000" stroke-width="3.7"/>
<line x1="813.2" y1="1096.7" x2="813.2" y2="1090.3" stroke="#000" stroke-width="2.4"/>
<line x1="804.8" y1="1090.3" x2="821.8" y2="1090.3" stroke="#000" stroke-width="2.4"/>
<rect x="837.7" y="1131.4" width="24.6" height="29.9" fill="#fff"/>
<rect x="837.7" y="1131.4" width="24.6" height="29.9" fill="url(#hat)"/>
<path d="M837.7 1161.3V1131.4H862.2V1161.3" fill="none" stroke="#000" stroke-width="3.7"/>
<line x1="850" y1="1131.6" x2="850" y2="1128.6" stroke="#000" stroke-width="2.4"/>
<line x1="841.5" y1="1128.6" x2="858.5" y2="1128.6" stroke="#000" stroke-width="2.4"/>
<rect x="898.2" y="1096.5" width="25" height="64.8" fill="#fff"/>
<path d="M898.2 1161.3V1096.5H923.1V1161.3" fill="none" stroke="#000" stroke-width="3.7"/>
<line x1="910.7" y1="1096.7" x2="910.7" y2="1090.6" stroke="#000" stroke-width="2.4"/>
<line x1="902.2" y1="1090.6" x2="919.2" y2="1090.6" stroke="#000" stroke-width="2.4"/>
<rect x="934.8" y="963.1" width="24.7" height="198.2" fill="#fff"/>
<rect x="934.8" y="963.1" width="24.7" height="198.2" fill="url(#hat)"/>
<path d="M934.8 1161.3V963.1H959.5V1161.3" fill="none" stroke="#000" stroke-width="3.7"/>
<line x1="947.2" y1="963.3" x2="947.2" y2="942.9" stroke="#000" stroke-width="2.4"/>
<line x1="938.7" y1="942.9" x2="955.7" y2="942.9" stroke="#000" stroke-width="2.4"/>
<line x1="587.1" y1="1160" x2="974.3" y2="1160" stroke="#000" stroke-width="2.7"/>
<text class="b" transform="translate(648.3 1026.5) scale(0.955 1)" font-size="36.8">*</text>
<text class="b" transform="translate(745.5 1142.2) scale(0.955 1)" font-size="36.8">*</text>
<text class="b" transform="translate(843.5 1131.4) scale(0.955 1)" font-size="36.8">*</text>
<text class="b" transform="translate(939.8 947.1) scale(0.955 1)" font-size="36.8">*</text>
<rect x="611.9" y="903" width="27" height="13.1" fill="#fff"/>
<rect x="611.9" y="903" width="27" height="13.1" fill="#fff" stroke="#000" stroke-width="3.5"/>
<rect x="611.9" y="929.6" width="27" height="13.1" fill="#fff"/>
<rect x="611.9" y="929.6" width="27" height="13.1" fill="url(#hatl)" stroke="#000" stroke-width="3.5"/>
<text class="b" transform="translate(654.3 915.7) scale(0.955 1)" font-size="20.7">si-con</text>
<text class="b" transform="translate(654.3 942.9) scale(0.955 1)" font-size="20.7">si-MALAT1</text>
<text class="b" transform="translate(778.6 889.1) scale(0.955 1)" font-size="27.3" text-anchor="middle">Y79</text>
<text class="b" transform="translate(645 1179) rotate(-45) scale(0.955 1)" font-size="29.2" text-anchor="end">p21</text>
<text class="b" transform="translate(742 1179) rotate(-45) scale(0.955 1)" font-size="29.2" text-anchor="end">CyclinD1</text>
<text class="b" transform="translate(841 1179) rotate(-45) scale(0.955 1)" font-size="29.2" text-anchor="end">Bcl-2</text>
<text class="b" transform="translate(938 1179) rotate(-45) scale(0.955 1)" font-size="29.2" text-anchor="end">cleaved-casp-3</text>
</g>
<g>
<text class="b" transform="translate(1555.8 1060) rotate(-90) scale(0.955 1)" font-size="27.8" text-anchor="middle">Relative protein expression</text>
<line x1="1593.2" y1="907.2" x2="1593.2" y2="1161.3" stroke="#000" stroke-width="2.7"/>
<line x1="1585.7" y1="925.1" x2="1593.2" y2="925.1" stroke="#000" stroke-width="2.7"/>
<text class="b" x="1583.1" y="933.5" font-size="24" text-anchor="end">3</text>
<line x1="1585.7" y1="1003.7" x2="1593.2" y2="1003.7" stroke="#000" stroke-width="2.7"/>
<text class="b" x="1583.1" y="1012.1" font-size="24" text-anchor="end">2</text>
<line x1="1585.7" y1="1081.7" x2="1593.2" y2="1081.7" stroke="#000" stroke-width="2.7"/>
<text class="b" x="1583.1" y="1090.1" font-size="24" text-anchor="end">1</text>
<line x1="1585.7" y1="1160" x2="1593.2" y2="1160" stroke="#000" stroke-width="2.7"/>
<text class="b" x="1583.1" y="1168.4" font-size="24" text-anchor="end">0</text>
<rect x="1605.5" y="1081.8" width="24.1" height="79.6" fill="#fff"/>
<path d="M1605.5 1161.3V1081.8H1629.6V1161.3" fill="none" stroke="#000" stroke-width="3.7"/>
<line x1="1617.6" y1="1081.9" x2="1617.6" y2="1073.7" stroke="#000" stroke-width="2.4"/>
<line x1="1609.1" y1="1073.7" x2="1626.1" y2="1073.7" stroke="#000" stroke-width="2.4"/>
<rect x="1641.8" y="1007.1" width="24.4" height="154.2" fill="#fff"/>
<rect x="1641.8" y="1007.1" width="24.4" height="154.2" fill="url(#hat)"/>
<path d="M1641.8 1161.3V1007.1H1666.2V1161.3" fill="none" stroke="#000" stroke-width="3.7"/>
<line x1="1654" y1="1007.3" x2="1654" y2="995.1" stroke="#000" stroke-width="2.4"/>
<line x1="1645.5" y1="995.1" x2="1662.5" y2="995.1" stroke="#000" stroke-width="2.4"/>
<rect x="1701.8" y="1081.8" width="24.4" height="79.6" fill="#fff"/>
<path d="M1701.8 1161.3V1081.8H1726.2V1161.3" fill="none" stroke="#000" stroke-width="3.7"/>
<line x1="1714" y1="1081.9" x2="1714" y2="1073.7" stroke="#000" stroke-width="2.4"/>
<line x1="1705.5" y1="1073.7" x2="1722.5" y2="1073.7" stroke="#000" stroke-width="2.4"/>
<rect x="1738.3" y="1140.2" width="24.1" height="21.1" fill="#fff"/>
<rect x="1738.3" y="1140.2" width="24.1" height="21.1" fill="url(#hat)"/>
<path d="M1738.3 1161.3V1140.2H1762.5V1161.3" fill="none" stroke="#000" stroke-width="3.7"/>
<line x1="1750.4" y1="1140.4" x2="1750.4" y2="1138.5" stroke="#000" stroke-width="2.4"/>
<line x1="1741.9" y1="1138.5" x2="1758.9" y2="1138.5" stroke="#000" stroke-width="2.4"/>
<rect x="1799" y="1081.8" width="24.3" height="79.6" fill="#fff"/>
<path d="M1799 1161.3V1081.8H1823.3V1161.3" fill="none" stroke="#000" stroke-width="3.7"/>
<line x1="1811.2" y1="1081.9" x2="1811.2" y2="1073.7" stroke="#000" stroke-width="2.4"/>
<line x1="1802.7" y1="1073.7" x2="1819.7" y2="1073.7" stroke="#000" stroke-width="2.4"/>
<rect x="1835.5" y="1129.4" width="24.1" height="31.9" fill="#fff"/>
<rect x="1835.5" y="1129.4" width="24.1" height="31.9" fill="url(#hat)"/>
<path d="M1835.5 1161.3V1129.4H1859.6V1161.3" fill="none" stroke="#000" stroke-width="3.7"/>
<line x1="1847.6" y1="1129.6" x2="1847.6" y2="1126.6" stroke="#000" stroke-width="2.4"/>
<line x1="1839.1" y1="1126.6" x2="1856.1" y2="1126.6" stroke="#000" stroke-width="2.4"/>
<rect x="1895.5" y="1081.8" width="24.4" height="79.6" fill="#fff"/>
<path d="M1895.5 1161.3V1081.8H1919.9V1161.3" fill="none" stroke="#000" stroke-width="3.7"/>
<line x1="1907.7" y1="1081.9" x2="1907.7" y2="1073.7" stroke="#000" stroke-width="2.4"/>
<line x1="1899.2" y1="1073.7" x2="1916.2" y2="1073.7" stroke="#000" stroke-width="2.4"/>
<rect x="1932" y="937.1" width="24.1" height="224.2" fill="#fff"/>
<rect x="1932" y="937.1" width="24.1" height="224.2" fill="url(#hat)"/>
<path d="M1932 1161.3V937.1H1956.2V1161.3" fill="none" stroke="#000" stroke-width="3.7"/>
<line x1="1944.2" y1="937.3" x2="1944.2" y2="924.9" stroke="#000" stroke-width="2.4"/>
<line x1="1935.7" y1="924.9" x2="1952.7" y2="924.9" stroke="#000" stroke-width="2.4"/>
<line x1="1586.4" y1="1160" x2="1970.1" y2="1160" stroke="#000" stroke-width="2.7"/>
<text class="b" transform="translate(1647.1 999.1) scale(0.955 1)" font-size="36.8">*</text>
<text class="b" transform="translate(1743.9 1143.4) scale(0.955 1)" font-size="36.8">*</text>
<text class="b" transform="translate(1840.5 1131.9) scale(0.955 1)" font-size="36.8">*</text>
<text class="b" transform="translate(1937.1 932.8) scale(0.955 1)" font-size="36.8">*</text>
<rect x="1611.1" y="900.4" width="27.1" height="13.1" fill="#fff"/>
<rect x="1611.1" y="900.4" width="27.1" height="13.1" fill="#fff" stroke="#000" stroke-width="3.5"/>
<rect x="1611.1" y="926.8" width="27.1" height="13.1" fill="#fff"/>
<rect x="1611.1" y="926.8" width="27.1" height="13.1" fill="url(#hatl)" stroke="#000" stroke-width="3.5"/>
<text class="b" transform="translate(1653 913.7) scale(0.955 1)" font-size="20.7">si-con</text>
<text class="b" transform="translate(1653 940.6) scale(0.955 1)" font-size="20.7">si-MALAT1</text>
<text class="b" transform="translate(1806.4 890.9) scale(0.955 1)" font-size="27.3" text-anchor="middle">WERI-Rb-1</text>
<text class="b" transform="translate(1643 1179) rotate(-45) scale(0.955 1)" font-size="29.2" text-anchor="end">p21</text>
<text class="b" transform="translate(1740 1179) rotate(-45) scale(0.955 1)" font-size="29.2" text-anchor="end">CyclinD1</text>
<text class="b" transform="translate(1839 1179) rotate(-45) scale(0.955 1)" font-size="29.2" text-anchor="end">Bcl-2</text>
<text class="b" transform="translate(1936 1179) rotate(-45) scale(0.955 1)" font-size="29.2" text-anchor="end">cleaved-casp-3</text>
</g>
<g>
<text class="b" transform="translate(563.7 1543.6) rotate(-90) scale(0.955 1)" font-size="27.6" text-anchor="middle">Number of migrated cells</text>
<line x1="629.3" y1="1420.1" x2="629.3" y2="1673.6" stroke="#000" stroke-width="2.7"/>
<line x1="621.8" y1="1421.4" x2="629.3" y2="1421.4" stroke="#000" stroke-width="2.7"/>
<text class="b" x="619.2" y="1429.8" font-size="24" text-anchor="end">250</text>
<line x1="621.8" y1="1471.7" x2="629.3" y2="1471.7" stroke="#000" stroke-width="2.7"/>
<text class="b" x="619.2" y="1480.1" font-size="24" text-anchor="end">200</text>
<line x1="621.8" y1="1521.7" x2="629.3" y2="1521.7" stroke="#000" stroke-width="2.7"/>
<text class="b" x="619.2" y="1530.1" font-size="24" text-anchor="end">150</text>
<line x1="621.8" y1="1571.7" x2="629.3" y2="1571.7" stroke="#000" stroke-width="2.7"/>
<text class="b" x="619.2" y="1580.1" font-size="24" text-anchor="end">100</text>
<line x1="621.8" y1="1622" x2="629.3" y2="1622" stroke="#000" stroke-width="2.7"/>
<text class="b" x="619.2" y="1630.4" font-size="24" text-anchor="end">50</text>
<line x1="621.8" y1="1672.3" x2="629.3" y2="1672.3" stroke="#000" stroke-width="2.7"/>
<text class="b" x="619.2" y="1680.7" font-size="24" text-anchor="end">0</text>
<rect x="654.5" y="1473.8" width="50.7" height="199.9" fill="#fff"/>
<path d="M654.5 1673.6V1473.8H705.1V1673.6" fill="none" stroke="#000" stroke-width="3.7"/>
<line x1="679.8" y1="1473.9" x2="679.8" y2="1462.3" stroke="#000" stroke-width="2.4"/>
<line x1="667.3" y1="1462.3" x2="692.3" y2="1462.3" stroke="#000" stroke-width="2.4"/>
<rect x="729.7" y="1583.8" width="50.6" height="89.9" fill="#fff"/>
<rect x="729.7" y="1583.8" width="50.6" height="89.9" fill="url(#hat)"/>
<path d="M729.7 1673.6V1583.8H780.2V1673.6" fill="none" stroke="#000" stroke-width="3.7"/>
<line x1="755" y1="1583.9" x2="755" y2="1573.7" stroke="#000" stroke-width="2.4"/>
<line x1="742.5" y1="1573.7" x2="767.5" y2="1573.7" stroke="#000" stroke-width="2.4"/>
<rect x="854.8" y="1457.1" width="50.7" height="216.5" fill="#fff"/>
<path d="M854.8 1673.6V1457.1H905.5V1673.6" fill="none" stroke="#000" stroke-width="3.7"/>
<line x1="880.2" y1="1457.3" x2="880.2" y2="1444.9" stroke="#000" stroke-width="2.4"/>
<line x1="867.7" y1="1444.9" x2="892.7" y2="1444.9" stroke="#000" stroke-width="2.4"/>
<rect x="930.5" y="1564.2" width="50.7" height="109.4" fill="#fff"/>
<rect x="930.5" y="1564.2" width="50.7" height="109.4" fill="url(#hat)"/>
<path d="M930.5 1673.6V1564.2H981.1V1673.6" fill="none" stroke="#000" stroke-width="3.7"/>
<line x1="955.8" y1="1564.4" x2="955.8" y2="1554" stroke="#000" stroke-width="2.4"/>
<line x1="943.3" y1="1554" x2="968.3" y2="1554" stroke="#000" stroke-width="2.4"/>
<line x1="622.9" y1="1672.3" x2="1007.1" y2="1672.3" stroke="#000" stroke-width="2.7"/>
<text class="b" transform="translate(748.1 1579.9) scale(0.955 1)" font-size="36.8">*</text>
<text class="b" transform="translate(947.5 1560.8) scale(0.955 1)" font-size="36.8">*</text>
<rect x="641" y="1392" width="27" height="13.1" fill="#fff"/>
<rect x="641" y="1392" width="27" height="13.1" fill="#fff" stroke="#000" stroke-width="3.5"/>
<rect x="641" y="1416.8" width="27" height="13.1" fill="#fff"/>
<rect x="641" y="1416.8" width="27" height="13.1" fill="url(#hatl)" stroke="#000" stroke-width="3.5"/>
<text class="b" transform="translate(683.4 1404.3) scale(0.955 1)" font-size="20.7">si-con</text>
<text class="b" transform="translate(683.4 1430) scale(0.955 1)" font-size="20.7">si-MALAT1</text>
<text class="b" transform="translate(717.1 1706.3) scale(0.955 1)" font-size="28.4" text-anchor="middle">Y79</text>
<text class="b" transform="translate(916.6 1706.3) scale(0.955 1)" font-size="28.4" text-anchor="middle">WERI-Rb-1</text>
</g>
<g>
<text class="b" transform="translate(1551.3 1545) rotate(-90) scale(0.955 1)" font-size="27.9" text-anchor="middle">Number of invaded cells</text>
<line x1="1617.4" y1="1421.6" x2="1617.4" y2="1675" stroke="#000" stroke-width="2.7"/>
<line x1="1609.9" y1="1422.9" x2="1617.4" y2="1422.9" stroke="#000" stroke-width="2.7"/>
<text class="b" x="1607.3" y="1431.3" font-size="24" text-anchor="end">200</text>
<line x1="1609.9" y1="1485.4" x2="1617.4" y2="1485.4" stroke="#000" stroke-width="2.7"/>
<text class="b" x="1607.3" y="1493.8" font-size="24" text-anchor="end">150</text>
<line x1="1609.9" y1="1548.6" x2="1617.4" y2="1548.6" stroke="#000" stroke-width="2.7"/>
<text class="b" x="1607.3" y="1557" font-size="24" text-anchor="end">100</text>
<line x1="1609.9" y1="1611.1" x2="1617.4" y2="1611.1" stroke="#000" stroke-width="2.7"/>
<text class="b" x="1607.3" y="1619.5" font-size="24" text-anchor="end">50</text>
<line x1="1609.9" y1="1673.7" x2="1617.4" y2="1673.7" stroke="#000" stroke-width="2.7"/>
<text class="b" x="1607.3" y="1682.1" font-size="24" text-anchor="end">0</text>
<rect x="1643.1" y="1467.1" width="50.7" height="207.9" fill="#fff"/>
<path d="M1643.1 1675V1467.1H1693.9V1675" fill="none" stroke="#000" stroke-width="3.7"/>
<line x1="1668.5" y1="1467.3" x2="1668.5" y2="1452.9" stroke="#000" stroke-width="2.4"/>
<line x1="1656" y1="1452.9" x2="1681" y2="1452.9" stroke="#000" stroke-width="2.4"/>
<rect x="1718.3" y="1595.1" width="50.1" height="79.9" fill="#fff"/>
<rect x="1718.3" y="1595.1" width="50.1" height="79.9" fill="url(#hat)"/>
<path d="M1718.3 1675V1595.1H1768.5V1675" fill="none" stroke="#000" stroke-width="3.7"/>
<line x1="1743.4" y1="1595.3" x2="1743.4" y2="1587.1" stroke="#000" stroke-width="2.4"/>
<line x1="1730.9" y1="1587.1" x2="1755.9" y2="1587.1" stroke="#000" stroke-width="2.4"/>
<rect x="1844" y="1447.1" width="50.7" height="227.9" fill="#fff"/>
<path d="M1844 1675V1447.1H1894.8V1675" fill="none" stroke="#000" stroke-width="3.7"/>
<line x1="1869.5" y1="1447.3" x2="1869.5" y2="1431.4" stroke="#000" stroke-width="2.4"/>
<line x1="1857" y1="1431.4" x2="1882" y2="1431.4" stroke="#000" stroke-width="2.4"/>
<rect x="1919.1" y="1576.5" width="50.4" height="98.5" fill="#fff"/>
<rect x="1919.1" y="1576.5" width="50.4" height="98.5" fill="url(#hat)"/>
<path d="M1919.1 1675V1576.5H1969.6V1675" fill="none" stroke="#000" stroke-width="3.7"/>
<line x1="1944.4" y1="1576.7" x2="1944.4" y2="1567.1" stroke="#000" stroke-width="2.4"/>
<line x1="1931.9" y1="1567.1" x2="1956.9" y2="1567.1" stroke="#000" stroke-width="2.4"/>
<line x1="1611" y1="1673.7" x2="1995.9" y2="1673.7" stroke="#000" stroke-width="2.7"/>
<text class="b" transform="translate(1735.3 1593.4) scale(0.955 1)" font-size="36.8">*</text>
<text class="b" transform="translate(1936.2 1572.2) scale(0.955 1)" font-size="36.8">*</text>
<rect x="1628.3" y="1388.1" width="27" height="13.1" fill="#fff"/>
<rect x="1628.3" y="1388.1" width="27" height="13.1" fill="#fff" stroke="#000" stroke-width="3.5"/>
<rect x="1628.3" y="1413" width="27" height="13.1" fill="#fff"/>
<rect x="1628.3" y="1413" width="27" height="13.1" fill="url(#hatl)" stroke="#000" stroke-width="3.5"/>
<text class="b" transform="translate(1670.7 1400.6) scale(0.955 1)" font-size="20.7">si-con</text>
<text class="b" transform="translate(1670.7 1425.7) scale(0.955 1)" font-size="20.7">si-MALAT1</text>
<text class="b" transform="translate(1705.9 1707.7) scale(0.955 1)" font-size="28.4" text-anchor="middle">Y79</text>
<text class="b" transform="translate(1905.9 1707.7) scale(0.955 1)" font-size="28.4" text-anchor="middle">WERI-Rb-1</text>
</g>
<g>
<text class="b" transform="translate(551 2011.5) rotate(-90) scale(0.955 1)" font-size="27.8" text-anchor="middle">Relative protein expression</text>
<line x1="588.4" y1="1859.6" x2="588.4" y2="2112.8" stroke="#000" stroke-width="2.7"/>
<line x1="580.9" y1="1860.9" x2="588.4" y2="1860.9" stroke="#000" stroke-width="2.7"/>
<text class="b" x="578.3" y="1869.3" font-size="24" text-anchor="end">4</text>
<line x1="580.9" y1="1985.7" x2="588.4" y2="1985.7" stroke="#000" stroke-width="2.7"/>
<text class="b" x="578.3" y="1994.1" font-size="24" text-anchor="end">2</text>
<line x1="580.9" y1="2111.4" x2="588.4" y2="2111.4" stroke="#000" stroke-width="2.7"/>
<text class="b" x="578.3" y="2119.8" font-size="24" text-anchor="end">0</text>
<rect x="605.4" y="2048.6" width="32.1" height="64.2" fill="#fff"/>
<path d="M605.4 2112.8V2048.6H637.5V2112.8" fill="none" stroke="#000" stroke-width="3.7"/>
<line x1="621.5" y1="2048.7" x2="621.5" y2="2042.9" stroke="#000" stroke-width="2.4"/>
<line x1="613" y1="2042.9" x2="630" y2="2042.9" stroke="#000" stroke-width="2.4"/>
<rect x="654" y="1914.5" width="32" height="198.2" fill="#fff"/>
<rect x="654" y="1914.5" width="32" height="198.2" fill="url(#hat)"/>
<path d="M654 2112.8V1914.5H686V2112.8" fill="none" stroke="#000" stroke-width="3.7"/>
<line x1="670" y1="1914.7" x2="670" y2="1900.6" stroke="#000" stroke-width="2.4"/>
<line x1="661.5" y1="1900.6" x2="678.5" y2="1900.6" stroke="#000" stroke-width="2.4"/>
<rect x="735.4" y="2047.1" width="32.1" height="65.6" fill="#fff"/>
<path d="M735.4 2112.8V2047.1H767.5V2112.8" fill="none" stroke="#000" stroke-width="3.7"/>
<line x1="751.5" y1="2047.3" x2="751.5" y2="2040.9" stroke="#000" stroke-width="2.4"/>
<line x1="743" y1="2040.9" x2="760" y2="2040.9" stroke="#000" stroke-width="2.4"/>
<rect x="784" y="2093.8" width="32" height="19" fill="#fff"/>
<rect x="784" y="2093.8" width="32" height="19" fill="url(#hat)"/>
<path d="M784 2112.8V2093.8H816V2112.8" fill="none" stroke="#000" stroke-width="3.7"/>
<line x1="800" y1="2093.9" x2="800" y2="2092" stroke="#000" stroke-width="2.4"/>
<line x1="791.5" y1="2092" x2="808.5" y2="2092" stroke="#000" stroke-width="2.4"/>
<rect x="866" y="2048.6" width="31.5" height="64.2" fill="#fff"/>
<path d="M866 2112.8V2048.6H897.5V2112.8" fill="none" stroke="#000" stroke-width="3.7"/>
<line x1="881.8" y1="2048.7" x2="881.8" y2="2042.3" stroke="#000" stroke-width="2.4"/>
<line x1="873.2" y1="2042.3" x2="890.2" y2="2042.3" stroke="#000" stroke-width="2.4"/>
<rect x="914" y="2087.9" width="32" height="24.8" fill="#fff"/>
<rect x="914" y="2087.9" width="32" height="24.8" fill="url(#hat)"/>
<path d="M914 2112.8V2087.9H946V2112.8" fill="none" stroke="#000" stroke-width="3.7"/>
<line x1="930" y1="2088.1" x2="930" y2="2086" stroke="#000" stroke-width="2.4"/>
<line x1="921.5" y1="2086" x2="938.5" y2="2086" stroke="#000" stroke-width="2.4"/>
<line x1="582" y1="2111.4" x2="965.7" y2="2111.4" stroke="#000" stroke-width="2.7"/>
<text class="b" transform="translate(664.6 1904.2) scale(0.955 1)" font-size="36.8">*</text>
<text class="b" transform="translate(794.6 2099.4) scale(0.955 1)" font-size="36.8">*</text>
<text class="b" transform="translate(922.6 2092.2) scale(0.955 1)" font-size="36.8">*</text>
<rect x="605.9" y="1814.8" width="26.7" height="13.1" fill="#fff"/>
<rect x="605.9" y="1814.8" width="26.7" height="13.1" fill="#fff" stroke="#000" stroke-width="3.5"/>
<rect x="605.9" y="1841" width="26.7" height="13.1" fill="#fff"/>
<rect x="605.9" y="1841" width="26.7" height="13.1" fill="url(#hatl)" stroke="#000" stroke-width="3.5"/>
<text class="b" transform="translate(648 1827.7) scale(0.955 1)" font-size="20.7">si-con</text>
<text class="b" transform="translate(648 1854.3) scale(0.955 1)" font-size="20.7">si-MALAT1</text>
<text class="b" transform="translate(771.4 1800.9) scale(0.955 1)" font-size="27.3" text-anchor="middle">Y79</text>
<text class="b" transform="translate(656 2130) rotate(-45) scale(0.955 1)" font-size="29.2" text-anchor="end">E-cadherin</text>
<text class="b" transform="translate(786 2130) rotate(-45) scale(0.955 1)" font-size="29.2" text-anchor="end">N-cadherin</text>
<text class="b" transform="translate(916 2130) rotate(-45) scale(0.955 1)" font-size="29.2" text-anchor="end">Vimentin</text>
</g>
<g>
<text class="b" transform="translate(1557.8 2013.5) rotate(-90) scale(0.955 1)" font-size="27.7" text-anchor="middle">Relative protein expression</text>
<line x1="1594.3" y1="1861.6" x2="1594.3" y2="2114.8" stroke="#000" stroke-width="2.7"/>
<line x1="1586.8" y1="1862.9" x2="1594.3" y2="1862.9" stroke="#000" stroke-width="2.7"/>
<text class="b" x="1584.2" y="1871.3" font-size="24" text-anchor="end">4</text>
<line x1="1586.8" y1="1925.7" x2="1594.3" y2="1925.7" stroke="#000" stroke-width="2.7"/>
<text class="b" x="1584.2" y="1934.1" font-size="24" text-anchor="end">3</text>
<line x1="1586.8" y1="1988" x2="1594.3" y2="1988" stroke="#000" stroke-width="2.7"/>
<text class="b" x="1584.2" y="1996.4" font-size="24" text-anchor="end">2</text>
<line x1="1586.8" y1="2050.9" x2="1594.3" y2="2050.9" stroke="#000" stroke-width="2.7"/>
<text class="b" x="1584.2" y="2059.3" font-size="24" text-anchor="end">1</text>
<line x1="1586.8" y1="2113.4" x2="1594.3" y2="2113.4" stroke="#000" stroke-width="2.7"/>
<text class="b" x="1584.2" y="2121.8" font-size="24" text-anchor="end">0</text>
<rect x="1611.8" y="2049.9" width="31.5" height="64.8" fill="#fff"/>
<path d="M1611.8 2114.8V2049.9H1643.3V2114.8" fill="none" stroke="#000" stroke-width="3.7"/>
<line x1="1627.6" y1="2050.1" x2="1627.6" y2="2043.7" stroke="#000" stroke-width="2.4"/>
<line x1="1619.1" y1="2043.7" x2="1636.1" y2="2043.7" stroke="#000" stroke-width="2.4"/>
<rect x="1660.3" y="1939.9" width="32.1" height="174.8" fill="#fff"/>
<rect x="1660.3" y="1939.9" width="32.1" height="174.8" fill="url(#hat)"/>
<path d="M1660.3 2114.8V1939.9H1692.5V2114.8" fill="none" stroke="#000" stroke-width="3.7"/>
<line x1="1676.4" y1="1940.1" x2="1676.4" y2="1927.1" stroke="#000" stroke-width="2.4"/>
<line x1="1667.9" y1="1927.1" x2="1684.9" y2="1927.1" stroke="#000" stroke-width="2.4"/>
<rect x="1742" y="2051.4" width="31.2" height="63.3" fill="#fff"/>
<path d="M1742 2114.8V2051.4H1773.3V2114.8" fill="none" stroke="#000" stroke-width="3.7"/>
<line x1="1757.7" y1="2051.6" x2="1757.7" y2="2045.1" stroke="#000" stroke-width="2.4"/>
<line x1="1749.2" y1="2045.1" x2="1766.2" y2="2045.1" stroke="#000" stroke-width="2.4"/>
<rect x="1790.6" y="2089.9" width="32.1" height="24.8" fill="#fff"/>
<rect x="1790.6" y="2089.9" width="32.1" height="24.8" fill="url(#hat)"/>
<path d="M1790.6 2114.8V2089.9H1822.8V2114.8" fill="none" stroke="#000" stroke-width="3.7"/>
<line x1="1806.8" y1="2090.1" x2="1806.8" y2="2088" stroke="#000" stroke-width="2.4"/>
<line x1="1798.2" y1="2088" x2="1815.2" y2="2088" stroke="#000" stroke-width="2.4"/>
<rect x="1872.6" y="2049.4" width="31.5" height="65.3" fill="#fff"/>
<path d="M1872.6 2114.8V2049.4H1904.2V2114.8" fill="none" stroke="#000" stroke-width="3.7"/>
<line x1="1888.4" y1="2049.6" x2="1888.4" y2="2043.4" stroke="#000" stroke-width="2.4"/>
<line x1="1879.9" y1="2043.4" x2="1896.9" y2="2043.4" stroke="#000" stroke-width="2.4"/>
<rect x="1921.1" y="2086.5" width="31.6" height="28.2" fill="#fff"/>
<rect x="1921.1" y="2086.5" width="31.6" height="28.2" fill="url(#hat)"/>
<path d="M1921.1 2114.8V2086.5H1952.8V2114.8" fill="none" stroke="#000" stroke-width="3.7"/>
<line x1="1937" y1="2086.7" x2="1937" y2="2084.5" stroke="#000" stroke-width="2.4"/>
<line x1="1928.5" y1="2084.5" x2="1945.5" y2="2084.5" stroke="#000" stroke-width="2.4"/>
<line x1="1587.9" y1="2113.4" x2="1971.6" y2="2113.4" stroke="#000" stroke-width="2.7"/>
<text class="b" transform="translate(1669.6 1931.9) scale(0.955 1)" font-size="36.8">*</text>
<text class="b" transform="translate(1799.9 2090.8) scale(0.955 1)" font-size="36.8">*</text>
<text class="b" transform="translate(1930.5 2087.1) scale(0.955 1)" font-size="36.8">*</text>
<rect x="1612.6" y="1816.1" width="26.4" height="13.1" fill="#fff"/>
<rect x="1612.6" y="1816.1" width="26.4" height="13.1" fill="#fff" stroke="#000" stroke-width="3.5"/>
<rect x="1612.6" y="1842.5" width="26.4" height="13.1" fill="#fff"/>
<rect x="1612.6" y="1842.5" width="26.4" height="13.1" fill="url(#hatl)" stroke="#000" stroke-width="3.5"/>
<text class="b" transform="translate(1654.4 1828.6) scale(0.955 1)" font-size="20.7">si-con</text>
<text class="b" transform="translate(1654.4 1855.1) scale(0.955 1)" font-size="20.7">si-MALAT1</text>
<text class="b" transform="translate(1808.1 1805.7) scale(0.955 1)" font-size="27.3" text-anchor="middle">WERI-Rb-1</text>
<text class="b" transform="translate(1662 2131) rotate(-45) scale(0.955 1)" font-size="29.2" text-anchor="end">E-cadherin</text>
<text class="b" transform="translate(1792 2131) rotate(-45) scale(0.955 1)" font-size="29.2" text-anchor="end">N-cadherin</text>
<text class="b" transform="translate(1922 2131) rotate(-45) scale(0.955 1)" font-size="29.2" text-anchor="end">Vimentin</text>
</g>
</svg>
</body></html>
